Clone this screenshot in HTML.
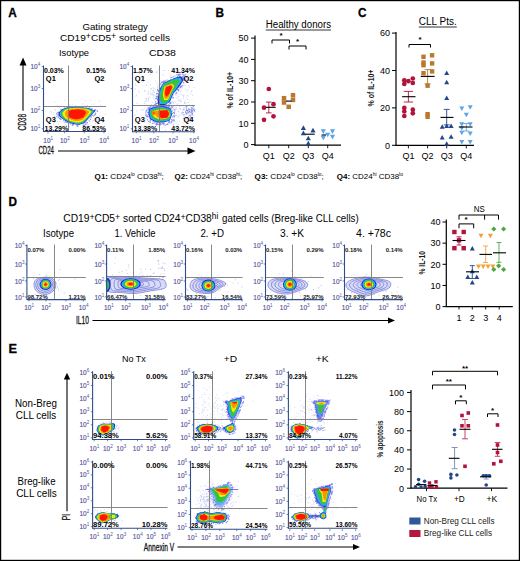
<!DOCTYPE html>
<html><head><meta charset="utf-8"><style>
html,body{margin:0;padding:0;background:#fff;width:520px;height:561px;overflow:hidden}
svg{display:block;font-family:"Liberation Sans",sans-serif}
</style></head><body>
<svg width="520" height="561" viewBox="0 0 520 561">
<defs><filter id="bl" x="-20%" y="-20%" width="140%" height="140%"><feGaussianBlur stdDeviation="0.55"/></filter></defs>
<rect width="520" height="561" fill="#fff"/>
<rect x="0.6" y="0.6" width="518.8" height="559.8" fill="none" stroke="#000" stroke-width="1.2"/>
<text x="8.20" y="16.50" font-size="12.3" fill="#000" font-weight="bold" textLength="8.50" lengthAdjust="spacingAndGlyphs" stroke="#000" stroke-width="0.3">A</text>
<text x="215.50" y="16.50" font-size="12.3" fill="#000" font-weight="bold" textLength="8.50" lengthAdjust="spacingAndGlyphs" stroke="#000" stroke-width="0.3">B</text>
<text x="358.00" y="16.50" font-size="12.3" fill="#000" font-weight="bold" textLength="8.50" lengthAdjust="spacingAndGlyphs" stroke="#000" stroke-width="0.3">C</text>
<text x="8.50" y="206.20" font-size="12.3" fill="#000" font-weight="bold" textLength="8.50" lengthAdjust="spacingAndGlyphs" stroke="#000" stroke-width="0.3">D</text>
<text x="8.50" y="352.60" font-size="12.3" fill="#000" font-weight="bold" textLength="8.50" lengthAdjust="spacingAndGlyphs" stroke="#000" stroke-width="0.3">E</text>
<text x="115.20" y="29.50" font-size="9.8" fill="#000" text-anchor="middle" textLength="65.50" lengthAdjust="spacingAndGlyphs">Gating strategy</text>
<text x="115" y="41.2" font-size="9.8" text-anchor="middle" textLength="110" lengthAdjust="spacingAndGlyphs">CD19<tspan font-size="8.6" dy="-2.6">+</tspan><tspan dy="2.6">CD5</tspan><tspan font-size="8.6" dy="-2.6">+</tspan><tspan dy="2.6"> sorted cells</tspan></text>
<text x="59.00" y="56.40" font-size="9.8" fill="#000" textLength="30.00" lengthAdjust="spacingAndGlyphs">Isotype</text>
<text x="149.00" y="56.40" font-size="9.8" fill="#000" textLength="27.00" lengthAdjust="spacingAndGlyphs">CD38</text>
<text x="34.10" y="69.00" font-size="7" fill="#55559a" stroke="#55559a" stroke-width="0.15" text-anchor="middle" textLength="7.2" lengthAdjust="spacingAndGlyphs">10</text><text x="37.80" y="66.00" font-size="4.6" fill="#55559a">4</text>
<text x="34.10" y="91.00" font-size="7" fill="#55559a" stroke="#55559a" stroke-width="0.15" text-anchor="middle" textLength="7.2" lengthAdjust="spacingAndGlyphs">10</text><text x="37.80" y="88.00" font-size="4.6" fill="#55559a">3</text>
<text x="34.10" y="113.00" font-size="7" fill="#55559a" stroke="#55559a" stroke-width="0.15" text-anchor="middle" textLength="7.2" lengthAdjust="spacingAndGlyphs">10</text><text x="37.80" y="110.00" font-size="4.6" fill="#55559a">2</text>
<text x="34.10" y="131.30" font-size="7" fill="#55559a" stroke="#55559a" stroke-width="0.15" text-anchor="middle" textLength="7.2" lengthAdjust="spacingAndGlyphs">10</text><text x="37.80" y="128.30" font-size="4.6" fill="#55559a">1</text>
<text x="46.90" y="142.70" font-size="7" fill="#55559a" stroke="#55559a" stroke-width="0.15" text-anchor="middle" textLength="7.2" lengthAdjust="spacingAndGlyphs">10</text><text x="50.60" y="139.70" font-size="4.6" fill="#55559a">1</text>
<text x="63.60" y="142.70" font-size="7" fill="#55559a" stroke="#55559a" stroke-width="0.15" text-anchor="middle" textLength="7.2" lengthAdjust="spacingAndGlyphs">10</text><text x="67.30" y="139.70" font-size="4.6" fill="#55559a">2</text>
<text x="83.20" y="142.70" font-size="7" fill="#55559a" stroke="#55559a" stroke-width="0.15" text-anchor="middle" textLength="7.2" lengthAdjust="spacingAndGlyphs">10</text><text x="86.90" y="139.70" font-size="4.6" fill="#55559a">3</text>
<text x="102.90" y="142.70" font-size="7" fill="#55559a" stroke="#55559a" stroke-width="0.15" text-anchor="middle" textLength="7.2" lengthAdjust="spacingAndGlyphs">10</text><text x="106.60" y="139.70" font-size="4.6" fill="#55559a">4</text>
<path d="M41.7 66.5H43.5M41.7 88.5H43.5M41.7 110.5H43.5M41.7 128.8H43.5M48.0 131.5V133.3M64.7 131.5V133.3M84.3 131.5V133.3M104.0 131.5V133.3" stroke="#2e4d8c" stroke-width="0.7" fill="none"/>
<path d="M73.9 119.1h.9v.9h-.9zM74.3 114.1h.9v.9h-.9zM65.8 114.7h.9v.9h-.9zM90.3 118.5h.9v.9h-.9zM89.4 117.5h.9v.9h-.9zM81.7 117.1h.9v.9h-.9zM57.0 121.1h.9v.9h-.9zM83.1 119.0h.9v.9h-.9zM56.7 105.5h.9v.9h-.9zM66.3 113.2h.9v.9h-.9zM80.7 115.7h.9v.9h-.9zM83.3 112.1h.9v.9h-.9zM80.7 118.4h.9v.9h-.9zM69.1 126.3h.9v.9h-.9zM83.7 123.2h.9v.9h-.9zM69.6 111.6h.9v.9h-.9zM72.9 115.4h.9v.9h-.9zM84.6 117.5h.9v.9h-.9zM71.6 110.3h.9v.9h-.9zM70.8 123.3h.9v.9h-.9zM67.3 117.5h.9v.9h-.9zM82.1 107.1h.9v.9h-.9zM77.6 123.8h.9v.9h-.9zM52.8 114.1h.9v.9h-.9zM75.7 111.1h.9v.9h-.9zM83.0 115.6h.9v.9h-.9zM59.4 121.0h.9v.9h-.9zM85.0 121.7h.9v.9h-.9zM94.3 118.2h.9v.9h-.9zM78.4 108.2h.9v.9h-.9zM84.4 112.3h.9v.9h-.9zM71.6 108.4h.9v.9h-.9zM65.4 112.8h.9v.9h-.9zM92.5 103.8h.9v.9h-.9zM59.5 117.4h.9v.9h-.9zM94.3 119.5h.9v.9h-.9zM54.2 100.9h.9v.9h-.9zM81.3 111.6h.9v.9h-.9zM63.6 121.9h.9v.9h-.9zM90.2 116.9h.9v.9h-.9zM79.9 118.6h.9v.9h-.9zM96.1 119.7h.9v.9h-.9zM83.2 119.3h.9v.9h-.9zM58.2 123.7h.9v.9h-.9zM88.5 119.2h.9v.9h-.9zM53.3 112.2h.9v.9h-.9zM87.1 105.1h.9v.9h-.9zM74.8 122.1h.9v.9h-.9zM61.3 125.7h.9v.9h-.9zM83.6 115.1h.9v.9h-.9zM80.9 119.9h.9v.9h-.9zM78.4 122.9h.9v.9h-.9zM69.1 113.5h.9v.9h-.9zM89.5 116.2h.9v.9h-.9zM66.4 121.7h.9v.9h-.9zM94.6 113.3h.9v.9h-.9zM60.4 115.2h.9v.9h-.9zM75.2 114.2h.9v.9h-.9zM93.9 109.8h.9v.9h-.9zM92.1 108.4h.9v.9h-.9zM67.6 119.8h.9v.9h-.9zM90.5 121.2h.9v.9h-.9zM81.1 116.9h.9v.9h-.9zM78.8 119.5h.9v.9h-.9zM74.9 117.7h.9v.9h-.9zM83.9 116.0h.9v.9h-.9zM86.2 119.4h.9v.9h-.9zM101.1 117.9h.9v.9h-.9zM71.9 113.8h.9v.9h-.9zM76.8 121.5h.9v.9h-.9zM73.0 118.3h.9v.9h-.9zM99.0 100.6h.9v.9h-.9zM63.5 117.5h.9v.9h-.9zM81.8 117.4h.9v.9h-.9zM71.8 119.9h.9v.9h-.9zM80.4 112.9h.9v.9h-.9zM70.3 115.4h.9v.9h-.9zM74.3 115.6h.9v.9h-.9zM89.1 109.0h.9v.9h-.9zM76.2 121.7h.9v.9h-.9zM87.3 124.9h.9v.9h-.9zM56.6 113.9h.9v.9h-.9zM72.9 119.7h.9v.9h-.9zM90.1 99.9h.9v.9h-.9zM90.1 107.3h.9v.9h-.9zM85.2 107.0h.9v.9h-.9zM79.1 123.2h.9v.9h-.9zM75.2 117.1h.9v.9h-.9zM86.6 116.8h.9v.9h-.9zM75.9 125.2h.9v.9h-.9zM89.6 114.2h.9v.9h-.9zM88.0 114.4h.9v.9h-.9zM78.6 120.2h.9v.9h-.9zM79.7 119.8h.9v.9h-.9zM58.7 106.9h.9v.9h-.9zM84.4 110.2h.9v.9h-.9zM64.7 107.2h.9v.9h-.9zM92.2 120.5h.9v.9h-.9zM94.7 110.4h.9v.9h-.9zM77.0 109.2h.9v.9h-.9zM86.2 125.5h.9v.9h-.9zM66.3 125.4h.9v.9h-.9zM88.9 114.9h.9v.9h-.9zM53.3 124.4h.9v.9h-.9zM75.8 112.4h.9v.9h-.9zM81.8 118.5h.9v.9h-.9zM95.0 109.9h.9v.9h-.9zM90.6 124.9h.9v.9h-.9zM94.4 114.9h.9v.9h-.9zM68.1 122.1h.9v.9h-.9zM78.4 116.7h.9v.9h-.9zM94.1 114.4h.9v.9h-.9zM49.4 113.7h.9v.9h-.9zM54.8 120.9h.9v.9h-.9zM80.8 112.3h.9v.9h-.9zM76.9 121.0h.9v.9h-.9zM77.9 124.0h.9v.9h-.9zM76.3 122.2h.9v.9h-.9zM94.9 125.7h.9v.9h-.9zM68.9 121.3h.9v.9h-.9zM54.5 109.5h.9v.9h-.9zM53.4 122.4h.9v.9h-.9zM62.2 115.9h.9v.9h-.9zM74.7 115.8h.9v.9h-.9zM69.9 117.4h.9v.9h-.9zM98.5 116.3h.9v.9h-.9zM83.4 122.0h.9v.9h-.9zM74.6 108.4h.9v.9h-.9zM70.3 122.4h.9v.9h-.9zM57.2 112.4h.9v.9h-.9zM89.1 120.8h.9v.9h-.9zM77.1 120.8h.9v.9h-.9zM79.0 108.9h.9v.9h-.9zM58.2 112.2h.9v.9h-.9zM88.1 112.6h.9v.9h-.9zM66.2 111.4h.9v.9h-.9zM58.6 115.3h.9v.9h-.9zM62.8 118.2h.9v.9h-.9zM48.7 118.0h.9v.9h-.9zM69.3 104.3h.9v.9h-.9zM85.7 114.3h.9v.9h-.9zM50.2 110.7h.9v.9h-.9zM80.5 113.2h.9v.9h-.9zM86.4 120.5h.9v.9h-.9zM85.0 118.0h.9v.9h-.9zM93.0 120.0h.9v.9h-.9zM82.4 103.5h.9v.9h-.9zM87.8 123.9h.9v.9h-.9zM73.4 113.2h.9v.9h-.9zM100.3 105.5h.9v.9h-.9zM65.9 120.1h.9v.9h-.9zM99.6 115.3h.9v.9h-.9zM83.7 121.4h.9v.9h-.9zM66.1 115.5h.9v.9h-.9zM80.5 121.0h.9v.9h-.9zM76.6 114.8h.9v.9h-.9zM64.8 113.8h.9v.9h-.9zM87.7 116.6h.9v.9h-.9zM66.8 111.0h.9v.9h-.9zM84.6 100.4h.9v.9h-.9zM84.5 118.9h.9v.9h-.9zM97.2 118.6h.9v.9h-.9zM76.2 119.1h.9v.9h-.9zM53.7 122.2h.9v.9h-.9zM80.9 111.8h.9v.9h-.9zM92.9 126.9h.9v.9h-.9zM60.2 112.0h.9v.9h-.9zM80.5 117.1h.9v.9h-.9zM72.2 110.2h.9v.9h-.9zM102.4 122.2h.9v.9h-.9zM62.7 107.9h.9v.9h-.9zM97.4 121.9h.9v.9h-.9zM98.9 120.9h.9v.9h-.9zM66.5 117.6h.9v.9h-.9zM51.1 111.5h.9v.9h-.9zM76.3 119.1h.9v.9h-.9zM68.3 115.3h.9v.9h-.9zM82.5 118.3h.9v.9h-.9zM84.7 117.3h.9v.9h-.9zM73.1 120.7h.9v.9h-.9zM77.6 111.0h.9v.9h-.9zM69.5 116.0h.9v.9h-.9zM75.7 116.9h.9v.9h-.9zM77.0 117.1h.9v.9h-.9zM75.4 108.4h.9v.9h-.9zM82.1 122.3h.9v.9h-.9zM82.2 114.9h.9v.9h-.9zM82.4 110.2h.9v.9h-.9zM54.2 116.4h.9v.9h-.9zM65.8 120.4h.9v.9h-.9zM64.0 100.2h.9v.9h-.9zM64.5 125.5h.9v.9h-.9zM72.4 107.8h.9v.9h-.9zM67.8 119.1h.9v.9h-.9zM83.0 117.1h.9v.9h-.9zM94.8 120.2h.9v.9h-.9zM76.7 119.6h.9v.9h-.9zM96.9 121.8h.9v.9h-.9zM89.3 109.5h.9v.9h-.9zM75.2 120.4h.9v.9h-.9zM73.4 122.4h.9v.9h-.9zM84.2 121.4h.9v.9h-.9zM91.9 114.7h.9v.9h-.9zM72.9 121.2h.9v.9h-.9zM88.8 116.0h.9v.9h-.9zM63.0 117.1h.9v.9h-.9zM81.3 122.8h.9v.9h-.9zM86.4 116.1h.9v.9h-.9zM87.2 119.2h.9v.9h-.9zM79.5 116.3h.9v.9h-.9zM74.1 120.1h.9v.9h-.9zM64.3 112.2h.9v.9h-.9zM77.1 107.2h.9v.9h-.9zM71.8 103.9h.9v.9h-.9zM68.8 119.4h.9v.9h-.9zM83.8 115.7h.9v.9h-.9zM74.2 107.5h.9v.9h-.9zM98.9 119.1h.9v.9h-.9zM90.1 110.7h.9v.9h-.9zM74.8 105.1h.9v.9h-.9zM86.4 121.6h.9v.9h-.9zM54.2 115.7h.9v.9h-.9zM84.6 105.4h.9v.9h-.9zM55.1 109.6h.9v.9h-.9zM69.4 107.6h.9v.9h-.9zM77.4 117.5h.9v.9h-.9zM84.6 120.2h.9v.9h-.9zM95.0 123.0h.9v.9h-.9zM61.3 113.0h.9v.9h-.9zM64.3 109.5h.9v.9h-.9zM76.0 116.0h.9v.9h-.9zM82.9 106.5h.9v.9h-.9zM62.1 115.9h.9v.9h-.9zM74.6 114.1h.9v.9h-.9zM76.2 111.4h.9v.9h-.9zM85.4 118.1h.9v.9h-.9zM75.9 112.0h.9v.9h-.9zM74.9 99.7h.9v.9h-.9zM65.2 116.2h.9v.9h-.9zM59.0 117.2h.9v.9h-.9zM78.8 107.7h.9v.9h-.9zM74.0 114.1h.9v.9h-.9zM82.5 119.7h.9v.9h-.9zM76.6 110.9h.9v.9h-.9zM75.3 115.6h.9v.9h-.9zM85.8 117.8h.9v.9h-.9zM68.3 107.9h.9v.9h-.9zM72.5 111.6h.9v.9h-.9zM63.7 115.3h.9v.9h-.9zM71.1 116.6h.9v.9h-.9zM83.3 113.5h.9v.9h-.9zM104.9 114.1h.9v.9h-.9zM90.2 116.7h.9v.9h-.9z" fill="#5a6fd6" opacity="0.35"/>
<path d="M90.5 116.3h1v1h-1zM76.5 106.2h1v1h-1zM56.2 115.9h1v1h-1zM69.4 123.2h1v1h-1zM91.3 108.2h1v1h-1zM67.6 106.7h1v1h-1zM82.6 124.7h1v1h-1zM86.3 106.7h1v1h-1zM68.1 106.7h1v1h-1zM97.1 111.1h1v1h-1zM64.2 107.6h1v1h-1zM58.7 111.5h1v1h-1zM72.5 125.0h1v1h-1zM96.9 110.9h1v1h-1zM60.7 108.9h1v1h-1zM93.2 115.6h1v1h-1zM69.0 106.1h1v1h-1zM84.1 124.9h1v1h-1zM65.4 121.5h1v1h-1zM58.6 113.9h1v1h-1zM95.2 112.5h1v1h-1zM96.6 110.0h1v1h-1zM58.2 115.5h1v1h-1zM71.7 124.8h1v1h-1zM95.1 109.5h1v1h-1zM88.9 107.3h1v1h-1zM64.4 121.4h1v1h-1zM66.5 107.0h1v1h-1zM67.2 107.4h1v1h-1zM57.8 111.8h1v1h-1zM61.1 109.6h1v1h-1zM95.1 113.4h1v1h-1zM92.5 115.0h1v1h-1zM67.0 121.9h1v1h-1zM56.6 112.5h1v1h-1zM63.0 120.2h1v1h-1zM73.1 124.1h1v1h-1zM83.0 124.6h1v1h-1zM59.8 118.6h1v1h-1zM64.4 108.3h1v1h-1zM76.4 106.8h1v1h-1zM95.0 113.8h1v1h-1zM91.3 108.1h1v1h-1zM77.5 106.5h1v1h-1zM82.8 107.4h1v1h-1zM86.9 121.9h1v1h-1zM77.6 106.8h1v1h-1zM86.8 122.6h1v1h-1zM76.7 125.6h1v1h-1zM94.5 109.1h1v1h-1zM90.3 108.7h1v1h-1zM77.2 124.8h1v1h-1zM84.6 124.3h1v1h-1zM56.2 113.1h1v1h-1zM60.1 119.0h1v1h-1zM57.9 116.7h1v1h-1zM65.6 107.9h1v1h-1zM85.3 123.3h1v1h-1zM96.6 110.2h1v1h-1zM85.4 123.5h1v1h-1zM58.9 118.0h1v1h-1zM60.6 110.0h1v1h-1zM57.4 114.3h1v1h-1zM56.3 115.9h1v1h-1zM60.7 118.9h1v1h-1zM85.4 122.1h1v1h-1zM72.0 124.1h1v1h-1zM85.6 123.2h1v1h-1zM62.6 108.9h1v1h-1zM60.6 110.0h1v1h-1zM72.4 106.4h1v1h-1zM94.2 114.6h1v1h-1zM88.6 120.3h1v1h-1zM76.7 126.0h1v1h-1zM57.7 117.0h1v1h-1zM60.3 117.6h1v1h-1zM90.9 116.5h1v1h-1zM71.0 106.9h1v1h-1zM56.7 114.4h1v1h-1zM65.5 121.1h1v1h-1zM90.1 118.9h1v1h-1zM60.4 108.7h1v1h-1zM65.9 121.8h1v1h-1zM84.2 124.3h1v1h-1zM76.8 106.9h1v1h-1zM70.3 123.6h1v1h-1zM77.4 126.0h1v1h-1zM58.2 111.9h1v1h-1zM88.1 107.8h1v1h-1zM83.0 125.1h1v1h-1z" fill="#2a3ad8" opacity="0.55"/>
<g filter="url(#bl)"><path d="M58.70 112.50C59.00 111.83 59.90 111.43 60.50 110.89C61.10 110.35 61.62 109.68 62.30 109.28C62.97 108.89 63.79 108.75 64.56 108.52C65.32 108.28 66.11 108.08 66.88 107.86C67.65 107.64 68.41 107.32 69.20 107.20C69.99 107.08 70.81 107.15 71.61 107.12C72.42 107.10 73.22 107.07 74.03 107.05C74.83 107.02 75.63 107.00 76.44 106.97C77.24 106.95 78.05 106.86 78.85 106.91C79.65 106.95 80.44 107.12 81.24 107.23C82.04 107.33 82.84 107.44 83.63 107.55C84.43 107.65 85.23 107.76 86.02 107.87C86.82 107.98 87.64 108.00 88.42 108.19C89.19 108.37 89.93 108.72 90.69 108.99C91.45 109.25 92.22 109.52 92.96 109.80C93.71 110.07 95.05 110.17 95.18 110.63C95.30 111.09 94.20 111.91 93.71 112.55C93.22 113.19 92.77 113.85 92.24 114.46C91.72 115.07 91.12 115.61 90.56 116.19C90.00 116.76 89.43 117.33 88.87 117.92C88.32 118.50 87.78 119.10 87.24 119.69C86.70 120.29 86.16 120.88 85.62 121.48C85.08 122.08 84.64 122.84 84.00 123.27C83.36 123.70 82.55 123.83 81.79 124.06C81.03 124.29 80.23 124.50 79.44 124.63C78.66 124.75 77.88 124.87 77.10 124.80C76.32 124.74 75.54 124.42 74.76 124.22C73.98 124.03 73.19 123.84 72.41 123.65C71.63 123.45 70.83 123.32 70.08 123.04C69.33 122.76 68.64 122.32 67.92 121.96C67.20 121.60 66.47 121.26 65.76 120.88C65.06 120.50 64.36 120.11 63.69 119.67C63.02 119.22 62.41 118.70 61.76 118.21C61.12 117.73 60.35 117.31 59.84 116.76C59.33 116.21 58.89 115.62 58.70 114.91C58.51 114.20 58.40 113.17 58.70 112.50Z" fill="#1f22d8"/><path d="M59.77 112.53C60.05 111.89 60.88 111.49 61.43 110.97C61.98 110.45 62.45 109.79 63.09 109.41C63.72 109.04 64.51 108.93 65.24 108.71C65.96 108.49 66.71 108.30 67.44 108.10C68.18 107.90 68.90 107.61 69.64 107.50C70.39 107.38 71.17 107.44 71.93 107.41C72.69 107.39 73.45 107.36 74.21 107.33C74.98 107.30 75.74 107.27 76.50 107.25C77.26 107.22 78.03 107.14 78.78 107.18C79.54 107.22 80.29 107.39 81.05 107.49C81.81 107.59 82.56 107.69 83.32 107.79C84.07 107.90 84.83 108.00 85.58 108.10C86.34 108.20 87.11 108.23 87.85 108.41C88.59 108.58 89.30 108.88 90.01 109.14C90.72 109.40 91.42 109.69 92.11 109.97C92.80 110.25 94.01 110.37 94.14 110.82C94.26 111.27 93.29 112.05 92.84 112.66C92.40 113.27 91.95 113.90 91.46 114.47C90.96 115.05 90.41 115.58 89.88 116.13C89.35 116.68 88.82 117.23 88.30 117.78C87.78 118.34 87.28 118.91 86.76 119.46C86.24 120.01 85.71 120.55 85.19 121.09C84.67 121.64 84.23 122.33 83.62 122.73C83.01 123.12 82.24 123.25 81.52 123.47C80.80 123.68 80.03 123.88 79.29 124.00C78.55 124.12 77.81 124.24 77.07 124.18C76.33 124.13 75.59 123.85 74.85 123.67C74.11 123.50 73.37 123.31 72.63 123.12C71.89 122.94 71.13 122.81 70.42 122.55C69.71 122.29 69.05 121.88 68.36 121.55C67.68 121.22 66.98 120.91 66.31 120.55C65.64 120.20 64.96 119.85 64.34 119.42C63.72 119.00 63.16 118.47 62.58 118.00C61.99 117.53 61.28 117.11 60.81 116.58C60.34 116.05 59.93 115.48 59.76 114.81C59.59 114.13 59.50 113.17 59.77 112.53Z" fill="#1fb7f0"/><path d="M61.06 112.56C61.32 111.96 62.05 111.56 62.55 111.07C63.05 110.57 63.45 109.93 64.04 109.57C64.62 109.22 65.37 109.14 66.05 108.94C66.73 108.75 67.43 108.58 68.11 108.40C68.80 108.21 69.48 107.96 70.18 107.85C70.87 107.74 71.60 107.79 72.31 107.76C73.02 107.73 73.73 107.70 74.44 107.67C75.15 107.64 75.86 107.60 76.57 107.58C77.28 107.55 78.00 107.47 78.70 107.51C79.41 107.55 80.12 107.70 80.82 107.80C81.53 107.90 82.23 107.99 82.94 108.09C83.64 108.19 84.35 108.28 85.05 108.38C85.76 108.48 86.48 108.51 87.17 108.67C87.86 108.83 88.54 109.08 89.19 109.33C89.84 109.58 90.46 109.88 91.08 110.17C91.70 110.46 92.77 110.62 92.89 111.06C93.01 111.49 92.19 112.21 91.80 112.79C91.40 113.36 90.97 113.95 90.52 114.49C90.06 115.04 89.55 115.53 89.07 116.06C88.58 116.58 88.10 117.10 87.62 117.62C87.14 118.14 86.67 118.68 86.18 119.18C85.69 119.68 85.17 120.15 84.67 120.63C84.17 121.11 83.74 121.73 83.16 122.08C82.58 122.43 81.86 122.56 81.19 122.75C80.51 122.95 79.80 123.14 79.11 123.25C78.42 123.36 77.73 123.48 77.04 123.44C76.34 123.40 75.65 123.17 74.96 123.01C74.27 122.86 73.58 122.67 72.89 122.50C72.20 122.32 71.49 122.20 70.82 121.96C70.16 121.72 69.54 121.36 68.90 121.06C68.25 120.76 67.60 120.47 66.97 120.15C66.34 119.83 65.69 119.53 65.12 119.13C64.55 118.73 64.07 118.21 63.55 117.75C63.03 117.29 62.40 116.88 61.98 116.37C61.56 115.86 61.18 115.32 61.03 114.68C60.88 114.05 60.81 113.16 61.06 112.56Z" fill="#37c23a"/><path d="M62.57 112.60C62.79 112.04 63.43 111.65 63.86 111.18C64.28 110.70 64.62 110.08 65.14 109.76C65.67 109.43 66.37 109.38 67.00 109.21C67.63 109.04 68.27 108.90 68.90 108.74C69.53 108.58 70.15 108.36 70.79 108.26C71.44 108.17 72.10 108.20 72.75 108.16C73.40 108.13 74.05 108.09 74.70 108.06C75.36 108.03 76.01 107.99 76.66 107.96C77.31 107.93 77.96 107.86 78.61 107.89C79.26 107.93 79.91 108.07 80.55 108.16C81.20 108.25 81.85 108.35 82.49 108.44C83.14 108.53 83.79 108.62 84.43 108.71C85.08 108.80 85.74 108.84 86.37 108.98C87.01 109.12 87.65 109.32 88.24 109.55C88.82 109.79 89.35 110.11 89.88 110.40C90.41 110.70 91.32 110.90 91.43 111.33C91.55 111.75 90.92 112.41 90.58 112.94C90.25 113.47 89.83 114.01 89.42 114.51C89.01 115.02 88.55 115.49 88.12 115.97C87.69 116.46 87.25 116.95 86.82 117.43C86.38 117.91 85.97 118.41 85.51 118.85C85.05 119.30 84.55 119.68 84.07 120.09C83.59 120.50 83.17 121.02 82.63 121.32C82.08 121.63 81.43 121.75 80.81 121.92C80.19 122.10 79.54 122.26 78.90 122.37C78.27 122.48 77.63 122.60 77.00 122.58C76.36 122.55 75.73 122.38 75.09 122.24C74.46 122.11 73.82 121.93 73.19 121.77C72.56 121.61 71.91 121.49 71.30 121.28C70.68 121.06 70.11 120.75 69.51 120.48C68.92 120.22 68.31 119.97 67.73 119.69C67.15 119.41 66.53 119.16 66.03 118.78C65.52 118.41 65.13 117.90 64.69 117.45C64.24 117.01 63.71 116.61 63.35 116.12C62.99 115.64 62.65 115.13 62.52 114.54C62.39 113.95 62.35 113.16 62.57 112.60Z" fill="#f2ef10"/><path d="M65.15 112.67C65.32 112.18 65.78 111.80 66.09 111.37C66.41 110.94 66.62 110.35 67.04 110.07C67.46 109.79 68.09 109.80 68.63 109.68C69.16 109.55 69.70 109.44 70.24 109.33C70.78 109.21 71.31 109.05 71.86 108.97C72.40 108.89 72.96 108.89 73.51 108.85C74.06 108.81 74.61 108.77 75.16 108.73C75.71 108.69 76.26 108.65 76.81 108.62C77.36 108.58 77.91 108.52 78.46 108.55C79.00 108.58 79.55 108.71 80.09 108.79C80.64 108.87 81.19 108.95 81.73 109.03C82.28 109.11 82.83 109.19 83.37 109.27C83.92 109.35 84.47 109.39 85.01 109.50C85.55 109.62 86.13 109.72 86.60 109.93C87.07 110.15 87.44 110.50 87.83 110.81C88.22 111.12 88.83 111.39 88.94 111.79C89.05 112.19 88.73 112.74 88.49 113.20C88.26 113.66 87.87 114.11 87.54 114.55C87.20 114.99 86.84 115.40 86.49 115.83C86.15 116.25 85.81 116.69 85.45 117.10C85.09 117.51 84.76 117.95 84.35 118.29C83.95 118.64 83.47 118.87 83.03 119.16C82.59 119.45 82.19 119.80 81.71 120.03C81.23 120.25 80.68 120.35 80.15 120.49C79.62 120.63 79.08 120.77 78.54 120.87C78.00 120.97 77.46 121.08 76.93 121.09C76.39 121.10 75.85 121.02 75.32 120.92C74.78 120.83 74.25 120.65 73.71 120.52C73.18 120.38 72.63 120.27 72.11 120.10C71.59 119.93 71.09 119.70 70.58 119.50C70.07 119.30 69.54 119.11 69.04 118.89C68.55 118.68 67.98 118.52 67.58 118.20C67.18 117.87 66.95 117.36 66.64 116.95C66.32 116.53 65.95 116.14 65.69 115.70C65.43 115.25 65.15 114.80 65.06 114.29C64.97 113.79 64.98 113.15 65.15 112.67Z" fill="#ff9200"/><path d="M68.37 112.75C68.48 112.35 68.72 111.99 68.89 111.61C69.06 111.23 69.11 110.69 69.41 110.47C69.70 110.24 70.24 110.33 70.66 110.26C71.08 110.19 71.50 110.13 71.92 110.06C72.34 109.99 72.76 109.92 73.18 109.86C73.61 109.80 74.03 109.77 74.45 109.72C74.88 109.67 75.30 109.62 75.72 109.58C76.14 109.53 76.57 109.47 76.99 109.44C77.41 109.40 77.84 109.35 78.26 109.37C78.68 109.40 79.10 109.50 79.52 109.57C79.94 109.64 80.36 109.70 80.78 109.77C81.20 109.83 81.63 109.90 82.05 109.96C82.47 110.03 82.89 110.09 83.31 110.16C83.73 110.24 84.23 110.22 84.56 110.41C84.88 110.60 85.05 110.98 85.26 111.31C85.47 111.64 85.71 112.00 85.82 112.37C85.92 112.74 85.99 113.16 85.88 113.53C85.78 113.90 85.42 114.24 85.18 114.60C84.95 114.95 84.70 115.30 84.46 115.65C84.22 116.00 84.00 116.37 83.74 116.69C83.48 117.02 83.25 117.38 82.91 117.59C82.58 117.81 82.13 117.86 81.74 118.00C81.35 118.13 80.97 118.29 80.57 118.40C80.16 118.52 79.75 118.61 79.33 118.71C78.92 118.81 78.50 118.90 78.09 118.99C77.67 119.08 77.26 119.19 76.84 119.24C76.43 119.28 76.01 119.32 75.60 119.27C75.18 119.22 74.77 119.06 74.36 118.95C73.95 118.85 73.53 118.75 73.12 118.63C72.71 118.52 72.31 118.39 71.90 118.27C71.50 118.14 71.08 118.03 70.68 117.90C70.29 117.76 69.80 117.73 69.53 117.46C69.26 117.20 69.22 116.70 69.07 116.31C68.92 115.93 68.76 115.55 68.62 115.17C68.48 114.78 68.28 114.38 68.24 113.98C68.20 113.58 68.27 113.14 68.37 112.75Z" fill="#ff1800"/></g>
<line x1="68.50" y1="65.50" x2="68.50" y2="131.50" stroke="#7a7a7a" stroke-width="0.9"/>
<line x1="43.50" y1="106.50" x2="106.00" y2="106.50" stroke="#7a7a7a" stroke-width="0.9"/>
<line x1="43.50" y1="65.50" x2="43.50" y2="132.00" stroke="#2e4d8c" stroke-width="1.1"/>
<line x1="43.50" y1="131.50" x2="106.00" y2="131.50" stroke="#2e4d8c" stroke-width="1.1"/>
<text x="44.00" y="72.60" font-size="7" fill="#000" font-weight="bold">0.03%</text>
<text x="106.00" y="72.60" font-size="7" fill="#000" text-anchor="end" font-weight="bold">0.15%</text>
<text x="45.80" y="81.40" font-size="7.5" fill="#000" font-weight="bold">Q1</text>
<text x="104.50" y="81.40" font-size="7.5" fill="#000" text-anchor="end" font-weight="bold">Q2</text>
<text x="45.80" y="121.80" font-size="7.5" fill="#000" font-weight="bold">Q3</text>
<text x="104.50" y="121.80" font-size="7.5" fill="#000" text-anchor="end" font-weight="bold">Q4</text>
<text x="44.50" y="130.60" font-size="7" fill="#000" font-weight="bold">13.29%</text>
<text x="106.00" y="130.60" font-size="7" fill="#000" text-anchor="end" font-weight="bold">86.53%</text>
<text x="123.10" y="69.00" font-size="7" fill="#55559a" stroke="#55559a" stroke-width="0.15" text-anchor="middle" textLength="7.2" lengthAdjust="spacingAndGlyphs">10</text><text x="126.80" y="66.00" font-size="4.6" fill="#55559a">4</text>
<text x="123.10" y="91.00" font-size="7" fill="#55559a" stroke="#55559a" stroke-width="0.15" text-anchor="middle" textLength="7.2" lengthAdjust="spacingAndGlyphs">10</text><text x="126.80" y="88.00" font-size="4.6" fill="#55559a">3</text>
<text x="123.10" y="113.00" font-size="7" fill="#55559a" stroke="#55559a" stroke-width="0.15" text-anchor="middle" textLength="7.2" lengthAdjust="spacingAndGlyphs">10</text><text x="126.80" y="110.00" font-size="4.6" fill="#55559a">2</text>
<text x="123.10" y="131.30" font-size="7" fill="#55559a" stroke="#55559a" stroke-width="0.15" text-anchor="middle" textLength="7.2" lengthAdjust="spacingAndGlyphs">10</text><text x="126.80" y="128.30" font-size="4.6" fill="#55559a">1</text>
<text x="135.20" y="142.70" font-size="7" fill="#55559a" stroke="#55559a" stroke-width="0.15" text-anchor="middle" textLength="7.2" lengthAdjust="spacingAndGlyphs">10</text><text x="138.90" y="139.70" font-size="4.6" fill="#55559a">1</text>
<text x="152.70" y="142.70" font-size="7" fill="#55559a" stroke="#55559a" stroke-width="0.15" text-anchor="middle" textLength="7.2" lengthAdjust="spacingAndGlyphs">10</text><text x="156.40" y="139.70" font-size="4.6" fill="#55559a">2</text>
<text x="171.90" y="142.70" font-size="7" fill="#55559a" stroke="#55559a" stroke-width="0.15" text-anchor="middle" textLength="7.2" lengthAdjust="spacingAndGlyphs">10</text><text x="175.60" y="139.70" font-size="4.6" fill="#55559a">3</text>
<text x="192.70" y="142.70" font-size="7" fill="#55559a" stroke="#55559a" stroke-width="0.15" text-anchor="middle" textLength="7.2" lengthAdjust="spacingAndGlyphs">10</text><text x="196.40" y="139.70" font-size="4.6" fill="#55559a">4</text>
<path d="M130.7 66.5H132.5M130.7 88.5H132.5M130.7 110.5H132.5M130.7 128.8H132.5M136.3 131.5V133.3M153.8 131.5V133.3M173.0 131.5V133.3M193.8 131.5V133.3" stroke="#2e4d8c" stroke-width="0.7" fill="none"/>
<path d="M184.5 107.0h.9v.9h-.9zM172.8 102.0h.9v.9h-.9zM172.7 80.5h.9v.9h-.9zM180.2 91.5h.9v.9h-.9zM180.8 101.4h.9v.9h-.9zM183.0 97.8h.9v.9h-.9zM158.7 103.9h.9v.9h-.9zM158.2 91.3h.9v.9h-.9zM166.6 102.3h.9v.9h-.9zM189.3 100.7h.9v.9h-.9zM192.5 117.0h.9v.9h-.9zM167.1 102.2h.9v.9h-.9zM162.7 88.3h.9v.9h-.9zM163.9 89.7h.9v.9h-.9zM191.2 108.6h.9v.9h-.9zM157.9 69.4h.9v.9h-.9zM164.1 93.3h.9v.9h-.9zM147.6 81.8h.9v.9h-.9zM164.5 97.6h.9v.9h-.9zM188.1 102.1h.9v.9h-.9zM167.7 94.1h.9v.9h-.9zM155.3 124.0h.9v.9h-.9zM181.0 127.5h.9v.9h-.9zM159.4 100.5h.9v.9h-.9zM150.9 115.5h.9v.9h-.9zM142.7 109.0h.9v.9h-.9zM182.5 122.6h.9v.9h-.9zM150.0 117.4h.9v.9h-.9zM153.6 87.9h.9v.9h-.9zM143.8 118.5h.9v.9h-.9zM191.4 90.5h.9v.9h-.9zM152.8 94.6h.9v.9h-.9zM156.3 71.3h.9v.9h-.9zM154.2 119.0h.9v.9h-.9zM153.9 91.8h.9v.9h-.9zM134.8 114.5h.9v.9h-.9zM147.6 117.0h.9v.9h-.9zM137.7 79.7h.9v.9h-.9zM169.6 87.8h.9v.9h-.9zM177.5 100.1h.9v.9h-.9zM146.2 110.0h.9v.9h-.9zM178.5 69.4h.9v.9h-.9zM194.2 108.0h.9v.9h-.9zM177.2 70.2h.9v.9h-.9zM153.5 94.4h.9v.9h-.9zM182.2 76.6h.9v.9h-.9zM150.9 67.5h.9v.9h-.9zM161.1 105.5h.9v.9h-.9zM138.0 90.5h.9v.9h-.9zM173.2 125.4h.9v.9h-.9zM175.6 95.1h.9v.9h-.9zM146.2 85.0h.9v.9h-.9zM154.4 102.4h.9v.9h-.9zM164.2 126.7h.9v.9h-.9zM169.6 82.9h.9v.9h-.9zM189.7 115.2h.9v.9h-.9zM166.6 88.5h.9v.9h-.9zM135.1 83.6h.9v.9h-.9zM179.6 87.2h.9v.9h-.9zM143.9 103.1h.9v.9h-.9zM168.9 109.7h.9v.9h-.9zM175.5 122.5h.9v.9h-.9zM151.6 115.7h.9v.9h-.9zM149.2 111.1h.9v.9h-.9zM167.9 103.9h.9v.9h-.9zM180.5 99.7h.9v.9h-.9zM182.8 114.0h.9v.9h-.9zM167.2 90.9h.9v.9h-.9zM152.9 91.6h.9v.9h-.9zM161.8 99.6h.9v.9h-.9zM177.3 86.2h.9v.9h-.9zM153.6 94.9h.9v.9h-.9zM168.1 83.4h.9v.9h-.9zM190.8 91.0h.9v.9h-.9zM164.9 104.4h.9v.9h-.9zM168.1 109.6h.9v.9h-.9zM169.5 102.6h.9v.9h-.9zM134.7 88.6h.9v.9h-.9zM169.9 96.9h.9v.9h-.9zM151.9 90.7h.9v.9h-.9zM164.1 120.6h.9v.9h-.9zM139.6 69.0h.9v.9h-.9zM157.3 86.0h.9v.9h-.9zM156.1 103.0h.9v.9h-.9zM165.8 104.4h.9v.9h-.9zM164.5 114.9h.9v.9h-.9zM193.4 80.1h.9v.9h-.9zM167.6 95.8h.9v.9h-.9zM170.7 75.5h.9v.9h-.9zM173.4 103.1h.9v.9h-.9zM159.0 87.9h.9v.9h-.9zM142.4 85.4h.9v.9h-.9zM176.2 108.7h.9v.9h-.9zM164.6 108.2h.9v.9h-.9zM155.3 101.1h.9v.9h-.9zM165.6 108.9h.9v.9h-.9zM163.9 97.7h.9v.9h-.9zM162.8 89.7h.9v.9h-.9zM187.4 75.1h.9v.9h-.9zM176.1 113.4h.9v.9h-.9zM177.3 81.2h.9v.9h-.9zM151.1 104.3h.9v.9h-.9zM173.1 83.7h.9v.9h-.9zM158.8 93.6h.9v.9h-.9zM166.0 105.4h.9v.9h-.9zM160.4 80.2h.9v.9h-.9zM184.9 125.5h.9v.9h-.9zM163.3 116.4h.9v.9h-.9zM172.1 110.6h.9v.9h-.9zM172.7 87.8h.9v.9h-.9zM174.2 116.2h.9v.9h-.9zM159.6 90.4h.9v.9h-.9zM152.0 101.9h.9v.9h-.9zM164.5 110.7h.9v.9h-.9zM175.8 107.6h.9v.9h-.9zM169.4 96.7h.9v.9h-.9zM163.0 86.8h.9v.9h-.9zM167.9 99.6h.9v.9h-.9zM170.1 86.3h.9v.9h-.9zM165.6 100.8h.9v.9h-.9zM174.7 83.0h.9v.9h-.9zM171.7 115.7h.9v.9h-.9zM174.6 94.1h.9v.9h-.9zM157.1 96.2h.9v.9h-.9zM176.7 124.8h.9v.9h-.9zM162.5 89.7h.9v.9h-.9zM171.0 103.3h.9v.9h-.9zM150.5 88.2h.9v.9h-.9zM163.4 110.7h.9v.9h-.9zM145.9 83.7h.9v.9h-.9zM173.0 80.4h.9v.9h-.9zM166.7 105.6h.9v.9h-.9zM163.2 83.7h.9v.9h-.9zM164.0 94.7h.9v.9h-.9zM170.4 86.6h.9v.9h-.9zM182.5 73.2h.9v.9h-.9zM162.2 100.1h.9v.9h-.9zM180.4 90.3h.9v.9h-.9zM173.7 90.9h.9v.9h-.9zM176.8 127.8h.9v.9h-.9zM158.6 107.1h.9v.9h-.9zM150.2 115.6h.9v.9h-.9zM184.4 100.6h.9v.9h-.9zM146.8 106.4h.9v.9h-.9zM183.4 117.4h.9v.9h-.9zM178.0 70.7h.9v.9h-.9zM154.1 122.8h.9v.9h-.9zM145.4 118.1h.9v.9h-.9zM182.9 94.7h.9v.9h-.9zM145.4 98.4h.9v.9h-.9zM161.8 99.2h.9v.9h-.9zM176.1 97.7h.9v.9h-.9zM168.1 106.8h.9v.9h-.9zM164.9 129.5h.9v.9h-.9zM172.1 101.4h.9v.9h-.9zM161.7 90.0h.9v.9h-.9zM186.5 102.4h.9v.9h-.9zM147.7 91.0h.9v.9h-.9zM162.8 92.9h.9v.9h-.9zM182.4 81.4h.9v.9h-.9zM172.9 102.3h.9v.9h-.9zM146.2 100.8h.9v.9h-.9zM163.5 108.0h.9v.9h-.9zM157.8 104.9h.9v.9h-.9zM138.4 82.7h.9v.9h-.9zM177.6 116.7h.9v.9h-.9zM164.8 90.4h.9v.9h-.9zM182.3 66.5h.9v.9h-.9zM152.2 110.8h.9v.9h-.9zM175.4 83.5h.9v.9h-.9zM134.8 123.2h.9v.9h-.9zM167.4 85.7h.9v.9h-.9zM165.9 114.4h.9v.9h-.9zM176.8 66.7h.9v.9h-.9zM177.3 71.5h.9v.9h-.9zM183.2 106.4h.9v.9h-.9zM165.1 116.8h.9v.9h-.9zM154.8 88.7h.9v.9h-.9zM159.1 98.8h.9v.9h-.9zM147.7 107.7h.9v.9h-.9zM173.7 101.1h.9v.9h-.9zM192.2 94.8h.9v.9h-.9zM185.9 91.3h.9v.9h-.9zM177.1 69.0h.9v.9h-.9zM168.2 97.2h.9v.9h-.9zM157.1 90.2h.9v.9h-.9zM159.4 88.5h.9v.9h-.9zM156.2 91.6h.9v.9h-.9zM148.1 97.8h.9v.9h-.9zM177.6 96.0h.9v.9h-.9zM157.1 121.7h.9v.9h-.9zM180.6 114.7h.9v.9h-.9zM183.5 94.8h.9v.9h-.9zM162.9 117.8h.9v.9h-.9zM156.1 98.1h.9v.9h-.9zM171.0 106.0h.9v.9h-.9zM160.6 115.7h.9v.9h-.9zM162.2 111.6h.9v.9h-.9zM182.1 110.5h.9v.9h-.9zM176.7 81.4h.9v.9h-.9zM144.0 90.1h.9v.9h-.9zM172.6 124.0h.9v.9h-.9zM145.4 104.9h.9v.9h-.9zM151.3 88.3h.9v.9h-.9zM160.6 111.1h.9v.9h-.9zM168.4 118.9h.9v.9h-.9zM149.2 114.2h.9v.9h-.9zM179.9 101.1h.9v.9h-.9zM172.6 91.0h.9v.9h-.9zM147.6 93.5h.9v.9h-.9zM157.2 126.4h.9v.9h-.9zM168.2 105.0h.9v.9h-.9zM176.9 87.5h.9v.9h-.9zM179.7 106.0h.9v.9h-.9zM140.7 109.6h.9v.9h-.9zM173.8 107.2h.9v.9h-.9zM190.4 93.4h.9v.9h-.9zM173.2 112.0h.9v.9h-.9zM150.6 119.2h.9v.9h-.9zM141.8 79.2h.9v.9h-.9zM173.4 82.6h.9v.9h-.9zM163.1 73.7h.9v.9h-.9zM166.1 81.9h.9v.9h-.9zM170.5 75.5h.9v.9h-.9zM172.2 95.7h.9v.9h-.9zM166.0 98.9h.9v.9h-.9zM167.1 78.9h.9v.9h-.9zM150.0 92.7h.9v.9h-.9zM171.8 68.2h.9v.9h-.9zM152.8 90.2h.9v.9h-.9zM148.1 105.2h.9v.9h-.9zM162.8 86.9h.9v.9h-.9zM149.2 112.9h.9v.9h-.9zM154.4 109.4h.9v.9h-.9zM172.2 69.7h.9v.9h-.9zM147.7 100.0h.9v.9h-.9zM170.5 112.5h.9v.9h-.9zM177.8 116.5h.9v.9h-.9zM159.0 96.6h.9v.9h-.9zM177.4 93.2h.9v.9h-.9zM181.9 74.6h.9v.9h-.9zM175.5 97.2h.9v.9h-.9zM133.5 115.7h.9v.9h-.9zM170.0 100.3h.9v.9h-.9zM147.8 92.6h.9v.9h-.9zM189.2 86.8h.9v.9h-.9zM145.8 97.9h.9v.9h-.9zM158.7 85.4h.9v.9h-.9zM151.5 116.8h.9v.9h-.9zM156.3 82.5h.9v.9h-.9zM177.6 109.0h.9v.9h-.9zM148.3 112.0h.9v.9h-.9zM135.6 85.2h.9v.9h-.9zM183.0 95.9h.9v.9h-.9zM144.2 108.2h.9v.9h-.9zM179.7 99.6h.9v.9h-.9zM136.1 94.5h.9v.9h-.9zM171.7 112.3h.9v.9h-.9zM157.3 99.4h.9v.9h-.9zM184.3 84.9h.9v.9h-.9zM177.8 89.2h.9v.9h-.9zM172.3 111.0h.9v.9h-.9zM146.1 98.6h.9v.9h-.9zM168.9 109.4h.9v.9h-.9zM150.1 84.1h.9v.9h-.9zM161.9 96.4h.9v.9h-.9zM141.1 114.9h.9v.9h-.9zM156.4 123.0h.9v.9h-.9zM178.6 100.3h.9v.9h-.9zM176.6 82.2h.9v.9h-.9zM159.8 90.8h.9v.9h-.9zM144.7 100.3h.9v.9h-.9zM162.7 123.0h.9v.9h-.9zM150.3 92.6h.9v.9h-.9zM171.8 106.5h.9v.9h-.9zM165.5 92.4h.9v.9h-.9zM172.9 105.8h.9v.9h-.9zM135.5 95.8h.9v.9h-.9zM143.0 81.1h.9v.9h-.9zM167.3 101.0h.9v.9h-.9zM166.8 86.0h.9v.9h-.9zM161.8 85.4h.9v.9h-.9zM171.1 111.0h.9v.9h-.9zM193.1 120.3h.9v.9h-.9zM152.1 92.7h.9v.9h-.9zM150.0 104.9h.9v.9h-.9zM144.3 108.2h.9v.9h-.9zM165.0 104.8h.9v.9h-.9zM193.5 86.8h.9v.9h-.9zM170.5 87.5h.9v.9h-.9zM165.7 115.9h.9v.9h-.9zM162.8 88.9h.9v.9h-.9zM153.1 130.4h.9v.9h-.9zM136.7 102.8h.9v.9h-.9zM165.4 109.9h.9v.9h-.9zM158.5 108.0h.9v.9h-.9zM178.0 97.6h.9v.9h-.9zM157.7 97.0h.9v.9h-.9zM149.6 96.7h.9v.9h-.9zM160.2 103.4h.9v.9h-.9zM186.4 120.9h.9v.9h-.9zM157.9 109.6h.9v.9h-.9zM169.7 112.2h.9v.9h-.9zM165.3 104.3h.9v.9h-.9zM157.5 87.4h.9v.9h-.9zM179.0 120.8h.9v.9h-.9zM175.6 107.0h.9v.9h-.9zM169.3 92.8h.9v.9h-.9zM136.5 110.6h.9v.9h-.9zM168.2 91.1h.9v.9h-.9zM149.6 120.4h.9v.9h-.9zM136.1 128.2h.9v.9h-.9zM153.5 99.7h.9v.9h-.9zM156.9 102.5h.9v.9h-.9zM161.6 88.0h.9v.9h-.9zM182.2 87.4h.9v.9h-.9zM156.9 108.9h.9v.9h-.9zM156.4 93.0h.9v.9h-.9zM170.7 94.1h.9v.9h-.9zM145.1 98.4h.9v.9h-.9zM161.5 127.3h.9v.9h-.9zM147.4 115.5h.9v.9h-.9zM152.4 94.3h.9v.9h-.9zM159.8 104.3h.9v.9h-.9zM178.8 128.0h.9v.9h-.9zM154.8 121.3h.9v.9h-.9zM180.9 113.0h.9v.9h-.9zM152.9 114.4h.9v.9h-.9zM163.3 105.7h.9v.9h-.9zM160.7 110.6h.9v.9h-.9zM182.8 118.1h.9v.9h-.9zM161.7 115.9h.9v.9h-.9zM188.2 85.0h.9v.9h-.9zM188.6 78.6h.9v.9h-.9zM173.7 109.5h.9v.9h-.9zM188.7 104.5h.9v.9h-.9zM157.3 87.3h.9v.9h-.9zM145.0 112.3h.9v.9h-.9zM161.2 88.5h.9v.9h-.9zM173.5 87.8h.9v.9h-.9zM158.0 92.7h.9v.9h-.9zM191.5 123.4h.9v.9h-.9zM162.5 74.9h.9v.9h-.9zM169.4 101.1h.9v.9h-.9zM170.6 109.0h.9v.9h-.9zM159.9 114.8h.9v.9h-.9zM178.4 103.4h.9v.9h-.9zM158.5 92.3h.9v.9h-.9zM176.1 82.4h.9v.9h-.9zM162.4 88.0h.9v.9h-.9zM142.7 109.7h.9v.9h-.9zM164.6 100.6h.9v.9h-.9zM179.0 76.1h.9v.9h-.9zM163.9 104.6h.9v.9h-.9zM178.3 82.6h.9v.9h-.9zM176.5 103.5h.9v.9h-.9zM186.7 118.2h.9v.9h-.9zM165.0 93.2h.9v.9h-.9zM159.5 85.0h.9v.9h-.9zM164.5 69.9h.9v.9h-.9zM163.6 106.8h.9v.9h-.9zM180.9 94.4h.9v.9h-.9zM187.2 89.6h.9v.9h-.9zM162.8 70.0h.9v.9h-.9zM152.8 87.3h.9v.9h-.9zM188.3 108.3h.9v.9h-.9zM147.7 108.3h.9v.9h-.9zM172.5 96.4h.9v.9h-.9zM165.4 95.2h.9v.9h-.9zM156.5 72.3h.9v.9h-.9zM163.6 120.1h.9v.9h-.9zM187.4 95.6h.9v.9h-.9zM153.3 96.7h.9v.9h-.9zM179.0 105.5h.9v.9h-.9zM155.9 105.7h.9v.9h-.9zM161.8 108.1h.9v.9h-.9zM158.6 77.0h.9v.9h-.9zM165.9 111.9h.9v.9h-.9zM147.7 98.3h.9v.9h-.9zM178.7 94.2h.9v.9h-.9zM177.9 116.0h.9v.9h-.9zM150.3 125.4h.9v.9h-.9zM139.2 91.9h.9v.9h-.9zM176.5 120.7h.9v.9h-.9zM150.5 89.7h.9v.9h-.9zM168.1 70.0h.9v.9h-.9zM174.9 108.7h.9v.9h-.9zM158.0 108.4h.9v.9h-.9zM177.1 104.8h.9v.9h-.9zM173.1 123.5h.9v.9h-.9zM157.6 102.5h.9v.9h-.9zM156.9 116.1h.9v.9h-.9zM158.7 107.4h.9v.9h-.9zM167.1 101.0h.9v.9h-.9zM191.6 98.7h.9v.9h-.9zM187.0 112.8h.9v.9h-.9zM185.4 97.4h.9v.9h-.9zM179.4 111.7h.9v.9h-.9zM155.5 104.2h.9v.9h-.9zM163.0 99.4h.9v.9h-.9zM185.1 88.9h.9v.9h-.9zM139.0 73.1h.9v.9h-.9zM158.0 90.0h.9v.9h-.9zM165.2 108.7h.9v.9h-.9zM192.2 104.8h.9v.9h-.9zM172.2 88.7h.9v.9h-.9zM174.0 121.0h.9v.9h-.9zM185.7 69.8h.9v.9h-.9zM178.7 124.4h.9v.9h-.9zM177.8 76.9h.9v.9h-.9zM160.3 109.1h.9v.9h-.9zM171.4 87.5h.9v.9h-.9zM151.3 114.9h.9v.9h-.9zM144.4 122.1h.9v.9h-.9zM165.3 104.6h.9v.9h-.9zM144.5 90.8h.9v.9h-.9zM175.6 77.3h.9v.9h-.9zM146.2 100.7h.9v.9h-.9zM172.4 111.3h.9v.9h-.9zM159.3 96.8h.9v.9h-.9zM161.4 91.2h.9v.9h-.9zM168.9 102.4h.9v.9h-.9zM155.3 103.9h.9v.9h-.9zM164.8 98.8h.9v.9h-.9zM182.0 73.5h.9v.9h-.9zM168.9 83.6h.9v.9h-.9zM160.1 123.0h.9v.9h-.9zM148.3 98.5h.9v.9h-.9zM155.9 114.6h.9v.9h-.9zM149.9 74.1h.9v.9h-.9zM172.9 94.6h.9v.9h-.9zM160.1 116.6h.9v.9h-.9zM151.4 94.3h.9v.9h-.9zM167.3 106.4h.9v.9h-.9zM157.1 115.9h.9v.9h-.9zM193.7 67.6h.9v.9h-.9zM186.6 94.7h.9v.9h-.9zM167.1 94.8h.9v.9h-.9zM155.2 80.4h.9v.9h-.9zM158.9 119.9h.9v.9h-.9zM182.5 94.6h.9v.9h-.9zM156.9 89.2h.9v.9h-.9zM146.6 127.7h.9v.9h-.9zM175.2 101.8h.9v.9h-.9zM157.5 84.3h.9v.9h-.9zM185.2 112.0h.9v.9h-.9zM150.4 115.2h.9v.9h-.9zM148.0 109.9h.9v.9h-.9zM150.2 93.6h.9v.9h-.9zM172.6 106.6h.9v.9h-.9zM180.5 87.1h.9v.9h-.9zM189.3 120.7h.9v.9h-.9zM164.8 107.1h.9v.9h-.9zM153.0 97.7h.9v.9h-.9zM144.7 101.4h.9v.9h-.9zM168.1 120.6h.9v.9h-.9z" fill="#5a6fd6" opacity="0.35"/>
<path d="M192.5 114.9h.9v.9h-.9zM186.3 109.9h.9v.9h-.9zM186.4 112.1h.9v.9h-.9zM178.7 114.7h.9v.9h-.9zM180.5 108.5h.9v.9h-.9zM188.1 108.5h.9v.9h-.9zM185.6 112.9h.9v.9h-.9zM194.2 109.4h.9v.9h-.9zM188.4 108.3h.9v.9h-.9zM188.3 109.3h.9v.9h-.9zM188.4 115.8h.9v.9h-.9zM189.0 115.1h.9v.9h-.9zM186.6 105.9h.9v.9h-.9zM193.3 106.5h.9v.9h-.9zM192.5 106.4h.9v.9h-.9zM192.1 118.2h.9v.9h-.9zM183.4 118.1h.9v.9h-.9zM184.0 102.5h.9v.9h-.9zM191.5 114.4h.9v.9h-.9zM187.0 98.9h.9v.9h-.9zM187.7 109.5h.9v.9h-.9zM186.2 109.6h.9v.9h-.9zM179.4 108.3h.9v.9h-.9zM186.3 107.6h.9v.9h-.9zM189.9 116.1h.9v.9h-.9zM191.5 105.4h.9v.9h-.9zM188.8 111.7h.9v.9h-.9zM190.5 116.8h.9v.9h-.9zM186.1 118.4h.9v.9h-.9zM186.0 112.9h.9v.9h-.9zM192.4 106.6h.9v.9h-.9zM184.6 102.6h.9v.9h-.9zM188.8 110.7h.9v.9h-.9zM186.4 113.4h.9v.9h-.9zM177.8 110.9h.9v.9h-.9zM188.4 109.7h.9v.9h-.9zM191.8 119.4h.9v.9h-.9zM185.9 106.5h.9v.9h-.9zM185.1 111.4h.9v.9h-.9zM190.8 106.9h.9v.9h-.9zM192.8 106.1h.9v.9h-.9zM192.0 113.1h.9v.9h-.9zM190.2 121.4h.9v.9h-.9zM186.7 110.2h.9v.9h-.9zM190.3 115.1h.9v.9h-.9zM181.6 112.3h.9v.9h-.9zM184.4 114.0h.9v.9h-.9zM187.5 111.9h.9v.9h-.9zM173.8 114.7h.9v.9h-.9zM190.7 111.8h.9v.9h-.9zM186.1 107.5h.9v.9h-.9zM187.1 116.8h.9v.9h-.9zM187.5 117.5h.9v.9h-.9z" fill="#5a6fd6" opacity="0.6"/>
<path d="M162.2 81.3h1v1h-1zM168.5 104.7h1v1h-1zM167.5 80.0h1v1h-1zM174.3 75.6h1v1h-1zM185.3 80.5h1v1h-1zM155.5 95.8h1v1h-1zM180.0 76.0h1v1h-1zM172.8 96.9h1v1h-1zM180.2 86.0h1v1h-1zM179.6 76.0h1v1h-1zM164.9 106.0h1v1h-1zM157.6 99.7h1v1h-1zM156.2 96.5h1v1h-1zM167.6 104.6h1v1h-1zM156.0 93.5h1v1h-1zM167.9 106.6h1v1h-1zM161.6 82.0h1v1h-1zM183.4 82.5h1v1h-1zM161.1 105.3h1v1h-1zM157.7 108.6h1v1h-1zM177.1 76.0h1v1h-1zM165.5 106.6h1v1h-1zM177.3 74.1h1v1h-1zM164.7 105.1h1v1h-1zM158.0 90.6h1v1h-1zM158.6 88.5h1v1h-1zM170.9 76.8h1v1h-1zM161.2 108.4h1v1h-1zM184.8 74.5h1v1h-1zM175.9 92.9h1v1h-1zM164.7 108.5h1v1h-1zM175.3 92.7h1v1h-1zM162.9 106.2h1v1h-1zM183.4 74.2h1v1h-1zM177.5 89.2h1v1h-1zM170.2 102.1h1v1h-1zM164.9 81.6h1v1h-1zM182.3 76.0h1v1h-1zM181.5 85.7h1v1h-1zM185.3 79.7h1v1h-1zM179.6 86.7h1v1h-1zM156.6 102.8h1v1h-1zM155.8 97.8h1v1h-1zM178.1 90.5h1v1h-1zM155.8 98.2h1v1h-1zM183.5 78.0h1v1h-1zM163.3 82.3h1v1h-1zM164.6 82.1h1v1h-1zM183.0 82.1h1v1h-1zM169.0 105.1h1v1h-1zM183.2 75.3h1v1h-1zM164.0 80.4h1v1h-1zM182.4 78.0h1v1h-1zM185.1 80.3h1v1h-1zM162.7 106.1h1v1h-1zM155.9 98.3h1v1h-1zM155.4 103.5h1v1h-1zM163.9 81.2h1v1h-1zM173.0 78.3h1v1h-1zM182.5 78.3h1v1h-1zM157.1 89.8h1v1h-1zM178.7 88.5h1v1h-1zM177.0 76.9h1v1h-1zM182.1 77.2h1v1h-1zM185.5 76.1h1v1h-1zM163.2 105.6h1v1h-1zM185.3 73.8h1v1h-1zM165.6 107.5h1v1h-1zM176.2 74.5h1v1h-1zM172.9 76.2h1v1h-1zM157.2 96.5h1v1h-1zM158.4 94.0h1v1h-1zM159.7 107.4h1v1h-1zM183.8 77.0h1v1h-1zM157.9 89.9h1v1h-1zM170.5 101.9h1v1h-1zM184.2 75.8h1v1h-1zM178.1 74.9h1v1h-1zM181.6 85.3h1v1h-1zM157.1 99.1h1v1h-1zM186.0 76.9h1v1h-1zM165.3 80.5h1v1h-1zM177.7 89.0h1v1h-1zM155.4 103.0h1v1h-1zM160.2 82.7h1v1h-1zM161.6 105.5h1v1h-1zM159.9 107.5h1v1h-1zM169.4 102.5h1v1h-1zM157.4 93.1h1v1h-1zM166.7 106.9h1v1h-1zM156.5 95.7h1v1h-1zM171.7 97.6h1v1h-1zM155.9 103.5h1v1h-1zM179.4 73.9h1v1h-1zM180.9 85.5h1v1h-1zM158.7 91.7h1v1h-1zM183.7 78.6h1v1h-1zM160.3 84.1h1v1h-1zM160.9 106.2h1v1h-1zM169.2 103.6h1v1h-1zM172.9 97.4h1v1h-1zM166.3 106.5h1v1h-1zM180.1 74.2h1v1h-1zM165.9 107.4h1v1h-1zM163.0 81.6h1v1h-1zM156.3 92.9h1v1h-1zM180.2 87.2h1v1h-1zM181.3 85.6h1v1h-1zM163.2 80.5h1v1h-1zM181.2 85.9h1v1h-1zM177.7 75.3h1v1h-1zM182.4 84.7h1v1h-1zM155.3 103.2h1v1h-1zM155.0 101.4h1v1h-1zM170.2 77.6h1v1h-1zM178.0 89.4h1v1h-1zM165.5 79.7h1v1h-1zM160.6 82.5h1v1h-1zM154.4 104.5h1v1h-1zM166.0 105.8h1v1h-1zM170.1 103.0h1v1h-1zM161.1 82.0h1v1h-1zM154.7 106.2h1v1h-1zM160.9 81.6h1v1h-1zM157.5 94.5h1v1h-1zM178.5 74.6h1v1h-1zM177.4 90.1h1v1h-1zM158.8 106.2h1v1h-1zM162.0 109.1h1v1h-1zM162.1 107.0h1v1h-1zM179.6 76.5h1v1h-1zM157.5 101.7h1v1h-1zM179.2 73.5h1v1h-1zM182.7 76.4h1v1h-1zM178.3 73.8h1v1h-1zM168.6 105.1h1v1h-1zM160.1 107.5h1v1h-1zM162.5 83.7h1v1h-1zM157.2 89.0h1v1h-1zM157.5 103.1h1v1h-1zM186.7 78.6h1v1h-1zM167.8 106.4h1v1h-1zM163.7 106.1h1v1h-1zM162.4 82.1h1v1h-1zM154.9 98.2h1v1h-1zM161.0 82.2h1v1h-1zM157.8 90.9h1v1h-1zM177.3 89.1h1v1h-1zM178.7 76.2h1v1h-1zM182.2 73.8h1v1h-1zM184.7 78.5h1v1h-1zM154.5 104.1h1v1h-1zM158.4 108.2h1v1h-1zM171.7 76.8h1v1h-1zM183.5 74.5h1v1h-1zM170.2 79.1h1v1h-1zM183.1 76.7h1v1h-1zM178.8 75.4h1v1h-1zM176.1 91.7h1v1h-1zM184.6 79.4h1v1h-1z" fill="#2a3ad8" opacity="0.55"/>
<path d="M162.9 123.5h1v1h-1zM160.7 123.7h1v1h-1zM160.1 124.6h1v1h-1zM170.6 107.9h1v1h-1zM145.5 111.5h1v1h-1zM149.8 121.2h1v1h-1zM149.1 108.7h1v1h-1zM149.4 106.5h1v1h-1zM152.1 107.2h1v1h-1zM157.5 122.4h1v1h-1zM174.4 109.3h1v1h-1zM174.0 112.3h1v1h-1zM171.1 120.7h1v1h-1zM148.4 108.8h1v1h-1zM169.6 122.7h1v1h-1zM147.1 119.3h1v1h-1zM145.1 113.7h1v1h-1zM157.5 124.0h1v1h-1zM172.7 108.5h1v1h-1zM148.8 108.3h1v1h-1zM147.2 116.0h1v1h-1zM174.0 115.8h1v1h-1zM159.7 104.0h1v1h-1zM156.3 124.0h1v1h-1zM168.6 121.3h1v1h-1zM166.6 124.1h1v1h-1zM171.1 122.2h1v1h-1zM145.3 115.0h1v1h-1zM173.6 115.5h1v1h-1zM147.7 116.0h1v1h-1zM152.0 105.6h1v1h-1zM149.1 107.7h1v1h-1zM162.9 105.9h1v1h-1zM163.9 122.7h1v1h-1zM149.7 108.4h1v1h-1zM168.7 121.1h1v1h-1zM167.0 123.9h1v1h-1zM146.6 116.5h1v1h-1zM168.8 105.9h1v1h-1zM147.0 111.8h1v1h-1zM164.0 105.8h1v1h-1zM153.5 104.4h1v1h-1zM147.0 119.5h1v1h-1zM147.5 112.0h1v1h-1zM146.4 109.7h1v1h-1zM168.6 106.5h1v1h-1zM170.6 107.2h1v1h-1zM150.2 119.8h1v1h-1zM148.6 108.8h1v1h-1zM159.5 123.9h1v1h-1zM167.5 106.4h1v1h-1zM148.1 120.9h1v1h-1zM171.3 110.4h1v1h-1zM163.6 122.7h1v1h-1zM174.3 110.5h1v1h-1zM171.1 121.0h1v1h-1zM156.5 106.0h1v1h-1zM151.9 122.9h1v1h-1zM172.3 119.6h1v1h-1zM152.4 123.1h1v1h-1zM170.8 106.4h1v1h-1zM170.9 121.6h1v1h-1zM172.0 106.6h1v1h-1zM173.9 119.4h1v1h-1zM169.0 122.1h1v1h-1zM152.5 105.7h1v1h-1zM172.5 113.6h1v1h-1zM172.7 119.2h1v1h-1zM154.5 122.1h1v1h-1zM162.6 105.9h1v1h-1zM145.9 116.1h1v1h-1zM158.1 105.6h1v1h-1zM166.8 123.3h1v1h-1zM169.4 107.5h1v1h-1zM173.0 115.3h1v1h-1zM168.3 122.0h1v1h-1zM156.0 123.2h1v1h-1zM160.4 122.7h1v1h-1zM160.6 123.4h1v1h-1zM159.3 105.6h1v1h-1zM163.5 122.8h1v1h-1zM153.3 121.4h1v1h-1zM174.0 113.0h1v1h-1zM164.6 124.8h1v1h-1zM149.8 108.2h1v1h-1zM147.5 107.7h1v1h-1zM158.4 124.2h1v1h-1zM159.9 123.6h1v1h-1zM166.5 124.1h1v1h-1zM149.5 121.9h1v1h-1zM162.6 103.8h1v1h-1zM171.1 119.1h1v1h-1zM173.3 112.1h1v1h-1zM167.6 123.7h1v1h-1zM171.2 120.4h1v1h-1zM155.4 123.6h1v1h-1zM150.5 106.1h1v1h-1zM172.6 120.6h1v1h-1zM145.7 110.5h1v1h-1zM156.1 122.6h1v1h-1zM173.6 117.2h1v1h-1zM156.1 123.0h1v1h-1zM149.4 108.5h1v1h-1zM146.6 109.2h1v1h-1zM161.9 123.2h1v1h-1zM168.0 121.8h1v1h-1zM156.8 105.6h1v1h-1zM171.8 119.6h1v1h-1zM163.3 124.3h1v1h-1zM148.3 107.1h1v1h-1zM165.6 124.2h1v1h-1zM156.0 124.4h1v1h-1zM150.4 106.8h1v1h-1zM146.7 114.9h1v1h-1zM165.9 104.3h1v1h-1zM172.1 116.4h1v1h-1zM173.1 115.5h1v1h-1zM149.2 107.3h1v1h-1zM157.5 124.0h1v1h-1zM172.8 120.4h1v1h-1zM169.2 121.0h1v1h-1zM149.7 121.8h1v1h-1zM173.6 119.7h1v1h-1zM149.4 119.7h1v1h-1zM162.6 122.8h1v1h-1zM168.9 105.8h1v1h-1zM153.4 106.0h1v1h-1zM171.8 113.0h1v1h-1zM147.9 114.1h1v1h-1zM156.3 123.1h1v1h-1zM157.2 123.7h1v1h-1zM159.5 106.1h1v1h-1zM168.0 106.7h1v1h-1zM165.9 104.8h1v1h-1zM175.4 115.1h1v1h-1zM167.7 106.4h1v1h-1zM152.5 120.9h1v1h-1zM145.9 113.7h1v1h-1zM155.5 123.4h1v1h-1zM150.6 106.5h1v1h-1z" fill="#2a3ad8" opacity="0.55"/>
<path d="M189.7 109.8h.9v.9h-.9zM190.6 113.7h.9v.9h-.9zM187.9 112.3h.9v.9h-.9zM192.6 109.8h.9v.9h-.9zM189.6 109.2h.9v.9h-.9zM191.1 110.1h.9v.9h-.9zM193.0 109.1h.9v.9h-.9zM186.1 108.7h.9v.9h-.9zM191.3 108.9h.9v.9h-.9zM190.8 107.4h.9v.9h-.9zM188.9 109.2h.9v.9h-.9zM182.7 112.1h.9v.9h-.9zM191.8 114.2h.9v.9h-.9zM185.6 110.2h.9v.9h-.9zM189.9 112.2h.9v.9h-.9zM185.0 111.5h.9v.9h-.9zM188.6 113.4h.9v.9h-.9zM183.4 109.6h.9v.9h-.9zM187.2 110.2h.9v.9h-.9zM191.5 109.4h.9v.9h-.9zM191.9 113.5h.9v.9h-.9zM192.4 110.5h.9v.9h-.9zM186.1 110.4h.9v.9h-.9zM191.3 111.3h.9v.9h-.9zM191.0 112.4h.9v.9h-.9zM185.9 108.7h.9v.9h-.9zM194.0 109.8h.9v.9h-.9zM183.5 115.6h.9v.9h-.9zM186.1 108.7h.9v.9h-.9zM192.4 108.2h.9v.9h-.9zM186.0 113.6h.9v.9h-.9zM186.1 117.3h.9v.9h-.9zM189.3 117.7h.9v.9h-.9zM189.5 111.1h.9v.9h-.9zM186.8 110.4h.9v.9h-.9zM187.2 110.9h.9v.9h-.9zM191.7 107.8h.9v.9h-.9zM185.8 105.8h.9v.9h-.9zM194.3 110.8h.9v.9h-.9zM189.0 110.9h.9v.9h-.9zM192.5 111.8h.9v.9h-.9zM192.0 110.6h.9v.9h-.9zM188.6 110.9h.9v.9h-.9zM182.5 113.7h.9v.9h-.9zM183.5 108.5h.9v.9h-.9zM191.3 111.1h.9v.9h-.9z" fill="#2a3ad8" opacity="0.6"/>
<g filter="url(#bl)"><path d="M181.30 76.60C181.86 76.84 182.14 77.76 182.53 78.34C182.92 78.92 183.65 79.50 183.64 80.09C183.63 80.67 182.85 81.27 182.45 81.86C182.06 82.45 181.66 83.04 181.26 83.63C180.87 84.22 180.47 84.81 180.07 85.40C179.67 85.99 179.30 86.59 178.87 87.16C178.44 87.73 177.96 88.25 177.51 88.80C177.05 89.35 176.60 89.90 176.15 90.45C175.69 90.99 175.24 91.54 174.78 92.09C174.33 92.64 173.80 93.14 173.42 93.73C173.04 94.32 172.79 95.00 172.50 95.64C172.21 96.29 171.95 96.95 171.67 97.60C171.39 98.26 171.11 98.91 170.83 99.57C170.56 100.22 170.40 100.98 170.00 101.53C169.60 102.08 168.99 102.46 168.43 102.87C167.87 103.29 167.24 103.67 166.63 104.02C166.02 104.38 165.45 104.84 164.78 105.00C164.12 105.16 163.36 105.00 162.65 105.00C161.94 105.00 161.23 105.00 160.52 105.00C159.81 105.00 158.80 105.32 158.38 105.00C157.97 104.68 158.11 103.74 158.02 103.06C157.92 102.38 157.89 101.64 157.82 100.94C157.75 100.23 157.58 99.51 157.62 98.81C157.66 98.11 157.88 97.42 158.03 96.73C158.18 96.03 158.35 95.34 158.51 94.65C158.67 93.96 158.83 93.26 158.99 92.57C159.15 91.88 159.31 91.18 159.47 90.49C159.63 89.80 159.70 89.07 159.95 88.41C160.20 87.76 160.63 87.17 160.98 86.55C161.33 85.94 161.66 85.28 162.07 84.72C162.48 84.16 162.89 83.60 163.44 83.18C163.98 82.77 164.71 82.55 165.34 82.23C165.98 81.91 166.62 81.59 167.25 81.27C167.89 80.96 168.52 80.62 169.16 80.32C169.80 80.02 170.46 79.74 171.11 79.47C171.77 79.19 172.43 78.93 173.09 78.66C173.75 78.40 174.41 78.11 175.07 77.86C175.73 77.61 176.38 77.32 177.07 77.15C177.76 76.99 178.48 76.97 179.18 76.88C179.89 76.78 180.74 76.36 181.30 76.60Z" fill="#1f22d8" opacity="0.95"/><path d="M179.98 77.79C180.51 78.01 180.98 78.72 181.28 79.21C181.58 79.70 181.89 80.22 181.79 80.74C181.69 81.26 181.06 81.80 180.69 82.34C180.32 82.87 179.95 83.40 179.58 83.94C179.22 84.47 178.85 85.00 178.48 85.54C178.11 86.07 177.75 86.61 177.37 87.13C177.00 87.66 176.61 88.18 176.24 88.70C175.86 89.23 175.48 89.75 175.10 90.27C174.72 90.80 174.34 91.32 173.97 91.84C173.59 92.37 173.17 92.86 172.83 93.41C172.49 93.96 172.22 94.55 171.94 95.13C171.65 95.71 171.39 96.30 171.12 96.89C170.85 97.48 170.58 98.07 170.31 98.66C170.05 99.25 169.84 99.89 169.51 100.43C169.17 100.96 168.73 101.40 168.30 101.85C167.88 102.31 167.48 102.82 166.96 103.16C166.44 103.50 165.81 103.73 165.19 103.88C164.58 104.03 163.90 104.03 163.27 104.06C162.64 104.08 162.00 104.14 161.41 104.04C160.83 103.94 160.14 103.82 159.74 103.45C159.34 103.08 159.19 102.38 159.04 101.80C158.89 101.21 158.86 100.56 158.83 99.93C158.79 99.29 158.78 98.64 158.83 98.00C158.89 97.36 159.05 96.73 159.17 96.09C159.29 95.45 159.42 94.82 159.55 94.18C159.67 93.55 159.79 92.91 159.93 92.28C160.06 91.65 160.22 91.02 160.38 90.39C160.53 89.76 160.63 89.11 160.84 88.50C161.04 87.89 161.34 87.32 161.60 86.73C161.86 86.15 162.03 85.48 162.40 84.98C162.77 84.48 163.29 84.10 163.81 83.75C164.34 83.39 164.96 83.14 165.53 82.83C166.10 82.53 166.67 82.22 167.24 81.92C167.81 81.61 168.38 81.29 168.96 81.00C169.54 80.72 170.12 80.44 170.72 80.19C171.31 79.95 171.94 79.76 172.54 79.54C173.15 79.32 173.76 79.10 174.37 78.89C174.98 78.68 175.59 78.45 176.21 78.29C176.84 78.13 177.49 78.01 178.12 77.93C178.75 77.84 179.46 77.58 179.98 77.79Z" fill="#1fb7f0"/><path d="M178.37 79.25C178.86 79.42 179.55 79.88 179.75 80.27C179.94 80.65 179.73 81.09 179.53 81.53C179.33 81.98 178.86 82.46 178.53 82.92C178.20 83.39 177.86 83.85 177.53 84.31C177.20 84.78 176.86 85.24 176.53 85.70C176.20 86.17 175.85 86.62 175.54 87.10C175.23 87.58 174.97 88.09 174.68 88.58C174.40 89.07 174.11 89.57 173.82 90.06C173.54 90.55 173.25 91.05 172.96 91.54C172.68 92.04 172.39 92.53 172.11 93.02C171.82 93.52 171.52 94.00 171.25 94.50C170.97 95.00 170.70 95.51 170.44 96.01C170.18 96.52 169.93 97.03 169.68 97.54C169.42 98.06 169.17 98.57 168.91 99.08C168.66 99.59 168.41 100.10 168.15 100.61C167.89 101.11 167.77 101.79 167.36 102.11C166.95 102.43 166.25 102.38 165.69 102.51C165.14 102.64 164.56 102.85 164.03 102.91C163.50 102.96 162.95 103.08 162.51 102.86C162.07 102.63 161.77 101.99 161.40 101.56C161.03 101.12 160.51 100.73 160.29 100.25C160.06 99.78 160.06 99.24 160.06 98.70C160.07 98.15 160.23 97.57 160.31 97.00C160.40 96.44 160.48 95.87 160.57 95.31C160.65 94.75 160.73 94.18 160.82 93.62C160.90 93.05 160.96 92.48 161.07 91.92C161.18 91.36 161.34 90.82 161.48 90.26C161.62 89.71 161.77 89.16 161.92 88.61C162.07 88.06 162.21 87.51 162.36 86.95C162.51 86.40 162.48 85.72 162.80 85.30C163.12 84.88 163.78 84.72 164.28 84.43C164.77 84.15 165.26 83.86 165.75 83.57C166.25 83.28 166.74 82.99 167.23 82.70C167.72 82.42 168.21 82.11 168.71 81.84C169.21 81.57 169.70 81.28 170.23 81.08C170.76 80.87 171.33 80.77 171.88 80.61C172.43 80.45 172.97 80.30 173.52 80.14C174.07 79.99 174.62 79.83 175.17 79.68C175.72 79.52 176.28 79.28 176.82 79.21C177.35 79.14 177.88 79.07 178.37 79.25Z" fill="#37c23a"/><path d="M172.70 84.13C172.97 84.35 173.22 84.67 173.48 84.94C173.74 85.21 174.17 85.45 174.26 85.75C174.34 86.05 174.11 86.39 173.98 86.72C173.85 87.05 173.65 87.39 173.48 87.72C173.31 88.06 173.14 88.39 172.97 88.73C172.80 89.06 172.63 89.39 172.46 89.73C172.29 90.06 172.12 90.40 171.95 90.73C171.78 91.07 171.61 91.40 171.44 91.74C171.27 92.07 171.09 92.40 170.93 92.74C170.77 93.08 170.64 93.43 170.50 93.78C170.35 94.12 170.21 94.47 170.06 94.82C169.92 95.16 169.78 95.51 169.63 95.85C169.49 96.20 169.35 96.55 169.20 96.89C169.06 97.24 168.92 97.59 168.77 97.93C168.63 98.28 168.51 98.66 168.34 98.97C168.18 99.29 168.05 99.66 167.77 99.83C167.49 99.99 167.03 99.92 166.66 99.97C166.28 100.01 165.91 100.06 165.54 100.11C165.17 100.15 164.70 100.33 164.42 100.25C164.14 100.16 164.00 99.90 163.87 99.61C163.74 99.32 163.73 98.88 163.66 98.51C163.59 98.14 163.52 97.77 163.45 97.40C163.38 97.03 163.31 96.67 163.24 96.30C163.17 95.93 163.10 95.56 163.03 95.19C162.96 94.82 162.82 94.45 162.82 94.09C162.82 93.72 162.95 93.35 163.03 92.99C163.10 92.62 163.19 92.26 163.27 91.89C163.35 91.52 163.44 91.16 163.52 90.79C163.60 90.43 163.68 90.06 163.76 89.69C163.85 89.33 163.93 88.96 164.01 88.60C164.09 88.23 164.17 87.86 164.25 87.50C164.34 87.13 164.28 86.65 164.50 86.40C164.72 86.15 165.20 86.13 165.55 86.00C165.90 85.87 166.25 85.73 166.60 85.60C166.95 85.46 167.30 85.33 167.65 85.20C168.00 85.06 168.35 84.93 168.70 84.80C169.06 84.66 169.41 84.53 169.76 84.39C170.11 84.26 170.46 84.13 170.81 83.99C171.16 83.86 171.54 83.57 171.86 83.59C172.17 83.61 172.43 83.90 172.70 84.13Z" fill="#f2ef10"/><path d="M171.93 84.73C172.15 84.89 172.31 85.22 172.51 85.46C172.70 85.71 172.99 85.94 173.09 86.20C173.18 86.46 173.14 86.74 173.09 87.02C173.03 87.30 172.89 87.58 172.77 87.87C172.64 88.15 172.49 88.43 172.35 88.72C172.21 89.00 172.07 89.28 171.94 89.57C171.80 89.85 171.66 90.13 171.52 90.42C171.38 90.70 171.25 90.98 171.11 91.27C170.97 91.55 170.82 91.83 170.69 92.11C170.56 92.40 170.44 92.69 170.32 92.98C170.19 93.27 170.07 93.56 169.95 93.85C169.82 94.14 169.70 94.43 169.57 94.72C169.45 95.01 169.34 95.31 169.20 95.59C169.06 95.87 168.89 96.13 168.74 96.39C168.58 96.66 168.44 96.95 168.27 97.20C168.10 97.45 167.95 97.73 167.72 97.90C167.49 98.07 167.16 98.10 166.88 98.21C166.60 98.31 166.31 98.44 166.03 98.51C165.76 98.59 165.43 98.73 165.22 98.64C165.01 98.55 164.89 98.25 164.77 98.00C164.65 97.74 164.60 97.39 164.51 97.09C164.43 96.79 164.34 96.49 164.26 96.19C164.17 95.89 164.06 95.59 164.00 95.29C163.94 94.98 163.93 94.67 163.90 94.36C163.87 94.05 163.81 93.74 163.82 93.43C163.83 93.12 163.92 92.81 163.97 92.50C164.02 92.19 164.08 91.88 164.14 91.57C164.20 91.26 164.25 90.95 164.31 90.64C164.37 90.33 164.42 90.02 164.48 89.71C164.54 89.40 164.61 89.10 164.68 88.79C164.76 88.49 164.85 88.19 164.94 87.88C165.02 87.58 165.03 87.21 165.19 86.97C165.35 86.74 165.62 86.59 165.89 86.45C166.15 86.31 166.48 86.23 166.77 86.12C167.07 86.00 167.36 85.89 167.66 85.78C167.95 85.67 168.25 85.56 168.54 85.45C168.84 85.34 169.13 85.23 169.43 85.11C169.72 85.00 170.02 84.89 170.31 84.78C170.61 84.67 170.93 84.46 171.20 84.45C171.47 84.44 171.71 84.56 171.93 84.73Z" fill="#ff9200"/><path d="M170.98 85.46C171.14 85.56 171.21 85.89 171.32 86.10C171.43 86.32 171.54 86.53 171.65 86.75C171.77 86.96 171.95 87.17 171.99 87.39C172.03 87.61 171.96 87.83 171.90 88.04C171.83 88.26 171.70 88.49 171.60 88.71C171.50 88.93 171.40 89.15 171.30 89.37C171.20 89.59 171.10 89.81 171.00 90.03C170.90 90.25 170.80 90.47 170.70 90.69C170.60 90.91 170.50 91.13 170.40 91.35C170.30 91.57 170.20 91.79 170.10 92.01C170.00 92.23 169.90 92.45 169.80 92.67C169.70 92.89 169.60 93.12 169.50 93.34C169.40 93.56 169.34 93.80 169.20 94.00C169.07 94.19 168.86 94.34 168.69 94.51C168.52 94.68 168.35 94.85 168.18 95.02C168.00 95.20 167.83 95.37 167.66 95.54C167.49 95.71 167.32 95.88 167.15 96.05C166.98 96.22 166.80 96.46 166.64 96.56C166.48 96.67 166.32 96.76 166.19 96.67C166.06 96.58 165.98 96.24 165.87 96.02C165.77 95.80 165.66 95.58 165.56 95.37C165.45 95.15 165.35 94.93 165.24 94.71C165.14 94.49 164.97 94.29 164.93 94.06C164.88 93.83 164.95 93.58 164.97 93.34C164.99 93.10 165.02 92.86 165.05 92.62C165.07 92.38 165.10 92.14 165.12 91.90C165.15 91.66 165.17 91.42 165.20 91.18C165.23 90.94 165.25 90.69 165.28 90.45C165.30 90.21 165.32 89.97 165.35 89.73C165.39 89.49 165.44 89.26 165.51 89.03C165.58 88.80 165.68 88.58 165.77 88.35C165.86 88.13 165.95 87.90 166.04 87.68C166.12 87.45 166.14 87.15 166.30 87.00C166.46 86.85 166.75 86.83 166.98 86.75C167.21 86.66 167.44 86.58 167.66 86.50C167.89 86.41 168.12 86.33 168.34 86.24C168.57 86.16 168.80 86.08 169.02 85.99C169.25 85.91 169.48 85.83 169.71 85.74C169.93 85.66 170.17 85.54 170.39 85.49C170.60 85.44 170.83 85.36 170.98 85.46Z" fill="#ff1800"/></g>
<g filter="url(#bl)"><path d="M148.90 109.00C149.19 108.62 149.94 108.59 150.45 108.38C150.97 108.18 151.49 107.97 152.01 107.77C152.53 107.56 153.04 107.33 153.56 107.15C154.09 106.97 154.61 106.77 155.15 106.67C155.69 106.57 156.26 106.58 156.82 106.54C157.37 106.50 157.93 106.46 158.48 106.42C159.04 106.38 159.60 106.34 160.15 106.30C160.71 106.25 161.27 106.17 161.82 106.17C162.37 106.17 162.92 106.20 163.46 106.30C164.00 106.40 164.53 106.61 165.06 106.77C165.60 106.93 166.13 107.09 166.67 107.25C167.20 107.40 167.74 107.56 168.27 107.72C168.81 107.88 169.42 107.97 169.88 108.20C170.33 108.42 170.77 108.67 171.01 109.09C171.25 109.52 171.22 110.19 171.33 110.74C171.43 111.28 171.53 111.83 171.64 112.38C171.74 112.93 171.93 113.48 171.95 114.02C171.97 114.56 171.91 115.09 171.78 115.62C171.64 116.14 171.36 116.65 171.16 117.17C170.95 117.69 170.75 118.21 170.54 118.73C170.34 119.24 170.26 119.90 169.93 120.28C169.59 120.66 169.03 120.79 168.53 120.99C168.03 121.20 167.47 121.32 166.93 121.49C166.40 121.65 165.87 121.83 165.34 121.99C164.80 122.14 164.27 122.33 163.73 122.40C163.18 122.47 162.61 122.40 162.05 122.40C161.50 122.40 160.94 122.40 160.38 122.40C159.82 122.40 159.27 122.40 158.71 122.40C158.15 122.40 157.57 122.50 157.04 122.40C156.50 122.30 156.00 121.99 155.49 121.77C154.97 121.56 154.46 121.35 153.94 121.13C153.43 120.92 152.91 120.71 152.40 120.49C151.88 120.28 151.29 120.14 150.85 119.85C150.42 119.57 150.05 119.23 149.79 118.78C149.53 118.34 149.48 117.71 149.32 117.18C149.16 116.64 149.01 116.11 148.85 115.57C148.69 115.04 148.44 114.51 148.38 113.97C148.32 113.43 148.42 112.87 148.48 112.32C148.53 111.77 148.62 111.21 148.69 110.66C148.76 110.11 148.61 109.38 148.90 109.00Z" fill="#1f22d8" opacity="0.95"/><path d="M149.94 109.54C150.21 109.19 150.89 109.17 151.37 108.99C151.85 108.81 152.33 108.62 152.81 108.44C153.29 108.26 153.76 108.05 154.24 107.89C154.73 107.73 155.21 107.56 155.71 107.47C156.21 107.38 156.73 107.39 157.24 107.35C157.75 107.31 158.26 107.27 158.78 107.23C159.29 107.19 159.80 107.15 160.31 107.11C160.82 107.07 161.33 106.99 161.84 106.99C162.35 106.98 162.86 106.98 163.35 107.06C163.85 107.14 164.34 107.34 164.84 107.47C165.33 107.61 165.83 107.74 166.32 107.88C166.81 108.01 167.31 108.15 167.80 108.29C168.30 108.42 168.84 108.51 169.28 108.69C169.73 108.87 170.23 109.00 170.47 109.37C170.72 109.73 170.66 110.37 170.75 110.88C170.84 111.38 170.94 111.89 171.03 112.39C171.12 112.89 171.27 113.40 171.31 113.90C171.34 114.40 171.34 114.90 171.23 115.38C171.12 115.86 170.84 116.33 170.64 116.80C170.45 117.27 170.25 117.75 170.05 118.22C169.85 118.69 169.76 119.28 169.46 119.64C169.16 120.00 168.71 120.19 168.27 120.38C167.82 120.57 167.28 120.64 166.78 120.77C166.29 120.89 165.79 121.03 165.30 121.15C164.80 121.27 164.31 121.42 163.80 121.50C163.30 121.57 162.79 121.57 162.28 121.59C161.76 121.61 161.25 121.59 160.74 121.59C160.23 121.59 159.71 121.59 159.20 121.59C158.69 121.59 158.16 121.65 157.66 121.59C157.16 121.53 156.67 121.41 156.19 121.25C155.72 121.08 155.26 120.82 154.80 120.60C154.34 120.39 153.87 120.17 153.41 119.95C152.95 119.73 152.44 119.56 152.02 119.30C151.60 119.04 151.18 118.78 150.90 118.41C150.61 118.03 150.49 117.52 150.32 117.04C150.16 116.57 150.03 116.06 149.89 115.57C149.74 115.08 149.52 114.59 149.45 114.09C149.39 113.60 149.45 113.09 149.49 112.58C149.54 112.08 149.64 111.57 149.71 111.06C149.79 110.55 149.66 109.89 149.94 109.54Z" fill="#1fb7f0"/><path d="M151.20 110.20C151.45 109.90 152.06 109.89 152.49 109.73C152.92 109.58 153.35 109.42 153.78 109.27C154.21 109.11 154.64 108.93 155.07 108.80C155.51 108.66 155.95 108.53 156.39 108.46C156.84 108.38 157.31 108.38 157.76 108.34C158.22 108.30 158.67 108.26 159.13 108.22C159.59 108.18 160.04 108.14 160.50 108.10C160.95 108.06 161.41 108.00 161.87 107.98C162.32 107.96 162.78 107.95 163.22 108.00C163.67 108.06 164.11 108.22 164.56 108.33C165.00 108.44 165.45 108.54 165.89 108.65C166.34 108.76 166.78 108.87 167.23 108.98C167.67 109.08 168.13 109.18 168.56 109.30C168.99 109.42 169.57 109.41 169.82 109.70C170.07 109.99 169.97 110.60 170.05 111.05C170.13 111.50 170.21 111.95 170.29 112.41C170.36 112.86 170.47 113.31 170.52 113.76C170.57 114.21 170.66 114.66 170.57 115.09C170.49 115.52 170.20 115.93 170.01 116.34C169.82 116.76 169.64 117.18 169.45 117.60C169.26 118.02 169.14 118.51 168.89 118.85C168.64 119.19 168.33 119.45 167.95 119.62C167.57 119.79 167.05 119.79 166.60 119.88C166.15 119.96 165.70 120.05 165.25 120.14C164.80 120.22 164.35 120.31 163.90 120.39C163.45 120.47 163.00 120.57 162.55 120.60C162.09 120.63 161.63 120.60 161.17 120.60C160.72 120.60 160.26 120.60 159.80 120.60C159.34 120.60 158.88 120.60 158.43 120.60C157.97 120.60 157.48 120.71 157.05 120.60C156.62 120.49 156.25 120.18 155.85 119.96C155.45 119.74 155.05 119.51 154.65 119.29C154.25 119.06 153.85 118.84 153.45 118.62C153.05 118.40 152.56 118.24 152.25 117.95C151.93 117.66 151.73 117.27 151.55 116.88C151.37 116.48 151.29 116.00 151.16 115.56C151.03 115.12 150.83 114.69 150.76 114.25C150.69 113.80 150.70 113.36 150.74 112.91C150.77 112.46 150.89 112.00 150.97 111.55C151.05 111.10 150.95 110.50 151.20 110.20Z" fill="#37c23a"/><path d="M153.00 111.30C153.22 111.06 153.72 111.07 154.07 110.95C154.43 110.83 154.79 110.72 155.15 110.60C155.50 110.48 155.86 110.36 156.22 110.25C156.58 110.13 156.93 110.00 157.29 109.90C157.65 109.79 158.01 109.65 158.38 109.60C158.74 109.55 159.13 109.60 159.50 109.60C159.88 109.60 160.26 109.60 160.63 109.60C161.01 109.60 161.39 109.60 161.76 109.60C162.14 109.60 162.52 109.60 162.89 109.60C163.27 109.60 163.65 109.60 164.02 109.60C164.40 109.60 164.79 109.54 165.15 109.62C165.51 109.69 165.84 109.91 166.19 110.05C166.54 110.20 166.89 110.34 167.23 110.48C167.58 110.63 167.95 110.76 168.28 110.92C168.61 111.07 169.04 111.16 169.22 111.43C169.40 111.70 169.31 112.17 169.36 112.55C169.41 112.92 169.45 113.29 169.50 113.67C169.55 114.04 169.60 114.41 169.65 114.79C169.69 115.16 169.90 115.60 169.79 115.91C169.68 116.22 169.28 116.42 169.00 116.66C168.73 116.91 168.42 117.14 168.13 117.38C167.84 117.62 167.55 117.86 167.26 118.10C166.97 118.34 166.72 118.68 166.39 118.82C166.07 118.97 165.67 118.94 165.30 118.99C164.92 119.03 164.55 119.05 164.17 119.08C163.80 119.11 163.42 119.15 163.05 119.18C162.67 119.21 162.30 119.24 161.92 119.28C161.55 119.31 161.17 119.34 160.79 119.37C160.42 119.40 160.03 119.50 159.67 119.47C159.31 119.44 158.96 119.31 158.61 119.18C158.26 119.06 157.93 118.87 157.59 118.71C157.24 118.55 156.90 118.39 156.56 118.24C156.22 118.08 155.88 117.92 155.54 117.76C155.19 117.61 154.81 117.50 154.51 117.29C154.21 117.08 153.98 116.81 153.76 116.52C153.54 116.22 153.38 115.87 153.19 115.54C153.00 115.22 152.72 114.91 152.62 114.57C152.51 114.23 152.52 113.87 152.54 113.51C152.57 113.15 152.69 112.77 152.77 112.41C152.85 112.04 152.78 111.54 153.00 111.30Z" fill="#f2ef10"/><path d="M155.61 111.43C155.73 111.18 155.94 111.01 156.20 110.88C156.46 110.75 156.83 110.74 157.14 110.66C157.46 110.59 157.77 110.52 158.09 110.45C158.40 110.37 158.72 110.30 159.03 110.23C159.35 110.16 159.66 110.08 159.98 110.04C160.30 110.01 160.63 110.03 160.95 110.02C161.28 110.01 161.60 110.00 161.93 109.99C162.25 109.98 162.58 109.98 162.90 109.97C163.23 109.96 163.55 109.95 163.88 109.94C164.20 109.93 164.52 109.92 164.85 109.92C165.17 109.91 165.51 109.87 165.82 109.90C166.14 109.94 166.46 110.00 166.74 110.13C167.02 110.26 167.23 110.50 167.48 110.68C167.72 110.87 167.98 111.04 168.21 111.24C168.45 111.43 168.74 111.58 168.89 111.83C169.04 112.09 169.05 112.45 169.13 112.76C169.21 113.07 169.33 113.38 169.36 113.69C169.39 114.01 169.32 114.32 169.29 114.63C169.27 114.95 169.34 115.29 169.23 115.57C169.12 115.85 168.85 116.07 168.65 116.31C168.45 116.55 168.23 116.79 168.03 117.03C167.82 117.27 167.63 117.53 167.40 117.75C167.18 117.96 166.96 118.21 166.69 118.33C166.41 118.45 166.05 118.42 165.73 118.46C165.41 118.49 165.08 118.51 164.76 118.54C164.43 118.57 164.11 118.60 163.79 118.63C163.46 118.66 163.14 118.69 162.82 118.72C162.49 118.74 162.17 118.77 161.84 118.80C161.52 118.83 161.19 118.90 160.87 118.89C160.56 118.88 160.24 118.85 159.94 118.77C159.64 118.68 159.36 118.56 159.09 118.40C158.82 118.25 158.58 118.03 158.33 117.85C158.08 117.66 157.82 117.48 157.57 117.29C157.32 117.11 157.04 116.95 156.81 116.74C156.59 116.52 156.39 116.27 156.20 116.01C156.02 115.75 155.85 115.47 155.71 115.18C155.58 114.89 155.46 114.59 155.40 114.29C155.34 113.98 155.34 113.67 155.36 113.35C155.37 113.04 155.44 112.71 155.48 112.39C155.53 112.07 155.49 111.68 155.61 111.43Z" fill="#ff9200"/><path d="M158.80 111.59C158.80 111.32 158.67 110.94 158.80 110.80C158.93 110.66 159.32 110.76 159.58 110.75C159.85 110.73 160.11 110.71 160.37 110.69C160.63 110.67 160.89 110.65 161.15 110.64C161.42 110.62 161.68 110.60 161.94 110.58C162.20 110.56 162.46 110.54 162.72 110.53C162.98 110.51 163.25 110.49 163.51 110.47C163.77 110.45 164.03 110.44 164.29 110.42C164.55 110.40 164.82 110.38 165.08 110.36C165.34 110.34 165.60 110.33 165.86 110.31C166.12 110.29 166.39 110.27 166.65 110.25C166.90 110.24 167.23 110.11 167.41 110.23C167.60 110.34 167.65 110.69 167.77 110.93C167.89 111.16 168.01 111.39 168.13 111.63C168.25 111.86 168.37 112.09 168.49 112.33C168.61 112.56 168.74 112.79 168.85 113.02C168.97 113.26 169.19 113.49 169.19 113.72C169.19 113.96 168.97 114.20 168.87 114.44C168.76 114.68 168.65 114.92 168.54 115.16C168.44 115.40 168.33 115.64 168.22 115.88C168.11 116.12 168.01 116.35 167.90 116.59C167.79 116.83 167.72 117.12 167.58 117.31C167.43 117.50 167.26 117.65 167.04 117.73C166.82 117.82 166.52 117.78 166.26 117.81C166.00 117.83 165.74 117.86 165.48 117.88C165.21 117.91 164.95 117.93 164.69 117.96C164.43 117.98 164.17 118.01 163.91 118.03C163.65 118.06 163.39 118.08 163.13 118.11C162.87 118.13 162.61 118.16 162.34 118.18C162.08 118.21 161.80 118.28 161.56 118.26C161.32 118.23 161.10 118.18 160.92 118.03C160.74 117.88 160.63 117.59 160.49 117.37C160.35 117.15 160.20 116.93 160.06 116.72C159.91 116.50 159.77 116.28 159.63 116.06C159.48 115.84 159.33 115.62 159.19 115.40C159.06 115.18 158.87 114.97 158.80 114.73C158.73 114.49 158.80 114.21 158.80 113.95C158.80 113.68 158.80 113.42 158.80 113.16C158.80 112.90 158.80 112.64 158.80 112.37C158.80 112.11 158.80 111.85 158.80 111.59Z" fill="#ff1800"/></g>
<g transform="translate(153.80 113.00) rotate(0)" filter="url(#bl)"><ellipse cx="0" cy="0" rx="2.20" ry="2.40" fill="#ff9200"/><ellipse cx="0" cy="0" rx="1.10" ry="1.20" fill="#ff5000"/></g>
<line x1="159.50" y1="65.50" x2="159.50" y2="131.80" stroke="#7a7a7a" stroke-width="0.9"/>
<line x1="132.50" y1="105.50" x2="195.00" y2="105.50" stroke="#7a7a7a" stroke-width="0.9"/>
<line x1="132.50" y1="65.50" x2="132.50" y2="132.30" stroke="#2e4d8c" stroke-width="1.1"/>
<line x1="132.50" y1="131.80" x2="195.00" y2="131.80" stroke="#2e4d8c" stroke-width="1.1"/>
<text x="133.00" y="72.60" font-size="7" fill="#000" font-weight="bold">1.57%</text>
<text x="195.00" y="72.60" font-size="7" fill="#000" text-anchor="end" font-weight="bold">41.34%</text>
<text x="134.80" y="81.40" font-size="7.5" fill="#000" font-weight="bold">Q1</text>
<text x="193.50" y="81.40" font-size="7.5" fill="#000" text-anchor="end" font-weight="bold">Q2</text>
<text x="134.80" y="121.80" font-size="7.5" fill="#000" font-weight="bold">Q3</text>
<text x="193.50" y="121.80" font-size="7.5" fill="#000" text-anchor="end" font-weight="bold">Q4</text>
<text x="133.50" y="130.60" font-size="7" fill="#000" font-weight="bold">13.38%</text>
<text x="195.00" y="130.60" font-size="7" fill="#000" text-anchor="end" font-weight="bold">43.72%</text>
<line x1="23.00" y1="64.00" x2="23.00" y2="110.80" stroke="#000" stroke-width="1.1"/>
<path d="M19.5 65.5 L23 57.5 L26.5 65.5 Z" fill="#000"/>
<text x="25.70" y="122.20" font-size="11" fill="#111" text-anchor="middle" textLength="16.60" lengthAdjust="spacingAndGlyphs" transform="rotate(-90 25.70 122.20)" stroke="#111" stroke-width="0.28">CD38</text>
<text x="38.40" y="153.80" font-size="11" fill="#111" textLength="15.50" lengthAdjust="spacingAndGlyphs" stroke="#111" stroke-width="0.28">CD24</text>
<line x1="58.00" y1="151.00" x2="190.00" y2="151.00" stroke="#000" stroke-width="1.1"/>
<path d="M187.5 147.5 L195.5 151 L187.5 154.5 Z" fill="#000"/>
<text x="94.6" y="178.6" font-size="7.9" textLength="69.2" lengthAdjust="spacingAndGlyphs"><tspan font-weight="bold">Q1:</tspan> CD24<tspan font-size="4.8" dy="-3">lo</tspan><tspan dy="3"> CD38</tspan><tspan font-size="4.8" dy="-3">hi</tspan><tspan dy="3">;</tspan></text>
<text x="174.6" y="178.6" font-size="7.9" textLength="67.7" lengthAdjust="spacingAndGlyphs"><tspan font-weight="bold">Q2:</tspan> CD24<tspan font-size="4.8" dy="-3">hi</tspan><tspan dy="3"> CD38</tspan><tspan font-size="4.8" dy="-3">hi</tspan><tspan dy="3">;</tspan></text>
<text x="254.6" y="178.6" font-size="7.9" textLength="69.2" lengthAdjust="spacingAndGlyphs"><tspan font-weight="bold">Q3:</tspan> CD24<tspan font-size="4.8" dy="-3">lo</tspan><tspan dy="3"> CD38</tspan><tspan font-size="4.8" dy="-3">lo</tspan><tspan dy="3">;</tspan></text>
<text x="336.8" y="178.6" font-size="7.9" textLength="66.1" lengthAdjust="spacingAndGlyphs"><tspan font-weight="bold">Q4:</tspan> CD24<tspan font-size="4.8" dy="-3">hi</tspan><tspan dy="3"> CD38</tspan><tspan font-size="4.8" dy="-3">lo</tspan><tspan dy="3"></tspan></text>
<text x="265.8" y="28.2" font-size="10" textLength="65.2" lengthAdjust="spacingAndGlyphs">Healthy donors</text>
<line x1="265.80" y1="30.00" x2="331.00" y2="30.00" stroke="#000" stroke-width="0.8"/>
<line x1="255.00" y1="35.50" x2="255.00" y2="145.50" stroke="#000" stroke-width="1.2"/>
<line x1="254.40" y1="145.20" x2="341.00" y2="145.20" stroke="#000" stroke-width="1.2"/>
<line x1="251.00" y1="144.60" x2="255.00" y2="144.60" stroke="#000" stroke-width="1"/>
<text x="248.60" y="147.90" font-size="9" fill="#000" text-anchor="end">0</text>
<line x1="251.00" y1="123.30" x2="255.00" y2="123.30" stroke="#000" stroke-width="1"/>
<text x="248.60" y="126.60" font-size="9" fill="#000" text-anchor="end">10</text>
<line x1="251.00" y1="102.00" x2="255.00" y2="102.00" stroke="#000" stroke-width="1"/>
<text x="248.60" y="105.30" font-size="9" fill="#000" text-anchor="end">20</text>
<line x1="251.00" y1="80.70" x2="255.00" y2="80.70" stroke="#000" stroke-width="1"/>
<text x="248.60" y="84.00" font-size="9" fill="#000" text-anchor="end">30</text>
<line x1="251.00" y1="59.40" x2="255.00" y2="59.40" stroke="#000" stroke-width="1"/>
<text x="248.60" y="62.70" font-size="9" fill="#000" text-anchor="end">40</text>
<line x1="251.00" y1="38.10" x2="255.00" y2="38.10" stroke="#000" stroke-width="1"/>
<text x="248.60" y="41.40" font-size="9" fill="#000" text-anchor="end">50</text>
<line x1="268.80" y1="145.00" x2="268.80" y2="148.20" stroke="#000" stroke-width="0.9"/>
<text x="268.80" y="159.20" font-size="9" fill="#000" text-anchor="middle">Q1</text>
<line x1="288.70" y1="145.00" x2="288.70" y2="148.20" stroke="#000" stroke-width="0.9"/>
<text x="288.70" y="159.20" font-size="9" fill="#000" text-anchor="middle">Q2</text>
<line x1="308.30" y1="145.00" x2="308.30" y2="148.20" stroke="#000" stroke-width="0.9"/>
<text x="308.30" y="159.20" font-size="9" fill="#000" text-anchor="middle">Q3</text>
<line x1="327.70" y1="145.00" x2="327.70" y2="148.20" stroke="#000" stroke-width="0.9"/>
<text x="327.70" y="159.20" font-size="9" fill="#000" text-anchor="middle">Q4</text>
<text x="233.20" y="90.20" font-size="9.4" fill="#1a1a1a" text-anchor="middle" font-weight="bold" textLength="36.60" lengthAdjust="spacingAndGlyphs" transform="rotate(-90 233.20 90.20)">% of IL-10+</text>
<path d="M272.00 43.50V40.00H289.50V43.50" fill="none" stroke="#000" stroke-width="1"/>
<text x="281.00" y="37.80" font-size="8" fill="#000" text-anchor="middle" font-weight="bold">*</text>
<path d="M289.00 49.50V46.00H306.00V49.50" fill="none" stroke="#000" stroke-width="1"/>
<text x="297.50" y="43.80" font-size="8" fill="#000" text-anchor="middle" font-weight="bold">*</text>
<line x1="268.80" y1="102.10" x2="268.80" y2="112.90" stroke="#b3133b" stroke-width="0.9"/>
<line x1="266.00" y1="102.10" x2="271.60" y2="102.10" stroke="#b3133b" stroke-width="0.9"/>
<line x1="266.00" y1="112.90" x2="271.60" y2="112.90" stroke="#b3133b" stroke-width="0.9"/>
<circle cx="268.80" cy="89.00" r="2.35" fill="#b3133b"/>
<circle cx="273.50" cy="104.20" r="2.35" fill="#b3133b"/>
<circle cx="264.00" cy="107.70" r="2.35" fill="#b3133b"/>
<circle cx="273.50" cy="116.30" r="2.35" fill="#b3133b"/>
<circle cx="264.00" cy="119.80" r="2.35" fill="#b3133b"/>
<line x1="266.00" y1="107.30" x2="275.60" y2="107.30" stroke="#000" stroke-width="1.1"/>
<rect x="281.75" y="95.95" width="4.5" height="4.5" fill="#b8782e"/>
<rect x="281.75" y="100.25" width="4.5" height="4.5" fill="#b8782e"/>
<rect x="290.75" y="92.95" width="4.5" height="4.5" fill="#b8782e"/>
<rect x="290.75" y="97.65" width="4.5" height="4.5" fill="#b8782e"/>
<rect x="286.45" y="104.55" width="4.5" height="4.5" fill="#b8782e"/>
<line x1="288.70" y1="99.00" x2="288.70" y2="103.00" stroke="#fff" stroke-width="0.6"/>
<line x1="286.70" y1="99.00" x2="290.70" y2="99.00" stroke="#fff" stroke-width="0.6"/>
<line x1="286.70" y1="103.00" x2="290.70" y2="103.00" stroke="#fff" stroke-width="0.6"/>
<line x1="286.00" y1="101.10" x2="291.50" y2="101.10" stroke="#000" stroke-width="1.1"/>
<path d="M300.80 129.94L303.40 125.26L306.00 129.94Z" fill="#22478a"/>
<path d="M300.80 135.14L303.40 130.46L306.00 135.14Z" fill="#22478a"/>
<path d="M310.40 132.54L313.00 127.86L315.60 132.54Z" fill="#22478a"/>
<path d="M305.70 140.34L308.30 135.66L310.90 140.34Z" fill="#22478a"/>
<path d="M305.70 145.44L308.30 140.76L310.90 145.44Z" fill="#22478a"/>
<line x1="305.00" y1="134.20" x2="314.70" y2="134.20" stroke="#000" stroke-width="1.1"/>
<path d="M320.70 129.26L323.30 133.94L325.90 129.26Z" fill="#5ba6e3"/>
<path d="M320.70 135.66L323.30 140.34L325.90 135.66Z" fill="#5ba6e3"/>
<path d="M329.90 129.26L332.50 133.94L335.10 129.26Z" fill="#5ba6e3"/>
<path d="M329.90 134.76L332.50 139.44L335.10 134.76Z" fill="#5ba6e3"/>
<path d="M325.10 132.66L327.70 137.34L330.30 132.66Z" fill="#5ba6e3"/>
<line x1="321.60" y1="135.00" x2="326.00" y2="135.00" stroke="#000" stroke-width="1.1"/>
<text x="418.8" y="25.3" font-size="10" textLength="38" lengthAdjust="spacingAndGlyphs">CLL Pts.</text>
<line x1="418.80" y1="27.00" x2="456.80" y2="27.00" stroke="#000" stroke-width="0.8"/>
<line x1="396.00" y1="32.00" x2="396.00" y2="145.80" stroke="#000" stroke-width="1.2"/>
<line x1="395.50" y1="145.40" x2="474.00" y2="145.40" stroke="#000" stroke-width="1.2"/>
<line x1="392.00" y1="145.30" x2="396.00" y2="145.30" stroke="#000" stroke-width="1"/>
<text x="390.00" y="148.60" font-size="9" fill="#000" text-anchor="end">0</text>
<line x1="392.00" y1="107.90" x2="396.00" y2="107.90" stroke="#000" stroke-width="1"/>
<text x="390.00" y="111.20" font-size="9" fill="#000" text-anchor="end">20</text>
<line x1="392.00" y1="70.50" x2="396.00" y2="70.50" stroke="#000" stroke-width="1"/>
<text x="390.00" y="73.80" font-size="9" fill="#000" text-anchor="end">40</text>
<line x1="392.00" y1="33.10" x2="396.00" y2="33.10" stroke="#000" stroke-width="1"/>
<text x="390.00" y="36.40" font-size="9" fill="#000" text-anchor="end">60</text>
<line x1="408.40" y1="145.40" x2="408.40" y2="148.40" stroke="#000" stroke-width="0.9"/>
<text x="408.40" y="159.20" font-size="9" fill="#000" text-anchor="middle">Q1</text>
<line x1="427.60" y1="145.40" x2="427.60" y2="148.40" stroke="#000" stroke-width="0.9"/>
<text x="427.60" y="159.20" font-size="9" fill="#000" text-anchor="middle">Q2</text>
<line x1="446.70" y1="145.40" x2="446.70" y2="148.40" stroke="#000" stroke-width="0.9"/>
<text x="446.70" y="159.20" font-size="9" fill="#000" text-anchor="middle">Q3</text>
<line x1="466.30" y1="145.40" x2="466.30" y2="148.40" stroke="#000" stroke-width="0.9"/>
<text x="466.30" y="159.20" font-size="9" fill="#000" text-anchor="middle">Q4</text>
<text x="373.60" y="88.00" font-size="9.4" fill="#1a1a1a" text-anchor="middle" font-weight="bold" textLength="36.80" lengthAdjust="spacingAndGlyphs" transform="rotate(-90 373.60 88.00)">% of IL-10+</text>
<path d="M409.00 47.50V44.50H430.50V47.50" fill="none" stroke="#000" stroke-width="1"/>
<text x="420.00" y="42.30" font-size="8" fill="#000" text-anchor="middle" font-weight="bold">*</text>
<line x1="408.40" y1="91.40" x2="408.40" y2="102.00" stroke="#b3133b" stroke-width="0.9"/>
<line x1="403.70" y1="91.40" x2="413.10" y2="91.40" stroke="#b3133b" stroke-width="0.9"/>
<line x1="403.70" y1="102.00" x2="413.10" y2="102.00" stroke="#b3133b" stroke-width="0.9"/>
<circle cx="404.30" cy="80.30" r="2.35" fill="#b3133b"/>
<circle cx="404.30" cy="83.90" r="2.35" fill="#b3133b"/>
<circle cx="408.40" cy="81.20" r="2.35" fill="#b3133b"/>
<circle cx="412.80" cy="78.50" r="2.35" fill="#b3133b"/>
<circle cx="412.80" cy="83.00" r="2.35" fill="#b3133b"/>
<circle cx="404.30" cy="107.90" r="2.35" fill="#b3133b"/>
<circle cx="404.30" cy="111.50" r="2.35" fill="#b3133b"/>
<circle cx="404.30" cy="116.00" r="2.35" fill="#b3133b"/>
<circle cx="412.80" cy="109.70" r="2.35" fill="#b3133b"/>
<circle cx="412.80" cy="113.30" r="2.35" fill="#b3133b"/>
<line x1="402.10" y1="96.70" x2="415.50" y2="96.70" stroke="#000" stroke-width="1.1"/>
<rect x="421.30" y="54.60" width="4.4" height="4.4" fill="#b8782e"/>
<rect x="429.90" y="53.10" width="4.4" height="4.4" fill="#b8782e"/>
<rect x="421.30" y="60.30" width="4.4" height="4.4" fill="#b8782e"/>
<rect x="421.30" y="63.00" width="4.4" height="4.4" fill="#b8782e"/>
<rect x="429.90" y="61.20" width="4.4" height="4.4" fill="#b8782e"/>
<rect x="421.30" y="71.00" width="4.4" height="4.4" fill="#b8782e"/>
<rect x="429.90" y="69.20" width="4.4" height="4.4" fill="#b8782e"/>
<rect x="425.40" y="83.50" width="4.4" height="4.4" fill="#b8782e"/>
<rect x="425.40" y="112.00" width="4.4" height="4.4" fill="#b8782e"/>
<rect x="425.40" y="114.60" width="4.4" height="4.4" fill="#b8782e"/>
<line x1="427.60" y1="69.60" x2="427.60" y2="83.90" stroke="#b8782e" stroke-width="0.9"/>
<line x1="424.60" y1="69.60" x2="430.60" y2="69.60" stroke="#b8782e" stroke-width="0.9"/>
<line x1="424.60" y1="83.90" x2="430.60" y2="83.90" stroke="#b8782e" stroke-width="0.9"/>
<line x1="420.80" y1="76.40" x2="434.60" y2="76.40" stroke="#000" stroke-width="1.1"/>
<path d="M444.20 75.05L446.70 70.55L449.20 75.05Z" fill="#22478a"/>
<path d="M444.20 84.35L446.70 79.85L449.20 84.35Z" fill="#22478a"/>
<path d="M444.20 100.05L446.70 95.55L449.20 100.05Z" fill="#22478a"/>
<path d="M439.70 128.85L442.20 124.35L444.70 128.85Z" fill="#22478a"/>
<path d="M444.20 128.05L446.70 123.55L449.20 128.05Z" fill="#22478a"/>
<path d="M448.60 128.05L451.10 123.55L453.60 128.05Z" fill="#22478a"/>
<path d="M439.70 139.55L442.20 135.05L444.70 139.55Z" fill="#22478a"/>
<path d="M448.60 138.75L451.10 134.25L453.60 138.75Z" fill="#22478a"/>
<path d="M444.20 145.85L446.70 141.35L449.20 145.85Z" fill="#22478a"/>
<line x1="446.70" y1="109.40" x2="446.70" y2="124.90" stroke="#22478a" stroke-width="0.9"/>
<line x1="443.70" y1="109.40" x2="449.70" y2="109.40" stroke="#22478a" stroke-width="0.9"/>
<line x1="443.70" y1="124.90" x2="449.70" y2="124.90" stroke="#22478a" stroke-width="0.9"/>
<line x1="440.50" y1="117.40" x2="453.50" y2="117.40" stroke="#000" stroke-width="1.1"/>
<path d="M459.30 106.55L461.80 111.05L464.30 106.55Z" fill="#5ba6e3"/>
<path d="M467.70 105.15L470.20 109.65L472.70 105.15Z" fill="#5ba6e3"/>
<path d="M463.80 112.85L466.30 117.35L468.80 112.85Z" fill="#5ba6e3"/>
<path d="M459.30 122.25L461.80 126.75L464.30 122.25Z" fill="#5ba6e3"/>
<path d="M467.70 122.25L470.20 126.75L472.70 122.25Z" fill="#5ba6e3"/>
<path d="M459.30 126.15L461.80 130.65L464.30 126.15Z" fill="#5ba6e3"/>
<path d="M467.70 131.55L470.20 136.05L472.70 131.55Z" fill="#5ba6e3"/>
<path d="M459.30 130.65L461.80 135.15L464.30 130.65Z" fill="#5ba6e3"/>
<path d="M459.30 140.05L461.80 144.55L464.30 140.05Z" fill="#5ba6e3"/>
<path d="M467.70 140.05L470.20 144.55L472.70 140.05Z" fill="#5ba6e3"/>
<line x1="466.30" y1="123.50" x2="466.30" y2="131.00" stroke="#5ba6e3" stroke-width="0.9"/>
<line x1="463.30" y1="123.50" x2="469.30" y2="123.50" stroke="#5ba6e3" stroke-width="0.9"/>
<line x1="463.30" y1="131.00" x2="469.30" y2="131.00" stroke="#5ba6e3" stroke-width="0.9"/>
<line x1="458.80" y1="127.00" x2="472.50" y2="127.00" stroke="#000" stroke-width="1.1"/>
<text x="63.3" y="222.2" font-size="10" textLength="155" lengthAdjust="spacingAndGlyphs">CD19<tspan font-size="8.6" dy="-2.6">+</tspan><tspan dy="2.6">CD5</tspan><tspan font-size="8.6" dy="-2.6">+</tspan><tspan dy="2.6"> sorted CD24</tspan><tspan font-size="8.6" dy="-2.6">+</tspan><tspan dy="2.6">CD38</tspan><tspan font-size="8.2" dy="-3.6">hi</tspan></text>
<text x="222.1" y="222.2" font-size="10" textLength="136.6" lengthAdjust="spacingAndGlyphs">gated cells (Breg-like CLL cells)</text>
<text x="58.50" y="236.70" font-size="10" fill="#000" text-anchor="middle" textLength="31.00" lengthAdjust="spacingAndGlyphs">Isotype</text>
<text x="18.30" y="248.00" font-size="7" fill="#55559a" stroke="#55559a" stroke-width="0.15" text-anchor="middle" textLength="7.2" lengthAdjust="spacingAndGlyphs">10</text><text x="22.00" y="245.00" font-size="4.6" fill="#55559a">4</text>
<text x="18.30" y="266.50" font-size="7" fill="#55559a" stroke="#55559a" stroke-width="0.15" text-anchor="middle" textLength="7.2" lengthAdjust="spacingAndGlyphs">10</text><text x="22.00" y="263.50" font-size="4.6" fill="#55559a">3</text>
<text x="18.30" y="283.50" font-size="7" fill="#55559a" stroke="#55559a" stroke-width="0.15" text-anchor="middle" textLength="7.2" lengthAdjust="spacingAndGlyphs">10</text><text x="22.00" y="280.50" font-size="4.6" fill="#55559a">2</text>
<text x="18.30" y="299.50" font-size="7" fill="#55559a" stroke="#55559a" stroke-width="0.15" text-anchor="middle" textLength="7.2" lengthAdjust="spacingAndGlyphs">10</text><text x="22.00" y="296.50" font-size="4.6" fill="#55559a">1</text>
<text x="27.80" y="310.00" font-size="7" fill="#55559a" stroke="#55559a" stroke-width="0.15" text-anchor="middle" textLength="7.2" lengthAdjust="spacingAndGlyphs">10</text><text x="31.50" y="307.00" font-size="4.6" fill="#55559a">1</text>
<text x="44.80" y="310.00" font-size="7" fill="#55559a" stroke="#55559a" stroke-width="0.15" text-anchor="middle" textLength="7.2" lengthAdjust="spacingAndGlyphs">10</text><text x="48.50" y="307.00" font-size="4.6" fill="#55559a">2</text>
<text x="64.80" y="310.00" font-size="7" fill="#55559a" stroke="#55559a" stroke-width="0.15" text-anchor="middle" textLength="7.2" lengthAdjust="spacingAndGlyphs">10</text><text x="68.50" y="307.00" font-size="4.6" fill="#55559a">3</text>
<text x="82.30" y="310.00" font-size="7" fill="#55559a" stroke="#55559a" stroke-width="0.15" text-anchor="middle" textLength="7.2" lengthAdjust="spacingAndGlyphs">10</text><text x="86.00" y="307.00" font-size="4.6" fill="#55559a">4</text>
<path d="M25.1 245.5H26.9M25.1 264.0H26.9M25.1 281.0H26.9M25.1 297.0H26.9M28.9 299.6V301.4M45.9 299.6V301.4M65.9 299.6V301.4M83.4 299.6V301.4" stroke="#2e4d8c" stroke-width="0.7" fill="none"/>
<text x="135.00" y="236.70" font-size="10" fill="#000" text-anchor="middle" textLength="41.00" lengthAdjust="spacingAndGlyphs">1. Vehicle</text>
<text x="98.00" y="248.00" font-size="7" fill="#55559a" stroke="#55559a" stroke-width="0.15" text-anchor="middle" textLength="7.2" lengthAdjust="spacingAndGlyphs">10</text><text x="101.70" y="245.00" font-size="4.6" fill="#55559a">4</text>
<text x="98.00" y="266.50" font-size="7" fill="#55559a" stroke="#55559a" stroke-width="0.15" text-anchor="middle" textLength="7.2" lengthAdjust="spacingAndGlyphs">10</text><text x="101.70" y="263.50" font-size="4.6" fill="#55559a">3</text>
<text x="98.00" y="283.50" font-size="7" fill="#55559a" stroke="#55559a" stroke-width="0.15" text-anchor="middle" textLength="7.2" lengthAdjust="spacingAndGlyphs">10</text><text x="101.70" y="280.50" font-size="4.6" fill="#55559a">2</text>
<text x="98.00" y="299.50" font-size="7" fill="#55559a" stroke="#55559a" stroke-width="0.15" text-anchor="middle" textLength="7.2" lengthAdjust="spacingAndGlyphs">10</text><text x="101.70" y="296.50" font-size="4.6" fill="#55559a">1</text>
<text x="107.50" y="310.00" font-size="7" fill="#55559a" stroke="#55559a" stroke-width="0.15" text-anchor="middle" textLength="7.2" lengthAdjust="spacingAndGlyphs">10</text><text x="111.20" y="307.00" font-size="4.6" fill="#55559a">1</text>
<text x="124.50" y="310.00" font-size="7" fill="#55559a" stroke="#55559a" stroke-width="0.15" text-anchor="middle" textLength="7.2" lengthAdjust="spacingAndGlyphs">10</text><text x="128.20" y="307.00" font-size="4.6" fill="#55559a">2</text>
<text x="144.50" y="310.00" font-size="7" fill="#55559a" stroke="#55559a" stroke-width="0.15" text-anchor="middle" textLength="7.2" lengthAdjust="spacingAndGlyphs">10</text><text x="148.20" y="307.00" font-size="4.6" fill="#55559a">3</text>
<text x="162.00" y="310.00" font-size="7" fill="#55559a" stroke="#55559a" stroke-width="0.15" text-anchor="middle" textLength="7.2" lengthAdjust="spacingAndGlyphs">10</text><text x="165.70" y="307.00" font-size="4.6" fill="#55559a">4</text>
<path d="M104.8 245.5H106.6M104.8 264.0H106.6M104.8 281.0H106.6M104.8 297.0H106.6M108.6 299.6V301.4M125.6 299.6V301.4M145.6 299.6V301.4M163.1 299.6V301.4" stroke="#2e4d8c" stroke-width="0.7" fill="none"/>
<text x="212.20" y="236.70" font-size="10" fill="#000" text-anchor="middle" textLength="23.50" lengthAdjust="spacingAndGlyphs">2. +D</text>
<text x="176.90" y="248.00" font-size="7" fill="#55559a" stroke="#55559a" stroke-width="0.15" text-anchor="middle" textLength="7.2" lengthAdjust="spacingAndGlyphs">10</text><text x="180.60" y="245.00" font-size="4.6" fill="#55559a">4</text>
<text x="176.90" y="266.50" font-size="7" fill="#55559a" stroke="#55559a" stroke-width="0.15" text-anchor="middle" textLength="7.2" lengthAdjust="spacingAndGlyphs">10</text><text x="180.60" y="263.50" font-size="4.6" fill="#55559a">3</text>
<text x="176.90" y="283.50" font-size="7" fill="#55559a" stroke="#55559a" stroke-width="0.15" text-anchor="middle" textLength="7.2" lengthAdjust="spacingAndGlyphs">10</text><text x="180.60" y="280.50" font-size="4.6" fill="#55559a">2</text>
<text x="176.90" y="299.50" font-size="7" fill="#55559a" stroke="#55559a" stroke-width="0.15" text-anchor="middle" textLength="7.2" lengthAdjust="spacingAndGlyphs">10</text><text x="180.60" y="296.50" font-size="4.6" fill="#55559a">1</text>
<text x="186.40" y="310.00" font-size="7" fill="#55559a" stroke="#55559a" stroke-width="0.15" text-anchor="middle" textLength="7.2" lengthAdjust="spacingAndGlyphs">10</text><text x="190.10" y="307.00" font-size="4.6" fill="#55559a">1</text>
<text x="203.40" y="310.00" font-size="7" fill="#55559a" stroke="#55559a" stroke-width="0.15" text-anchor="middle" textLength="7.2" lengthAdjust="spacingAndGlyphs">10</text><text x="207.10" y="307.00" font-size="4.6" fill="#55559a">2</text>
<text x="223.40" y="310.00" font-size="7" fill="#55559a" stroke="#55559a" stroke-width="0.15" text-anchor="middle" textLength="7.2" lengthAdjust="spacingAndGlyphs">10</text><text x="227.10" y="307.00" font-size="4.6" fill="#55559a">3</text>
<text x="240.90" y="310.00" font-size="7" fill="#55559a" stroke="#55559a" stroke-width="0.15" text-anchor="middle" textLength="7.2" lengthAdjust="spacingAndGlyphs">10</text><text x="244.60" y="307.00" font-size="4.6" fill="#55559a">4</text>
<path d="M183.7 245.5H185.5M183.7 264.0H185.5M183.7 281.0H185.5M183.7 297.0H185.5M187.5 299.6V301.4M204.5 299.6V301.4M224.5 299.6V301.4M242.0 299.6V301.4" stroke="#2e4d8c" stroke-width="0.7" fill="none"/>
<text x="292.00" y="236.70" font-size="10" fill="#000" text-anchor="middle" textLength="24.00" lengthAdjust="spacingAndGlyphs">3. +K</text>
<text x="256.90" y="248.00" font-size="7" fill="#55559a" stroke="#55559a" stroke-width="0.15" text-anchor="middle" textLength="7.2" lengthAdjust="spacingAndGlyphs">10</text><text x="260.60" y="245.00" font-size="4.6" fill="#55559a">4</text>
<text x="256.90" y="266.50" font-size="7" fill="#55559a" stroke="#55559a" stroke-width="0.15" text-anchor="middle" textLength="7.2" lengthAdjust="spacingAndGlyphs">10</text><text x="260.60" y="263.50" font-size="4.6" fill="#55559a">3</text>
<text x="256.90" y="283.50" font-size="7" fill="#55559a" stroke="#55559a" stroke-width="0.15" text-anchor="middle" textLength="7.2" lengthAdjust="spacingAndGlyphs">10</text><text x="260.60" y="280.50" font-size="4.6" fill="#55559a">2</text>
<text x="256.90" y="299.50" font-size="7" fill="#55559a" stroke="#55559a" stroke-width="0.15" text-anchor="middle" textLength="7.2" lengthAdjust="spacingAndGlyphs">10</text><text x="260.60" y="296.50" font-size="4.6" fill="#55559a">1</text>
<text x="266.40" y="310.00" font-size="7" fill="#55559a" stroke="#55559a" stroke-width="0.15" text-anchor="middle" textLength="7.2" lengthAdjust="spacingAndGlyphs">10</text><text x="270.10" y="307.00" font-size="4.6" fill="#55559a">1</text>
<text x="283.40" y="310.00" font-size="7" fill="#55559a" stroke="#55559a" stroke-width="0.15" text-anchor="middle" textLength="7.2" lengthAdjust="spacingAndGlyphs">10</text><text x="287.10" y="307.00" font-size="4.6" fill="#55559a">2</text>
<text x="303.40" y="310.00" font-size="7" fill="#55559a" stroke="#55559a" stroke-width="0.15" text-anchor="middle" textLength="7.2" lengthAdjust="spacingAndGlyphs">10</text><text x="307.10" y="307.00" font-size="4.6" fill="#55559a">3</text>
<text x="320.90" y="310.00" font-size="7" fill="#55559a" stroke="#55559a" stroke-width="0.15" text-anchor="middle" textLength="7.2" lengthAdjust="spacingAndGlyphs">10</text><text x="324.60" y="307.00" font-size="4.6" fill="#55559a">4</text>
<path d="M263.7 245.5H265.5M263.7 264.0H265.5M263.7 281.0H265.5M263.7 297.0H265.5M267.5 299.6V301.4M284.5 299.6V301.4M304.5 299.6V301.4M322.0 299.6V301.4" stroke="#2e4d8c" stroke-width="0.7" fill="none"/>
<text x="373.50" y="236.70" font-size="10" fill="#000" text-anchor="middle" textLength="35.00" lengthAdjust="spacingAndGlyphs">4. +78c</text>
<text x="335.90" y="248.00" font-size="7" fill="#55559a" stroke="#55559a" stroke-width="0.15" text-anchor="middle" textLength="7.2" lengthAdjust="spacingAndGlyphs">10</text><text x="339.60" y="245.00" font-size="4.6" fill="#55559a">4</text>
<text x="335.90" y="266.50" font-size="7" fill="#55559a" stroke="#55559a" stroke-width="0.15" text-anchor="middle" textLength="7.2" lengthAdjust="spacingAndGlyphs">10</text><text x="339.60" y="263.50" font-size="4.6" fill="#55559a">3</text>
<text x="335.90" y="283.50" font-size="7" fill="#55559a" stroke="#55559a" stroke-width="0.15" text-anchor="middle" textLength="7.2" lengthAdjust="spacingAndGlyphs">10</text><text x="339.60" y="280.50" font-size="4.6" fill="#55559a">2</text>
<text x="335.90" y="299.50" font-size="7" fill="#55559a" stroke="#55559a" stroke-width="0.15" text-anchor="middle" textLength="7.2" lengthAdjust="spacingAndGlyphs">10</text><text x="339.60" y="296.50" font-size="4.6" fill="#55559a">1</text>
<text x="345.40" y="310.00" font-size="7" fill="#55559a" stroke="#55559a" stroke-width="0.15" text-anchor="middle" textLength="7.2" lengthAdjust="spacingAndGlyphs">10</text><text x="349.10" y="307.00" font-size="4.6" fill="#55559a">1</text>
<text x="362.40" y="310.00" font-size="7" fill="#55559a" stroke="#55559a" stroke-width="0.15" text-anchor="middle" textLength="7.2" lengthAdjust="spacingAndGlyphs">10</text><text x="366.10" y="307.00" font-size="4.6" fill="#55559a">2</text>
<text x="382.40" y="310.00" font-size="7" fill="#55559a" stroke="#55559a" stroke-width="0.15" text-anchor="middle" textLength="7.2" lengthAdjust="spacingAndGlyphs">10</text><text x="386.10" y="307.00" font-size="4.6" fill="#55559a">3</text>
<text x="399.90" y="310.00" font-size="7" fill="#55559a" stroke="#55559a" stroke-width="0.15" text-anchor="middle" textLength="7.2" lengthAdjust="spacingAndGlyphs">10</text><text x="403.60" y="307.00" font-size="4.6" fill="#55559a">4</text>
<path d="M342.7 245.5H344.5M342.7 264.0H344.5M342.7 281.0H344.5M342.7 297.0H344.5M346.5 299.6V301.4M363.5 299.6V301.4M383.5 299.6V301.4M401.0 299.6V301.4" stroke="#2e4d8c" stroke-width="0.7" fill="none"/>
<path d="M34.00 284.00C34.17 282.42 34.67 280.58 36.00 279.50C37.33 278.42 39.67 277.83 42.00 277.50C44.33 277.17 47.83 276.92 50.00 277.50C52.17 278.08 54.08 279.42 55.00 281.00C55.92 282.58 56.00 285.17 55.50 287.00C55.00 288.83 53.58 290.75 52.00 292.00C50.42 293.25 48.17 294.33 46.00 294.50C43.83 294.67 40.83 293.92 39.00 293.00C37.17 292.08 35.83 290.50 35.00 289.00C34.17 287.50 33.83 285.58 34.00 284.00Z" fill="#bfc3f2" opacity="0.6"/>
<g fill="none" stroke="#3c46c4" stroke-width="0.6" opacity="0.85"><path d="M34.00 284.00C34.17 282.42 34.67 280.58 36.00 279.50C37.33 278.42 39.67 277.83 42.00 277.50C44.33 277.17 47.83 276.92 50.00 277.50C52.17 278.08 54.08 279.42 55.00 281.00C55.92 282.58 56.00 285.17 55.50 287.00C55.00 288.83 53.58 290.75 52.00 292.00C50.42 293.25 48.17 294.33 46.00 294.50C43.83 294.67 40.83 293.92 39.00 293.00C37.17 292.08 35.83 290.50 35.00 289.00C34.17 287.50 33.83 285.58 34.00 284.00Z"/><path d="M35.86 284.06C36.00 282.73 36.42 281.19 37.54 280.28C38.66 279.37 40.62 278.88 42.58 278.60C44.54 278.32 47.48 278.11 49.30 278.60C51.12 279.09 52.73 280.21 53.50 281.54C54.27 282.87 54.34 285.04 53.92 286.58C53.50 288.12 52.31 289.73 50.98 290.78C49.65 291.83 47.76 292.74 45.94 292.88C44.12 293.02 41.60 292.39 40.06 291.62C38.52 290.85 37.40 289.52 36.70 288.26C36.00 287.00 35.72 285.39 35.86 284.06Z"/><path d="M37.71 284.13C37.83 283.05 38.17 281.80 39.07 281.07C39.98 280.33 41.57 279.93 43.15 279.71C44.74 279.48 47.12 279.31 48.59 279.71C50.07 280.10 51.37 281.01 51.99 282.09C52.62 283.16 52.67 284.92 52.33 286.17C51.99 287.41 51.03 288.72 49.95 289.57C48.88 290.42 47.35 291.15 45.87 291.27C44.40 291.38 42.36 290.87 41.11 290.25C39.87 289.62 38.96 288.55 38.39 287.53C37.83 286.51 37.60 285.20 37.71 284.13Z"/><path d="M39.57 284.19C39.65 283.37 39.91 282.42 40.61 281.85C41.30 281.29 42.51 280.99 43.73 280.81C44.94 280.64 46.76 280.51 47.89 280.81C49.01 281.12 50.01 281.81 50.49 282.63C50.96 283.46 51.01 284.80 50.75 285.75C50.49 286.71 49.75 287.70 48.93 288.35C48.10 289.00 46.93 289.57 45.81 289.65C44.68 289.74 43.12 289.35 42.17 288.87C41.21 288.40 40.52 287.57 40.09 286.79C39.65 286.01 39.48 285.02 39.57 284.19Z"/></g>
<g transform="translate(45.60 284.40) rotate(0)" filter="url(#bl)"><ellipse cx="0" cy="0" rx="5.80" ry="5.60" fill="#1f22d8"/><ellipse cx="0" cy="0" rx="5.05" ry="4.87" fill="#1fb7f0"/><ellipse cx="0" cy="0" rx="4.18" ry="4.03" fill="#37c23a"/><ellipse cx="0" cy="0" rx="3.19" ry="3.08" fill="#f2ef10"/><ellipse cx="0" cy="0" rx="2.20" ry="2.13" fill="#ff9200"/><ellipse cx="0" cy="0" rx="1.28" ry="1.23" fill="#ff1800"/></g>
<path d="M54.3 294.2h.9v.9h-.9zM63.8 292.3h.9v.9h-.9zM45.0 296.3h.9v.9h-.9zM39.1 283.5h.9v.9h-.9zM56.0 282.7h.9v.9h-.9zM45.9 281.9h.9v.9h-.9zM59.3 269.2h.9v.9h-.9zM58.5 290.4h.9v.9h-.9zM46.3 287.4h.9v.9h-.9zM38.3 290.7h.9v.9h-.9zM74.5 278.5h.9v.9h-.9zM59.6 283.7h.9v.9h-.9zM44.0 281.1h.9v.9h-.9zM45.3 276.5h.9v.9h-.9zM34.8 294.0h.9v.9h-.9zM46.8 287.3h.9v.9h-.9zM49.8 286.9h.9v.9h-.9zM33.3 278.3h.9v.9h-.9zM52.7 290.0h.9v.9h-.9zM36.7 280.5h.9v.9h-.9zM37.4 287.9h.9v.9h-.9zM50.1 284.2h.9v.9h-.9zM41.2 286.1h.9v.9h-.9zM47.3 279.5h.9v.9h-.9zM50.0 280.0h.9v.9h-.9zM55.6 287.8h.9v.9h-.9zM40.8 287.5h.9v.9h-.9zM47.6 279.8h.9v.9h-.9zM38.8 274.0h.9v.9h-.9zM36.8 286.1h.9v.9h-.9zM57.9 280.2h.9v.9h-.9zM48.4 286.1h.9v.9h-.9zM54.0 286.7h.9v.9h-.9zM58.0 288.6h.9v.9h-.9zM40.1 286.4h.9v.9h-.9zM47.2 287.5h.9v.9h-.9zM44.3 289.0h.9v.9h-.9zM58.9 279.0h.9v.9h-.9zM42.1 285.6h.9v.9h-.9zM51.4 284.9h.9v.9h-.9zM54.5 276.9h.9v.9h-.9zM54.0 291.0h.9v.9h-.9zM57.0 286.6h.9v.9h-.9zM44.9 286.4h.9v.9h-.9zM46.3 274.5h.9v.9h-.9zM41.6 283.8h.9v.9h-.9zM42.4 278.4h.9v.9h-.9zM44.9 281.8h.9v.9h-.9zM47.6 283.7h.9v.9h-.9z" fill="#5a6fd6" opacity="0.5"/>
<path d="M140.1 288.9h.9v.9h-.9zM139.5 284.3h.9v.9h-.9zM115.0 257.4h.9v.9h-.9zM129.8 286.4h.9v.9h-.9zM130.9 276.0h.9v.9h-.9zM114.7 288.1h.9v.9h-.9zM127.5 283.0h.9v.9h-.9zM157.4 285.3h.9v.9h-.9zM154.2 286.5h.9v.9h-.9zM125.2 281.4h.9v.9h-.9zM126.8 272.8h.9v.9h-.9zM142.4 274.8h.9v.9h-.9zM127.2 281.7h.9v.9h-.9zM127.7 281.4h.9v.9h-.9zM126.1 269.6h.9v.9h-.9zM164.4 284.6h.9v.9h-.9zM139.8 277.3h.9v.9h-.9zM134.4 283.4h.9v.9h-.9zM112.0 274.6h.9v.9h-.9zM121.0 291.1h.9v.9h-.9zM118.0 290.4h.9v.9h-.9zM135.6 281.3h.9v.9h-.9zM161.3 288.0h.9v.9h-.9zM153.9 272.4h.9v.9h-.9zM157.4 294.4h.9v.9h-.9zM135.2 277.1h.9v.9h-.9zM117.4 289.1h.9v.9h-.9zM142.3 281.1h.9v.9h-.9zM114.8 294.0h.9v.9h-.9zM152.8 280.8h.9v.9h-.9zM163.6 273.4h.9v.9h-.9zM152.9 273.0h.9v.9h-.9zM162.4 278.8h.9v.9h-.9zM159.0 277.7h.9v.9h-.9zM144.2 290.1h.9v.9h-.9zM120.8 281.8h.9v.9h-.9zM121.9 287.8h.9v.9h-.9zM126.1 278.0h.9v.9h-.9zM133.4 290.3h.9v.9h-.9zM118.3 280.8h.9v.9h-.9zM131.1 276.6h.9v.9h-.9zM122.8 279.7h.9v.9h-.9zM140.5 268.6h.9v.9h-.9zM141.2 271.5h.9v.9h-.9zM119.6 280.5h.9v.9h-.9zM132.4 288.9h.9v.9h-.9zM128.5 266.7h.9v.9h-.9zM108.0 282.4h.9v.9h-.9zM141.6 289.5h.9v.9h-.9zM127.3 286.3h.9v.9h-.9zM117.8 291.4h.9v.9h-.9zM135.7 275.6h.9v.9h-.9zM140.2 294.9h.9v.9h-.9zM121.7 271.1h.9v.9h-.9zM118.7 271.8h.9v.9h-.9zM136.1 283.8h.9v.9h-.9zM134.0 282.6h.9v.9h-.9zM158.3 278.7h.9v.9h-.9zM114.5 262.7h.9v.9h-.9zM141.4 275.6h.9v.9h-.9zM132.5 284.3h.9v.9h-.9zM145.3 268.5h.9v.9h-.9zM119.8 281.6h.9v.9h-.9zM134.4 290.2h.9v.9h-.9zM128.0 264.5h.9v.9h-.9zM158.1 267.9h.9v.9h-.9zM119.5 284.1h.9v.9h-.9zM141.3 285.3h.9v.9h-.9zM129.1 298.7h.9v.9h-.9zM146.7 275.3h.9v.9h-.9zM159.6 267.5h.9v.9h-.9zM126.4 283.3h.9v.9h-.9zM139.5 273.3h.9v.9h-.9zM120.2 284.0h.9v.9h-.9zM125.6 277.5h.9v.9h-.9zM154.8 282.0h.9v.9h-.9zM135.0 281.8h.9v.9h-.9zM115.9 290.8h.9v.9h-.9zM123.5 291.5h.9v.9h-.9zM128.8 277.4h.9v.9h-.9zM163.7 282.5h.9v.9h-.9zM125.5 276.7h.9v.9h-.9zM147.9 296.0h.9v.9h-.9z" fill="#5a6fd6" opacity="0.45"/>
<path d="M164.5 262.9h.9v.9h-.9zM157.5 260.6h.9v.9h-.9zM161.5 268.0h.9v.9h-.9zM159.4 276.2h.9v.9h-.9zM158.2 260.3h.9v.9h-.9zM164.0 269.8h.9v.9h-.9zM160.4 273.7h.9v.9h-.9zM156.4 279.1h.9v.9h-.9zM162.5 281.7h.9v.9h-.9zM162.2 276.6h.9v.9h-.9zM161.2 267.6h.9v.9h-.9zM164.1 252.0h.9v.9h-.9zM161.2 279.7h.9v.9h-.9zM150.3 269.1h.9v.9h-.9zM162.8 277.1h.9v.9h-.9zM163.3 250.9h.9v.9h-.9zM158.2 263.6h.9v.9h-.9zM162.6 262.4h.9v.9h-.9zM161.6 279.3h.9v.9h-.9zM150.3 275.2h.9v.9h-.9zM162.1 266.5h.9v.9h-.9zM163.5 267.9h.9v.9h-.9z" fill="#5a6fd6" opacity="0.6"/>
<path d="M107.00 279.00C108.17 276.75 111.17 277.83 115.00 277.50C118.83 277.17 125.00 276.92 130.00 277.00C135.00 277.08 140.00 277.67 145.00 278.00C150.00 278.33 156.67 278.50 160.00 279.00C163.33 279.50 164.17 279.50 165.00 281.00C165.83 282.50 167.50 286.33 165.00 288.00C162.50 289.67 155.00 290.08 150.00 291.00C145.00 291.92 140.00 293.25 135.00 293.50C130.00 293.75 124.50 292.92 120.00 292.50C115.50 292.08 110.17 293.25 108.00 291.00C105.83 288.75 105.83 281.25 107.00 279.00Z" fill="#bfc3f2" opacity="0.6"/>
<g fill="none" stroke="#3c46c4" stroke-width="0.6" opacity="0.85"><path d="M107.00 279.00C108.17 276.75 111.17 277.83 115.00 277.50C118.83 277.17 125.00 276.92 130.00 277.00C135.00 277.08 140.00 277.67 145.00 278.00C150.00 278.33 156.67 278.50 160.00 279.00C163.33 279.50 164.17 279.50 165.00 281.00C165.83 282.50 167.50 286.33 165.00 288.00C162.50 289.67 155.00 290.08 150.00 291.00C145.00 291.92 140.00 293.25 135.00 293.50C130.00 293.75 124.50 292.92 120.00 292.50C115.50 292.08 110.17 293.25 108.00 291.00C105.83 288.75 105.83 281.25 107.00 279.00Z"/><path d="M110.78 279.80C111.76 277.91 114.28 278.82 117.50 278.54C120.72 278.26 125.90 278.05 130.10 278.12C134.30 278.19 138.50 278.68 142.70 278.96C146.90 279.24 152.50 279.38 155.30 279.80C158.10 280.22 158.80 280.22 159.50 281.48C160.20 282.74 161.60 285.96 159.50 287.36C157.40 288.76 151.10 289.11 146.90 289.88C142.70 290.65 138.50 291.77 134.30 291.98C130.10 292.19 125.48 291.49 121.70 291.14C117.92 290.79 113.44 291.77 111.62 289.88C109.80 287.99 109.80 281.69 110.78 279.80Z"/><path d="M114.55 280.60C115.35 279.07 117.39 279.81 119.99 279.58C122.60 279.35 126.79 279.18 130.19 279.24C133.59 279.30 136.99 279.69 140.39 279.92C143.79 280.15 148.33 280.26 150.59 280.60C152.86 280.94 153.43 280.94 153.99 281.96C154.56 282.98 155.69 285.59 153.99 286.72C152.29 287.85 147.19 288.14 143.79 288.76C140.39 289.38 136.99 290.29 133.59 290.46C130.19 290.63 126.45 290.06 123.39 289.78C120.33 289.50 116.71 290.29 115.23 288.76C113.76 287.23 113.76 282.13 114.55 280.60Z"/><path d="M118.33 281.40C118.93 280.23 120.49 280.79 122.49 280.62C124.48 280.45 127.69 280.32 130.29 280.36C132.89 280.40 135.49 280.71 138.09 280.88C140.69 281.05 144.15 281.14 145.89 281.40C147.62 281.66 148.05 281.66 148.49 282.44C148.92 283.22 149.79 285.21 148.49 286.08C147.19 286.95 143.29 287.16 140.69 287.64C138.09 288.12 135.49 288.81 132.89 288.94C130.29 289.07 127.43 288.64 125.09 288.42C122.75 288.20 119.97 288.81 118.85 287.64C117.72 286.47 117.72 282.57 118.33 281.40Z"/><path d="M122.10 282.20C122.52 281.39 123.60 281.78 124.98 281.66C126.36 281.54 128.58 281.45 130.38 281.48C132.18 281.51 133.98 281.72 135.78 281.84C137.58 281.96 139.98 282.02 141.18 282.20C142.38 282.38 142.68 282.38 142.98 282.92C143.28 283.46 143.88 284.84 142.98 285.44C142.08 286.04 139.38 286.19 137.58 286.52C135.78 286.85 133.98 287.33 132.18 287.42C130.38 287.51 128.40 287.21 126.78 287.06C125.16 286.91 123.24 287.33 122.46 286.52C121.68 285.71 121.68 283.01 122.10 282.20Z"/></g>
<g transform="translate(130.60 284.00) rotate(0)" filter="url(#bl)"><ellipse cx="0" cy="0" rx="10.30" ry="5.80" fill="#1f22d8"/><ellipse cx="0" cy="0" rx="8.96" ry="5.05" fill="#1fb7f0"/><ellipse cx="0" cy="0" rx="7.42" ry="4.18" fill="#37c23a"/><ellipse cx="0" cy="0" rx="5.67" ry="3.19" fill="#f2ef10"/><ellipse cx="0" cy="0" rx="3.91" ry="2.20" fill="#ff9200"/><ellipse cx="0" cy="0" rx="2.27" ry="1.28" fill="#ff1800"/></g>
<path d="M107 277.5 C110 278 111 283 110.5 286 C110 290 108.5 292 107 292 Z" fill="#2030e0"/>
<path d="M107 280 C109 281 109.4 284 109.2 286 C109 288 108 290 107 290 Z" fill="#37c23a"/>
<path d="M201.9 290.5h.9v.9h-.9zM200.4 284.7h.9v.9h-.9zM207.0 276.9h.9v.9h-.9zM220.5 284.5h.9v.9h-.9zM195.7 284.5h.9v.9h-.9zM192.7 295.0h.9v.9h-.9zM219.2 298.9h.9v.9h-.9zM204.1 289.9h.9v.9h-.9zM198.5 279.0h.9v.9h-.9zM210.8 287.9h.9v.9h-.9zM224.9 283.1h.9v.9h-.9zM227.4 291.7h.9v.9h-.9zM199.8 283.8h.9v.9h-.9zM199.2 296.9h.9v.9h-.9zM204.3 291.2h.9v.9h-.9zM224.8 283.2h.9v.9h-.9zM205.2 287.4h.9v.9h-.9zM201.2 276.2h.9v.9h-.9zM198.5 287.4h.9v.9h-.9zM214.7 297.3h.9v.9h-.9zM186.5 288.5h.9v.9h-.9zM195.9 293.1h.9v.9h-.9zM221.7 285.9h.9v.9h-.9zM232.6 282.4h.9v.9h-.9zM204.6 277.7h.9v.9h-.9zM202.9 285.8h.9v.9h-.9zM221.4 293.9h.9v.9h-.9zM208.3 279.9h.9v.9h-.9zM207.3 282.0h.9v.9h-.9zM205.5 282.2h.9v.9h-.9zM199.9 284.6h.9v.9h-.9zM204.9 283.8h.9v.9h-.9zM192.7 286.0h.9v.9h-.9zM220.0 289.5h.9v.9h-.9zM204.4 277.1h.9v.9h-.9zM193.9 276.8h.9v.9h-.9zM203.1 282.8h.9v.9h-.9zM187.3 289.7h.9v.9h-.9zM190.6 280.2h.9v.9h-.9zM202.0 290.8h.9v.9h-.9zM237.6 282.5h.9v.9h-.9zM208.2 282.3h.9v.9h-.9zM209.2 283.8h.9v.9h-.9zM210.5 279.5h.9v.9h-.9zM217.0 281.4h.9v.9h-.9zM220.0 277.5h.9v.9h-.9zM241.3 286.5h.9v.9h-.9zM187.5 289.9h.9v.9h-.9zM205.5 277.0h.9v.9h-.9zM218.1 281.4h.9v.9h-.9zM222.2 281.2h.9v.9h-.9zM224.5 286.0h.9v.9h-.9zM217.0 286.1h.9v.9h-.9zM206.9 282.5h.9v.9h-.9zM218.3 289.9h.9v.9h-.9zM235.4 277.1h.9v.9h-.9zM227.0 284.5h.9v.9h-.9zM215.2 279.5h.9v.9h-.9zM234.9 279.3h.9v.9h-.9zM210.9 280.0h.9v.9h-.9zM238.7 293.7h.9v.9h-.9zM193.8 281.9h.9v.9h-.9zM217.0 282.0h.9v.9h-.9zM207.1 277.6h.9v.9h-.9zM215.5 277.5h.9v.9h-.9zM207.5 296.3h.9v.9h-.9zM217.2 280.4h.9v.9h-.9z" fill="#5a6fd6" opacity="0.45"/>
<path d="M190.00 285.00C190.33 283.25 191.50 280.67 194.00 279.50C196.50 278.33 201.50 278.08 205.00 278.00C208.50 277.92 212.17 278.50 215.00 279.00C217.83 279.50 220.17 280.17 222.00 281.00C223.83 281.83 226.33 282.83 226.00 284.00C225.67 285.17 222.33 286.50 220.00 288.00C217.67 289.50 215.33 292.17 212.00 293.00C208.67 293.83 203.33 293.50 200.00 293.00C196.67 292.50 193.67 291.33 192.00 290.00C190.33 288.67 189.67 286.75 190.00 285.00Z" fill="#bfc3f2" opacity="0.6"/>
<g fill="none" stroke="#3c46c4" stroke-width="0.6" opacity="0.85"><path d="M190.00 285.00C190.33 283.25 191.50 280.67 194.00 279.50C196.50 278.33 201.50 278.08 205.00 278.00C208.50 277.92 212.17 278.50 215.00 279.00C217.83 279.50 220.17 280.17 222.00 281.00C223.83 281.83 226.33 282.83 226.00 284.00C225.67 285.17 222.33 286.50 220.00 288.00C217.67 289.50 215.33 292.17 212.00 293.00C208.67 293.83 203.33 293.50 200.00 293.00C196.67 292.50 193.67 291.33 192.00 290.00C190.33 288.67 189.67 286.75 190.00 285.00Z"/><path d="M192.94 285.10C193.22 283.63 194.20 281.46 196.30 280.48C198.40 279.50 202.60 279.29 205.54 279.22C208.48 279.15 211.56 279.64 213.94 280.06C216.32 280.48 218.28 281.04 219.82 281.74C221.36 282.44 223.46 283.28 223.18 284.26C222.90 285.24 220.10 286.36 218.14 287.62C216.18 288.88 214.22 291.12 211.42 291.82C208.62 292.52 204.14 292.24 201.34 291.82C198.54 291.40 196.02 290.42 194.62 289.30C193.22 288.18 192.66 286.57 192.94 285.10Z"/><path d="M195.89 285.19C196.11 284.00 196.91 282.25 198.61 281.45C200.31 280.66 203.71 280.49 206.09 280.43C208.47 280.38 210.96 280.77 212.89 281.11C214.81 281.45 216.40 281.91 217.65 282.47C218.89 283.04 220.59 283.72 220.37 284.51C220.14 285.31 217.87 286.21 216.29 287.23C214.70 288.25 213.11 290.07 210.85 290.63C208.58 291.20 204.95 290.97 202.69 290.63C200.42 290.29 198.38 289.50 197.25 288.59C196.11 287.69 195.66 286.38 195.89 285.19Z"/><path d="M198.83 285.29C199.01 284.38 199.61 283.03 200.91 282.43C202.21 281.82 204.81 281.69 206.63 281.65C208.45 281.60 210.36 281.91 211.83 282.17C213.31 282.43 214.52 282.77 215.47 283.21C216.43 283.64 217.73 284.16 217.55 284.77C217.38 285.37 215.65 286.07 214.43 286.85C213.22 287.63 212.01 289.01 210.27 289.45C208.54 289.88 205.77 289.71 204.03 289.45C202.30 289.19 200.74 288.58 199.87 287.89C199.01 287.19 198.66 286.20 198.83 285.29Z"/></g>
<g transform="translate(208.40 285.60) rotate(0)" filter="url(#bl)"><ellipse cx="0" cy="0" rx="7.00" ry="6.00" fill="#1f22d8"/><ellipse cx="0" cy="0" rx="6.09" ry="5.22" fill="#1fb7f0"/><ellipse cx="0" cy="0" rx="5.04" ry="4.32" fill="#37c23a"/><ellipse cx="0" cy="0" rx="3.85" ry="3.30" fill="#f2ef10"/><ellipse cx="0" cy="0" rx="2.66" ry="2.28" fill="#ff9200"/><ellipse cx="0" cy="0" rx="1.54" ry="1.32" fill="#ff1800"/></g>
<path d="M286.6 278.4h.9v.9h-.9zM293.8 289.8h.9v.9h-.9zM306.7 283.1h.9v.9h-.9zM273.2 284.5h.9v.9h-.9zM318.4 286.9h.9v.9h-.9zM291.0 270.7h.9v.9h-.9zM285.2 288.8h.9v.9h-.9zM277.1 294.3h.9v.9h-.9zM283.1 279.0h.9v.9h-.9zM282.9 284.4h.9v.9h-.9zM307.8 281.1h.9v.9h-.9zM300.2 295.6h.9v.9h-.9zM274.3 295.2h.9v.9h-.9zM302.7 288.1h.9v.9h-.9zM279.9 279.0h.9v.9h-.9zM277.0 291.4h.9v.9h-.9zM295.5 292.4h.9v.9h-.9zM320.6 285.1h.9v.9h-.9zM291.3 298.2h.9v.9h-.9zM271.5 281.9h.9v.9h-.9zM286.2 282.4h.9v.9h-.9zM294.3 279.3h.9v.9h-.9zM310.3 275.7h.9v.9h-.9zM279.2 273.4h.9v.9h-.9zM269.9 289.1h.9v.9h-.9zM301.9 283.7h.9v.9h-.9zM305.3 289.3h.9v.9h-.9zM282.9 284.8h.9v.9h-.9zM297.8 298.8h.9v.9h-.9zM285.1 287.6h.9v.9h-.9zM300.6 293.4h.9v.9h-.9zM298.7 292.4h.9v.9h-.9zM275.3 283.2h.9v.9h-.9zM293.4 286.9h.9v.9h-.9zM294.3 276.0h.9v.9h-.9zM281.1 283.8h.9v.9h-.9zM294.7 279.1h.9v.9h-.9zM290.3 280.0h.9v.9h-.9zM271.3 280.5h.9v.9h-.9zM279.3 290.8h.9v.9h-.9zM313.1 289.0h.9v.9h-.9zM288.7 281.2h.9v.9h-.9zM267.3 281.4h.9v.9h-.9zM316.6 292.9h.9v.9h-.9zM295.5 283.4h.9v.9h-.9zM292.1 287.9h.9v.9h-.9zM291.9 288.0h.9v.9h-.9zM279.9 285.4h.9v.9h-.9zM286.5 292.4h.9v.9h-.9zM272.5 293.9h.9v.9h-.9zM290.7 281.6h.9v.9h-.9zM292.3 285.9h.9v.9h-.9zM288.3 287.9h.9v.9h-.9zM282.9 273.5h.9v.9h-.9zM303.0 284.9h.9v.9h-.9zM318.2 287.7h.9v.9h-.9zM281.2 288.8h.9v.9h-.9zM274.8 284.4h.9v.9h-.9zM266.7 289.6h.9v.9h-.9zM300.8 278.0h.9v.9h-.9zM299.1 291.4h.9v.9h-.9zM304.7 280.5h.9v.9h-.9zM281.1 277.4h.9v.9h-.9zM271.7 287.2h.9v.9h-.9zM292.6 293.9h.9v.9h-.9z" fill="#5a6fd6" opacity="0.45"/>
<path d="M268.00 284.00C268.33 282.42 269.17 280.58 272.00 279.50C274.83 278.42 280.67 277.58 285.00 277.50C289.33 277.42 294.50 278.25 298.00 279.00C301.50 279.75 304.50 280.67 306.00 282.00C307.50 283.33 308.33 285.50 307.00 287.00C305.67 288.50 301.17 289.83 298.00 291.00C294.83 292.17 291.33 293.67 288.00 294.00C284.67 294.33 281.00 293.83 278.00 293.00C275.00 292.17 271.67 290.50 270.00 289.00C268.33 287.50 267.67 285.58 268.00 284.00Z" fill="#bfc3f2" opacity="0.6"/>
<g fill="none" stroke="#3c46c4" stroke-width="0.6" opacity="0.85"><path d="M268.00 284.00C268.33 282.42 269.17 280.58 272.00 279.50C274.83 278.42 280.67 277.58 285.00 277.50C289.33 277.42 294.50 278.25 298.00 279.00C301.50 279.75 304.50 280.67 306.00 282.00C307.50 283.33 308.33 285.50 307.00 287.00C305.67 288.50 301.17 289.83 298.00 291.00C294.83 292.17 291.33 293.67 288.00 294.00C284.67 294.33 281.00 293.83 278.00 293.00C275.00 292.17 271.67 290.50 270.00 289.00C268.33 287.50 267.67 285.58 268.00 284.00Z"/><path d="M271.50 284.06C271.78 282.73 272.48 281.19 274.86 280.28C277.24 279.37 282.14 278.67 285.78 278.60C289.42 278.53 293.76 279.23 296.70 279.86C299.64 280.49 302.16 281.26 303.42 282.38C304.68 283.50 305.38 285.32 304.26 286.58C303.14 287.84 299.36 288.96 296.70 289.94C294.04 290.92 291.10 292.18 288.30 292.46C285.50 292.74 282.42 292.32 279.90 291.62C277.38 290.92 274.58 289.52 273.18 288.26C271.78 287.00 271.22 285.39 271.50 284.06Z"/><path d="M275.01 284.13C275.23 283.05 275.80 281.80 277.73 281.07C279.65 280.33 283.62 279.76 286.57 279.71C289.51 279.65 293.03 280.22 295.41 280.73C297.79 281.24 299.83 281.86 300.85 282.77C301.87 283.67 302.43 285.15 301.53 286.17C300.62 287.19 297.56 288.09 295.41 288.89C293.25 289.68 290.87 290.70 288.61 290.93C286.34 291.15 283.85 290.81 281.81 290.25C279.77 289.68 277.50 288.55 276.37 287.53C275.23 286.51 274.78 285.20 275.01 284.13Z"/><path d="M278.51 284.19C278.69 283.37 279.12 282.42 280.59 281.85C282.07 281.29 285.10 280.86 287.35 280.81C289.61 280.77 292.29 281.20 294.11 281.59C295.93 281.98 297.49 282.46 298.27 283.15C299.05 283.85 299.49 284.97 298.79 285.75C298.10 286.53 295.76 287.23 294.11 287.83C292.47 288.44 290.65 289.22 288.91 289.39C287.18 289.57 285.27 289.31 283.71 288.87C282.15 288.44 280.42 287.57 279.55 286.79C278.69 286.01 278.34 285.02 278.51 284.19Z"/></g>
<g transform="translate(289.90 284.40) rotate(0)" filter="url(#bl)"><ellipse cx="0" cy="0" rx="6.90" ry="6.20" fill="#1f22d8"/><ellipse cx="0" cy="0" rx="6.00" ry="5.39" fill="#1fb7f0"/><ellipse cx="0" cy="0" rx="4.97" ry="4.46" fill="#37c23a"/><ellipse cx="0" cy="0" rx="3.80" ry="3.41" fill="#f2ef10"/><ellipse cx="0" cy="0" rx="2.62" ry="2.36" fill="#ff9200"/><ellipse cx="0" cy="0" rx="1.52" ry="1.36" fill="#ff1800"/></g>
<path d="M376.3 282.9h.9v.9h-.9zM349.6 295.6h.9v.9h-.9zM374.6 284.8h.9v.9h-.9zM356.2 277.9h.9v.9h-.9zM382.0 278.4h.9v.9h-.9zM381.2 289.3h.9v.9h-.9zM366.0 274.0h.9v.9h-.9zM378.5 294.6h.9v.9h-.9zM359.0 276.5h.9v.9h-.9zM389.1 286.0h.9v.9h-.9zM362.2 293.4h.9v.9h-.9zM367.7 288.1h.9v.9h-.9zM365.7 279.9h.9v.9h-.9zM375.5 279.2h.9v.9h-.9zM391.4 292.5h.9v.9h-.9zM397.4 286.8h.9v.9h-.9zM365.2 288.2h.9v.9h-.9zM357.1 290.1h.9v.9h-.9zM365.0 286.8h.9v.9h-.9zM358.6 284.2h.9v.9h-.9zM387.4 283.6h.9v.9h-.9zM361.4 287.0h.9v.9h-.9zM385.8 283.8h.9v.9h-.9zM353.6 274.5h.9v.9h-.9zM351.0 292.3h.9v.9h-.9zM370.6 288.3h.9v.9h-.9zM388.9 287.0h.9v.9h-.9zM379.6 281.6h.9v.9h-.9zM346.7 289.3h.9v.9h-.9zM370.5 289.0h.9v.9h-.9zM355.3 284.1h.9v.9h-.9zM373.5 294.0h.9v.9h-.9zM368.4 285.9h.9v.9h-.9zM365.1 293.8h.9v.9h-.9zM370.6 282.6h.9v.9h-.9zM378.8 283.5h.9v.9h-.9zM363.9 295.5h.9v.9h-.9zM387.4 285.8h.9v.9h-.9zM384.7 290.7h.9v.9h-.9zM381.1 285.4h.9v.9h-.9zM373.1 287.8h.9v.9h-.9zM380.9 287.5h.9v.9h-.9zM363.4 284.6h.9v.9h-.9zM379.2 278.4h.9v.9h-.9zM371.9 290.2h.9v.9h-.9zM374.6 283.2h.9v.9h-.9zM371.6 281.8h.9v.9h-.9zM387.4 282.6h.9v.9h-.9zM345.9 277.0h.9v.9h-.9zM376.7 286.5h.9v.9h-.9zM364.6 276.3h.9v.9h-.9zM369.7 279.4h.9v.9h-.9zM361.7 285.1h.9v.9h-.9zM360.0 287.2h.9v.9h-.9zM360.4 282.0h.9v.9h-.9zM368.4 294.9h.9v.9h-.9zM396.7 291.4h.9v.9h-.9zM360.5 285.1h.9v.9h-.9zM386.3 290.5h.9v.9h-.9zM346.5 284.7h.9v.9h-.9zM360.4 290.1h.9v.9h-.9zM382.0 281.5h.9v.9h-.9zM370.7 297.8h.9v.9h-.9zM363.8 281.9h.9v.9h-.9z" fill="#5a6fd6" opacity="0.45"/>
<path d="M346.00 284.00C346.67 282.42 348.83 280.67 352.00 279.50C355.17 278.33 360.33 277.08 365.00 277.00C369.67 276.92 375.83 278.17 380.00 279.00C384.17 279.83 388.50 280.50 390.00 282.00C391.50 283.50 391.00 286.33 389.00 288.00C387.00 289.67 381.83 290.67 378.00 292.00C374.17 293.33 369.67 295.83 366.00 296.00C362.33 296.17 359.00 294.17 356.00 293.00C353.00 291.83 349.67 290.50 348.00 289.00C346.33 287.50 345.33 285.58 346.00 284.00Z" fill="#bfc3f2" opacity="0.6"/>
<g fill="none" stroke="#3c46c4" stroke-width="0.6" opacity="0.85"><path d="M346.00 284.00C346.67 282.42 348.83 280.67 352.00 279.50C355.17 278.33 360.33 277.08 365.00 277.00C369.67 276.92 375.83 278.17 380.00 279.00C384.17 279.83 388.50 280.50 390.00 282.00C391.50 283.50 391.00 286.33 389.00 288.00C387.00 289.67 381.83 290.67 378.00 292.00C374.17 293.33 369.67 295.83 366.00 296.00C362.33 296.17 359.00 294.17 356.00 293.00C353.00 291.83 349.67 290.50 348.00 289.00C346.33 287.50 345.33 285.58 346.00 284.00Z"/><path d="M349.66 284.06C350.22 282.73 352.04 281.26 354.70 280.28C357.36 279.30 361.70 278.25 365.62 278.18C369.54 278.11 374.72 279.16 378.22 279.86C381.72 280.56 385.36 281.12 386.62 282.38C387.88 283.64 387.46 286.02 385.78 287.42C384.10 288.82 379.76 289.66 376.54 290.78C373.32 291.90 369.54 294.00 366.46 294.14C363.38 294.28 360.58 292.60 358.06 291.62C355.54 290.64 352.74 289.52 351.34 288.26C349.94 287.00 349.10 285.39 349.66 284.06Z"/><path d="M353.33 284.13C353.78 283.05 355.25 281.86 357.41 281.07C359.56 280.27 363.07 279.42 366.25 279.37C369.42 279.31 373.61 280.16 376.45 280.73C379.28 281.29 382.23 281.75 383.25 282.77C384.27 283.79 383.93 285.71 382.57 286.85C381.21 287.98 377.69 288.66 375.09 289.57C372.48 290.47 369.42 292.17 366.93 292.29C364.43 292.40 362.17 291.04 360.13 290.25C358.09 289.45 355.82 288.55 354.69 287.53C353.55 286.51 352.87 285.20 353.33 284.13Z"/><path d="M356.99 284.19C357.34 283.37 358.47 282.46 360.11 281.85C361.76 281.25 364.45 280.60 366.87 280.55C369.30 280.51 372.51 281.16 374.67 281.59C376.84 282.03 379.09 282.37 379.87 283.15C380.65 283.93 380.39 285.41 379.35 286.27C378.31 287.14 375.63 287.66 373.63 288.35C371.64 289.05 369.30 290.35 367.39 290.43C365.49 290.52 363.75 289.48 362.19 288.87C360.63 288.27 358.90 287.57 358.03 286.79C357.17 286.01 356.65 285.02 356.99 284.19Z"/><path d="M360.66 284.26C360.90 283.69 361.68 283.06 362.82 282.64C363.96 282.22 365.82 281.77 367.50 281.74C369.18 281.71 371.40 282.16 372.90 282.46C374.40 282.76 375.96 283.00 376.50 283.54C377.04 284.08 376.86 285.10 376.14 285.70C375.42 286.30 373.56 286.66 372.18 287.14C370.80 287.62 369.18 288.52 367.86 288.58C366.54 288.64 365.34 287.92 364.26 287.50C363.18 287.08 361.98 286.60 361.38 286.06C360.78 285.52 360.42 284.83 360.66 284.26Z"/></g>
<g transform="translate(368.90 284.40) rotate(0)" filter="url(#bl)"><ellipse cx="0" cy="0" rx="7.50" ry="5.80" fill="#1f22d8"/><ellipse cx="0" cy="0" rx="6.53" ry="5.05" fill="#1fb7f0"/><ellipse cx="0" cy="0" rx="5.40" ry="4.18" fill="#37c23a"/><ellipse cx="0" cy="0" rx="4.12" ry="3.19" fill="#f2ef10"/><ellipse cx="0" cy="0" rx="2.85" ry="2.20" fill="#ff9200"/><ellipse cx="0" cy="0" rx="1.65" ry="1.28" fill="#ff1800"/></g>
<line x1="54.50" y1="244.50" x2="54.50" y2="299.60" stroke="#7a7a7a" stroke-width="0.9"/>
<line x1="26.90" y1="277.50" x2="85.80" y2="277.50" stroke="#7a7a7a" stroke-width="0.9"/>
<line x1="26.90" y1="244.50" x2="26.90" y2="300.10" stroke="#2e4d8c" stroke-width="1.1"/>
<line x1="26.90" y1="299.60" x2="85.80" y2="299.60" stroke="#2e4d8c" stroke-width="1.1"/>
<text x="27.40" y="251.60" font-size="6.0" fill="#222" font-weight="bold">0.07%</text>
<text x="85.50" y="251.60" font-size="6.0" fill="#222" text-anchor="end" font-weight="bold">0.00%</text>
<text x="27.40" y="298.60" font-size="6.0" fill="#222" font-weight="bold">98.72%</text>
<text x="85.50" y="298.60" font-size="6.0" fill="#222" text-anchor="end" font-weight="bold">1.21%</text>
<line x1="133.50" y1="244.50" x2="133.50" y2="299.60" stroke="#7a7a7a" stroke-width="0.9"/>
<line x1="106.60" y1="276.50" x2="165.50" y2="276.50" stroke="#7a7a7a" stroke-width="0.9"/>
<line x1="106.60" y1="244.50" x2="106.60" y2="300.10" stroke="#2e4d8c" stroke-width="1.1"/>
<line x1="106.60" y1="299.60" x2="165.50" y2="299.60" stroke="#2e4d8c" stroke-width="1.1"/>
<text x="107.10" y="251.60" font-size="6.0" fill="#222" font-weight="bold">0.11%</text>
<text x="165.20" y="251.60" font-size="6.0" fill="#222" text-anchor="end" font-weight="bold">1.85%</text>
<text x="107.10" y="298.60" font-size="6.0" fill="#222" font-weight="bold">66.47%</text>
<text x="165.20" y="298.60" font-size="6.0" fill="#222" text-anchor="end" font-weight="bold">31.58%</text>
<line x1="211.50" y1="244.50" x2="211.50" y2="299.60" stroke="#7a7a7a" stroke-width="0.9"/>
<line x1="185.50" y1="277.50" x2="242.50" y2="277.50" stroke="#7a7a7a" stroke-width="0.9"/>
<line x1="185.50" y1="244.50" x2="185.50" y2="300.10" stroke="#2e4d8c" stroke-width="1.1"/>
<line x1="185.50" y1="299.60" x2="242.50" y2="299.60" stroke="#2e4d8c" stroke-width="1.1"/>
<text x="186.00" y="251.60" font-size="6.0" fill="#222" font-weight="bold">0.16%</text>
<text x="242.20" y="251.60" font-size="6.0" fill="#222" text-anchor="end" font-weight="bold">0.03%</text>
<text x="186.00" y="298.60" font-size="6.0" fill="#222" font-weight="bold">83.27%</text>
<text x="242.20" y="298.60" font-size="6.0" fill="#222" text-anchor="end" font-weight="bold">16.54%</text>
<line x1="292.50" y1="244.50" x2="292.50" y2="299.60" stroke="#7a7a7a" stroke-width="0.9"/>
<line x1="265.50" y1="277.50" x2="323.80" y2="277.50" stroke="#7a7a7a" stroke-width="0.9"/>
<line x1="265.50" y1="244.50" x2="265.50" y2="300.10" stroke="#2e4d8c" stroke-width="1.1"/>
<line x1="265.50" y1="299.60" x2="323.80" y2="299.60" stroke="#2e4d8c" stroke-width="1.1"/>
<text x="266.00" y="251.60" font-size="6.0" fill="#222" font-weight="bold">0.15%</text>
<text x="323.50" y="251.60" font-size="6.0" fill="#222" text-anchor="end" font-weight="bold">0.29%</text>
<text x="266.00" y="298.60" font-size="6.0" fill="#222" font-weight="bold">73.59%</text>
<text x="323.50" y="298.60" font-size="6.0" fill="#222" text-anchor="end" font-weight="bold">25.97%</text>
<line x1="371.50" y1="244.50" x2="371.50" y2="299.60" stroke="#7a7a7a" stroke-width="0.9"/>
<line x1="344.50" y1="277.50" x2="403.00" y2="277.50" stroke="#7a7a7a" stroke-width="0.9"/>
<line x1="344.50" y1="244.50" x2="344.50" y2="300.10" stroke="#2e4d8c" stroke-width="1.1"/>
<line x1="344.50" y1="299.60" x2="403.00" y2="299.60" stroke="#2e4d8c" stroke-width="1.1"/>
<text x="345.00" y="251.60" font-size="6.0" fill="#222" font-weight="bold">0.18%</text>
<text x="402.70" y="251.60" font-size="6.0" fill="#222" text-anchor="end" font-weight="bold">0.14%</text>
<text x="345.00" y="298.60" font-size="6.0" fill="#222" font-weight="bold">72.93%</text>
<text x="402.70" y="298.60" font-size="6.0" fill="#222" text-anchor="end" font-weight="bold">26.75%</text>
<text x="76.00" y="323.90" font-size="10.8" fill="#111" textLength="13.00" lengthAdjust="spacingAndGlyphs" stroke="#111" stroke-width="0.28">IL10</text>
<line x1="92.50" y1="320.50" x2="389.00" y2="320.50" stroke="#000" stroke-width="1.1"/>
<path d="M388 317.4 L395 320.5 L388 323.6 Z" fill="#000"/>
<line x1="446.30" y1="219.50" x2="446.30" y2="307.00" stroke="#000" stroke-width="1.2"/>
<line x1="445.70" y1="306.60" x2="512.80" y2="306.60" stroke="#000" stroke-width="1.2"/>
<line x1="442.50" y1="306.60" x2="446.30" y2="306.60" stroke="#000" stroke-width="1"/>
<text x="440.50" y="309.90" font-size="9" fill="#000" text-anchor="end">0</text>
<line x1="442.50" y1="285.45" x2="446.30" y2="285.45" stroke="#000" stroke-width="1"/>
<text x="440.50" y="288.75" font-size="9" fill="#000" text-anchor="end">10</text>
<line x1="442.50" y1="264.30" x2="446.30" y2="264.30" stroke="#000" stroke-width="1"/>
<text x="440.50" y="267.60" font-size="9" fill="#000" text-anchor="end">20</text>
<line x1="442.50" y1="243.15" x2="446.30" y2="243.15" stroke="#000" stroke-width="1"/>
<text x="440.50" y="246.45" font-size="9" fill="#000" text-anchor="end">30</text>
<line x1="442.50" y1="222.00" x2="446.30" y2="222.00" stroke="#000" stroke-width="1"/>
<text x="440.50" y="225.30" font-size="9" fill="#000" text-anchor="end">40</text>
<line x1="459.00" y1="306.60" x2="459.00" y2="309.50" stroke="#000" stroke-width="0.9"/>
<text x="459.00" y="321.30" font-size="9" fill="#000" text-anchor="middle">1</text>
<line x1="472.30" y1="306.60" x2="472.30" y2="309.50" stroke="#000" stroke-width="0.9"/>
<text x="472.30" y="321.30" font-size="9" fill="#000" text-anchor="middle">2</text>
<line x1="485.70" y1="306.60" x2="485.70" y2="309.50" stroke="#000" stroke-width="0.9"/>
<text x="485.70" y="321.30" font-size="9" fill="#000" text-anchor="middle">3</text>
<line x1="499.20" y1="306.60" x2="499.20" y2="309.50" stroke="#000" stroke-width="0.9"/>
<text x="499.20" y="321.30" font-size="9" fill="#000" text-anchor="middle">4</text>
<text x="424.60" y="262.80" font-size="9.4" fill="#1a1a1a" text-anchor="middle" font-weight="bold" textLength="23.60" lengthAdjust="spacingAndGlyphs" transform="rotate(-90 424.60 262.80)">% IL-10</text>
<path d="M459 219.7V215H498.5V219.7M484.6 215V219.7" fill="none" stroke="#000" stroke-width="1"/>
<text x="479.20" y="212.40" font-size="8.5" fill="#000" text-anchor="middle" textLength="11.00" lengthAdjust="spacingAndGlyphs">NS</text>
<path d="M459.00 228.30V223.90H473.70V228.30" fill="none" stroke="#000" stroke-width="1"/>
<text x="466.00" y="221.80" font-size="8" fill="#000" text-anchor="middle" font-weight="bold">*</text>
<line x1="459.00" y1="236.80" x2="459.00" y2="245.00" stroke="#b3133b" stroke-width="0.9"/>
<line x1="456.50" y1="236.80" x2="461.50" y2="236.80" stroke="#b3133b" stroke-width="0.9"/>
<line x1="456.50" y1="245.00" x2="461.50" y2="245.00" stroke="#b3133b" stroke-width="0.9"/>
<rect x="452.20" y="229.80" width="4.4" height="4.4" fill="#b3133b"/>
<rect x="461.50" y="229.80" width="4.4" height="4.4" fill="#b3133b"/>
<rect x="452.20" y="246.00" width="4.4" height="4.4" fill="#b3133b"/>
<rect x="461.50" y="246.00" width="4.4" height="4.4" fill="#b3133b"/>
<rect x="456.80" y="238.10" width="4.4" height="4.4" fill="#b3133b"/>
<line x1="452.50" y1="240.50" x2="465.50" y2="240.50" stroke="#000" stroke-width="1.1"/>
<line x1="472.30" y1="265.60" x2="472.30" y2="278.50" stroke="#22478a" stroke-width="0.9"/>
<line x1="469.80" y1="265.60" x2="474.80" y2="265.60" stroke="#22478a" stroke-width="0.9"/>
<line x1="469.80" y1="278.50" x2="474.80" y2="278.50" stroke="#22478a" stroke-width="0.9"/>
<path d="M469.80 250.45L472.30 245.95L474.80 250.45Z" fill="#22478a"/>
<path d="M465.30 279.05L467.80 274.55L470.30 279.05Z" fill="#22478a"/>
<path d="M474.30 279.05L476.80 274.55L479.30 279.05Z" fill="#22478a"/>
<path d="M469.80 284.55L472.30 280.05L474.80 284.55Z" fill="#22478a"/>
<path d="M469.80 273.25L472.30 268.75L474.80 273.25Z" fill="#22478a"/>
<line x1="466.00" y1="271.80" x2="479.00" y2="271.80" stroke="#000" stroke-width="1.1"/>
<line x1="485.70" y1="246.00" x2="485.70" y2="262.50" stroke="#f0a13a" stroke-width="0.9"/>
<line x1="483.20" y1="246.00" x2="488.20" y2="246.00" stroke="#f0a13a" stroke-width="0.9"/>
<line x1="483.20" y1="262.50" x2="488.20" y2="262.50" stroke="#f0a13a" stroke-width="0.9"/>
<path d="M478.50 233.75L481.00 238.25L483.50 233.75Z" fill="#f0a13a"/>
<path d="M487.90 233.75L490.40 238.25L492.90 233.75Z" fill="#f0a13a"/>
<path d="M476.00 264.45L478.50 268.95L481.00 264.45Z" fill="#f0a13a"/>
<path d="M480.70 264.45L483.20 268.95L485.70 264.45Z" fill="#f0a13a"/>
<path d="M485.50 264.45L488.00 268.95L490.50 264.45Z" fill="#f0a13a"/>
<path d="M490.30 264.45L492.80 268.95L495.30 264.45Z" fill="#f0a13a"/>
<line x1="479.50" y1="254.40" x2="492.00" y2="254.40" stroke="#000" stroke-width="1.1"/>
<line x1="499.00" y1="242.50" x2="499.00" y2="262.30" stroke="#4ca843" stroke-width="0.9"/>
<line x1="496.50" y1="242.50" x2="501.50" y2="242.50" stroke="#4ca843" stroke-width="0.9"/>
<line x1="496.50" y1="262.30" x2="501.50" y2="262.30" stroke="#4ca843" stroke-width="0.9"/>
<path d="M493.80 226.40L496.40 229.00L493.80 231.60L491.20 229.00Z" fill="#4ca843"/>
<path d="M503.60 226.40L506.20 229.00L503.60 231.60L501.00 229.00Z" fill="#4ca843"/>
<path d="M498.70 263.20L501.30 265.80L498.70 268.40L496.10 265.80Z" fill="#4ca843"/>
<path d="M493.80 266.90L496.40 269.50L493.80 272.10L491.20 269.50Z" fill="#4ca843"/>
<path d="M503.60 266.90L506.20 269.50L503.60 272.10L501.00 269.50Z" fill="#4ca843"/>
<line x1="493.00" y1="252.80" x2="506.00" y2="252.80" stroke="#000" stroke-width="1.1"/>
<text x="122.00" y="362.00" font-size="9.9" fill="#000" textLength="23.80" lengthAdjust="spacingAndGlyphs">No Tx</text>
<text x="223.80" y="362.00" font-size="9.9" fill="#000" textLength="13.30" lengthAdjust="spacingAndGlyphs">+D</text>
<text x="315.80" y="362.00" font-size="9.9" fill="#000" textLength="13.00" lengthAdjust="spacingAndGlyphs">+K</text>
<text x="36.00" y="406.80" font-size="10.6" fill="#000" text-anchor="middle" textLength="42.00" lengthAdjust="spacingAndGlyphs">Non-Breg</text>
<text x="36.00" y="418.90" font-size="10.6" fill="#000" text-anchor="middle" textLength="40.50" lengthAdjust="spacingAndGlyphs">CLL cells</text>
<text x="36.50" y="484.90" font-size="10.6" fill="#000" text-anchor="middle" textLength="38.00" lengthAdjust="spacingAndGlyphs">Breg-like</text>
<text x="36.50" y="496.70" font-size="10.6" fill="#000" text-anchor="middle" textLength="40.70" lengthAdjust="spacingAndGlyphs">CLL cells</text>
<line x1="67.00" y1="378.00" x2="67.00" y2="511.30" stroke="#000" stroke-width="1.1"/>
<path d="M63.8 379.5 L67 372.8 L70.2 379.5 Z" fill="#000"/>
<text x="70.30" y="517.00" font-size="10.5" fill="#111" text-anchor="middle" textLength="6.50" lengthAdjust="spacingAndGlyphs" transform="rotate(-90 70.30 517.00)" stroke="#111" stroke-width="0.28">PI</text>
<text x="143.80" y="550.60" font-size="10.8" fill="#111" textLength="30.50" lengthAdjust="spacingAndGlyphs" stroke="#111" stroke-width="0.28">Annexin V</text>
<line x1="177.50" y1="547.00" x2="354.00" y2="547.00" stroke="#000" stroke-width="1.1"/>
<path d="M353 543.9 L360 547 L353 550.1 Z" fill="#000"/>
<text x="83.00" y="374.95" font-size="7" fill="#55559a" stroke="#55559a" stroke-width="0.15" text-anchor="middle" textLength="7.2" lengthAdjust="spacingAndGlyphs">10</text><text x="86.70" y="371.95" font-size="4.6" fill="#55559a">6</text>
<text x="83.00" y="388.04" font-size="7" fill="#55559a" stroke="#55559a" stroke-width="0.15" text-anchor="middle" textLength="7.2" lengthAdjust="spacingAndGlyphs">10</text><text x="86.70" y="385.04" font-size="4.6" fill="#55559a">5</text>
<text x="83.00" y="401.13" font-size="7" fill="#55559a" stroke="#55559a" stroke-width="0.15" text-anchor="middle" textLength="7.2" lengthAdjust="spacingAndGlyphs">10</text><text x="86.70" y="398.13" font-size="4.6" fill="#55559a">4</text>
<text x="83.00" y="414.22" font-size="7" fill="#55559a" stroke="#55559a" stroke-width="0.15" text-anchor="middle" textLength="7.2" lengthAdjust="spacingAndGlyphs">10</text><text x="86.70" y="411.22" font-size="4.6" fill="#55559a">3</text>
<text x="83.00" y="427.31" font-size="7" fill="#55559a" stroke="#55559a" stroke-width="0.15" text-anchor="middle" textLength="7.2" lengthAdjust="spacingAndGlyphs">10</text><text x="86.70" y="424.31" font-size="4.6" fill="#55559a">2</text>
<text x="83.00" y="440.40" font-size="7" fill="#55559a" stroke="#55559a" stroke-width="0.15" text-anchor="middle" textLength="7.2" lengthAdjust="spacingAndGlyphs">10</text><text x="86.70" y="437.40" font-size="4.6" fill="#55559a">1</text>
<text x="93.00" y="450.50" font-size="7" fill="#55559a" stroke="#55559a" stroke-width="0.15" text-anchor="middle" textLength="7.2" lengthAdjust="spacingAndGlyphs">10</text><text x="96.70" y="447.50" font-size="4.6" fill="#55559a">1</text>
<text x="106.48" y="450.50" font-size="7" fill="#55559a" stroke="#55559a" stroke-width="0.15" text-anchor="middle" textLength="7.2" lengthAdjust="spacingAndGlyphs">10</text><text x="110.18" y="447.50" font-size="4.6" fill="#55559a">2</text>
<text x="119.96" y="450.50" font-size="7" fill="#55559a" stroke="#55559a" stroke-width="0.15" text-anchor="middle" textLength="7.2" lengthAdjust="spacingAndGlyphs">10</text><text x="123.66" y="447.50" font-size="4.6" fill="#55559a">3</text>
<text x="136.44" y="450.50" font-size="7" fill="#55559a" stroke="#55559a" stroke-width="0.15" text-anchor="middle" textLength="7.2" lengthAdjust="spacingAndGlyphs">10</text><text x="140.14" y="447.50" font-size="4.6" fill="#55559a">4</text>
<text x="149.92" y="450.50" font-size="7" fill="#55559a" stroke="#55559a" stroke-width="0.15" text-anchor="middle" textLength="7.2" lengthAdjust="spacingAndGlyphs">10</text><text x="153.62" y="447.50" font-size="4.6" fill="#55559a">5</text>
<text x="164.40" y="450.50" font-size="7" fill="#55559a" stroke="#55559a" stroke-width="0.15" text-anchor="middle" textLength="7.2" lengthAdjust="spacingAndGlyphs">10</text><text x="168.10" y="447.50" font-size="4.6" fill="#55559a">6</text>
<path d="M90.8 372.4H92.6M90.8 385.5H92.6M90.8 398.6H92.6M90.8 411.7H92.6M90.8 424.8H92.6M90.8 437.9H92.6M94.1 439.5V441.3M107.6 439.5V441.3M121.1 439.5V441.3M137.5 439.5V441.3M151.0 439.5V441.3M165.5 439.5V441.3" stroke="#2e4d8c" stroke-width="0.7" fill="none"/>
<text x="184.10" y="374.95" font-size="7" fill="#55559a" stroke="#55559a" stroke-width="0.15" text-anchor="middle" textLength="7.2" lengthAdjust="spacingAndGlyphs">10</text><text x="187.80" y="371.95" font-size="4.6" fill="#55559a">6</text>
<text x="184.10" y="388.04" font-size="7" fill="#55559a" stroke="#55559a" stroke-width="0.15" text-anchor="middle" textLength="7.2" lengthAdjust="spacingAndGlyphs">10</text><text x="187.80" y="385.04" font-size="4.6" fill="#55559a">5</text>
<text x="184.10" y="401.13" font-size="7" fill="#55559a" stroke="#55559a" stroke-width="0.15" text-anchor="middle" textLength="7.2" lengthAdjust="spacingAndGlyphs">10</text><text x="187.80" y="398.13" font-size="4.6" fill="#55559a">4</text>
<text x="184.10" y="414.22" font-size="7" fill="#55559a" stroke="#55559a" stroke-width="0.15" text-anchor="middle" textLength="7.2" lengthAdjust="spacingAndGlyphs">10</text><text x="187.80" y="411.22" font-size="4.6" fill="#55559a">3</text>
<text x="184.10" y="427.31" font-size="7" fill="#55559a" stroke="#55559a" stroke-width="0.15" text-anchor="middle" textLength="7.2" lengthAdjust="spacingAndGlyphs">10</text><text x="187.80" y="424.31" font-size="4.6" fill="#55559a">2</text>
<text x="184.10" y="440.40" font-size="7" fill="#55559a" stroke="#55559a" stroke-width="0.15" text-anchor="middle" textLength="7.2" lengthAdjust="spacingAndGlyphs">10</text><text x="187.80" y="437.40" font-size="4.6" fill="#55559a">1</text>
<text x="194.08" y="450.50" font-size="7" fill="#55559a" stroke="#55559a" stroke-width="0.15" text-anchor="middle" textLength="7.2" lengthAdjust="spacingAndGlyphs">10</text><text x="197.78" y="447.50" font-size="4.6" fill="#55559a">1</text>
<text x="207.36" y="450.50" font-size="7" fill="#55559a" stroke="#55559a" stroke-width="0.15" text-anchor="middle" textLength="7.2" lengthAdjust="spacingAndGlyphs">10</text><text x="211.06" y="447.50" font-size="4.6" fill="#55559a">2</text>
<text x="220.64" y="450.50" font-size="7" fill="#55559a" stroke="#55559a" stroke-width="0.15" text-anchor="middle" textLength="7.2" lengthAdjust="spacingAndGlyphs">10</text><text x="224.34" y="447.50" font-size="4.6" fill="#55559a">3</text>
<text x="236.88" y="450.50" font-size="7" fill="#55559a" stroke="#55559a" stroke-width="0.15" text-anchor="middle" textLength="7.2" lengthAdjust="spacingAndGlyphs">10</text><text x="240.58" y="447.50" font-size="4.6" fill="#55559a">4</text>
<text x="250.16" y="450.50" font-size="7" fill="#55559a" stroke="#55559a" stroke-width="0.15" text-anchor="middle" textLength="7.2" lengthAdjust="spacingAndGlyphs">10</text><text x="253.86" y="447.50" font-size="4.6" fill="#55559a">5</text>
<text x="264.43" y="450.50" font-size="7" fill="#55559a" stroke="#55559a" stroke-width="0.15" text-anchor="middle" textLength="7.2" lengthAdjust="spacingAndGlyphs">10</text><text x="268.13" y="447.50" font-size="4.6" fill="#55559a">6</text>
<path d="M191.9 372.4H193.7M191.9 385.5H193.7M191.9 398.6H193.7M191.9 411.7H193.7M191.9 424.8H193.7M191.9 437.9H193.7M195.2 439.5V441.3M208.5 439.5V441.3M221.7 439.5V441.3M238.0 439.5V441.3M251.3 439.5V441.3M265.5 439.5V441.3" stroke="#2e4d8c" stroke-width="0.7" fill="none"/>
<text x="278.80" y="374.95" font-size="7" fill="#55559a" stroke="#55559a" stroke-width="0.15" text-anchor="middle" textLength="7.2" lengthAdjust="spacingAndGlyphs">10</text><text x="282.50" y="371.95" font-size="4.6" fill="#55559a">6</text>
<text x="278.80" y="388.04" font-size="7" fill="#55559a" stroke="#55559a" stroke-width="0.15" text-anchor="middle" textLength="7.2" lengthAdjust="spacingAndGlyphs">10</text><text x="282.50" y="385.04" font-size="4.6" fill="#55559a">5</text>
<text x="278.80" y="401.13" font-size="7" fill="#55559a" stroke="#55559a" stroke-width="0.15" text-anchor="middle" textLength="7.2" lengthAdjust="spacingAndGlyphs">10</text><text x="282.50" y="398.13" font-size="4.6" fill="#55559a">4</text>
<text x="278.80" y="414.22" font-size="7" fill="#55559a" stroke="#55559a" stroke-width="0.15" text-anchor="middle" textLength="7.2" lengthAdjust="spacingAndGlyphs">10</text><text x="282.50" y="411.22" font-size="4.6" fill="#55559a">3</text>
<text x="278.80" y="427.31" font-size="7" fill="#55559a" stroke="#55559a" stroke-width="0.15" text-anchor="middle" textLength="7.2" lengthAdjust="spacingAndGlyphs">10</text><text x="282.50" y="424.31" font-size="4.6" fill="#55559a">2</text>
<text x="278.80" y="440.40" font-size="7" fill="#55559a" stroke="#55559a" stroke-width="0.15" text-anchor="middle" textLength="7.2" lengthAdjust="spacingAndGlyphs">10</text><text x="282.50" y="437.40" font-size="4.6" fill="#55559a">1</text>
<text x="288.68" y="450.50" font-size="7" fill="#55559a" stroke="#55559a" stroke-width="0.15" text-anchor="middle" textLength="7.2" lengthAdjust="spacingAndGlyphs">10</text><text x="292.38" y="447.50" font-size="4.6" fill="#55559a">1</text>
<text x="301.12" y="450.50" font-size="7" fill="#55559a" stroke="#55559a" stroke-width="0.15" text-anchor="middle" textLength="7.2" lengthAdjust="spacingAndGlyphs">10</text><text x="304.82" y="447.50" font-size="4.6" fill="#55559a">2</text>
<text x="313.56" y="450.50" font-size="7" fill="#55559a" stroke="#55559a" stroke-width="0.15" text-anchor="middle" textLength="7.2" lengthAdjust="spacingAndGlyphs">10</text><text x="317.26" y="447.50" font-size="4.6" fill="#55559a">3</text>
<text x="328.76" y="450.50" font-size="7" fill="#55559a" stroke="#55559a" stroke-width="0.15" text-anchor="middle" textLength="7.2" lengthAdjust="spacingAndGlyphs">10</text><text x="332.46" y="447.50" font-size="4.6" fill="#55559a">4</text>
<text x="341.20" y="450.50" font-size="7" fill="#55559a" stroke="#55559a" stroke-width="0.15" text-anchor="middle" textLength="7.2" lengthAdjust="spacingAndGlyphs">10</text><text x="344.90" y="447.50" font-size="4.6" fill="#55559a">5</text>
<text x="354.56" y="450.50" font-size="7" fill="#55559a" stroke="#55559a" stroke-width="0.15" text-anchor="middle" textLength="7.2" lengthAdjust="spacingAndGlyphs">10</text><text x="358.26" y="447.50" font-size="4.6" fill="#55559a">6</text>
<path d="M286.6 372.4H288.4M286.6 385.5H288.4M286.6 398.6H288.4M286.6 411.7H288.4M286.6 424.8H288.4M286.6 437.9H288.4M289.8 439.5V441.3M302.2 439.5V441.3M314.7 439.5V441.3M329.9 439.5V441.3M342.3 439.5V441.3M355.7 439.5V441.3" stroke="#2e4d8c" stroke-width="0.7" fill="none"/>
<text x="83.00" y="464.50" font-size="7" fill="#55559a" stroke="#55559a" stroke-width="0.15" text-anchor="middle" textLength="7.2" lengthAdjust="spacingAndGlyphs">10</text><text x="86.70" y="461.50" font-size="4.6" fill="#55559a">6</text>
<text x="83.00" y="477.42" font-size="7" fill="#55559a" stroke="#55559a" stroke-width="0.15" text-anchor="middle" textLength="7.2" lengthAdjust="spacingAndGlyphs">10</text><text x="86.70" y="474.42" font-size="4.6" fill="#55559a">5</text>
<text x="83.00" y="490.34" font-size="7" fill="#55559a" stroke="#55559a" stroke-width="0.15" text-anchor="middle" textLength="7.2" lengthAdjust="spacingAndGlyphs">10</text><text x="86.70" y="487.34" font-size="4.6" fill="#55559a">4</text>
<text x="83.00" y="503.26" font-size="7" fill="#55559a" stroke="#55559a" stroke-width="0.15" text-anchor="middle" textLength="7.2" lengthAdjust="spacingAndGlyphs">10</text><text x="86.70" y="500.26" font-size="4.6" fill="#55559a">3</text>
<text x="83.00" y="516.18" font-size="7" fill="#55559a" stroke="#55559a" stroke-width="0.15" text-anchor="middle" textLength="7.2" lengthAdjust="spacingAndGlyphs">10</text><text x="86.70" y="513.18" font-size="4.6" fill="#55559a">2</text>
<text x="83.00" y="529.10" font-size="7" fill="#55559a" stroke="#55559a" stroke-width="0.15" text-anchor="middle" textLength="7.2" lengthAdjust="spacingAndGlyphs">10</text><text x="86.70" y="526.10" font-size="4.6" fill="#55559a">1</text>
<text x="93.00" y="539.20" font-size="7" fill="#55559a" stroke="#55559a" stroke-width="0.15" text-anchor="middle" textLength="7.2" lengthAdjust="spacingAndGlyphs">10</text><text x="96.70" y="536.20" font-size="4.6" fill="#55559a">1</text>
<text x="106.48" y="539.20" font-size="7" fill="#55559a" stroke="#55559a" stroke-width="0.15" text-anchor="middle" textLength="7.2" lengthAdjust="spacingAndGlyphs">10</text><text x="110.18" y="536.20" font-size="4.6" fill="#55559a">2</text>
<text x="119.96" y="539.20" font-size="7" fill="#55559a" stroke="#55559a" stroke-width="0.15" text-anchor="middle" textLength="7.2" lengthAdjust="spacingAndGlyphs">10</text><text x="123.66" y="536.20" font-size="4.6" fill="#55559a">3</text>
<text x="136.44" y="539.20" font-size="7" fill="#55559a" stroke="#55559a" stroke-width="0.15" text-anchor="middle" textLength="7.2" lengthAdjust="spacingAndGlyphs">10</text><text x="140.14" y="536.20" font-size="4.6" fill="#55559a">4</text>
<text x="149.92" y="539.20" font-size="7" fill="#55559a" stroke="#55559a" stroke-width="0.15" text-anchor="middle" textLength="7.2" lengthAdjust="spacingAndGlyphs">10</text><text x="153.62" y="536.20" font-size="4.6" fill="#55559a">5</text>
<text x="164.40" y="539.20" font-size="7" fill="#55559a" stroke="#55559a" stroke-width="0.15" text-anchor="middle" textLength="7.2" lengthAdjust="spacingAndGlyphs">10</text><text x="168.10" y="536.20" font-size="4.6" fill="#55559a">6</text>
<path d="M90.8 462.0H92.6M90.8 474.9H92.6M90.8 487.8H92.6M90.8 500.8H92.6M90.8 513.7H92.6M90.8 526.6H92.6M94.1 528.2V530.0M107.6 528.2V530.0M121.1 528.2V530.0M137.5 528.2V530.0M151.0 528.2V530.0M165.5 528.2V530.0" stroke="#2e4d8c" stroke-width="0.7" fill="none"/>
<text x="180.90" y="464.50" font-size="7" fill="#55559a" stroke="#55559a" stroke-width="0.15" text-anchor="middle" textLength="7.2" lengthAdjust="spacingAndGlyphs">10</text><text x="184.60" y="461.50" font-size="4.6" fill="#55559a">6</text>
<text x="180.90" y="477.62" font-size="7" fill="#55559a" stroke="#55559a" stroke-width="0.15" text-anchor="middle" textLength="7.2" lengthAdjust="spacingAndGlyphs">10</text><text x="184.60" y="474.62" font-size="4.6" fill="#55559a">5</text>
<text x="180.90" y="490.74" font-size="7" fill="#55559a" stroke="#55559a" stroke-width="0.15" text-anchor="middle" textLength="7.2" lengthAdjust="spacingAndGlyphs">10</text><text x="184.60" y="487.74" font-size="4.6" fill="#55559a">4</text>
<text x="180.90" y="503.86" font-size="7" fill="#55559a" stroke="#55559a" stroke-width="0.15" text-anchor="middle" textLength="7.2" lengthAdjust="spacingAndGlyphs">10</text><text x="184.60" y="500.86" font-size="4.6" fill="#55559a">3</text>
<text x="180.90" y="516.98" font-size="7" fill="#55559a" stroke="#55559a" stroke-width="0.15" text-anchor="middle" textLength="7.2" lengthAdjust="spacingAndGlyphs">10</text><text x="184.60" y="513.98" font-size="4.6" fill="#55559a">2</text>
<text x="180.90" y="530.10" font-size="7" fill="#55559a" stroke="#55559a" stroke-width="0.15" text-anchor="middle" textLength="7.2" lengthAdjust="spacingAndGlyphs">10</text><text x="184.60" y="527.10" font-size="4.6" fill="#55559a">1</text>
<text x="190.94" y="540.20" font-size="7" fill="#55559a" stroke="#55559a" stroke-width="0.15" text-anchor="middle" textLength="7.2" lengthAdjust="spacingAndGlyphs">10</text><text x="194.64" y="537.20" font-size="4.6" fill="#55559a">1</text>
<text x="204.80" y="540.20" font-size="7" fill="#55559a" stroke="#55559a" stroke-width="0.15" text-anchor="middle" textLength="7.2" lengthAdjust="spacingAndGlyphs">10</text><text x="208.50" y="537.20" font-size="4.6" fill="#55559a">2</text>
<text x="218.66" y="540.20" font-size="7" fill="#55559a" stroke="#55559a" stroke-width="0.15" text-anchor="middle" textLength="7.2" lengthAdjust="spacingAndGlyphs">10</text><text x="222.36" y="537.20" font-size="4.6" fill="#55559a">3</text>
<text x="235.60" y="540.20" font-size="7" fill="#55559a" stroke="#55559a" stroke-width="0.15" text-anchor="middle" textLength="7.2" lengthAdjust="spacingAndGlyphs">10</text><text x="239.30" y="537.20" font-size="4.6" fill="#55559a">4</text>
<text x="249.46" y="540.20" font-size="7" fill="#55559a" stroke="#55559a" stroke-width="0.15" text-anchor="middle" textLength="7.2" lengthAdjust="spacingAndGlyphs">10</text><text x="253.16" y="537.20" font-size="4.6" fill="#55559a">5</text>
<text x="264.35" y="540.20" font-size="7" fill="#55559a" stroke="#55559a" stroke-width="0.15" text-anchor="middle" textLength="7.2" lengthAdjust="spacingAndGlyphs">10</text><text x="268.05" y="537.20" font-size="4.6" fill="#55559a">6</text>
<path d="M188.7 462.0H190.5M188.7 475.1H190.5M188.7 488.2H190.5M188.7 501.4H190.5M188.7 514.5H190.5M188.7 527.6H190.5M192.0 529.2V531.0M205.9 529.2V531.0M219.8 529.2V531.0M236.7 529.2V531.0M250.6 529.2V531.0M265.4 529.2V531.0" stroke="#2e4d8c" stroke-width="0.7" fill="none"/>
<text x="278.80" y="464.50" font-size="7" fill="#55559a" stroke="#55559a" stroke-width="0.15" text-anchor="middle" textLength="7.2" lengthAdjust="spacingAndGlyphs">10</text><text x="282.50" y="461.50" font-size="4.6" fill="#55559a">6</text>
<text x="278.80" y="477.62" font-size="7" fill="#55559a" stroke="#55559a" stroke-width="0.15" text-anchor="middle" textLength="7.2" lengthAdjust="spacingAndGlyphs">10</text><text x="282.50" y="474.62" font-size="4.6" fill="#55559a">5</text>
<text x="278.80" y="490.74" font-size="7" fill="#55559a" stroke="#55559a" stroke-width="0.15" text-anchor="middle" textLength="7.2" lengthAdjust="spacingAndGlyphs">10</text><text x="282.50" y="487.74" font-size="4.6" fill="#55559a">4</text>
<text x="278.80" y="503.86" font-size="7" fill="#55559a" stroke="#55559a" stroke-width="0.15" text-anchor="middle" textLength="7.2" lengthAdjust="spacingAndGlyphs">10</text><text x="282.50" y="500.86" font-size="4.6" fill="#55559a">3</text>
<text x="278.80" y="516.98" font-size="7" fill="#55559a" stroke="#55559a" stroke-width="0.15" text-anchor="middle" textLength="7.2" lengthAdjust="spacingAndGlyphs">10</text><text x="282.50" y="513.98" font-size="4.6" fill="#55559a">2</text>
<text x="278.80" y="530.10" font-size="7" fill="#55559a" stroke="#55559a" stroke-width="0.15" text-anchor="middle" textLength="7.2" lengthAdjust="spacingAndGlyphs">10</text><text x="282.50" y="527.10" font-size="4.6" fill="#55559a">1</text>
<text x="288.68" y="540.20" font-size="7" fill="#55559a" stroke="#55559a" stroke-width="0.15" text-anchor="middle" textLength="7.2" lengthAdjust="spacingAndGlyphs">10</text><text x="292.38" y="537.20" font-size="4.6" fill="#55559a">1</text>
<text x="301.12" y="540.20" font-size="7" fill="#55559a" stroke="#55559a" stroke-width="0.15" text-anchor="middle" textLength="7.2" lengthAdjust="spacingAndGlyphs">10</text><text x="304.82" y="537.20" font-size="4.6" fill="#55559a">2</text>
<text x="313.56" y="540.20" font-size="7" fill="#55559a" stroke="#55559a" stroke-width="0.15" text-anchor="middle" textLength="7.2" lengthAdjust="spacingAndGlyphs">10</text><text x="317.26" y="537.20" font-size="4.6" fill="#55559a">3</text>
<text x="328.76" y="540.20" font-size="7" fill="#55559a" stroke="#55559a" stroke-width="0.15" text-anchor="middle" textLength="7.2" lengthAdjust="spacingAndGlyphs">10</text><text x="332.46" y="537.20" font-size="4.6" fill="#55559a">4</text>
<text x="341.20" y="540.20" font-size="7" fill="#55559a" stroke="#55559a" stroke-width="0.15" text-anchor="middle" textLength="7.2" lengthAdjust="spacingAndGlyphs">10</text><text x="344.90" y="537.20" font-size="4.6" fill="#55559a">5</text>
<text x="354.56" y="540.20" font-size="7" fill="#55559a" stroke="#55559a" stroke-width="0.15" text-anchor="middle" textLength="7.2" lengthAdjust="spacingAndGlyphs">10</text><text x="358.26" y="537.20" font-size="4.6" fill="#55559a">6</text>
<path d="M286.6 462.0H288.4M286.6 475.1H288.4M286.6 488.2H288.4M286.6 501.4H288.4M286.6 514.5H288.4M286.6 527.6H288.4M289.8 529.2V531.0M302.2 529.2V531.0M314.7 529.2V531.0M329.9 529.2V531.0M342.3 529.2V531.0M355.7 529.2V531.0" stroke="#2e4d8c" stroke-width="0.7" fill="none"/>
<path d="M114.7 427.9h.9v.9h-.9zM108.8 423.2h.9v.9h-.9zM116.5 431.8h.9v.9h-.9zM108.1 430.8h.9v.9h-.9zM103.1 426.2h.9v.9h-.9zM96.8 429.5h.9v.9h-.9zM113.3 431.3h.9v.9h-.9zM111.4 430.8h.9v.9h-.9zM100.6 423.1h.9v.9h-.9zM109.8 428.7h.9v.9h-.9zM111.8 427.0h.9v.9h-.9zM100.8 429.8h.9v.9h-.9zM102.7 421.8h.9v.9h-.9zM102.4 424.7h.9v.9h-.9zM99.5 426.0h.9v.9h-.9zM111.6 437.0h.9v.9h-.9zM116.1 426.5h.9v.9h-.9zM112.7 427.8h.9v.9h-.9zM108.4 425.5h.9v.9h-.9zM105.6 421.7h.9v.9h-.9zM116.5 425.1h.9v.9h-.9zM109.4 425.8h.9v.9h-.9zM107.6 423.6h.9v.9h-.9zM103.8 431.5h.9v.9h-.9zM109.5 420.7h.9v.9h-.9zM111.0 423.1h.9v.9h-.9zM107.7 430.0h.9v.9h-.9zM102.2 426.9h.9v.9h-.9zM104.6 429.6h.9v.9h-.9zM111.4 433.3h.9v.9h-.9zM107.9 435.7h.9v.9h-.9zM100.4 434.8h.9v.9h-.9zM104.5 431.0h.9v.9h-.9zM105.3 428.4h.9v.9h-.9zM100.6 429.5h.9v.9h-.9zM117.9 428.6h.9v.9h-.9zM105.9 428.1h.9v.9h-.9zM110.2 427.3h.9v.9h-.9zM106.0 428.9h.9v.9h-.9zM113.7 431.7h.9v.9h-.9zM99.8 425.7h.9v.9h-.9zM106.1 431.3h.9v.9h-.9zM111.7 427.3h.9v.9h-.9zM118.5 427.4h.9v.9h-.9zM114.3 433.5h.9v.9h-.9zM115.4 428.8h.9v.9h-.9zM109.4 422.3h.9v.9h-.9zM95.5 425.7h.9v.9h-.9zM110.2 432.1h.9v.9h-.9zM105.4 432.0h.9v.9h-.9z" fill="#5a6fd6" opacity="0.5"/>
<g filter="url(#bl)"><path d="M96.50 430.00C96.46 429.58 96.79 429.12 96.94 428.68C97.09 428.24 97.23 427.80 97.38 427.35C97.53 426.91 97.59 426.39 97.82 426.03C98.05 425.67 98.40 425.42 98.77 425.19C99.15 424.96 99.64 424.85 100.07 424.67C100.50 424.50 100.93 424.33 101.36 424.15C101.79 423.98 102.21 423.73 102.66 423.64C103.10 423.54 103.56 423.57 104.02 423.59C104.48 423.60 104.95 423.66 105.41 423.70C105.87 423.74 106.34 423.78 106.80 423.82C107.26 423.86 107.73 423.93 108.19 423.93C108.65 423.94 109.11 423.93 109.56 423.86C110.02 423.79 110.47 423.63 110.92 423.52C111.37 423.41 111.83 423.21 112.27 423.18C112.71 423.15 113.13 423.19 113.54 423.35C113.94 423.50 114.43 423.81 114.70 424.11C114.98 424.42 115.14 424.77 115.18 425.17C115.22 425.58 115.02 426.09 114.94 426.54C114.86 427.00 114.81 427.48 114.69 427.92C114.58 428.35 114.52 428.83 114.25 429.16C113.99 429.50 113.48 429.68 113.09 429.94C112.71 430.19 112.32 430.45 111.93 430.71C111.55 430.97 111.16 431.23 110.77 431.48C110.39 431.74 110.00 431.99 109.60 432.23C109.20 432.48 108.80 432.70 108.40 432.94C107.99 433.17 107.59 433.40 107.19 433.64C106.79 433.87 106.39 434.11 105.99 434.34C105.59 434.57 105.19 434.87 104.78 435.04C104.37 435.22 103.96 435.39 103.52 435.40C103.08 435.42 102.61 435.22 102.15 435.13C101.70 435.04 101.24 434.95 100.79 434.86C100.33 434.77 99.80 434.78 99.42 434.58C99.04 434.38 98.79 434.01 98.53 433.66C98.27 433.30 98.08 432.84 97.85 432.44C97.63 432.03 97.40 431.62 97.18 431.22C96.95 430.81 96.54 430.42 96.50 430.00Z" fill="#1f22d8"/><path d="M97.21 429.92C97.18 429.53 97.47 429.11 97.60 428.70C97.73 428.30 97.86 427.89 97.99 427.48C98.12 427.08 98.18 426.60 98.38 426.26C98.59 425.92 98.89 425.68 99.21 425.46C99.54 425.23 99.95 425.09 100.34 424.93C100.73 424.76 101.14 424.62 101.53 424.47C101.93 424.32 102.32 424.10 102.73 424.01C103.14 423.92 103.56 423.95 103.98 423.95C104.41 423.95 104.84 424.01 105.26 424.04C105.69 424.06 106.11 424.09 106.54 424.12C106.96 424.15 107.39 424.20 107.81 424.21C108.24 424.21 108.66 424.19 109.08 424.14C109.49 424.09 109.90 423.98 110.31 423.89C110.72 423.81 111.14 423.66 111.54 423.65C111.94 423.64 112.33 423.69 112.70 423.84C113.07 423.99 113.51 424.27 113.77 424.54C114.03 424.82 114.20 425.13 114.24 425.50C114.28 425.87 114.09 426.34 114.01 426.76C113.93 427.18 113.88 427.62 113.78 428.03C113.67 428.43 113.62 428.86 113.38 429.18C113.14 429.49 112.70 429.67 112.36 429.92C112.02 430.17 111.68 430.42 111.34 430.67C111.00 430.92 110.67 431.17 110.32 431.41C109.97 431.65 109.60 431.87 109.23 432.09C108.87 432.31 108.49 432.51 108.12 432.72C107.75 432.93 107.38 433.14 107.00 433.35C106.63 433.57 106.26 433.78 105.89 433.99C105.52 434.20 105.16 434.46 104.78 434.62C104.40 434.78 104.02 434.95 103.61 434.96C103.21 434.97 102.79 434.79 102.37 434.70C101.96 434.60 101.55 434.50 101.14 434.41C100.72 434.31 100.24 434.31 99.90 434.11C99.55 433.92 99.32 433.59 99.07 433.26C98.83 432.93 98.64 432.52 98.43 432.16C98.21 431.79 97.99 431.42 97.79 431.05C97.58 430.68 97.24 430.31 97.21 429.92Z" fill="#1fb7f0"/><path d="M97.92 429.84C97.90 429.48 98.15 429.10 98.26 428.73C98.38 428.35 98.49 427.98 98.60 427.61C98.72 427.24 98.77 426.81 98.95 426.49C99.12 426.18 99.38 425.94 99.65 425.72C99.93 425.50 100.27 425.34 100.61 425.18C100.95 425.03 101.34 424.92 101.70 424.78C102.07 424.65 102.43 424.46 102.80 424.38C103.17 424.30 103.56 424.32 103.95 424.32C104.33 424.31 104.72 424.35 105.11 424.37C105.50 424.39 105.89 424.41 106.28 424.42C106.66 424.44 107.05 424.48 107.44 424.48C107.83 424.48 108.21 424.45 108.59 424.42C108.97 424.38 109.33 424.32 109.70 424.27C110.07 424.22 110.45 424.11 110.81 424.12C111.17 424.13 111.52 424.19 111.86 424.33C112.20 424.47 112.60 424.72 112.84 424.97C113.08 425.22 113.27 425.50 113.31 425.84C113.35 426.17 113.16 426.60 113.09 426.98C113.01 427.37 112.96 427.77 112.86 428.13C112.77 428.50 112.71 428.89 112.50 429.19C112.30 429.49 111.92 429.67 111.62 429.91C111.33 430.15 111.03 430.38 110.74 430.62C110.45 430.86 110.17 431.12 109.86 431.34C109.55 431.56 109.20 431.75 108.86 431.94C108.53 432.14 108.18 432.32 107.84 432.51C107.50 432.69 107.16 432.88 106.82 433.07C106.48 433.26 106.14 433.45 105.79 433.63C105.45 433.82 105.12 434.05 104.77 434.20C104.42 434.34 104.07 434.51 103.71 434.52C103.34 434.53 102.96 434.36 102.59 434.26C102.22 434.17 101.85 434.06 101.48 433.95C101.11 433.85 100.69 433.83 100.38 433.64C100.06 433.46 99.84 433.16 99.61 432.86C99.38 432.57 99.21 432.20 99.00 431.87C98.80 431.54 98.57 431.22 98.39 430.88C98.21 430.54 97.94 430.20 97.92 429.84Z" fill="#37c23a"/><path d="M98.79 429.75C98.77 429.43 98.97 429.09 99.07 428.76C99.16 428.43 99.25 428.09 99.35 427.76C99.44 427.43 99.49 427.06 99.63 426.77C99.77 426.49 99.97 426.26 100.19 426.04C100.41 425.83 100.65 425.64 100.94 425.50C101.22 425.35 101.59 425.27 101.91 425.16C102.24 425.05 102.56 424.90 102.89 424.83C103.22 424.77 103.56 424.77 103.90 424.76C104.24 424.75 104.59 424.77 104.93 424.78C105.27 424.78 105.61 424.79 105.96 424.79C106.30 424.80 106.64 424.82 106.98 424.81C107.32 424.81 107.67 424.77 108.00 424.76C108.33 424.74 108.64 424.73 108.96 424.72C109.28 424.71 109.61 424.65 109.93 424.69C110.24 424.72 110.55 424.79 110.84 424.93C111.14 425.06 111.49 425.28 111.71 425.50C111.93 425.72 112.13 425.95 112.17 426.24C112.21 426.53 112.03 426.91 111.96 427.25C111.89 427.59 111.84 427.94 111.75 428.26C111.67 428.59 111.61 428.94 111.44 429.21C111.27 429.48 110.96 429.66 110.73 429.89C110.49 430.12 110.25 430.34 110.02 430.57C109.78 430.80 109.57 431.05 109.30 431.25C109.04 431.45 108.72 431.60 108.42 431.77C108.12 431.93 107.81 432.09 107.50 432.25C107.20 432.41 106.89 432.57 106.59 432.73C106.29 432.89 105.98 433.05 105.68 433.21C105.37 433.37 105.07 433.56 104.76 433.68C104.46 433.81 104.14 433.97 103.82 433.98C103.50 433.99 103.17 433.83 102.85 433.74C102.53 433.64 102.22 433.52 101.91 433.40C101.59 433.29 101.23 433.24 100.96 433.07C100.68 432.90 100.48 432.64 100.27 432.38C100.06 432.12 99.89 431.81 99.70 431.53C99.51 431.25 99.28 430.98 99.13 430.68C98.98 430.38 98.80 430.07 98.79 429.75Z" fill="#f2ef10"/><path d="M99.95 429.62C99.96 429.35 100.09 429.07 100.15 428.80C100.22 428.52 100.28 428.25 100.35 427.97C100.42 427.70 100.46 427.40 100.55 427.15C100.64 426.90 100.77 426.69 100.91 426.48C101.05 426.28 101.17 426.05 101.38 425.92C101.60 425.78 101.92 425.76 102.19 425.68C102.46 425.60 102.73 425.50 103.01 425.44C103.28 425.39 103.56 425.38 103.84 425.36C104.12 425.34 104.40 425.34 104.68 425.33C104.96 425.31 105.25 425.30 105.53 425.29C105.81 425.28 106.09 425.27 106.37 425.26C106.65 425.25 106.93 425.20 107.20 425.22C107.46 425.23 107.71 425.30 107.96 425.34C108.22 425.38 108.48 425.39 108.73 425.45C108.98 425.52 109.23 425.61 109.47 425.74C109.71 425.86 109.98 426.03 110.18 426.21C110.37 426.38 110.59 426.55 110.63 426.79C110.67 427.02 110.50 427.34 110.44 427.61C110.38 427.89 110.32 428.17 110.25 428.44C110.18 428.71 110.12 428.99 110.00 429.23C109.88 429.47 109.68 429.65 109.52 429.86C109.36 430.08 109.20 430.29 109.04 430.50C108.87 430.71 108.76 430.96 108.55 431.14C108.35 431.31 108.06 431.40 107.81 431.53C107.56 431.65 107.30 431.77 107.05 431.89C106.79 432.02 106.54 432.14 106.28 432.26C106.03 432.38 105.77 432.50 105.52 432.62C105.26 432.75 105.01 432.89 104.76 432.99C104.50 433.09 104.23 433.24 103.97 433.25C103.72 433.25 103.46 433.12 103.21 433.02C102.96 432.93 102.72 432.78 102.48 432.66C102.23 432.54 101.96 432.46 101.74 432.30C101.52 432.15 101.34 431.94 101.16 431.73C100.98 431.53 100.82 431.29 100.65 431.07C100.47 430.85 100.25 430.64 100.13 430.40C100.02 430.16 99.95 429.89 99.95 429.62Z" fill="#ff9200"/><path d="M101.07 429.50C101.09 429.28 101.15 429.06 101.19 428.84C101.23 428.61 101.27 428.39 101.31 428.17C101.35 427.95 101.38 427.72 101.43 427.51C101.48 427.30 101.54 427.10 101.60 426.90C101.66 426.70 101.66 426.44 101.81 426.32C101.95 426.20 102.24 426.22 102.46 426.17C102.68 426.13 102.90 426.07 103.12 426.03C103.34 425.99 103.56 425.96 103.78 425.93C104.00 425.90 104.23 425.88 104.45 425.85C104.67 425.82 104.89 425.80 105.11 425.77C105.34 425.74 105.56 425.71 105.78 425.69C106.00 425.67 106.22 425.62 106.43 425.66C106.63 425.69 106.81 425.83 107.01 425.92C107.20 426.01 107.39 426.09 107.58 426.19C107.78 426.29 107.97 426.39 108.15 426.51C108.34 426.62 108.55 426.75 108.71 426.88C108.88 427.02 109.11 427.13 109.16 427.31C109.20 427.49 109.04 427.74 108.99 427.96C108.93 428.18 108.87 428.39 108.81 428.61C108.75 428.83 108.70 429.04 108.62 429.25C108.55 429.45 108.45 429.64 108.36 429.84C108.27 430.04 108.19 430.23 108.10 430.43C108.01 430.63 107.98 430.88 107.83 431.02C107.69 431.17 107.44 431.21 107.23 431.30C107.03 431.39 106.82 431.47 106.61 431.56C106.40 431.64 106.20 431.73 105.99 431.81C105.78 431.90 105.58 431.98 105.37 432.07C105.16 432.16 104.95 432.25 104.75 432.33C104.54 432.41 104.32 432.55 104.12 432.55C103.92 432.55 103.74 432.44 103.55 432.34C103.37 432.24 103.20 432.08 103.02 431.95C102.85 431.82 102.66 431.70 102.49 431.56C102.32 431.42 102.17 431.26 102.01 431.11C101.85 430.95 101.70 430.79 101.55 430.62C101.39 430.46 101.17 430.33 101.09 430.14C101.01 429.95 101.05 429.71 101.07 429.50Z" fill="#ff1800"/></g>
<path d="M220.8 423.2h.9v.9h-.9zM195.3 403.1h.9v.9h-.9zM202.8 401.2h.9v.9h-.9zM233.4 402.2h.9v.9h-.9zM204.3 406.7h.9v.9h-.9zM224.4 406.2h.9v.9h-.9zM222.7 414.9h.9v.9h-.9zM206.5 389.9h.9v.9h-.9zM203.2 399.5h.9v.9h-.9zM233.2 404.0h.9v.9h-.9zM201.4 413.4h.9v.9h-.9zM214.6 402.1h.9v.9h-.9zM226.9 418.0h.9v.9h-.9zM217.3 403.7h.9v.9h-.9zM203.7 392.6h.9v.9h-.9zM218.5 413.5h.9v.9h-.9zM203.2 410.4h.9v.9h-.9zM252.5 400.5h.9v.9h-.9zM209.0 405.9h.9v.9h-.9zM221.3 409.0h.9v.9h-.9zM225.7 414.5h.9v.9h-.9zM227.7 411.2h.9v.9h-.9zM217.0 398.3h.9v.9h-.9zM214.8 417.7h.9v.9h-.9zM202.0 410.5h.9v.9h-.9zM205.3 401.5h.9v.9h-.9zM206.7 421.0h.9v.9h-.9zM222.1 409.9h.9v.9h-.9zM213.0 411.2h.9v.9h-.9zM217.4 411.7h.9v.9h-.9zM203.9 387.8h.9v.9h-.9zM222.3 399.8h.9v.9h-.9zM212.3 409.3h.9v.9h-.9zM207.0 414.7h.9v.9h-.9zM210.8 407.7h.9v.9h-.9zM202.8 407.7h.9v.9h-.9zM201.8 410.5h.9v.9h-.9zM229.6 418.7h.9v.9h-.9zM219.0 398.4h.9v.9h-.9zM226.1 418.1h.9v.9h-.9zM238.3 390.8h.9v.9h-.9zM214.2 407.2h.9v.9h-.9zM226.8 400.8h.9v.9h-.9zM209.5 430.0h.9v.9h-.9zM225.7 393.0h.9v.9h-.9zM214.2 421.8h.9v.9h-.9zM206.7 415.2h.9v.9h-.9zM215.2 397.6h.9v.9h-.9zM206.6 419.8h.9v.9h-.9zM228.0 404.9h.9v.9h-.9zM227.3 404.0h.9v.9h-.9zM216.9 409.9h.9v.9h-.9zM199.3 412.8h.9v.9h-.9zM209.4 386.6h.9v.9h-.9zM204.2 402.8h.9v.9h-.9zM204.1 401.7h.9v.9h-.9zM205.9 389.1h.9v.9h-.9zM224.5 410.7h.9v.9h-.9zM217.0 407.8h.9v.9h-.9zM214.8 407.8h.9v.9h-.9zM201.1 397.0h.9v.9h-.9zM214.9 418.8h.9v.9h-.9zM216.8 423.9h.9v.9h-.9zM197.9 407.8h.9v.9h-.9zM206.7 420.6h.9v.9h-.9zM234.0 405.6h.9v.9h-.9zM222.6 408.0h.9v.9h-.9zM202.2 409.1h.9v.9h-.9zM201.7 423.4h.9v.9h-.9zM221.0 420.3h.9v.9h-.9zM218.2 389.2h.9v.9h-.9zM223.5 410.8h.9v.9h-.9zM225.9 424.7h.9v.9h-.9zM201.9 416.8h.9v.9h-.9zM217.9 408.6h.9v.9h-.9zM210.7 414.6h.9v.9h-.9zM220.8 415.7h.9v.9h-.9zM209.2 398.7h.9v.9h-.9zM229.6 421.2h.9v.9h-.9zM207.3 409.8h.9v.9h-.9zM223.5 394.9h.9v.9h-.9zM219.9 430.9h.9v.9h-.9zM217.2 404.0h.9v.9h-.9zM238.1 410.1h.9v.9h-.9zM216.5 406.4h.9v.9h-.9zM216.1 394.6h.9v.9h-.9zM198.9 397.3h.9v.9h-.9zM224.6 409.2h.9v.9h-.9zM227.6 392.5h.9v.9h-.9zM206.9 422.6h.9v.9h-.9zM204.7 394.0h.9v.9h-.9zM205.2 407.1h.9v.9h-.9zM213.8 421.3h.9v.9h-.9zM229.7 423.4h.9v.9h-.9zM220.9 405.7h.9v.9h-.9zM208.2 397.3h.9v.9h-.9zM229.0 420.8h.9v.9h-.9zM215.1 402.3h.9v.9h-.9zM222.0 414.2h.9v.9h-.9zM215.8 400.0h.9v.9h-.9zM216.8 405.1h.9v.9h-.9zM222.7 415.2h.9v.9h-.9zM219.2 406.3h.9v.9h-.9zM232.0 416.7h.9v.9h-.9zM229.0 417.3h.9v.9h-.9zM221.8 413.4h.9v.9h-.9zM201.4 394.3h.9v.9h-.9zM203.0 415.3h.9v.9h-.9zM224.7 411.6h.9v.9h-.9zM215.1 425.8h.9v.9h-.9zM209.3 394.6h.9v.9h-.9zM195.8 407.2h.9v.9h-.9zM222.3 416.4h.9v.9h-.9zM211.4 417.1h.9v.9h-.9zM213.4 403.8h.9v.9h-.9zM209.5 416.5h.9v.9h-.9zM225.2 400.3h.9v.9h-.9zM202.4 411.1h.9v.9h-.9zM239.0 399.9h.9v.9h-.9zM199.2 413.6h.9v.9h-.9zM220.0 404.7h.9v.9h-.9zM213.7 414.2h.9v.9h-.9zM221.1 418.0h.9v.9h-.9zM227.7 409.4h.9v.9h-.9zM197.0 421.6h.9v.9h-.9zM223.1 404.5h.9v.9h-.9zM226.2 419.0h.9v.9h-.9zM212.4 389.6h.9v.9h-.9zM208.5 403.5h.9v.9h-.9zM204.2 409.3h.9v.9h-.9zM201.3 413.4h.9v.9h-.9zM236.2 399.7h.9v.9h-.9zM226.2 405.4h.9v.9h-.9zM220.4 408.9h.9v.9h-.9zM229.1 403.9h.9v.9h-.9zM222.6 403.3h.9v.9h-.9zM216.7 409.9h.9v.9h-.9zM226.8 396.4h.9v.9h-.9zM198.1 422.0h.9v.9h-.9zM218.5 424.6h.9v.9h-.9zM201.9 411.8h.9v.9h-.9zM221.1 425.2h.9v.9h-.9zM213.4 406.1h.9v.9h-.9zM222.4 409.1h.9v.9h-.9zM205.2 416.6h.9v.9h-.9zM230.0 405.7h.9v.9h-.9zM210.2 413.2h.9v.9h-.9zM227.2 414.6h.9v.9h-.9zM202.7 405.1h.9v.9h-.9zM226.3 409.0h.9v.9h-.9zM206.6 417.5h.9v.9h-.9zM227.4 428.8h.9v.9h-.9zM201.4 403.9h.9v.9h-.9z" fill="#5a6fd6" opacity="0.25"/>
<path d="M232.4 421.5h1v1h-1zM237.0 413.6h1v1h-1zM231.0 419.9h1v1h-1zM240.1 407.1h1v1h-1zM227.9 414.0h1v1h-1zM241.4 395.5h1v1h-1zM227.4 416.2h1v1h-1zM238.3 410.5h1v1h-1zM242.7 402.5h1v1h-1zM229.8 400.1h1v1h-1zM232.0 419.3h1v1h-1zM241.8 402.2h1v1h-1zM226.8 401.5h1v1h-1zM230.2 419.8h1v1h-1zM239.6 410.1h1v1h-1zM235.8 397.4h1v1h-1zM227.1 411.8h1v1h-1zM231.9 421.6h1v1h-1zM227.0 414.2h1v1h-1zM239.7 397.3h1v1h-1zM236.1 418.3h1v1h-1zM225.7 400.7h1v1h-1zM231.4 420.9h1v1h-1zM234.5 420.5h1v1h-1zM235.6 397.4h1v1h-1zM243.1 397.5h1v1h-1zM243.0 397.0h1v1h-1zM237.8 414.6h1v1h-1zM235.5 417.0h1v1h-1zM242.3 402.1h1v1h-1zM235.2 398.3h1v1h-1zM231.7 420.6h1v1h-1zM226.1 408.7h1v1h-1zM235.0 419.1h1v1h-1zM226.6 404.1h1v1h-1zM243.5 397.9h1v1h-1zM236.6 416.0h1v1h-1zM235.0 398.2h1v1h-1zM243.4 397.2h1v1h-1zM227.9 416.6h1v1h-1zM232.7 398.7h1v1h-1zM235.9 397.4h1v1h-1zM226.9 414.4h1v1h-1zM230.0 420.6h1v1h-1zM235.7 397.7h1v1h-1zM228.8 416.1h1v1h-1zM226.3 401.9h1v1h-1zM232.2 419.6h1v1h-1zM226.5 400.0h1v1h-1zM225.8 400.5h1v1h-1zM231.9 419.9h1v1h-1zM224.5 401.8h1v1h-1zM236.7 397.8h1v1h-1zM241.6 402.8h1v1h-1zM230.4 399.8h1v1h-1zM232.2 420.2h1v1h-1zM226.7 401.3h1v1h-1zM226.1 411.2h1v1h-1zM229.2 418.0h1v1h-1zM237.5 397.7h1v1h-1zM231.6 399.0h1v1h-1zM231.5 398.2h1v1h-1zM239.8 397.1h1v1h-1zM230.0 420.3h1v1h-1zM239.0 409.4h1v1h-1zM239.5 410.4h1v1h-1zM225.5 401.7h1v1h-1zM234.3 397.5h1v1h-1zM241.5 404.4h1v1h-1zM228.8 418.9h1v1h-1zM243.2 395.8h1v1h-1zM240.0 409.2h1v1h-1zM242.5 396.1h1v1h-1zM223.3 401.2h1v1h-1zM226.3 409.1h1v1h-1zM230.7 418.8h1v1h-1zM234.1 421.0h1v1h-1zM240.3 396.8h1v1h-1zM243.1 400.8h1v1h-1zM233.3 399.5h1v1h-1zM243.6 397.7h1v1h-1zM230.1 419.6h1v1h-1zM235.4 417.3h1v1h-1zM242.6 397.5h1v1h-1zM234.2 420.9h1v1h-1zM242.8 401.9h1v1h-1zM228.4 417.2h1v1h-1zM242.8 401.7h1v1h-1zM228.0 414.1h1v1h-1zM236.7 397.3h1v1h-1zM242.3 396.7h1v1h-1zM238.3 413.0h1v1h-1zM240.7 405.9h1v1h-1zM234.7 417.9h1v1h-1zM235.1 398.7h1v1h-1zM226.9 406.0h1v1h-1zM228.4 416.8h1v1h-1zM238.8 411.1h1v1h-1zM237.6 397.6h1v1h-1zM226.5 405.7h1v1h-1zM232.5 419.8h1v1h-1zM225.7 411.4h1v1h-1zM227.0 407.4h1v1h-1zM234.5 419.2h1v1h-1zM236.2 414.9h1v1h-1zM238.6 412.0h1v1h-1zM240.9 406.0h1v1h-1zM228.6 416.0h1v1h-1zM229.8 418.8h1v1h-1zM243.2 396.9h1v1h-1zM232.1 398.2h1v1h-1zM229.5 417.9h1v1h-1zM238.5 410.4h1v1h-1zM238.3 411.6h1v1h-1zM227.4 414.5h1v1h-1zM233.1 419.6h1v1h-1zM227.7 412.7h1v1h-1zM241.7 398.0h1v1h-1zM225.5 403.4h1v1h-1zM226.7 404.2h1v1h-1zM231.0 420.3h1v1h-1zM224.9 400.7h1v1h-1zM239.1 409.4h1v1h-1zM238.0 412.2h1v1h-1zM227.9 416.1h1v1h-1zM227.7 414.1h1v1h-1zM237.8 414.5h1v1h-1zM226.7 406.9h1v1h-1zM227.4 404.8h1v1h-1zM243.5 397.9h1v1h-1z" fill="#2a3ad8" opacity="0.55"/>
<g filter="url(#bl)"><path d="M225.20 402.40C225.26 402.13 226.17 402.05 226.66 401.87C227.14 401.69 227.63 401.51 228.11 401.34C228.60 401.16 229.08 400.98 229.57 400.81C230.05 400.63 230.54 400.44 231.02 400.27C231.51 400.10 232.01 399.95 232.50 399.79C232.99 399.64 233.49 399.49 233.98 399.34C234.47 399.19 234.97 399.04 235.46 398.88C235.96 398.73 236.45 398.58 236.94 398.43C237.44 398.28 237.93 398.12 238.43 397.98C238.92 397.83 239.44 397.67 239.92 397.56C240.40 397.45 241.04 397.11 241.32 397.32C241.60 397.54 241.50 398.34 241.58 398.85C241.67 399.36 241.86 399.88 241.84 400.38C241.83 400.88 241.63 401.36 241.48 401.85C241.33 402.34 241.13 402.82 240.95 403.31C240.77 403.79 240.59 404.28 240.42 404.76C240.24 405.25 240.07 405.73 239.89 406.22C239.70 406.70 239.52 407.18 239.32 407.66C239.13 408.14 238.92 408.61 238.72 409.09C238.52 409.57 238.32 410.04 238.12 410.52C237.92 411.00 237.72 411.47 237.52 411.95C237.32 412.43 237.13 412.91 236.92 413.38C236.71 413.85 236.49 414.32 236.26 414.78C236.03 415.24 235.80 415.70 235.57 416.17C235.34 416.63 235.15 417.15 234.87 417.55C234.60 417.96 234.33 418.37 233.92 418.60C233.51 418.83 232.86 418.92 232.40 418.91C231.94 418.91 231.50 418.85 231.14 418.58C230.78 418.32 230.55 417.74 230.25 417.31C229.95 416.89 229.64 416.48 229.36 416.04C229.08 415.61 228.79 415.19 228.58 414.72C228.38 414.25 228.28 413.73 228.12 413.24C227.97 412.75 227.82 412.25 227.66 411.76C227.51 411.26 227.31 410.77 227.20 410.28C227.10 409.78 227.00 409.29 227.05 408.80C227.10 408.30 227.35 407.81 227.50 407.31C227.65 406.82 227.96 406.28 227.94 405.83C227.92 405.37 227.67 404.98 227.39 404.59C227.12 404.20 226.66 403.86 226.30 403.50C225.93 403.13 225.14 402.67 225.20 402.40Z" fill="#1f22d8" opacity="0.8"/><path d="M226.86 402.75C226.86 402.44 227.24 402.16 227.58 401.97C227.91 401.78 228.43 401.73 228.86 401.61C229.29 401.49 229.72 401.37 230.15 401.26C230.58 401.14 231.01 401.01 231.44 400.90C231.87 400.78 232.31 400.67 232.74 400.57C233.17 400.46 233.61 400.36 234.04 400.25C234.48 400.14 234.91 400.04 235.34 399.93C235.78 399.83 236.21 399.72 236.65 399.62C237.08 399.51 237.52 399.40 237.95 399.30C238.39 399.20 238.88 399.04 239.26 399.01C239.64 398.97 240.07 398.85 240.25 399.08C240.43 399.32 240.31 399.97 240.34 400.41C240.37 400.86 240.46 401.30 240.43 401.74C240.40 402.18 240.28 402.61 240.18 403.04C240.07 403.47 239.94 403.90 239.80 404.32C239.66 404.75 239.49 405.16 239.33 405.58C239.17 406.00 239.02 406.42 238.86 406.84C238.70 407.26 238.54 407.68 238.37 408.10C238.21 408.51 238.03 408.93 237.87 409.34C237.70 409.76 237.53 410.17 237.36 410.59C237.19 411.00 237.02 411.42 236.85 411.83C236.68 412.25 236.53 412.67 236.34 413.08C236.16 413.48 235.94 413.88 235.74 414.28C235.54 414.67 235.32 415.07 235.11 415.47C234.90 415.86 234.72 416.29 234.49 416.66C234.25 417.02 234.04 417.47 233.72 417.66C233.39 417.84 232.91 417.82 232.53 417.76C232.15 417.70 231.77 417.53 231.44 417.29C231.12 417.04 230.82 416.65 230.58 416.28C230.34 415.92 230.18 415.50 230.00 415.10C229.82 414.70 229.63 414.31 229.48 413.89C229.34 413.47 229.25 413.02 229.14 412.59C229.02 412.16 228.91 411.72 228.80 411.29C228.68 410.86 228.54 410.43 228.45 409.99C228.37 409.56 228.28 409.13 228.28 408.69C228.28 408.26 228.39 407.83 228.44 407.39C228.50 406.96 228.64 406.50 228.61 406.09C228.57 405.68 228.40 405.30 228.22 404.93C228.05 404.55 227.77 404.20 227.54 403.84C227.31 403.48 226.85 403.06 226.86 402.75Z" fill="#1fb7f0"/><path d="M228.88 403.18C228.82 402.82 228.55 402.30 228.70 402.10C228.85 401.90 229.42 402.00 229.78 401.95C230.14 401.90 230.51 401.85 230.87 401.81C231.23 401.76 231.59 401.71 231.95 401.66C232.31 401.61 232.67 401.56 233.03 401.51C233.40 401.46 233.76 401.41 234.12 401.36C234.48 401.31 234.84 401.27 235.20 401.22C235.56 401.17 235.92 401.12 236.28 401.07C236.65 401.02 237.01 400.97 237.37 400.92C237.73 400.87 238.19 400.72 238.45 400.77C238.71 400.83 238.88 400.98 238.94 401.24C239.00 401.50 238.86 401.96 238.82 402.32C238.78 402.69 238.74 403.05 238.71 403.41C238.67 403.77 238.64 404.14 238.59 404.50C238.54 404.86 238.49 405.22 238.40 405.57C238.30 405.92 238.13 406.25 238.00 406.59C237.87 406.93 237.74 407.27 237.61 407.61C237.48 407.95 237.34 408.29 237.21 408.63C237.08 408.97 236.95 409.31 236.82 409.65C236.69 409.99 236.56 410.33 236.42 410.67C236.29 411.01 236.16 411.35 236.03 411.69C235.90 412.03 235.79 412.38 235.64 412.71C235.48 413.04 235.28 413.34 235.10 413.66C234.93 413.98 234.74 414.29 234.56 414.61C234.38 414.93 234.20 415.24 234.01 415.56C233.83 415.87 233.69 416.37 233.47 416.51C233.25 416.64 232.97 416.49 232.69 416.35C232.42 416.22 232.10 415.92 231.81 415.70C231.53 415.48 231.16 415.31 230.99 415.02C230.81 414.73 230.85 414.30 230.78 413.95C230.72 413.59 230.65 413.23 230.58 412.87C230.51 412.51 230.45 412.15 230.38 411.80C230.31 411.44 230.25 411.08 230.18 410.72C230.11 410.36 230.04 410.01 229.98 409.65C229.91 409.29 229.84 408.93 229.78 408.57C229.72 408.21 229.66 407.85 229.60 407.49C229.54 407.13 229.48 406.77 229.42 406.41C229.36 406.05 229.30 405.70 229.24 405.34C229.18 404.98 229.12 404.62 229.06 404.26C229.00 403.90 228.94 403.54 228.88 403.18Z" fill="#37c23a"/><path d="M230.50 403.18C230.47 402.92 230.29 402.55 230.40 402.40C230.51 402.25 230.92 402.34 231.19 402.31C231.45 402.28 231.71 402.25 231.97 402.23C232.24 402.20 232.50 402.17 232.76 402.14C233.02 402.11 233.28 402.08 233.55 402.05C233.81 402.02 234.07 401.99 234.33 401.96C234.60 401.93 234.86 401.90 235.12 401.88C235.38 401.85 235.65 401.82 235.91 401.79C236.17 401.76 236.43 401.73 236.69 401.70C236.96 401.67 237.22 401.64 237.48 401.61C237.74 401.58 238.13 401.46 238.27 401.53C238.41 401.60 238.36 401.82 238.33 402.03C238.30 402.24 238.17 402.54 238.09 402.79C238.01 403.04 237.93 403.29 237.86 403.54C237.78 403.79 237.70 404.05 237.62 404.30C237.54 404.55 237.47 404.80 237.38 405.05C237.29 405.30 237.19 405.54 237.09 405.79C236.98 406.03 236.87 406.27 236.76 406.51C236.66 406.75 236.55 406.99 236.44 407.23C236.34 407.48 236.23 407.72 236.12 407.96C236.02 408.20 235.91 408.44 235.80 408.68C235.70 408.92 235.59 409.16 235.48 409.41C235.38 409.65 235.29 409.90 235.16 410.13C235.04 410.36 234.90 410.58 234.75 410.79C234.59 411.00 234.40 411.19 234.23 411.39C234.05 411.59 233.88 411.79 233.71 411.99C233.53 412.19 233.34 412.53 233.19 412.58C233.04 412.64 232.92 412.50 232.80 412.34C232.68 412.17 232.59 411.85 232.49 411.61C232.39 411.37 232.28 411.12 232.18 410.88C232.07 410.64 231.97 410.40 231.87 410.15C231.76 409.91 231.63 409.67 231.55 409.43C231.47 409.18 231.44 408.91 231.39 408.65C231.34 408.40 231.30 408.13 231.25 407.87C231.21 407.61 231.16 407.35 231.12 407.09C231.07 406.83 231.03 406.57 230.98 406.31C230.94 406.05 230.89 405.79 230.85 405.53C230.80 405.27 230.75 405.02 230.71 404.75C230.67 404.49 230.64 404.23 230.60 403.97C230.57 403.71 230.54 403.45 230.50 403.18Z" fill="#f2ef10"/><path d="M231.52 402.78C231.55 402.63 231.50 402.42 231.61 402.33C231.72 402.25 231.99 402.29 232.18 402.27C232.37 402.25 232.56 402.23 232.76 402.21C232.95 402.19 233.14 402.17 233.33 402.15C233.52 402.13 233.71 402.11 233.91 402.08C234.10 402.06 234.29 402.04 234.48 402.02C234.67 402.00 234.86 401.98 235.06 401.96C235.25 401.94 235.44 401.92 235.63 401.90C235.82 401.88 236.01 401.86 236.21 401.84C236.40 401.82 236.59 401.80 236.78 401.78C236.97 401.76 237.23 401.68 237.36 401.71C237.48 401.75 237.51 401.85 237.53 401.98C237.56 402.10 237.52 402.29 237.50 402.46C237.49 402.63 237.46 402.82 237.44 403.00C237.42 403.18 237.40 403.36 237.38 403.54C237.36 403.72 237.36 403.91 237.32 404.08C237.27 404.25 237.19 404.40 237.10 404.56C237.01 404.71 236.89 404.85 236.78 404.99C236.68 405.14 236.57 405.28 236.47 405.43C236.37 405.57 236.26 405.72 236.16 405.86C236.05 406.01 235.95 406.15 235.84 406.30C235.74 406.45 235.63 406.59 235.53 406.74C235.42 406.88 235.33 407.03 235.21 407.17C235.10 407.31 234.98 407.45 234.85 407.57C234.72 407.70 234.56 407.82 234.42 407.94C234.28 408.06 234.14 408.19 234.00 408.29C233.86 408.40 233.71 408.55 233.59 408.56C233.46 408.57 233.35 408.47 233.25 408.36C233.14 408.25 233.05 408.05 232.95 407.90C232.85 407.75 232.74 407.59 232.64 407.44C232.54 407.28 232.44 407.13 232.34 406.97C232.24 406.82 232.13 406.67 232.04 406.51C231.96 406.35 231.89 406.19 231.82 406.03C231.75 405.86 231.69 405.70 231.62 405.54C231.55 405.37 231.49 405.21 231.42 405.04C231.35 404.88 231.24 404.71 231.21 404.55C231.19 404.40 231.26 404.26 231.28 404.11C231.30 403.96 231.32 403.82 231.35 403.67C231.38 403.52 231.41 403.37 231.43 403.22C231.46 403.07 231.49 402.93 231.52 402.78Z" fill="#ff9200"/><path d="M232.76 402.28C232.87 402.27 232.98 402.26 233.08 402.25C233.19 402.24 233.29 402.23 233.40 402.22C233.50 402.21 233.61 402.20 233.71 402.19C233.82 402.18 233.92 402.17 234.03 402.16C234.13 402.15 234.24 402.14 234.35 402.13C234.45 402.12 234.56 402.11 234.66 402.10C234.77 402.09 234.87 402.08 234.98 402.07C235.08 402.06 235.19 402.05 235.29 402.04C235.40 402.03 235.50 402.01 235.61 402.00C235.72 401.99 235.82 401.98 235.93 401.97C236.03 401.96 236.14 401.95 236.24 401.94C236.35 401.93 236.47 401.90 236.56 401.91C236.65 401.93 236.72 401.98 236.78 402.05C236.85 402.12 236.89 402.24 236.94 402.33C236.99 402.43 237.04 402.52 237.09 402.61C237.14 402.71 237.24 402.82 237.24 402.89C237.24 402.96 237.19 403.01 237.11 403.05C237.04 403.09 236.91 403.11 236.81 403.14C236.71 403.16 236.60 403.19 236.50 403.22C236.40 403.25 236.30 403.28 236.19 403.30C236.09 403.33 235.99 403.36 235.89 403.39C235.79 403.42 235.68 403.45 235.58 403.47C235.48 403.50 235.38 403.53 235.28 403.56C235.17 403.59 235.07 403.61 234.97 403.64C234.87 403.67 234.77 403.70 234.66 403.73C234.56 403.75 234.46 403.79 234.36 403.78C234.26 403.77 234.17 403.69 234.07 403.64C233.98 403.60 233.88 403.55 233.79 403.50C233.69 403.46 233.60 403.41 233.50 403.37C233.41 403.32 233.31 403.27 233.22 403.23C233.12 403.18 233.03 403.14 232.93 403.09C232.83 403.04 232.74 403.00 232.64 402.95C232.55 402.91 232.45 402.86 232.36 402.81C232.26 402.77 232.17 402.72 232.07 402.68C231.98 402.63 231.88 402.58 231.79 402.54C231.69 402.49 231.49 402.43 231.50 402.40C231.51 402.37 231.71 402.38 231.82 402.37C231.92 402.36 232.03 402.35 232.13 402.34C232.24 402.33 232.34 402.32 232.45 402.31C232.55 402.30 232.66 402.29 232.76 402.28Z" fill="#ff1800"/></g>
<path d="M231.8 418 L233 418 L233 423.5 L231.8 423.5 Z" fill="#1fb7f0" opacity="0.7"/>
<path d="M199.8 432.7h1v1h-1zM196.2 428.0h1v1h-1zM214.9 431.7h1v1h-1zM215.2 424.4h1v1h-1zM201.1 424.8h1v1h-1zM207.4 423.5h1v1h-1zM209.4 433.5h1v1h-1zM201.2 434.2h1v1h-1zM210.3 433.5h1v1h-1zM198.6 425.9h1v1h-1zM210.4 424.1h1v1h-1zM217.4 425.7h1v1h-1zM196.3 427.7h1v1h-1zM219.9 427.3h1v1h-1zM196.8 430.0h1v1h-1zM216.2 431.4h1v1h-1zM197.5 432.6h1v1h-1zM197.4 425.6h1v1h-1zM197.7 430.4h1v1h-1zM210.7 433.4h1v1h-1zM201.2 433.5h1v1h-1zM197.2 432.6h1v1h-1zM217.9 429.8h1v1h-1zM197.3 425.7h1v1h-1zM211.5 423.9h1v1h-1zM197.1 426.0h1v1h-1zM203.7 434.7h1v1h-1zM209.2 433.4h1v1h-1zM196.1 430.7h1v1h-1zM209.7 424.2h1v1h-1zM209.4 434.2h1v1h-1zM208.9 434.2h1v1h-1zM219.0 428.9h1v1h-1zM195.2 428.5h1v1h-1zM218.1 429.6h1v1h-1zM196.6 428.6h1v1h-1zM195.9 429.8h1v1h-1zM206.5 423.5h1v1h-1zM208.6 434.4h1v1h-1zM207.2 423.9h1v1h-1zM218.1 429.0h1v1h-1zM211.6 423.8h1v1h-1zM202.3 424.0h1v1h-1zM212.6 424.5h1v1h-1zM198.4 433.4h1v1h-1zM214.2 433.2h1v1h-1zM203.8 423.9h1v1h-1zM217.4 431.3h1v1h-1zM203.7 423.8h1v1h-1zM207.5 434.6h1v1h-1zM201.5 434.3h1v1h-1zM211.5 423.8h1v1h-1zM211.0 423.7h1v1h-1zM198.4 432.2h1v1h-1zM195.9 426.9h1v1h-1zM206.4 434.7h1v1h-1zM198.1 426.1h1v1h-1zM199.3 424.6h1v1h-1zM218.7 426.6h1v1h-1zM205.6 424.0h1v1h-1z" fill="#2a3ad8" opacity="0.55"/>
<path d="M222.1 429.0h.9v.9h-.9zM221.6 429.4h.9v.9h-.9zM219.8 427.3h.9v.9h-.9zM222.5 427.9h.9v.9h-.9zM221.0 429.5h.9v.9h-.9zM223.3 430.3h.9v.9h-.9zM219.3 428.0h.9v.9h-.9zM222.4 426.4h.9v.9h-.9zM217.9 429.4h.9v.9h-.9zM219.5 427.2h.9v.9h-.9zM223.0 429.3h.9v.9h-.9zM223.3 428.0h.9v.9h-.9zM220.3 428.0h.9v.9h-.9zM221.8 425.5h.9v.9h-.9zM219.3 429.5h.9v.9h-.9zM219.1 428.4h.9v.9h-.9zM221.3 429.3h.9v.9h-.9zM219.9 426.8h.9v.9h-.9zM227.2 427.5h.9v.9h-.9zM225.2 425.9h.9v.9h-.9zM221.3 428.2h.9v.9h-.9zM225.7 431.5h.9v.9h-.9zM223.4 427.0h.9v.9h-.9zM219.0 427.4h.9v.9h-.9zM219.8 428.9h.9v.9h-.9zM219.1 428.1h.9v.9h-.9zM224.6 430.6h.9v.9h-.9zM216.4 427.1h.9v.9h-.9zM220.1 430.4h.9v.9h-.9zM220.2 431.3h.9v.9h-.9z" fill="#5a6fd6" opacity="0.5"/>
<g filter="url(#bl)"><path d="M196.50 428.20C196.55 427.88 197.14 427.63 197.46 427.35C197.78 427.07 198.10 426.79 198.42 426.50C198.74 426.22 199.04 425.89 199.38 425.66C199.72 425.42 200.09 425.22 200.48 425.09C200.87 424.95 201.32 424.93 201.74 424.85C202.16 424.77 202.58 424.69 203.00 424.61C203.41 424.53 203.83 424.45 204.25 424.37C204.67 424.29 205.09 424.20 205.51 424.13C205.93 424.05 206.35 423.92 206.77 423.91C207.19 423.90 207.62 424.02 208.04 424.08C208.46 424.13 208.89 424.19 209.31 424.25C209.73 424.30 210.16 424.36 210.58 424.41C211.00 424.47 211.43 424.53 211.85 424.58C212.27 424.64 212.71 424.65 213.12 424.75C213.53 424.85 213.91 425.03 214.30 425.20C214.69 425.37 215.07 425.58 215.45 425.77C215.83 425.97 216.21 426.16 216.59 426.35C216.98 426.54 217.44 426.69 217.74 426.92C218.04 427.15 218.33 427.38 218.37 427.71C218.41 428.05 218.14 428.55 217.98 428.93C217.81 429.31 217.67 429.70 217.38 429.99C217.10 430.27 216.65 430.42 216.28 430.64C215.91 430.85 215.54 431.07 215.17 431.29C214.81 431.50 214.44 431.72 214.07 431.94C213.70 432.15 213.35 432.42 212.97 432.58C212.58 432.75 212.17 432.85 211.76 432.94C211.34 433.04 210.91 433.09 210.49 433.16C210.07 433.23 209.65 433.30 209.23 433.38C208.81 433.45 208.39 433.52 207.97 433.59C207.55 433.66 207.13 433.74 206.71 433.81C206.28 433.88 205.86 434.01 205.44 434.02C205.03 434.03 204.61 433.95 204.20 433.87C203.79 433.78 203.38 433.63 202.97 433.52C202.56 433.40 202.15 433.28 201.74 433.16C201.33 433.04 200.92 432.92 200.51 432.81C200.10 432.69 199.61 432.67 199.28 432.45C198.95 432.23 198.76 431.81 198.52 431.47C198.28 431.12 198.07 430.74 197.85 430.38C197.62 430.02 197.40 429.65 197.17 429.29C196.95 428.93 196.45 428.52 196.50 428.20Z" fill="#1f22d8" opacity="0.9"/></g>
<g filter="url(#bl)"><path d="M196.50 428.20C196.55 427.84 197.21 427.57 197.57 427.26C197.92 426.94 198.28 426.63 198.63 426.32C198.99 426.00 199.30 425.60 199.70 425.37C200.10 425.15 200.58 425.09 201.04 424.98C201.49 424.87 201.97 424.80 202.44 424.72C202.90 424.63 203.37 424.54 203.83 424.45C204.30 424.36 204.77 424.27 205.23 424.18C205.70 424.09 206.16 423.93 206.63 423.91C207.10 423.90 207.57 424.02 208.04 424.08C208.51 424.14 208.98 424.20 209.45 424.26C209.92 424.33 210.39 424.39 210.86 424.45C211.33 424.51 211.81 424.57 212.27 424.64C212.74 424.71 213.22 424.74 213.67 424.88C214.11 425.03 214.52 425.31 214.94 425.52C215.36 425.73 215.79 425.94 216.21 426.16C216.64 426.37 217.12 426.56 217.49 426.79C217.85 427.03 218.33 427.22 218.41 427.58C218.49 427.93 218.17 428.52 217.98 428.93C217.79 429.34 217.58 429.75 217.26 430.06C216.94 430.37 216.44 430.54 216.03 430.78C215.62 431.02 215.22 431.26 214.81 431.50C214.40 431.74 213.99 432.00 213.58 432.22C213.16 432.45 212.76 432.70 212.32 432.85C211.87 432.99 211.38 433.01 210.91 433.09C210.45 433.17 209.98 433.25 209.51 433.33C209.04 433.41 208.58 433.49 208.11 433.57C207.64 433.65 207.17 433.73 206.71 433.81C206.24 433.89 205.77 434.05 205.30 434.05C204.84 434.05 204.38 433.90 203.93 433.79C203.47 433.68 203.02 433.53 202.56 433.40C202.10 433.27 201.65 433.13 201.19 433.00C200.74 432.87 200.23 432.80 199.82 432.61C199.42 432.41 199.05 432.16 198.75 431.83C198.44 431.50 198.25 431.02 198.00 430.62C197.75 430.22 197.50 429.81 197.25 429.41C197.00 429.01 196.45 428.56 196.50 428.20Z" fill="#1f22d8"/><path d="M197.14 428.30C197.20 427.96 197.78 427.69 198.10 427.38C198.41 427.07 198.72 426.75 199.05 426.45C199.38 426.16 199.70 425.81 200.08 425.61C200.46 425.40 200.91 425.34 201.34 425.23C201.77 425.12 202.22 425.05 202.66 424.96C203.10 424.87 203.54 424.78 203.98 424.70C204.41 424.61 204.85 424.52 205.29 424.43C205.73 424.34 206.17 424.18 206.61 424.16C207.05 424.14 207.49 424.25 207.94 424.31C208.38 424.36 208.83 424.43 209.27 424.49C209.71 424.55 210.16 424.61 210.60 424.67C211.04 424.73 211.49 424.78 211.93 424.85C212.37 424.92 212.83 424.95 213.25 425.08C213.67 425.22 214.06 425.45 214.46 425.65C214.86 425.85 215.24 426.06 215.62 426.28C216.00 426.49 216.43 426.70 216.76 426.94C217.09 427.18 217.51 427.38 217.60 427.72C217.68 428.07 217.43 428.61 217.26 429.00C217.10 429.39 216.91 429.77 216.61 430.06C216.31 430.35 215.84 430.52 215.45 430.75C215.07 430.98 214.68 431.21 214.30 431.44C213.92 431.67 213.54 431.91 213.15 432.13C212.76 432.34 212.38 432.59 211.96 432.73C211.55 432.87 211.09 432.91 210.65 432.99C210.21 433.07 209.77 433.13 209.33 433.20C208.88 433.27 208.44 433.34 208.00 433.40C207.56 433.47 207.12 433.54 206.67 433.61C206.23 433.68 205.79 433.82 205.35 433.82C204.91 433.82 204.48 433.69 204.04 433.60C203.61 433.50 203.18 433.37 202.75 433.26C202.32 433.14 201.89 433.03 201.46 432.89C201.04 432.76 200.58 432.67 200.20 432.47C199.83 432.27 199.48 432.03 199.20 431.71C198.91 431.40 198.71 430.96 198.47 430.59C198.23 430.21 197.97 429.84 197.75 429.46C197.53 429.08 197.08 428.65 197.14 428.30Z" fill="#1fb7f0"/><path d="M197.97 428.43C198.03 428.10 198.50 427.83 198.77 427.53C199.04 427.23 199.28 426.90 199.58 426.63C199.88 426.36 200.21 426.08 200.57 425.90C200.93 425.72 201.34 425.65 201.74 425.55C202.13 425.45 202.54 425.37 202.95 425.28C203.35 425.19 203.75 425.10 204.16 425.01C204.56 424.92 204.97 424.84 205.37 424.75C205.77 424.66 206.17 424.50 206.58 424.48C206.99 424.45 207.40 424.55 207.80 424.60C208.21 424.65 208.62 424.72 209.03 424.77C209.44 424.83 209.85 424.89 210.26 424.95C210.67 425.01 211.08 425.06 211.49 425.12C211.90 425.19 212.32 425.22 212.71 425.34C213.10 425.45 213.49 425.63 213.84 425.82C214.20 426.00 214.53 426.22 214.86 426.44C215.19 426.66 215.54 426.88 215.82 427.13C216.10 427.37 216.46 427.59 216.55 427.92C216.63 428.24 216.47 428.74 216.34 429.10C216.21 429.45 216.04 429.79 215.77 430.06C215.50 430.33 215.06 430.49 214.71 430.71C214.36 430.92 214.00 431.14 213.65 431.35C213.30 431.57 212.95 431.79 212.59 432.00C212.23 432.20 211.88 432.43 211.51 432.58C211.13 432.72 210.72 432.79 210.32 432.87C209.91 432.94 209.50 432.98 209.09 433.03C208.68 433.09 208.27 433.14 207.86 433.19C207.45 433.25 207.04 433.30 206.63 433.36C206.22 433.41 205.81 433.52 205.41 433.52C205.00 433.52 204.60 433.42 204.20 433.35C203.79 433.27 203.39 433.18 202.99 433.08C202.60 432.98 202.20 432.89 201.81 432.75C201.43 432.62 201.03 432.49 200.69 432.29C200.35 432.09 200.04 431.85 199.77 431.56C199.50 431.27 199.30 430.88 199.07 430.54C198.84 430.20 198.58 429.87 198.39 429.52C198.21 429.17 197.90 428.76 197.97 428.43Z" fill="#37c23a"/><path d="M198.79 428.56C198.86 428.25 199.23 427.98 199.45 427.69C199.67 427.39 199.85 427.06 200.12 426.81C200.38 426.56 200.72 426.36 201.06 426.20C201.39 426.05 201.77 425.97 202.13 425.87C202.49 425.77 202.87 425.69 203.24 425.60C203.60 425.51 203.97 425.42 204.34 425.33C204.71 425.24 205.08 425.15 205.45 425.06C205.81 424.97 206.18 424.82 206.55 424.79C206.92 424.77 207.30 424.85 207.67 424.89C208.05 424.94 208.42 425.00 208.80 425.06C209.17 425.12 209.55 425.17 209.93 425.23C210.30 425.28 210.68 425.33 211.05 425.40C211.43 425.46 211.81 425.49 212.17 425.59C212.53 425.69 212.91 425.82 213.23 425.98C213.55 426.15 213.83 426.37 214.10 426.60C214.38 426.82 214.65 427.06 214.89 427.32C215.12 427.57 215.41 427.80 215.50 428.11C215.59 428.42 215.52 428.86 215.42 429.19C215.33 429.51 215.18 429.82 214.93 430.06C214.69 430.31 214.29 430.47 213.97 430.67C213.64 430.87 213.32 431.07 213.00 431.27C212.68 431.47 212.36 431.68 212.03 431.87C211.71 432.06 211.39 432.28 211.05 432.43C210.71 432.57 210.35 432.67 209.98 432.74C209.61 432.82 209.23 432.82 208.85 432.86C208.47 432.90 208.10 432.94 207.72 432.98C207.35 433.02 206.97 433.06 206.59 433.10C206.22 433.14 205.84 433.23 205.46 433.22C205.09 433.22 204.72 433.15 204.35 433.10C203.98 433.04 203.60 432.98 203.24 432.90C202.87 432.82 202.50 432.75 202.16 432.61C201.82 432.48 201.48 432.31 201.18 432.11C200.88 431.91 200.60 431.68 200.35 431.41C200.10 431.14 199.89 430.80 199.68 430.50C199.46 430.19 199.18 429.90 199.03 429.58C198.89 429.26 198.72 428.88 198.79 428.56Z" fill="#f2ef10"/><path d="M199.80 428.73C199.87 428.43 200.12 428.16 200.28 427.88C200.45 427.59 200.54 427.24 200.77 427.02C201.00 426.81 201.35 426.69 201.65 426.57C201.96 426.44 202.29 426.36 202.61 426.26C202.93 426.17 203.26 426.08 203.59 425.99C203.91 425.90 204.24 425.81 204.56 425.72C204.89 425.63 205.21 425.54 205.54 425.45C205.86 425.36 206.19 425.22 206.52 425.18C206.84 425.15 207.18 425.21 207.51 425.25C207.84 425.29 208.18 425.36 208.51 425.41C208.85 425.46 209.18 425.52 209.51 425.57C209.85 425.62 210.18 425.67 210.52 425.73C210.85 425.78 211.19 425.83 211.51 425.90C211.84 425.98 212.20 426.04 212.48 426.19C212.75 426.34 212.96 426.56 213.18 426.79C213.39 427.01 213.57 427.29 213.74 427.55C213.92 427.80 214.12 428.05 214.21 428.34C214.31 428.64 214.35 429.01 214.30 429.30C214.25 429.59 214.12 429.85 213.91 430.07C213.70 430.29 213.34 430.43 213.06 430.62C212.77 430.80 212.49 430.98 212.20 431.17C211.92 431.35 211.64 431.54 211.35 431.72C211.07 431.90 210.79 432.09 210.49 432.24C210.19 432.39 209.89 432.52 209.57 432.59C209.25 432.66 208.90 432.64 208.56 432.66C208.22 432.68 207.89 432.70 207.55 432.73C207.22 432.75 206.88 432.77 206.54 432.79C206.21 432.82 205.87 432.86 205.53 432.86C205.20 432.86 204.87 432.82 204.53 432.79C204.20 432.76 203.86 432.74 203.53 432.68C203.21 432.62 202.88 432.57 202.59 432.44C202.30 432.31 202.04 432.09 201.78 431.89C201.52 431.69 201.28 431.47 201.05 431.23C200.82 430.99 200.62 430.71 200.41 430.44C200.21 430.18 199.92 429.94 199.82 429.65C199.72 429.36 199.72 429.02 199.80 428.73Z" fill="#ff9200"/><path d="M201.08 428.93C201.17 428.66 201.25 428.39 201.34 428.11C201.43 427.84 201.42 427.48 201.60 427.30C201.78 427.12 202.14 427.12 202.41 427.03C202.68 426.94 202.95 426.85 203.22 426.76C203.49 426.67 203.76 426.58 204.04 426.49C204.31 426.40 204.58 426.31 204.85 426.22C205.12 426.13 205.39 426.04 205.66 425.95C205.93 425.86 206.20 425.72 206.47 425.68C206.74 425.64 207.02 425.68 207.30 425.71C207.58 425.74 207.87 425.81 208.15 425.86C208.43 425.90 208.71 425.95 208.99 426.00C209.27 426.05 209.55 426.10 209.83 426.15C210.11 426.20 210.39 426.25 210.67 426.30C210.96 426.35 211.30 426.33 211.52 426.45C211.74 426.57 211.87 426.80 211.99 427.03C212.12 427.27 212.19 427.57 212.29 427.84C212.38 428.11 212.48 428.37 212.58 428.64C212.68 428.91 212.87 429.21 212.87 429.45C212.88 429.68 212.77 429.89 212.60 430.07C212.44 430.26 212.13 430.39 211.90 430.55C211.66 430.71 211.43 430.88 211.19 431.04C210.96 431.20 210.72 431.36 210.49 431.52C210.25 431.68 210.02 431.86 209.78 432.00C209.54 432.15 209.31 432.33 209.05 432.40C208.78 432.47 208.48 432.40 208.19 432.40C207.91 432.40 207.62 432.40 207.34 432.40C207.05 432.40 206.77 432.40 206.48 432.40C206.19 432.40 205.91 432.40 205.62 432.40C205.34 432.40 205.05 432.40 204.77 432.40C204.48 432.40 204.19 432.43 203.91 432.40C203.64 432.37 203.36 432.36 203.13 432.23C202.90 432.09 202.74 431.81 202.54 431.61C202.34 431.40 202.14 431.20 201.95 430.99C201.75 430.79 201.54 430.58 201.35 430.37C201.16 430.17 200.86 429.99 200.82 429.74C200.77 429.50 200.99 429.20 201.08 428.93Z" fill="#ff1800"/></g>
<path d="M223.2 428.0h1v1h-1zM226.3 431.9h1v1h-1zM223.6 427.8h1v1h-1zM235.0 426.7h1v1h-1zM234.2 429.1h1v1h-1zM226.9 425.4h1v1h-1zM235.3 428.0h1v1h-1zM233.9 422.3h1v1h-1zM223.1 429.1h1v1h-1zM225.1 430.7h1v1h-1zM224.5 430.5h1v1h-1zM235.2 425.5h1v1h-1zM234.4 432.2h1v1h-1zM226.7 432.2h1v1h-1zM222.3 427.7h1v1h-1zM229.7 433.8h1v1h-1zM231.6 423.2h1v1h-1zM231.6 433.5h1v1h-1zM223.4 428.6h1v1h-1zM224.6 431.3h1v1h-1zM233.9 424.2h1v1h-1zM234.5 427.4h1v1h-1zM223.6 428.4h1v1h-1zM231.0 422.9h1v1h-1zM234.6 429.5h1v1h-1zM222.9 427.1h1v1h-1zM223.3 427.8h1v1h-1zM228.9 434.0h1v1h-1zM233.7 424.0h1v1h-1zM233.5 422.9h1v1h-1zM232.4 422.7h1v1h-1zM234.2 431.1h1v1h-1zM230.8 423.2h1v1h-1zM234.6 429.7h1v1h-1zM234.3 425.6h1v1h-1zM231.9 432.7h1v1h-1zM228.5 433.2h1v1h-1zM235.3 429.0h1v1h-1zM229.1 424.5h1v1h-1zM233.1 432.8h1v1h-1z" fill="#2a3ad8" opacity="0.55"/>
<g filter="url(#bl)"><path d="M223.60 427.70C223.67 427.43 224.26 427.31 224.59 427.11C224.92 426.92 225.25 426.72 225.58 426.52C225.91 426.33 226.24 426.13 226.57 425.93C226.90 425.74 227.22 425.52 227.56 425.35C227.90 425.17 228.25 425.02 228.60 424.87C228.95 424.72 229.31 424.58 229.67 424.43C230.02 424.29 230.38 424.14 230.73 423.99C231.09 423.85 231.44 423.70 231.79 423.56C232.15 423.41 232.59 423.03 232.86 423.12C233.13 423.21 233.22 423.76 233.39 424.09C233.57 424.42 233.74 424.78 233.91 425.12C234.08 425.46 234.33 425.79 234.42 426.15C234.52 426.50 234.50 426.88 234.48 427.25C234.46 427.62 234.36 428.01 234.30 428.39C234.24 428.76 234.18 429.14 234.12 429.52C234.06 429.90 234.03 430.31 233.93 430.66C233.84 431.01 233.77 431.38 233.52 431.61C233.27 431.84 232.81 431.89 232.45 432.03C232.09 432.17 231.74 432.32 231.38 432.46C231.02 432.60 230.66 432.78 230.31 432.88C229.96 432.98 229.60 433.13 229.26 433.06C228.92 432.99 228.60 432.66 228.27 432.47C227.94 432.27 227.61 432.08 227.28 431.88C226.95 431.68 226.62 431.49 226.29 431.29C225.96 431.09 225.56 430.97 225.30 430.70C225.04 430.44 224.92 430.04 224.73 429.70C224.55 429.37 224.36 429.04 224.17 428.70C223.98 428.37 223.53 427.97 223.60 427.70Z" fill="#1f22d8"/><path d="M224.58 427.80C224.64 427.56 225.12 427.43 225.39 427.24C225.66 427.05 225.92 426.85 226.20 426.68C226.49 426.50 226.79 426.35 227.09 426.19C227.38 426.02 227.67 425.84 227.97 425.69C228.27 425.54 228.58 425.42 228.90 425.29C229.21 425.16 229.52 425.04 229.84 424.92C230.15 424.80 230.47 424.67 230.78 424.55C231.10 424.42 231.41 424.30 231.72 424.17C232.04 424.05 232.43 423.73 232.67 423.80C232.91 423.88 233.00 424.33 233.15 424.62C233.31 424.91 233.45 425.23 233.59 425.54C233.74 425.84 233.95 426.13 234.03 426.45C234.12 426.76 234.11 427.09 234.11 427.42C234.10 427.75 234.03 428.08 233.99 428.42C233.95 428.75 233.93 429.09 233.87 429.42C233.82 429.74 233.75 430.08 233.65 430.37C233.54 430.66 233.46 430.98 233.23 431.17C233.01 431.37 232.61 431.43 232.29 431.56C231.98 431.68 231.67 431.81 231.35 431.94C231.04 432.06 230.72 432.22 230.41 432.32C230.10 432.41 229.79 432.56 229.49 432.50C229.19 432.45 228.91 432.16 228.62 431.99C228.33 431.81 228.04 431.64 227.75 431.47C227.46 431.29 227.17 431.12 226.88 430.95C226.59 430.77 226.24 430.65 226.01 430.43C225.77 430.20 225.64 429.86 225.47 429.58C225.30 429.29 225.16 428.99 225.01 428.70C224.86 428.40 224.51 428.05 224.58 427.80Z" fill="#1fb7f0"/><path d="M225.55 427.91C225.61 427.69 225.98 427.55 226.19 427.37C226.40 427.19 226.59 426.99 226.83 426.83C227.06 426.68 227.34 426.57 227.60 426.44C227.86 426.31 228.12 426.16 228.38 426.04C228.64 425.92 228.92 425.82 229.19 425.71C229.46 425.61 229.74 425.51 230.01 425.41C230.29 425.30 230.56 425.20 230.83 425.10C231.11 425.00 231.38 424.90 231.65 424.79C231.93 424.69 232.27 424.43 232.48 424.49C232.68 424.55 232.78 424.91 232.91 425.15C233.04 425.40 233.15 425.69 233.28 425.95C233.40 426.22 233.57 426.48 233.64 426.75C233.72 427.02 233.73 427.30 233.73 427.59C233.74 427.87 233.70 428.16 233.68 428.45C233.66 428.73 233.68 429.04 233.63 429.31C233.57 429.58 233.47 429.84 233.36 430.08C233.24 430.32 233.15 430.57 232.94 430.74C232.74 430.90 232.40 430.96 232.14 431.08C231.87 431.19 231.60 431.30 231.33 431.42C231.06 431.53 230.78 431.67 230.52 431.76C230.25 431.85 229.98 431.99 229.72 431.95C229.46 431.91 229.22 431.65 228.97 431.50C228.72 431.35 228.46 431.20 228.21 431.05C227.96 430.90 227.71 430.75 227.46 430.60C227.21 430.45 226.92 430.34 226.71 430.15C226.50 429.96 226.35 429.69 226.21 429.45C226.06 429.21 225.96 428.95 225.85 428.69C225.74 428.43 225.50 428.13 225.55 427.91Z" fill="#37c23a"/><path d="M226.63 428.02C226.68 427.82 226.92 427.68 227.07 427.51C227.22 427.34 227.33 427.14 227.51 427.00C227.70 426.87 227.95 426.81 228.17 426.71C228.39 426.62 228.61 426.51 228.83 426.42C229.06 426.33 229.29 426.26 229.51 426.18C229.74 426.10 229.97 426.02 230.20 425.94C230.43 425.87 230.66 425.79 230.89 425.71C231.12 425.63 231.35 425.55 231.58 425.48C231.81 425.40 232.09 425.20 232.26 425.24C232.44 425.29 232.53 425.55 232.64 425.74C232.75 425.93 232.83 426.19 232.93 426.41C233.02 426.63 233.15 426.85 233.21 427.08C233.28 427.30 233.30 427.54 233.32 427.77C233.34 428.01 233.33 428.25 233.34 428.48C233.35 428.72 233.41 428.98 233.36 429.19C233.31 429.40 233.16 429.58 233.04 429.76C232.92 429.94 232.81 430.13 232.63 430.26C232.45 430.39 232.18 430.45 231.96 430.55C231.74 430.65 231.52 430.75 231.30 430.85C231.07 430.95 230.85 431.06 230.63 431.14C230.41 431.23 230.19 431.37 229.97 431.34C229.76 431.32 229.56 431.10 229.35 430.97C229.14 430.85 228.93 430.72 228.73 430.60C228.52 430.47 228.31 430.35 228.10 430.22C227.89 430.09 227.66 430.00 227.48 429.84C227.30 429.69 227.13 429.50 227.02 429.31C226.90 429.12 226.84 428.90 226.78 428.68C226.71 428.47 226.58 428.21 226.63 428.02Z" fill="#f2ef10"/><path d="M228.24 428.19C228.28 428.03 228.34 427.88 228.39 427.72C228.44 427.57 228.44 427.36 228.54 427.26C228.65 427.16 228.87 427.17 229.03 427.13C229.19 427.09 229.35 427.04 229.51 427.00C229.67 426.95 229.84 426.91 230.00 426.87C230.16 426.83 230.32 426.79 230.49 426.75C230.65 426.71 230.81 426.67 230.97 426.62C231.14 426.58 231.30 426.54 231.46 426.50C231.62 426.46 231.82 426.36 231.95 426.38C232.08 426.40 232.17 426.50 232.24 426.62C232.32 426.74 232.35 426.94 232.40 427.10C232.46 427.25 232.51 427.41 232.56 427.57C232.61 427.73 232.66 427.89 232.70 428.05C232.75 428.21 232.79 428.37 232.83 428.53C232.87 428.69 233.00 428.89 232.96 429.02C232.91 429.14 232.70 429.20 232.57 429.28C232.43 429.37 232.29 429.46 232.15 429.54C232.00 429.62 231.85 429.69 231.70 429.76C231.55 429.84 231.40 429.92 231.25 429.99C231.10 430.07 230.95 430.14 230.80 430.22C230.65 430.29 230.50 430.44 230.35 430.43C230.21 430.43 230.07 430.27 229.92 430.18C229.78 430.09 229.64 430.00 229.49 429.91C229.35 429.83 229.21 429.74 229.07 429.65C228.92 429.56 228.78 429.48 228.64 429.39C228.50 429.29 228.31 429.22 228.23 429.10C228.15 428.98 228.16 428.83 228.17 428.67C228.17 428.52 228.20 428.35 228.24 428.19Z" fill="#ff9200"/></g>
<path d="M304.8 432.8h.9v.9h-.9zM296.9 419.1h.9v.9h-.9zM320.3 408.6h.9v.9h-.9zM303.6 408.1h.9v.9h-.9zM315.4 412.2h.9v.9h-.9zM323.6 422.3h.9v.9h-.9zM306.1 434.6h.9v.9h-.9zM302.6 406.7h.9v.9h-.9zM303.4 404.4h.9v.9h-.9zM301.3 411.4h.9v.9h-.9zM316.5 398.3h.9v.9h-.9zM289.9 405.3h.9v.9h-.9zM302.6 416.0h.9v.9h-.9zM297.0 425.2h.9v.9h-.9zM300.0 410.1h.9v.9h-.9zM306.8 422.2h.9v.9h-.9zM309.6 412.2h.9v.9h-.9zM299.9 413.5h.9v.9h-.9zM310.8 409.0h.9v.9h-.9zM305.9 396.0h.9v.9h-.9zM300.0 422.3h.9v.9h-.9zM322.6 411.4h.9v.9h-.9zM304.2 434.4h.9v.9h-.9zM301.4 420.8h.9v.9h-.9zM299.0 424.0h.9v.9h-.9zM319.6 402.7h.9v.9h-.9zM321.1 436.9h.9v.9h-.9zM303.6 401.5h.9v.9h-.9zM309.4 408.5h.9v.9h-.9zM309.0 398.7h.9v.9h-.9zM318.6 415.9h.9v.9h-.9zM304.1 424.2h.9v.9h-.9zM295.4 418.0h.9v.9h-.9zM290.5 409.2h.9v.9h-.9zM313.5 407.3h.9v.9h-.9zM304.8 417.7h.9v.9h-.9zM323.8 423.4h.9v.9h-.9zM311.4 409.7h.9v.9h-.9zM289.4 427.0h.9v.9h-.9zM327.8 393.2h.9v.9h-.9zM316.2 411.6h.9v.9h-.9zM314.3 414.8h.9v.9h-.9zM303.9 412.0h.9v.9h-.9zM305.7 422.2h.9v.9h-.9zM303.1 407.3h.9v.9h-.9zM313.7 417.6h.9v.9h-.9zM311.2 414.5h.9v.9h-.9zM323.2 421.7h.9v.9h-.9zM308.6 410.2h.9v.9h-.9zM313.8 395.7h.9v.9h-.9zM300.1 405.8h.9v.9h-.9zM308.1 408.6h.9v.9h-.9zM334.6 418.5h.9v.9h-.9zM310.8 431.7h.9v.9h-.9zM306.1 409.2h.9v.9h-.9zM320.3 419.3h.9v.9h-.9zM316.8 422.6h.9v.9h-.9zM301.9 406.2h.9v.9h-.9zM297.8 412.9h.9v.9h-.9zM317.7 402.8h.9v.9h-.9zM299.9 400.3h.9v.9h-.9zM329.2 419.0h.9v.9h-.9zM308.6 401.4h.9v.9h-.9zM294.2 406.4h.9v.9h-.9zM306.5 400.9h.9v.9h-.9zM303.5 422.7h.9v.9h-.9zM306.3 412.9h.9v.9h-.9zM304.4 405.9h.9v.9h-.9zM290.1 411.4h.9v.9h-.9zM294.3 407.2h.9v.9h-.9zM316.6 404.6h.9v.9h-.9zM309.9 398.7h.9v.9h-.9zM312.8 416.8h.9v.9h-.9zM301.6 419.8h.9v.9h-.9zM296.0 412.4h.9v.9h-.9zM325.5 411.8h.9v.9h-.9zM293.2 422.1h.9v.9h-.9zM312.3 409.6h.9v.9h-.9zM309.5 404.5h.9v.9h-.9zM319.4 424.8h.9v.9h-.9zM296.4 416.2h.9v.9h-.9zM327.0 399.6h.9v.9h-.9zM306.8 406.4h.9v.9h-.9zM305.0 412.8h.9v.9h-.9zM309.3 419.8h.9v.9h-.9zM312.0 421.2h.9v.9h-.9zM317.8 421.6h.9v.9h-.9zM298.3 415.6h.9v.9h-.9zM301.8 404.6h.9v.9h-.9zM328.7 414.6h.9v.9h-.9zM306.6 393.5h.9v.9h-.9zM303.4 418.8h.9v.9h-.9zM303.8 407.2h.9v.9h-.9zM323.1 409.3h.9v.9h-.9zM302.3 411.1h.9v.9h-.9zM303.4 421.2h.9v.9h-.9zM312.7 411.4h.9v.9h-.9zM302.0 410.0h.9v.9h-.9zM325.6 409.3h.9v.9h-.9zM313.6 398.2h.9v.9h-.9zM309.8 418.0h.9v.9h-.9zM320.7 414.8h.9v.9h-.9zM312.8 414.8h.9v.9h-.9z" fill="#5a6fd6" opacity="0.25"/>
<path d="M311.4 401.2h1v1h-1zM324.4 410.7h1v1h-1zM314.3 399.9h1v1h-1zM319.9 399.7h1v1h-1zM314.8 406.2h1v1h-1zM318.3 419.6h1v1h-1zM323.2 416.5h1v1h-1zM314.2 401.0h1v1h-1zM320.8 400.7h1v1h-1zM327.1 400.7h1v1h-1zM314.7 408.7h1v1h-1zM320.6 399.6h1v1h-1zM318.3 401.1h1v1h-1zM314.0 400.7h1v1h-1zM324.7 399.4h1v1h-1zM327.3 401.1h1v1h-1zM322.3 418.5h1v1h-1zM326.9 399.7h1v1h-1zM312.9 400.7h1v1h-1zM315.2 412.0h1v1h-1zM318.6 399.2h1v1h-1zM317.1 418.6h1v1h-1zM327.3 399.9h1v1h-1zM326.0 400.1h1v1h-1zM324.6 412.3h1v1h-1zM325.0 409.9h1v1h-1zM314.5 404.8h1v1h-1zM316.6 414.5h1v1h-1zM328.7 400.1h1v1h-1zM314.8 400.8h1v1h-1zM316.2 415.5h1v1h-1zM318.1 418.9h1v1h-1zM320.6 399.0h1v1h-1zM327.5 400.5h1v1h-1zM318.4 399.6h1v1h-1zM315.7 412.1h1v1h-1zM323.8 413.5h1v1h-1zM316.2 412.4h1v1h-1zM325.1 400.5h1v1h-1zM322.4 399.5h1v1h-1zM316.8 417.8h1v1h-1zM316.5 415.8h1v1h-1zM317.4 417.1h1v1h-1zM323.4 414.6h1v1h-1zM317.0 417.0h1v1h-1zM317.8 419.8h1v1h-1zM328.3 400.4h1v1h-1zM327.9 403.1h1v1h-1zM322.9 418.2h1v1h-1zM318.4 418.6h1v1h-1zM317.7 399.7h1v1h-1zM321.0 420.0h1v1h-1zM322.0 399.2h1v1h-1zM321.5 418.2h1v1h-1zM315.7 411.2h1v1h-1zM328.5 402.9h1v1h-1zM318.4 400.2h1v1h-1zM318.2 418.4h1v1h-1zM317.3 417.3h1v1h-1zM316.0 412.4h1v1h-1zM325.7 408.1h1v1h-1zM319.3 421.0h1v1h-1zM322.0 400.1h1v1h-1zM327.2 406.4h1v1h-1zM315.4 410.7h1v1h-1zM313.2 403.0h1v1h-1zM319.4 399.2h1v1h-1zM327.3 406.5h1v1h-1zM325.0 410.2h1v1h-1zM327.6 402.4h1v1h-1zM326.8 407.8h1v1h-1zM315.7 400.0h1v1h-1zM327.7 400.7h1v1h-1zM323.8 415.9h1v1h-1zM323.1 399.5h1v1h-1zM314.3 401.1h1v1h-1zM322.2 419.0h1v1h-1zM323.7 414.0h1v1h-1zM322.5 418.0h1v1h-1zM315.9 410.2h1v1h-1zM320.2 420.8h1v1h-1zM324.4 412.2h1v1h-1zM324.9 411.6h1v1h-1zM318.0 418.1h1v1h-1zM322.2 400.8h1v1h-1zM327.8 400.0h1v1h-1zM323.9 400.9h1v1h-1zM328.4 401.4h1v1h-1zM315.2 406.7h1v1h-1zM327.4 400.2h1v1h-1zM319.2 400.1h1v1h-1zM316.6 400.7h1v1h-1zM324.9 410.7h1v1h-1zM321.4 399.9h1v1h-1zM328.1 403.0h1v1h-1zM329.6 399.5h1v1h-1zM316.6 416.5h1v1h-1zM324.0 412.0h1v1h-1zM325.9 408.6h1v1h-1zM327.7 404.0h1v1h-1zM323.6 400.9h1v1h-1zM326.7 401.2h1v1h-1zM328.5 403.4h1v1h-1zM326.1 408.3h1v1h-1zM315.1 408.9h1v1h-1zM324.8 410.7h1v1h-1zM327.3 400.5h1v1h-1zM327.9 401.1h1v1h-1zM327.4 406.3h1v1h-1zM316.7 415.0h1v1h-1zM321.4 420.2h1v1h-1zM316.8 415.0h1v1h-1zM318.5 400.4h1v1h-1zM319.0 399.6h1v1h-1zM319.3 419.4h1v1h-1zM322.5 400.8h1v1h-1zM329.2 401.4h1v1h-1zM314.8 405.5h1v1h-1zM327.8 401.3h1v1h-1zM319.1 419.6h1v1h-1zM325.4 410.1h1v1h-1zM326.2 409.0h1v1h-1zM318.5 418.8h1v1h-1zM315.6 411.3h1v1h-1zM325.1 411.2h1v1h-1zM319.0 399.6h1v1h-1zM327.7 400.0h1v1h-1zM316.2 401.3h1v1h-1zM323.0 399.2h1v1h-1zM323.9 415.2h1v1h-1zM315.1 409.2h1v1h-1zM321.7 400.8h1v1h-1zM324.2 411.6h1v1h-1zM323.1 418.2h1v1h-1zM328.2 402.6h1v1h-1zM324.7 411.6h1v1h-1zM318.2 400.4h1v1h-1zM320.9 419.8h1v1h-1zM326.1 408.7h1v1h-1zM319.0 419.3h1v1h-1z" fill="#2a3ad8" opacity="0.55"/>
<path d="M318.0 415.2h.9v.9h-.9zM321.5 409.5h.9v.9h-.9zM314.8 408.2h.9v.9h-.9zM316.9 416.1h.9v.9h-.9zM314.0 414.5h.9v.9h-.9zM314.5 407.2h.9v.9h-.9zM314.8 406.6h.9v.9h-.9zM317.7 411.8h.9v.9h-.9zM317.3 413.4h.9v.9h-.9zM324.1 410.8h.9v.9h-.9zM315.6 409.1h.9v.9h-.9zM318.7 408.2h.9v.9h-.9zM322.4 415.6h.9v.9h-.9zM324.9 412.6h.9v.9h-.9zM311.2 409.3h.9v.9h-.9zM320.9 406.0h.9v.9h-.9zM317.2 414.4h.9v.9h-.9zM319.4 404.5h.9v.9h-.9zM317.3 394.9h.9v.9h-.9zM319.0 404.0h.9v.9h-.9zM318.8 404.2h.9v.9h-.9zM316.3 407.5h.9v.9h-.9zM327.1 404.2h.9v.9h-.9zM315.5 407.3h.9v.9h-.9zM322.1 413.9h.9v.9h-.9zM321.0 408.4h.9v.9h-.9zM319.4 406.2h.9v.9h-.9zM318.4 406.0h.9v.9h-.9zM314.7 405.1h.9v.9h-.9zM324.6 411.9h.9v.9h-.9zM316.8 409.4h.9v.9h-.9zM317.7 416.0h.9v.9h-.9zM318.9 406.9h.9v.9h-.9zM321.0 411.5h.9v.9h-.9zM317.0 406.2h.9v.9h-.9zM319.4 402.0h.9v.9h-.9zM316.3 414.9h.9v.9h-.9zM321.5 415.4h.9v.9h-.9zM317.7 407.1h.9v.9h-.9zM318.2 407.6h.9v.9h-.9zM322.7 408.9h.9v.9h-.9zM322.9 406.5h.9v.9h-.9zM320.1 417.9h.9v.9h-.9zM316.8 406.8h.9v.9h-.9zM317.2 402.1h.9v.9h-.9zM318.1 406.8h.9v.9h-.9zM325.4 407.6h.9v.9h-.9zM312.7 414.6h.9v.9h-.9zM321.8 409.8h.9v.9h-.9zM319.8 413.5h.9v.9h-.9zM317.3 410.2h.9v.9h-.9zM319.4 418.1h.9v.9h-.9zM323.1 410.8h.9v.9h-.9zM315.0 414.3h.9v.9h-.9zM318.8 415.7h.9v.9h-.9zM319.1 410.9h.9v.9h-.9zM320.9 406.4h.9v.9h-.9zM317.0 421.2h.9v.9h-.9zM316.4 414.5h.9v.9h-.9zM321.0 414.0h.9v.9h-.9z" fill="#5a6fd6" opacity="0.5"/>
<path d="M312.50 402.20C313.33 401.48 317.55 401.05 320.10 400.90C322.65 400.75 326.67 400.58 327.80 401.30C328.93 402.02 327.47 403.72 326.90 405.20C326.33 406.68 325.10 408.37 324.40 410.20C323.70 412.03 323.42 414.65 322.70 416.20C321.98 417.75 320.95 419.37 320.10 419.50C319.25 419.63 318.30 418.55 317.60 417.00C316.90 415.45 316.32 412.17 315.90 410.20C315.48 408.23 315.67 406.53 315.10 405.20C314.53 403.87 311.67 402.92 312.50 402.20Z" fill="#1f22d8" opacity="0.55" filter="url(#bl)"/>
<path d="M316.50 402.20C317.87 401.63 323.95 401.03 325.20 401.80C326.45 402.57 324.62 404.93 324.00 406.80C323.38 408.67 322.20 411.55 321.50 413.00C320.80 414.45 320.38 415.75 319.80 415.50C319.22 415.25 318.47 413.22 318.00 411.50C317.53 409.78 317.25 406.75 317.00 405.20C316.75 403.65 315.13 402.77 316.50 402.20Z" fill="#1fb7f0" opacity="0.75" filter="url(#bl)"/>
<path d="M318.50 403.50C319.20 401.95 322.95 402.10 323.50 403.50C324.05 404.90 322.50 410.35 321.80 411.90C321.10 413.45 319.85 414.20 319.30 412.80C318.75 411.40 317.80 405.05 318.50 403.50Z" fill="#37c23a" opacity="1" filter="url(#bl)"/>
<path d="M316.80 402.60C318.07 402.25 323.93 401.92 325.20 402.20C326.47 402.48 325.67 403.95 324.40 404.30C323.13 404.65 318.87 404.58 317.60 404.30C316.33 404.02 315.53 402.95 316.80 402.60Z" fill="#f2ef10" opacity="1" filter="url(#bl)"/>
<path d="M319.30 403.00C319.93 402.82 322.87 402.65 323.50 402.80C324.13 402.95 323.73 403.72 323.10 403.90C322.47 404.08 320.33 404.05 319.70 403.90C319.07 403.75 318.67 403.18 319.30 403.00Z" fill="#ff9200" opacity="1" filter="url(#bl)"/>
<path d="M295.7 423.8h1v1h-1zM293.2 433.7h1v1h-1zM294.6 436.1h1v1h-1zM293.4 434.4h1v1h-1zM294.0 435.5h1v1h-1zM294.3 435.9h1v1h-1zM299.3 423.3h1v1h-1zM303.1 435.7h1v1h-1zM291.3 425.4h1v1h-1zM295.0 423.7h1v1h-1zM297.1 438.0h1v1h-1zM292.9 432.7h1v1h-1zM296.9 437.3h1v1h-1zM296.5 437.7h1v1h-1zM299.2 423.0h1v1h-1zM290.6 430.7h1v1h-1zM305.6 431.8h1v1h-1zM295.4 436.7h1v1h-1zM290.0 429.3h1v1h-1zM311.1 428.3h1v1h-1zM297.1 423.6h1v1h-1zM307.1 424.9h1v1h-1zM295.6 423.5h1v1h-1zM291.2 429.7h1v1h-1zM296.7 437.6h1v1h-1zM291.4 431.2h1v1h-1zM306.8 430.9h1v1h-1zM290.9 430.7h1v1h-1zM304.8 432.9h1v1h-1zM307.8 430.3h1v1h-1zM290.5 426.3h1v1h-1zM293.6 433.3h1v1h-1zM304.7 424.4h1v1h-1zM294.6 436.1h1v1h-1zM307.5 430.6h1v1h-1zM291.2 431.1h1v1h-1zM312.8 427.3h1v1h-1zM294.4 434.6h1v1h-1zM311.1 428.4h1v1h-1zM290.7 429.2h1v1h-1zM298.6 437.9h1v1h-1zM290.4 428.0h1v1h-1zM313.8 427.5h1v1h-1zM311.5 426.0h1v1h-1zM304.6 433.8h1v1h-1zM292.7 433.2h1v1h-1zM305.2 424.4h1v1h-1zM302.7 435.3h1v1h-1zM307.1 425.1h1v1h-1zM292.5 432.2h1v1h-1z" fill="#2a3ad8" opacity="0.55"/>
<path d="M317.8 429.0h.9v.9h-.9zM322.7 427.8h.9v.9h-.9zM317.5 426.7h.9v.9h-.9zM311.5 427.3h.9v.9h-.9zM321.1 428.8h.9v.9h-.9zM318.9 429.9h.9v.9h-.9zM311.8 430.0h.9v.9h-.9zM318.3 429.2h.9v.9h-.9zM322.9 427.3h.9v.9h-.9zM314.9 428.8h.9v.9h-.9zM317.8 427.6h.9v.9h-.9zM317.6 427.5h.9v.9h-.9zM318.5 427.9h.9v.9h-.9zM324.0 427.1h.9v.9h-.9zM320.0 428.4h.9v.9h-.9zM323.6 427.2h.9v.9h-.9zM316.4 430.4h.9v.9h-.9zM315.7 427.9h.9v.9h-.9zM316.6 427.2h.9v.9h-.9zM322.3 430.1h.9v.9h-.9zM317.5 427.4h.9v.9h-.9zM313.2 429.1h.9v.9h-.9zM316.1 429.0h.9v.9h-.9zM309.5 427.8h.9v.9h-.9zM320.2 428.8h.9v.9h-.9zM307.9 428.7h.9v.9h-.9zM318.5 428.3h.9v.9h-.9zM316.8 427.8h.9v.9h-.9zM318.5 428.9h.9v.9h-.9zM306.9 428.3h.9v.9h-.9zM321.3 428.1h.9v.9h-.9zM322.3 427.2h.9v.9h-.9zM324.7 429.5h.9v.9h-.9zM316.6 431.6h.9v.9h-.9zM323.1 430.2h.9v.9h-.9zM313.8 428.2h.9v.9h-.9zM319.7 429.6h.9v.9h-.9zM318.3 426.8h.9v.9h-.9zM322.3 428.1h.9v.9h-.9zM319.5 427.9h.9v.9h-.9zM317.6 426.7h.9v.9h-.9zM320.3 427.6h.9v.9h-.9zM311.8 428.8h.9v.9h-.9zM317.9 429.5h.9v.9h-.9zM320.9 426.9h.9v.9h-.9zM317.4 428.3h.9v.9h-.9zM318.3 427.1h.9v.9h-.9zM318.3 429.5h.9v.9h-.9zM322.4 430.0h.9v.9h-.9zM320.7 425.3h.9v.9h-.9z" fill="#5a6fd6" opacity="0.6"/>
<g filter="url(#bl)"><path d="M291.40 427.10C291.58 426.66 292.14 426.36 292.50 426.00C292.87 425.63 293.18 425.15 293.61 424.89C294.03 424.64 294.54 424.56 295.03 424.45C295.53 424.34 296.06 424.31 296.58 424.24C297.10 424.17 297.61 424.10 298.13 424.03C298.64 423.96 299.16 423.82 299.67 423.82C300.19 423.82 300.70 423.95 301.21 424.02C301.73 424.10 302.24 424.18 302.76 424.26C303.27 424.34 303.79 424.40 304.30 424.51C304.80 424.61 305.30 424.75 305.80 424.90C306.30 425.05 306.79 425.23 307.28 425.39C307.77 425.56 308.27 425.72 308.76 425.89C309.25 426.05 309.75 426.21 310.24 426.39C310.73 426.57 311.21 426.76 311.69 426.95C312.18 427.13 313.07 427.34 313.15 427.50C313.23 427.67 312.57 427.81 312.16 427.96C311.74 428.10 311.15 428.24 310.66 428.38C310.16 428.53 309.62 428.60 309.16 428.83C308.71 429.06 308.34 429.46 307.92 429.78C307.51 430.09 307.09 430.39 306.69 430.72C306.28 431.05 305.88 431.37 305.52 431.75C305.16 432.12 304.87 432.55 304.54 432.96C304.21 433.36 303.88 433.77 303.56 434.17C303.23 434.58 302.94 435.02 302.57 435.38C302.21 435.75 301.78 436.04 301.37 436.36C300.96 436.68 300.53 437.01 300.11 437.28C299.69 437.56 299.27 438.03 298.86 437.99C298.44 437.94 298.04 437.34 297.63 437.02C297.22 436.70 296.81 436.38 296.40 436.06C295.99 435.74 295.56 435.45 295.18 435.10C294.80 434.74 294.47 434.35 294.13 433.95C293.79 433.56 293.48 433.14 293.16 432.73C292.84 432.32 292.49 431.92 292.19 431.50C291.90 431.09 291.53 430.69 291.40 430.22C291.27 429.75 291.40 429.18 291.40 428.66C291.40 428.14 291.22 427.54 291.40 427.10Z" fill="#1f22d8"/><path d="M291.82 427.20C291.98 426.78 292.44 426.48 292.78 426.13C293.12 425.78 293.44 425.36 293.84 425.12C294.25 424.88 294.73 424.80 295.19 424.69C295.66 424.59 296.16 424.55 296.65 424.47C297.13 424.40 297.62 424.33 298.10 424.25C298.59 424.18 299.07 424.04 299.55 424.03C300.04 424.03 300.52 424.14 301.01 424.21C301.49 424.28 301.98 424.36 302.46 424.44C302.95 424.52 303.44 424.57 303.92 424.67C304.40 424.77 304.87 424.90 305.34 425.04C305.81 425.18 306.28 425.34 306.74 425.49C307.20 425.65 307.66 425.81 308.12 425.98C308.58 426.14 309.03 426.32 309.48 426.50C309.92 426.69 310.37 426.88 310.81 427.08C311.26 427.27 312.08 427.47 312.15 427.65C312.22 427.82 311.62 427.97 311.24 428.13C310.86 428.29 310.33 428.44 309.87 428.59C309.42 428.75 308.93 428.84 308.51 429.07C308.09 429.30 307.75 429.68 307.37 429.99C306.99 430.30 306.60 430.59 306.23 430.91C305.86 431.23 305.49 431.55 305.15 431.90C304.81 432.25 304.52 432.64 304.20 433.02C303.89 433.39 303.57 433.76 303.25 434.13C302.93 434.50 302.65 434.90 302.30 435.24C301.94 435.58 301.53 435.85 301.14 436.14C300.75 436.43 300.35 436.74 299.95 436.97C299.56 437.20 299.16 437.58 298.77 437.52C298.38 437.47 298.00 436.92 297.61 436.62C297.22 436.31 296.84 436.01 296.45 435.71C296.06 435.40 295.65 435.13 295.29 434.80C294.93 434.47 294.61 434.10 294.30 433.72C293.99 433.35 293.72 432.94 293.44 432.55C293.15 432.15 292.83 431.77 292.57 431.37C292.31 430.97 291.98 430.59 291.85 430.14C291.73 429.69 291.84 429.16 291.84 428.67C291.83 428.18 291.67 427.62 291.82 427.20Z" fill="#1fb7f0"/><path d="M292.32 427.31C292.44 426.91 292.80 426.60 293.10 426.28C293.40 425.96 293.74 425.61 294.12 425.39C294.50 425.17 294.94 425.09 295.38 424.98C295.81 424.88 296.28 424.83 296.73 424.75C297.17 424.67 297.62 424.59 298.07 424.52C298.52 424.44 298.97 424.30 299.42 424.29C299.87 424.27 300.32 424.37 300.77 424.43C301.22 424.49 301.67 424.58 302.12 424.65C302.57 424.72 303.03 424.78 303.47 424.87C303.92 424.96 304.36 425.08 304.80 425.20C305.24 425.33 305.68 425.46 306.11 425.61C306.54 425.75 306.96 425.91 307.37 426.08C307.79 426.25 308.19 426.44 308.59 426.63C308.99 426.82 309.39 427.03 309.79 427.22C310.19 427.42 310.92 427.63 310.99 427.82C311.05 428.00 310.52 428.16 310.18 428.33C309.84 428.51 309.36 428.67 308.96 428.84C308.55 429.01 308.12 429.12 307.74 429.36C307.37 429.59 307.06 429.95 306.72 430.24C306.38 430.54 306.03 430.83 305.69 431.13C305.36 431.44 305.03 431.75 304.72 432.08C304.41 432.40 304.12 432.75 303.81 433.08C303.51 433.41 303.20 433.74 302.89 434.08C302.58 434.41 302.30 434.77 301.97 435.07C301.63 435.37 301.25 435.63 300.88 435.89C300.51 436.14 300.13 436.41 299.77 436.60C299.40 436.78 299.03 437.06 298.67 436.98C298.30 436.91 297.95 436.42 297.59 436.14C297.23 435.86 296.87 435.58 296.51 435.29C296.15 435.01 295.76 434.76 295.43 434.45C295.09 434.14 294.78 433.81 294.51 433.46C294.23 433.10 294.01 432.71 293.76 432.34C293.51 431.96 293.23 431.60 293.01 431.22C292.78 430.83 292.49 430.47 292.38 430.05C292.28 429.63 292.36 429.14 292.35 428.68C292.34 428.23 292.19 427.71 292.32 427.31Z" fill="#37c23a"/><path d="M292.88 427.45C292.97 427.07 293.21 426.75 293.47 426.46C293.73 426.17 294.08 425.89 294.43 425.70C294.79 425.50 295.19 425.42 295.59 425.31C295.99 425.21 296.41 425.15 296.81 425.07C297.22 424.98 297.63 424.90 298.04 424.82C298.45 424.74 298.85 424.60 299.26 424.57C299.67 424.55 300.08 424.63 300.49 424.68C300.90 424.74 301.32 424.82 301.73 424.89C302.14 424.96 302.56 425.01 302.97 425.09C303.38 425.18 303.78 425.28 304.19 425.39C304.59 425.50 305.00 425.60 305.39 425.74C305.78 425.88 306.16 426.03 306.52 426.20C306.88 426.37 307.22 426.58 307.57 426.78C307.92 426.98 308.27 427.19 308.61 427.39C308.96 427.60 309.60 427.81 309.66 428.01C309.71 428.20 309.25 428.38 308.96 428.57C308.67 428.75 308.26 428.93 307.91 429.12C307.56 429.30 307.19 429.44 306.87 429.68C306.55 429.92 306.27 430.25 305.98 430.53C305.68 430.82 305.37 431.09 305.08 431.38C304.79 431.68 304.52 431.99 304.23 432.28C303.94 432.58 303.65 432.87 303.36 433.16C303.07 433.45 302.77 433.73 302.48 434.02C302.19 434.30 301.91 434.61 301.60 434.88C301.28 435.14 300.92 435.38 300.58 435.60C300.24 435.81 299.89 436.04 299.55 436.17C299.21 436.30 298.88 436.46 298.55 436.37C298.22 436.27 297.89 435.85 297.56 435.59C297.23 435.34 296.90 435.08 296.57 434.82C296.24 434.57 295.88 434.33 295.58 434.05C295.27 433.77 294.98 433.48 294.74 433.15C294.49 432.82 294.33 432.45 294.12 432.09C293.92 431.74 293.69 431.40 293.51 431.04C293.32 430.68 293.09 430.34 292.99 429.95C292.90 429.56 292.95 429.11 292.94 428.70C292.92 428.28 292.79 427.82 292.88 427.45Z" fill="#f2ef10"/><path d="M293.73 427.64C293.76 427.31 293.82 426.97 294.02 426.72C294.22 426.48 294.59 426.31 294.91 426.15C295.22 426.00 295.57 425.91 295.91 425.81C296.25 425.70 296.60 425.63 296.95 425.54C297.29 425.45 297.64 425.36 297.99 425.27C298.33 425.18 298.68 425.04 299.03 425.00C299.38 424.97 299.73 425.02 300.08 425.06C300.43 425.10 300.79 425.18 301.15 425.25C301.50 425.31 301.86 425.36 302.21 425.43C302.56 425.50 302.91 425.58 303.26 425.67C303.61 425.75 303.98 425.82 304.31 425.94C304.64 426.06 304.95 426.20 305.24 426.38C305.53 426.56 305.78 426.79 306.05 427.00C306.32 427.22 306.59 427.43 306.86 427.65C307.12 427.86 307.61 428.08 307.66 428.29C307.71 428.50 307.35 428.71 307.13 428.92C306.91 429.13 306.61 429.33 306.34 429.54C306.08 429.75 305.81 429.93 305.56 430.17C305.31 430.40 305.10 430.70 304.86 430.96C304.63 431.23 304.39 431.49 304.16 431.76C303.94 432.03 303.74 432.33 303.49 432.59C303.25 432.84 302.96 433.05 302.69 433.27C302.42 433.49 302.14 433.71 301.86 433.93C301.59 434.15 301.33 434.38 301.04 434.59C300.75 434.79 300.44 435.01 300.14 435.16C299.84 435.32 299.53 435.49 299.23 435.54C298.94 435.58 298.66 435.57 298.37 435.44C298.09 435.31 297.80 435.00 297.52 434.78C297.23 434.56 296.95 434.34 296.66 434.12C296.38 433.90 296.07 433.69 295.81 433.45C295.55 433.22 295.27 432.98 295.08 432.69C294.89 432.40 294.81 432.05 294.67 431.73C294.53 431.41 294.38 431.09 294.26 430.77C294.13 430.45 293.97 430.13 293.90 429.79C293.83 429.45 293.84 429.08 293.81 428.72C293.79 428.36 293.70 427.98 293.73 427.64Z" fill="#ff9200"/><path d="M294.93 427.92C294.89 427.65 294.69 427.29 294.80 427.10C294.91 426.91 295.32 426.90 295.58 426.80C295.84 426.70 296.10 426.61 296.36 426.51C296.62 426.41 296.88 426.31 297.14 426.21C297.40 426.11 297.66 426.01 297.92 425.91C298.18 425.81 298.43 425.67 298.70 425.62C298.96 425.56 299.23 425.57 299.50 425.59C299.77 425.62 300.04 425.70 300.32 425.75C300.59 425.80 300.86 425.85 301.14 425.91C301.41 425.96 301.68 426.01 301.96 426.06C302.23 426.11 302.53 426.12 302.77 426.22C303.02 426.31 303.24 426.45 303.42 426.63C303.61 426.81 303.74 427.09 303.89 427.32C304.05 427.55 304.21 427.78 304.36 428.01C304.52 428.24 304.80 428.46 304.83 428.70C304.86 428.93 304.66 429.18 304.54 429.41C304.42 429.65 304.26 429.90 304.12 430.14C303.98 430.38 303.84 430.62 303.70 430.86C303.56 431.10 303.43 431.34 303.29 431.58C303.15 431.82 303.01 432.06 302.87 432.30C302.73 432.54 302.64 432.83 302.45 433.02C302.26 433.21 301.98 433.30 301.74 433.43C301.50 433.56 301.24 433.68 300.99 433.80C300.74 433.93 300.50 434.05 300.25 434.18C300.00 434.30 299.75 434.47 299.50 434.55C299.26 434.63 299.01 434.70 298.78 434.63C298.55 434.56 298.34 434.30 298.12 434.13C297.90 433.96 297.68 433.79 297.46 433.62C297.24 433.45 297.02 433.28 296.80 433.12C296.58 432.95 296.34 432.79 296.13 432.61C295.93 432.43 295.69 432.27 295.58 432.04C295.46 431.81 295.49 431.49 295.45 431.22C295.40 430.94 295.36 430.67 295.32 430.39C295.27 430.12 295.23 429.85 295.19 429.57C295.14 429.30 295.10 429.02 295.06 428.75C295.02 428.47 294.97 428.20 294.93 427.92Z" fill="#ff1800"/></g>
<path d="M104.8 514.9h.9v.9h-.9zM114.3 517.0h.9v.9h-.9zM109.9 519.0h.9v.9h-.9zM105.3 522.5h.9v.9h-.9zM121.7 520.3h.9v.9h-.9zM102.5 518.0h.9v.9h-.9zM114.9 519.9h.9v.9h-.9zM101.5 520.8h.9v.9h-.9zM112.8 519.4h.9v.9h-.9zM103.6 516.9h.9v.9h-.9zM103.4 515.9h.9v.9h-.9zM104.7 515.8h.9v.9h-.9zM107.7 517.4h.9v.9h-.9zM102.1 516.5h.9v.9h-.9zM106.3 519.0h.9v.9h-.9zM110.5 515.6h.9v.9h-.9zM100.4 510.6h.9v.9h-.9zM97.0 518.7h.9v.9h-.9zM99.6 523.4h.9v.9h-.9zM105.7 515.5h.9v.9h-.9zM105.7 514.9h.9v.9h-.9zM101.9 517.3h.9v.9h-.9zM95.4 517.6h.9v.9h-.9zM106.3 513.5h.9v.9h-.9zM115.2 518.5h.9v.9h-.9zM115.7 514.4h.9v.9h-.9zM97.0 512.4h.9v.9h-.9zM94.4 509.6h.9v.9h-.9zM119.6 515.2h.9v.9h-.9zM108.6 514.9h.9v.9h-.9zM105.8 523.3h.9v.9h-.9zM108.1 513.5h.9v.9h-.9zM112.6 522.2h.9v.9h-.9zM114.2 520.0h.9v.9h-.9zM105.7 521.0h.9v.9h-.9zM100.6 512.3h.9v.9h-.9zM104.9 516.0h.9v.9h-.9zM116.8 513.1h.9v.9h-.9zM116.2 514.0h.9v.9h-.9zM96.9 510.3h.9v.9h-.9zM106.7 511.3h.9v.9h-.9zM108.7 517.2h.9v.9h-.9zM103.8 509.4h.9v.9h-.9zM102.8 518.8h.9v.9h-.9zM107.1 514.9h.9v.9h-.9zM108.6 519.6h.9v.9h-.9z" fill="#5a6fd6" opacity="0.45"/>
<g filter="url(#bl)"><path d="M95.10 516.40C95.20 515.95 95.78 515.61 96.11 515.22C96.45 514.82 96.74 514.35 97.13 514.03C97.52 513.72 97.98 513.51 98.44 513.32C98.91 513.12 99.44 513.02 99.94 512.87C100.43 512.72 100.93 512.54 101.43 512.42C101.93 512.31 102.43 512.17 102.93 512.17C103.44 512.17 103.96 512.34 104.47 512.42C104.98 512.51 105.50 512.59 106.01 512.67C106.52 512.76 107.03 512.87 107.55 512.93C108.06 512.98 108.58 512.99 109.10 513.00C109.62 513.01 110.14 513.00 110.66 513.00C111.17 513.00 111.70 512.95 112.21 513.00C112.73 513.05 113.23 513.21 113.74 513.31C114.24 513.42 114.75 513.53 115.26 513.65C115.77 513.76 116.31 513.81 116.78 513.98C117.25 514.14 117.72 514.31 118.06 514.64C118.41 514.98 118.82 515.58 118.85 515.98C118.89 516.39 118.57 516.74 118.28 517.09C117.98 517.44 117.51 517.83 117.08 518.09C116.65 518.36 116.18 518.54 115.69 518.69C115.21 518.85 114.68 518.91 114.17 519.02C113.66 519.13 113.15 519.23 112.65 519.34C112.14 519.45 111.61 519.52 111.12 519.67C110.63 519.82 110.16 520.03 109.70 520.25C109.23 520.47 108.79 520.75 108.34 521.01C107.88 521.26 107.44 521.54 106.98 521.77C106.51 522.00 106.04 522.21 105.56 522.39C105.07 522.57 104.56 522.68 104.06 522.83C103.57 522.98 103.05 523.23 102.57 523.27C102.09 523.31 101.62 523.25 101.18 523.07C100.73 522.89 100.33 522.48 99.90 522.18C99.47 521.88 99.03 521.61 98.62 521.29C98.21 520.97 97.84 520.62 97.46 520.26C97.08 519.90 96.68 519.55 96.36 519.16C96.04 518.77 95.74 518.36 95.53 517.90C95.32 517.44 95.00 516.85 95.10 516.40Z" fill="#1f22d8"/><path d="M95.69 516.52C95.77 516.10 96.28 515.78 96.58 515.41C96.88 515.03 97.13 514.59 97.47 514.29C97.81 513.98 98.21 513.77 98.63 513.58C99.05 513.39 99.55 513.30 100.02 513.16C100.48 513.02 100.94 512.85 101.40 512.74C101.87 512.63 102.33 512.50 102.80 512.49C103.27 512.49 103.75 512.62 104.22 512.69C104.70 512.75 105.18 512.82 105.65 512.89C106.13 512.95 106.60 513.03 107.08 513.08C107.55 513.13 108.03 513.15 108.51 513.17C109.00 513.18 109.48 513.18 109.96 513.19C110.44 513.20 110.93 513.16 111.40 513.21C111.88 513.27 112.35 513.41 112.82 513.51C113.29 513.61 113.77 513.72 114.23 513.83C114.70 513.94 115.19 514.01 115.61 514.18C116.03 514.35 116.45 514.52 116.77 514.84C117.08 515.16 117.46 515.71 117.49 516.09C117.53 516.47 117.26 516.80 117.00 517.13C116.73 517.46 116.30 517.82 115.90 518.08C115.51 518.33 115.08 518.51 114.63 518.67C114.19 518.82 113.71 518.90 113.25 519.02C112.79 519.13 112.33 519.25 111.86 519.36C111.40 519.48 110.93 519.56 110.48 519.71C110.03 519.86 109.60 520.06 109.17 520.27C108.74 520.48 108.32 520.73 107.89 520.96C107.47 521.18 107.05 521.43 106.62 521.64C106.19 521.85 105.75 522.04 105.30 522.20C104.85 522.36 104.37 522.48 103.91 522.60C103.45 522.73 102.97 522.95 102.53 522.97C102.08 523.00 101.65 522.93 101.24 522.75C100.83 522.58 100.45 522.20 100.05 521.92C99.66 521.65 99.24 521.39 98.86 521.10C98.48 520.80 98.12 520.48 97.78 520.14C97.44 519.81 97.08 519.48 96.80 519.10C96.51 518.73 96.25 518.35 96.06 517.92C95.88 517.49 95.60 516.94 95.69 516.52Z" fill="#1fb7f0"/><path d="M96.37 516.67C96.45 516.28 96.87 515.97 97.12 515.62C97.37 515.28 97.59 514.87 97.87 514.58C98.16 514.29 98.48 514.07 98.85 513.88C99.22 513.70 99.69 513.63 100.11 513.50C100.53 513.37 100.95 513.22 101.37 513.11C101.79 513.01 102.22 512.89 102.64 512.87C103.07 512.85 103.51 512.96 103.94 513.00C104.37 513.05 104.80 513.09 105.23 513.13C105.66 513.18 106.09 513.23 106.53 513.26C106.96 513.30 107.40 513.33 107.84 513.36C108.27 513.38 108.71 513.39 109.15 513.41C109.58 513.43 110.03 513.40 110.46 513.46C110.89 513.52 111.32 513.65 111.75 513.74C112.17 513.84 112.61 513.93 113.03 514.04C113.45 514.15 113.87 514.25 114.24 514.42C114.61 514.59 114.98 514.77 115.25 515.07C115.53 515.37 115.86 515.86 115.91 516.21C115.95 516.56 115.73 516.87 115.50 517.18C115.27 517.49 114.87 517.82 114.52 518.06C114.17 518.30 113.79 518.48 113.40 518.64C113.01 518.80 112.58 518.89 112.17 519.01C111.77 519.14 111.36 519.26 110.95 519.39C110.54 519.52 110.13 519.62 109.73 519.77C109.33 519.92 108.94 520.11 108.55 520.30C108.16 520.49 107.77 520.70 107.38 520.89C106.99 521.09 106.61 521.31 106.21 521.49C105.81 521.67 105.41 521.84 105.00 521.98C104.58 522.12 104.15 522.23 103.73 522.34C103.31 522.45 102.88 522.62 102.48 522.63C102.07 522.63 101.69 522.55 101.31 522.38C100.94 522.21 100.59 521.88 100.23 521.62C99.87 521.37 99.49 521.14 99.15 520.87C98.80 520.60 98.46 520.31 98.15 520.01C97.85 519.70 97.55 519.39 97.31 519.04C97.06 518.70 96.85 518.34 96.69 517.94C96.54 517.55 96.30 517.05 96.37 516.67Z" fill="#37c23a"/><path d="M97.16 516.83C97.21 516.48 97.55 516.19 97.75 515.88C97.94 515.56 98.11 515.19 98.33 514.92C98.56 514.65 98.78 514.41 99.10 514.23C99.41 514.06 99.84 514.00 100.22 513.88C100.59 513.77 100.96 513.63 101.34 513.54C101.71 513.44 102.09 513.33 102.46 513.30C102.84 513.27 103.23 513.34 103.61 513.36C103.99 513.38 104.37 513.40 104.76 513.41C105.14 513.43 105.52 513.44 105.90 513.47C106.29 513.50 106.67 513.55 107.06 513.58C107.44 513.61 107.83 513.63 108.22 513.66C108.61 513.69 109.00 513.69 109.38 513.74C109.76 513.80 110.14 513.92 110.52 514.01C110.90 514.10 111.30 514.17 111.66 514.28C112.02 514.40 112.36 514.52 112.68 514.69C112.99 514.87 113.29 515.05 113.52 515.33C113.76 515.60 114.05 516.03 114.09 516.35C114.14 516.67 113.99 516.95 113.79 517.24C113.60 517.52 113.25 517.81 112.95 518.04C112.65 518.26 112.32 518.44 111.98 518.60C111.65 518.77 111.29 518.88 110.95 519.01C110.60 519.15 110.25 519.28 109.91 519.42C109.56 519.56 109.21 519.68 108.87 519.83C108.52 519.98 108.19 520.16 107.85 520.33C107.50 520.50 107.14 520.66 106.79 520.82C106.44 520.99 106.10 521.17 105.74 521.32C105.38 521.47 105.02 521.61 104.65 521.73C104.28 521.85 103.89 521.96 103.52 522.04C103.15 522.12 102.77 522.24 102.42 522.23C102.06 522.21 101.72 522.11 101.39 521.95C101.06 521.80 100.75 521.51 100.43 521.28C100.11 521.06 99.78 520.85 99.47 520.61C99.16 520.37 98.84 520.13 98.58 519.85C98.31 519.58 98.08 519.28 97.89 518.97C97.69 518.66 97.53 518.33 97.41 517.97C97.28 517.61 97.10 517.18 97.16 516.83Z" fill="#f2ef10"/><path d="M98.33 517.08C98.37 516.78 98.56 516.53 98.68 516.25C98.79 515.98 98.89 515.67 99.02 515.43C99.16 515.18 99.25 514.92 99.47 514.76C99.70 514.60 100.08 514.56 100.38 514.47C100.68 514.37 100.98 514.26 101.28 514.17C101.59 514.09 101.89 513.99 102.20 513.95C102.50 513.90 102.81 513.91 103.12 513.89C103.43 513.87 103.73 513.86 104.04 513.84C104.35 513.82 104.65 513.77 104.96 513.78C105.27 513.79 105.58 513.87 105.89 513.91C106.20 513.95 106.52 513.99 106.83 514.04C107.14 514.08 107.45 514.11 107.76 514.17C108.07 514.23 108.37 514.32 108.68 514.40C108.99 514.48 109.33 514.53 109.60 514.65C109.88 514.76 110.11 514.92 110.33 515.10C110.55 515.28 110.76 515.47 110.93 515.72C111.10 515.96 111.32 516.30 111.37 516.56C111.42 516.83 111.36 517.08 111.23 517.32C111.10 517.56 110.81 517.80 110.58 518.00C110.35 518.21 110.11 518.38 109.87 518.55C109.62 518.72 109.36 518.86 109.10 519.01C108.85 519.16 108.59 519.31 108.34 519.46C108.08 519.62 107.83 519.77 107.58 519.92C107.32 520.07 107.07 520.24 106.79 520.38C106.51 520.51 106.20 520.60 105.91 520.72C105.62 520.83 105.33 520.95 105.03 521.06C104.74 521.16 104.44 521.27 104.14 521.35C103.83 521.44 103.51 521.54 103.21 521.59C102.91 521.63 102.61 521.68 102.33 521.63C102.05 521.59 101.78 521.46 101.51 521.32C101.25 521.17 100.99 520.95 100.73 520.77C100.47 520.58 100.21 520.41 99.96 520.22C99.70 520.03 99.42 519.84 99.22 519.62C99.02 519.39 98.88 519.13 98.76 518.86C98.64 518.59 98.55 518.31 98.48 518.01C98.41 517.71 98.30 517.37 98.33 517.08Z" fill="#ff9200"/><path d="M100.00 517.43C100.00 517.21 100.00 517.00 100.00 516.78C100.00 516.57 100.00 516.36 100.00 516.14C100.00 515.93 99.90 515.64 100.00 515.50C100.10 515.36 100.40 515.36 100.61 515.29C100.81 515.22 101.01 515.15 101.21 515.07C101.41 515.00 101.61 514.93 101.82 514.86C102.02 514.79 102.22 514.72 102.42 514.65C102.62 514.58 102.83 514.51 103.03 514.44C103.23 514.37 103.43 514.23 103.63 514.22C103.84 514.21 104.04 514.32 104.24 514.38C104.45 514.43 104.65 514.51 104.85 514.57C105.06 514.64 105.26 514.70 105.46 514.77C105.67 514.84 105.87 514.90 106.08 514.97C106.28 515.03 106.53 515.04 106.69 515.16C106.84 515.28 106.91 515.50 107.01 515.68C107.10 515.86 107.17 516.07 107.26 516.27C107.34 516.47 107.45 516.67 107.51 516.86C107.57 517.05 107.65 517.25 107.61 517.43C107.56 517.62 107.36 517.78 107.23 517.96C107.11 518.13 106.99 518.31 106.86 518.48C106.74 518.65 106.61 518.83 106.49 519.00C106.37 519.18 106.24 519.35 106.12 519.53C106.00 519.70 105.89 519.90 105.75 520.05C105.61 520.20 105.47 520.36 105.29 520.44C105.11 520.53 104.87 520.53 104.66 520.57C104.45 520.61 104.24 520.65 104.03 520.69C103.82 520.74 103.61 520.78 103.40 520.82C103.19 520.86 102.97 520.95 102.77 520.95C102.57 520.94 102.39 520.88 102.21 520.79C102.02 520.70 101.86 520.54 101.68 520.41C101.51 520.29 101.34 520.16 101.16 520.04C100.99 519.91 100.82 519.79 100.64 519.66C100.47 519.54 100.23 519.45 100.12 519.29C100.02 519.13 100.02 518.91 100.00 518.71C99.98 518.51 100.00 518.28 100.00 518.07C100.00 517.85 100.00 517.64 100.00 517.43Z" fill="#ff1800"/></g>
<g transform="translate(112.90 516.40) rotate(0)" filter="url(#bl)"><ellipse cx="0" cy="0" rx="4.00" ry="2.60" fill="#37c23a"/><ellipse cx="0" cy="0" rx="2.48" ry="1.61" fill="#f2ef10"/><ellipse cx="0" cy="0" rx="1.40" ry="0.91" fill="#e8f000"/></g>
<path d="M216.8 493.7h.9v.9h-.9zM224.1 494.4h.9v.9h-.9zM220.3 505.8h.9v.9h-.9zM228.8 510.1h.9v.9h-.9zM226.2 500.1h.9v.9h-.9zM215.2 500.4h.9v.9h-.9zM221.8 519.7h.9v.9h-.9zM222.9 493.3h.9v.9h-.9zM230.7 488.1h.9v.9h-.9zM226.1 490.2h.9v.9h-.9zM207.2 495.6h.9v.9h-.9zM214.4 489.7h.9v.9h-.9zM222.6 498.3h.9v.9h-.9zM229.1 492.0h.9v.9h-.9zM200.7 503.8h.9v.9h-.9zM215.0 505.8h.9v.9h-.9zM195.9 490.4h.9v.9h-.9zM217.8 512.6h.9v.9h-.9zM205.9 485.9h.9v.9h-.9zM212.9 508.8h.9v.9h-.9zM231.3 489.6h.9v.9h-.9zM211.5 486.3h.9v.9h-.9zM209.4 492.4h.9v.9h-.9zM220.9 506.9h.9v.9h-.9zM238.5 496.6h.9v.9h-.9zM224.4 500.6h.9v.9h-.9zM218.1 512.4h.9v.9h-.9zM223.4 509.9h.9v.9h-.9zM219.7 505.0h.9v.9h-.9zM221.6 498.4h.9v.9h-.9zM210.7 496.2h.9v.9h-.9zM217.1 496.4h.9v.9h-.9zM213.9 494.2h.9v.9h-.9zM224.8 497.3h.9v.9h-.9zM215.9 497.5h.9v.9h-.9zM228.8 495.3h.9v.9h-.9zM229.7 493.1h.9v.9h-.9zM230.8 503.3h.9v.9h-.9zM212.6 502.2h.9v.9h-.9zM227.3 492.4h.9v.9h-.9zM215.0 501.2h.9v.9h-.9zM215.1 497.0h.9v.9h-.9zM217.2 501.2h.9v.9h-.9zM224.0 509.3h.9v.9h-.9zM214.1 519.4h.9v.9h-.9zM214.1 511.3h.9v.9h-.9zM215.9 489.0h.9v.9h-.9zM213.1 496.6h.9v.9h-.9zM226.7 485.1h.9v.9h-.9zM211.3 498.1h.9v.9h-.9zM222.9 501.8h.9v.9h-.9zM224.7 497.9h.9v.9h-.9zM214.9 507.4h.9v.9h-.9zM232.5 501.7h.9v.9h-.9zM218.4 493.1h.9v.9h-.9zM236.0 501.8h.9v.9h-.9zM222.6 487.9h.9v.9h-.9zM222.5 515.9h.9v.9h-.9zM215.6 497.6h.9v.9h-.9zM230.8 497.7h.9v.9h-.9zM224.6 512.5h.9v.9h-.9zM206.5 493.3h.9v.9h-.9zM223.1 499.8h.9v.9h-.9zM217.4 497.9h.9v.9h-.9zM218.2 501.5h.9v.9h-.9zM212.7 497.1h.9v.9h-.9zM219.1 491.5h.9v.9h-.9zM221.0 483.8h.9v.9h-.9zM222.8 498.2h.9v.9h-.9zM206.5 508.4h.9v.9h-.9zM206.5 513.3h.9v.9h-.9zM210.5 507.4h.9v.9h-.9zM216.5 510.2h.9v.9h-.9zM215.0 506.2h.9v.9h-.9zM214.2 486.0h.9v.9h-.9zM220.5 502.3h.9v.9h-.9zM220.6 510.6h.9v.9h-.9zM210.4 489.1h.9v.9h-.9zM219.3 494.2h.9v.9h-.9zM216.1 499.0h.9v.9h-.9zM209.7 506.6h.9v.9h-.9zM216.0 511.4h.9v.9h-.9zM219.3 506.4h.9v.9h-.9zM214.4 494.5h.9v.9h-.9zM212.3 492.9h.9v.9h-.9zM221.1 500.0h.9v.9h-.9zM207.4 488.4h.9v.9h-.9zM209.3 486.4h.9v.9h-.9zM209.1 488.5h.9v.9h-.9zM223.4 491.0h.9v.9h-.9zM211.8 498.2h.9v.9h-.9zM217.3 502.0h.9v.9h-.9zM223.9 503.5h.9v.9h-.9zM214.0 507.7h.9v.9h-.9zM220.4 494.1h.9v.9h-.9zM230.4 490.8h.9v.9h-.9zM221.3 507.7h.9v.9h-.9zM218.1 501.4h.9v.9h-.9zM218.1 503.6h.9v.9h-.9zM219.0 499.1h.9v.9h-.9zM223.3 485.9h.9v.9h-.9zM219.3 496.9h.9v.9h-.9zM234.6 501.0h.9v.9h-.9zM211.2 503.6h.9v.9h-.9zM213.6 490.8h.9v.9h-.9zM214.5 502.5h.9v.9h-.9zM227.7 506.3h.9v.9h-.9zM219.1 497.9h.9v.9h-.9zM218.8 507.4h.9v.9h-.9zM215.9 507.1h.9v.9h-.9zM210.0 498.9h.9v.9h-.9zM223.9 503.9h.9v.9h-.9zM218.8 495.5h.9v.9h-.9zM201.0 496.0h.9v.9h-.9zM209.5 496.2h.9v.9h-.9zM231.1 493.7h.9v.9h-.9zM224.6 498.9h.9v.9h-.9zM207.2 499.8h.9v.9h-.9zM223.7 490.8h.9v.9h-.9zM206.7 496.4h.9v.9h-.9zM223.5 494.9h.9v.9h-.9zM220.8 502.2h.9v.9h-.9zM217.2 502.1h.9v.9h-.9zM228.3 497.7h.9v.9h-.9zM219.9 491.6h.9v.9h-.9zM210.6 498.3h.9v.9h-.9zM224.3 494.4h.9v.9h-.9zM204.7 505.4h.9v.9h-.9zM238.1 481.2h.9v.9h-.9zM207.6 499.9h.9v.9h-.9zM221.4 492.5h.9v.9h-.9zM220.0 506.6h.9v.9h-.9zM214.6 504.1h.9v.9h-.9zM218.2 492.6h.9v.9h-.9zM211.6 494.8h.9v.9h-.9zM228.8 507.0h.9v.9h-.9zM219.2 488.2h.9v.9h-.9zM212.7 496.2h.9v.9h-.9zM200.0 498.9h.9v.9h-.9zM219.6 489.9h.9v.9h-.9zM213.3 495.9h.9v.9h-.9zM233.4 503.6h.9v.9h-.9zM223.8 499.6h.9v.9h-.9zM205.7 505.4h.9v.9h-.9zM211.1 485.7h.9v.9h-.9zM223.5 496.6h.9v.9h-.9zM217.0 502.6h.9v.9h-.9zM215.0 501.9h.9v.9h-.9zM228.4 496.8h.9v.9h-.9zM213.9 499.1h.9v.9h-.9zM222.7 496.2h.9v.9h-.9zM217.8 494.3h.9v.9h-.9zM216.4 502.8h.9v.9h-.9zM209.8 497.8h.9v.9h-.9zM204.2 494.2h.9v.9h-.9zM217.7 502.7h.9v.9h-.9zM207.9 498.3h.9v.9h-.9zM208.8 501.2h.9v.9h-.9zM219.3 502.1h.9v.9h-.9zM215.2 489.2h.9v.9h-.9zM212.1 489.8h.9v.9h-.9zM211.1 498.6h.9v.9h-.9zM226.5 494.6h.9v.9h-.9zM210.2 500.4h.9v.9h-.9zM198.9 512.8h.9v.9h-.9zM203.5 506.0h.9v.9h-.9zM225.6 505.7h.9v.9h-.9zM216.1 504.1h.9v.9h-.9zM214.0 505.6h.9v.9h-.9zM211.3 493.4h.9v.9h-.9zM220.4 495.9h.9v.9h-.9zM222.9 493.1h.9v.9h-.9zM219.4 492.2h.9v.9h-.9zM216.1 513.8h.9v.9h-.9zM207.6 490.5h.9v.9h-.9zM203.0 497.4h.9v.9h-.9zM231.2 495.9h.9v.9h-.9zM225.2 497.7h.9v.9h-.9zM211.5 512.9h.9v.9h-.9zM226.5 486.3h.9v.9h-.9zM208.5 501.9h.9v.9h-.9zM222.7 497.5h.9v.9h-.9zM219.8 502.7h.9v.9h-.9zM214.0 505.9h.9v.9h-.9zM209.6 504.2h.9v.9h-.9zM225.0 500.4h.9v.9h-.9zM214.0 498.9h.9v.9h-.9zM197.6 500.8h.9v.9h-.9zM204.6 485.1h.9v.9h-.9zM223.7 492.7h.9v.9h-.9zM220.1 499.3h.9v.9h-.9zM201.6 492.8h.9v.9h-.9zM214.7 502.2h.9v.9h-.9zM217.6 490.3h.9v.9h-.9zM212.4 499.7h.9v.9h-.9zM205.9 496.0h.9v.9h-.9zM212.2 484.4h.9v.9h-.9zM232.1 505.1h.9v.9h-.9zM213.0 505.5h.9v.9h-.9zM207.9 509.6h.9v.9h-.9zM213.8 500.0h.9v.9h-.9zM212.0 499.6h.9v.9h-.9zM219.9 499.2h.9v.9h-.9zM209.8 504.2h.9v.9h-.9zM221.9 499.0h.9v.9h-.9zM226.2 493.9h.9v.9h-.9zM228.2 497.9h.9v.9h-.9zM230.2 496.0h.9v.9h-.9zM214.8 500.5h.9v.9h-.9zM226.6 508.9h.9v.9h-.9zM213.0 494.0h.9v.9h-.9zM223.7 507.6h.9v.9h-.9zM223.2 496.7h.9v.9h-.9zM228.1 498.8h.9v.9h-.9zM218.5 503.3h.9v.9h-.9zM212.1 483.4h.9v.9h-.9zM218.9 503.9h.9v.9h-.9zM220.8 502.7h.9v.9h-.9zM218.4 506.2h.9v.9h-.9zM218.0 509.3h.9v.9h-.9zM217.5 504.5h.9v.9h-.9zM212.2 501.1h.9v.9h-.9zM220.7 500.0h.9v.9h-.9zM230.5 499.3h.9v.9h-.9zM226.8 501.4h.9v.9h-.9zM226.5 492.8h.9v.9h-.9zM213.8 505.7h.9v.9h-.9zM209.9 501.7h.9v.9h-.9zM222.0 500.4h.9v.9h-.9zM220.8 502.7h.9v.9h-.9zM215.0 501.8h.9v.9h-.9zM212.5 495.9h.9v.9h-.9zM203.2 498.3h.9v.9h-.9zM202.2 499.2h.9v.9h-.9zM218.8 491.5h.9v.9h-.9zM217.6 501.0h.9v.9h-.9zM214.0 492.7h.9v.9h-.9zM216.0 501.8h.9v.9h-.9zM225.1 512.4h.9v.9h-.9zM199.8 501.4h.9v.9h-.9zM220.8 494.6h.9v.9h-.9zM219.8 513.4h.9v.9h-.9zM218.0 508.4h.9v.9h-.9zM226.3 496.0h.9v.9h-.9zM196.9 507.0h.9v.9h-.9zM230.4 486.9h.9v.9h-.9zM215.3 494.2h.9v.9h-.9zM218.8 499.4h.9v.9h-.9zM227.0 494.9h.9v.9h-.9zM233.8 487.2h.9v.9h-.9zM218.9 517.5h.9v.9h-.9zM216.2 503.3h.9v.9h-.9zM212.9 521.8h.9v.9h-.9zM224.8 496.6h.9v.9h-.9zM200.3 500.5h.9v.9h-.9zM223.4 484.9h.9v.9h-.9zM212.8 502.9h.9v.9h-.9zM196.1 497.7h.9v.9h-.9zM203.2 489.7h.9v.9h-.9zM220.6 506.9h.9v.9h-.9zM227.2 494.5h.9v.9h-.9zM221.4 486.8h.9v.9h-.9zM204.1 502.8h.9v.9h-.9zM213.5 492.0h.9v.9h-.9zM200.7 497.4h.9v.9h-.9zM236.5 485.1h.9v.9h-.9zM207.9 506.8h.9v.9h-.9zM200.3 494.7h.9v.9h-.9zM217.6 506.8h.9v.9h-.9zM216.4 511.6h.9v.9h-.9zM216.7 498.2h.9v.9h-.9zM220.9 501.4h.9v.9h-.9zM203.9 492.4h.9v.9h-.9zM215.0 501.4h.9v.9h-.9zM206.3 494.1h.9v.9h-.9zM210.5 501.4h.9v.9h-.9zM213.3 503.2h.9v.9h-.9zM220.4 492.7h.9v.9h-.9zM214.4 490.4h.9v.9h-.9zM217.9 504.6h.9v.9h-.9zM208.4 486.7h.9v.9h-.9zM221.5 497.0h.9v.9h-.9zM216.8 502.2h.9v.9h-.9zM220.3 505.4h.9v.9h-.9zM213.0 483.7h.9v.9h-.9zM212.8 496.9h.9v.9h-.9zM213.4 501.7h.9v.9h-.9zM214.8 508.0h.9v.9h-.9zM211.5 499.0h.9v.9h-.9zM213.9 513.7h.9v.9h-.9zM208.7 492.1h.9v.9h-.9zM213.7 504.3h.9v.9h-.9zM217.1 497.8h.9v.9h-.9zM204.2 484.6h.9v.9h-.9zM215.1 497.3h.9v.9h-.9zM232.4 501.6h.9v.9h-.9zM220.7 505.7h.9v.9h-.9zM209.2 490.5h.9v.9h-.9zM213.8 509.3h.9v.9h-.9zM225.7 494.9h.9v.9h-.9zM206.1 505.5h.9v.9h-.9zM226.6 491.4h.9v.9h-.9zM231.1 493.6h.9v.9h-.9zM223.6 497.6h.9v.9h-.9zM214.1 494.8h.9v.9h-.9zM223.1 503.3h.9v.9h-.9zM224.1 497.0h.9v.9h-.9zM209.6 513.9h.9v.9h-.9zM232.1 497.7h.9v.9h-.9zM206.9 509.4h.9v.9h-.9zM218.2 499.4h.9v.9h-.9zM224.5 501.4h.9v.9h-.9zM218.0 512.8h.9v.9h-.9zM200.4 503.5h.9v.9h-.9zM208.3 499.5h.9v.9h-.9zM215.5 500.8h.9v.9h-.9zM195.8 503.8h.9v.9h-.9zM237.5 496.1h.9v.9h-.9zM224.9 503.4h.9v.9h-.9zM219.6 495.5h.9v.9h-.9zM222.6 500.9h.9v.9h-.9zM229.8 504.8h.9v.9h-.9zM210.7 478.7h.9v.9h-.9zM230.3 502.4h.9v.9h-.9zM218.5 494.8h.9v.9h-.9zM239.1 508.3h.9v.9h-.9zM217.9 496.4h.9v.9h-.9zM222.1 508.5h.9v.9h-.9zM221.6 505.6h.9v.9h-.9zM219.3 501.5h.9v.9h-.9zM205.8 499.9h.9v.9h-.9zM217.5 498.5h.9v.9h-.9zM214.9 501.1h.9v.9h-.9zM211.9 497.6h.9v.9h-.9zM205.4 515.1h.9v.9h-.9zM209.1 490.6h.9v.9h-.9zM212.2 496.1h.9v.9h-.9zM207.5 482.0h.9v.9h-.9zM231.6 506.1h.9v.9h-.9zM213.6 502.9h.9v.9h-.9zM207.1 487.7h.9v.9h-.9zM220.0 503.0h.9v.9h-.9zM210.9 499.0h.9v.9h-.9zM226.4 500.2h.9v.9h-.9zM218.6 503.0h.9v.9h-.9zM198.5 490.0h.9v.9h-.9zM205.7 500.7h.9v.9h-.9zM211.4 485.8h.9v.9h-.9zM224.9 497.7h.9v.9h-.9zM225.8 513.0h.9v.9h-.9zM202.3 490.1h.9v.9h-.9zM226.6 508.8h.9v.9h-.9zM220.5 501.5h.9v.9h-.9zM223.2 503.6h.9v.9h-.9zM205.6 504.2h.9v.9h-.9zM225.8 496.2h.9v.9h-.9zM208.8 495.6h.9v.9h-.9zM211.8 502.7h.9v.9h-.9zM223.9 499.2h.9v.9h-.9zM214.3 486.6h.9v.9h-.9zM213.2 492.1h.9v.9h-.9zM212.1 501.4h.9v.9h-.9zM218.5 523.4h.9v.9h-.9zM209.2 495.3h.9v.9h-.9zM206.8 497.2h.9v.9h-.9zM214.4 506.0h.9v.9h-.9zM199.6 505.3h.9v.9h-.9zM222.7 495.3h.9v.9h-.9zM210.9 500.4h.9v.9h-.9zM221.7 497.9h.9v.9h-.9zM215.6 499.1h.9v.9h-.9zM207.3 500.9h.9v.9h-.9zM222.1 499.4h.9v.9h-.9zM206.8 499.0h.9v.9h-.9zM216.0 501.2h.9v.9h-.9zM213.3 504.8h.9v.9h-.9zM226.7 504.7h.9v.9h-.9zM219.1 507.5h.9v.9h-.9zM216.6 497.9h.9v.9h-.9z" fill="#5a6fd6" opacity="0.3"/>
<path d="M200.3 500.1h.9v.9h-.9zM210.8 494.3h.9v.9h-.9zM209.1 492.5h.9v.9h-.9zM207.2 510.9h.9v.9h-.9zM206.2 493.1h.9v.9h-.9zM207.1 499.1h.9v.9h-.9zM209.1 496.9h.9v.9h-.9zM199.1 497.2h.9v.9h-.9zM208.3 506.1h.9v.9h-.9zM207.1 500.2h.9v.9h-.9zM208.7 498.8h.9v.9h-.9zM204.2 501.3h.9v.9h-.9zM210.3 497.0h.9v.9h-.9zM208.0 496.2h.9v.9h-.9zM203.1 501.0h.9v.9h-.9zM200.7 495.0h.9v.9h-.9zM201.3 496.5h.9v.9h-.9zM202.4 513.8h.9v.9h-.9zM208.4 500.4h.9v.9h-.9zM200.7 486.0h.9v.9h-.9zM207.7 496.3h.9v.9h-.9zM210.1 497.7h.9v.9h-.9zM200.8 496.3h.9v.9h-.9zM199.9 491.7h.9v.9h-.9zM208.8 496.9h.9v.9h-.9zM208.7 496.7h.9v.9h-.9zM205.1 496.8h.9v.9h-.9zM203.8 496.1h.9v.9h-.9zM211.9 499.7h.9v.9h-.9zM198.2 510.0h.9v.9h-.9zM211.0 506.6h.9v.9h-.9zM205.6 499.1h.9v.9h-.9zM204.1 500.7h.9v.9h-.9zM207.8 500.0h.9v.9h-.9zM202.7 494.3h.9v.9h-.9zM212.6 509.9h.9v.9h-.9zM201.0 496.3h.9v.9h-.9zM205.8 503.5h.9v.9h-.9zM205.5 501.4h.9v.9h-.9zM207.4 506.7h.9v.9h-.9zM200.8 506.4h.9v.9h-.9zM207.7 503.2h.9v.9h-.9zM200.0 498.7h.9v.9h-.9zM204.9 503.8h.9v.9h-.9zM208.7 504.0h.9v.9h-.9zM200.8 507.4h.9v.9h-.9zM206.2 505.5h.9v.9h-.9zM205.9 495.9h.9v.9h-.9zM216.4 503.9h.9v.9h-.9zM209.0 497.3h.9v.9h-.9zM205.1 506.5h.9v.9h-.9zM207.7 510.2h.9v.9h-.9zM210.7 493.7h.9v.9h-.9zM199.8 506.8h.9v.9h-.9zM208.3 498.5h.9v.9h-.9zM204.8 496.8h.9v.9h-.9zM213.1 499.1h.9v.9h-.9zM200.5 505.3h.9v.9h-.9zM205.6 502.1h.9v.9h-.9zM204.4 499.8h.9v.9h-.9zM198.5 503.1h.9v.9h-.9zM203.2 497.8h.9v.9h-.9zM207.2 507.5h.9v.9h-.9zM197.4 499.2h.9v.9h-.9zM208.1 505.9h.9v.9h-.9zM202.3 501.9h.9v.9h-.9zM207.5 505.4h.9v.9h-.9zM203.5 499.0h.9v.9h-.9zM203.9 506.6h.9v.9h-.9zM210.3 497.5h.9v.9h-.9zM205.4 501.3h.9v.9h-.9zM202.3 499.4h.9v.9h-.9zM209.4 504.5h.9v.9h-.9zM203.2 496.3h.9v.9h-.9zM205.5 491.6h.9v.9h-.9zM207.2 500.7h.9v.9h-.9zM200.6 498.7h.9v.9h-.9zM203.3 498.5h.9v.9h-.9zM202.4 507.9h.9v.9h-.9zM202.1 504.4h.9v.9h-.9z" fill="#5a6fd6" opacity="0.3"/>
<path d="M205.5 489 L238.2 489 L238.2 489.9 L205.5 489.9 Z" fill="#1f22d8" opacity="0.6"/>
<path d="M212.3 498.7h1v1h-1zM213.3 501.0h1v1h-1zM232.0 486.5h1v1h-1zM211.2 495.8h1v1h-1zM208.4 488.9h1v1h-1zM224.0 484.4h1v1h-1zM231.9 488.4h1v1h-1zM209.1 490.3h1v1h-1zM214.9 504.1h1v1h-1zM212.2 487.6h1v1h-1zM225.6 503.5h1v1h-1zM209.3 487.9h1v1h-1zM221.3 507.8h1v1h-1zM215.9 486.7h1v1h-1zM220.9 509.4h1v1h-1zM215.1 504.0h1v1h-1zM213.2 486.9h1v1h-1zM214.7 504.5h1v1h-1zM232.2 491.8h1v1h-1zM227.3 482.6h1v1h-1zM209.5 491.2h1v1h-1zM226.6 501.9h1v1h-1zM218.0 508.4h1v1h-1zM221.7 509.6h1v1h-1zM229.4 481.9h1v1h-1zM218.5 508.0h1v1h-1zM230.6 484.3h1v1h-1zM221.1 509.5h1v1h-1zM226.6 502.9h1v1h-1zM231.2 484.4h1v1h-1zM213.2 501.9h1v1h-1zM226.9 482.7h1v1h-1zM228.9 499.0h1v1h-1zM217.5 485.8h1v1h-1zM217.8 485.9h1v1h-1zM210.6 487.9h1v1h-1zM219.6 485.6h1v1h-1zM223.0 484.2h1v1h-1zM228.0 481.8h1v1h-1zM230.4 484.1h1v1h-1zM221.2 508.2h1v1h-1zM213.8 500.1h1v1h-1zM225.5 484.4h1v1h-1zM208.1 490.9h1v1h-1zM222.8 509.1h1v1h-1zM230.5 494.5h1v1h-1zM232.0 491.5h1v1h-1zM228.5 499.9h1v1h-1zM224.6 483.9h1v1h-1zM224.0 506.0h1v1h-1zM231.7 487.5h1v1h-1zM214.2 505.1h1v1h-1zM230.2 485.1h1v1h-1zM212.2 487.6h1v1h-1zM223.1 484.3h1v1h-1zM213.0 497.3h1v1h-1zM215.5 508.0h1v1h-1zM228.0 499.8h1v1h-1zM210.6 492.8h1v1h-1zM226.2 502.0h1v1h-1zM232.4 486.9h1v1h-1zM209.8 487.5h1v1h-1zM214.3 503.7h1v1h-1zM227.4 482.9h1v1h-1zM229.3 496.8h1v1h-1zM231.6 494.1h1v1h-1zM215.0 504.1h1v1h-1zM229.3 482.3h1v1h-1zM230.2 495.4h1v1h-1zM220.1 485.2h1v1h-1zM216.3 506.8h1v1h-1zM231.0 487.1h1v1h-1zM212.7 487.1h1v1h-1zM231.5 489.4h1v1h-1zM230.4 495.3h1v1h-1zM231.6 491.3h1v1h-1zM227.4 501.3h1v1h-1zM231.8 489.6h1v1h-1zM229.0 497.5h1v1h-1zM222.3 508.0h1v1h-1zM222.5 485.1h1v1h-1zM212.9 499.4h1v1h-1zM209.7 494.0h1v1h-1zM221.7 508.3h1v1h-1zM212.9 486.7h1v1h-1zM210.0 493.6h1v1h-1zM219.3 485.4h1v1h-1zM231.3 485.2h1v1h-1zM231.7 488.8h1v1h-1zM214.4 505.2h1v1h-1z" fill="#2a3ad8" opacity="0.55"/>
<g filter="url(#bl)"><path d="M208.40 489.00C208.55 488.65 209.65 488.69 210.27 488.53C210.89 488.38 211.52 488.22 212.14 488.07C212.77 487.91 213.39 487.76 214.01 487.60C214.64 487.45 215.26 487.29 215.88 487.14C216.51 486.98 217.13 486.83 217.75 486.67C218.38 486.52 219.00 486.36 219.63 486.21C220.25 486.05 220.87 485.90 221.50 485.74C222.12 485.59 222.74 485.43 223.37 485.28C223.99 485.12 224.68 485.08 225.24 484.81C225.80 484.55 226.25 484.09 226.73 483.67C227.20 483.26 227.70 482.44 228.09 482.31C228.48 482.18 228.78 482.51 229.07 482.91C229.36 483.31 229.58 484.09 229.83 484.68C230.08 485.27 230.33 485.87 230.59 486.46C230.84 487.05 231.19 487.62 231.34 488.23C231.49 488.84 231.47 489.49 231.50 490.13C231.53 490.76 231.63 491.44 231.50 492.05C231.37 492.66 231.02 493.21 230.74 493.78C230.45 494.35 230.12 494.91 229.81 495.47C229.49 496.03 229.18 496.60 228.87 497.16C228.56 497.72 228.25 498.29 227.94 498.85C227.63 499.41 227.33 499.98 227.01 500.54C226.70 501.10 226.38 501.65 226.05 502.21C225.73 502.77 225.41 503.32 225.08 503.88C224.76 504.43 224.44 504.99 224.11 505.54C223.79 506.10 223.57 506.86 223.14 507.21C222.72 507.55 222.15 507.60 221.57 507.62C220.99 507.64 220.30 507.43 219.66 507.33C219.03 507.24 218.36 507.18 217.76 507.05C217.15 506.92 216.41 506.95 216.03 506.56C215.65 506.17 215.66 505.33 215.47 504.71C215.28 504.10 215.10 503.48 214.91 502.87C214.73 502.25 214.54 501.64 214.35 501.02C214.17 500.41 213.98 499.79 213.80 499.18C213.61 498.56 213.49 497.92 213.24 497.33C212.99 496.74 212.62 496.21 212.30 495.65C211.98 495.10 211.65 494.55 211.32 493.99C211.00 493.44 210.67 492.88 210.35 492.33C210.02 491.77 209.70 491.22 209.37 490.66C209.05 490.11 208.25 489.35 208.40 489.00Z" fill="#1f22d8" opacity="0.3"/><path d="M209.71 489.13C209.83 488.83 210.80 488.87 211.34 488.74C211.89 488.60 212.43 488.47 212.98 488.34C213.52 488.21 214.07 488.07 214.61 487.94C215.16 487.81 215.70 487.68 216.25 487.54C216.79 487.41 217.34 487.28 217.88 487.15C218.43 487.01 218.97 486.88 219.52 486.75C220.06 486.62 220.61 486.48 221.15 486.35C221.70 486.22 222.24 486.09 222.79 485.95C223.33 485.82 223.91 485.75 224.42 485.56C224.93 485.36 225.38 485.06 225.85 484.79C226.31 484.51 226.81 483.95 227.20 483.90C227.60 483.84 227.92 484.11 228.23 484.44C228.53 484.78 228.76 485.42 229.03 485.91C229.30 486.40 229.56 486.88 229.83 487.37C230.10 487.86 230.44 488.33 230.63 488.83C230.83 489.33 230.99 489.85 231.01 490.37C231.02 490.90 230.87 491.46 230.70 491.97C230.53 492.49 230.23 492.97 229.97 493.47C229.71 493.96 229.42 494.45 229.15 494.94C228.88 495.43 228.61 495.92 228.33 496.41C228.06 496.90 227.80 497.40 227.51 497.88C227.23 498.36 226.93 498.83 226.62 499.29C226.31 499.75 225.97 500.20 225.65 500.65C225.33 501.10 225.00 501.55 224.68 502.01C224.35 502.46 224.03 502.91 223.70 503.36C223.38 503.82 223.13 504.43 222.73 504.72C222.33 505.01 221.82 505.05 221.30 505.09C220.78 505.12 220.19 504.98 219.63 504.93C219.07 504.88 218.48 504.87 217.96 504.78C217.43 504.68 216.80 504.72 216.48 504.38C216.15 504.05 216.16 503.31 216.00 502.77C215.84 502.23 215.68 501.69 215.52 501.16C215.36 500.62 215.20 500.08 215.05 499.54C214.89 499.00 214.73 498.46 214.57 497.93C214.41 497.39 214.29 496.84 214.06 496.33C213.84 495.82 213.49 495.36 213.20 494.88C212.92 494.40 212.62 493.93 212.33 493.45C212.04 492.97 211.75 492.49 211.45 492.01C211.16 491.53 210.87 491.05 210.58 490.57C210.29 490.09 209.58 489.44 209.71 489.13Z" fill="#1fb7f0" opacity="0.6"/><path d="M211.30 489.30C211.40 489.05 212.20 489.09 212.65 488.99C213.10 488.88 213.55 488.78 213.99 488.67C214.44 488.57 214.89 488.46 215.34 488.36C215.79 488.25 216.24 488.15 216.69 488.04C217.14 487.94 217.59 487.83 218.04 487.73C218.49 487.62 218.94 487.52 219.38 487.41C219.83 487.31 220.28 487.20 220.73 487.10C221.18 486.99 221.63 486.89 222.08 486.78C222.53 486.68 222.98 486.57 223.43 486.47C223.88 486.36 224.32 486.26 224.77 486.15C225.22 486.05 225.72 485.81 226.12 485.84C226.52 485.86 226.87 486.06 227.19 486.32C227.51 486.58 227.76 487.04 228.05 487.40C228.34 487.77 228.62 488.13 228.91 488.49C229.19 488.85 229.52 489.21 229.77 489.57C230.02 489.94 230.41 490.29 230.40 490.68C230.39 491.06 229.95 491.48 229.72 491.88C229.49 492.28 229.26 492.68 229.04 493.08C228.81 493.48 228.58 493.89 228.35 494.29C228.12 494.69 227.90 495.09 227.67 495.49C227.44 495.89 227.24 496.31 226.99 496.69C226.73 497.07 226.44 497.42 226.13 497.77C225.83 498.11 225.48 498.42 225.15 498.75C224.83 499.07 224.50 499.40 224.18 499.72C223.85 500.05 223.52 500.38 223.20 500.70C222.87 501.03 222.59 501.46 222.22 501.68C221.85 501.90 221.41 501.95 220.97 502.00C220.53 502.05 220.05 502.00 219.58 502.00C219.12 502.00 218.63 502.05 218.20 502.00C217.77 501.95 217.28 501.99 217.02 501.73C216.76 501.46 216.77 500.84 216.65 500.40C216.52 499.95 216.39 499.51 216.27 499.07C216.14 498.62 216.02 498.18 215.89 497.73C215.76 497.29 215.65 496.84 215.51 496.40C215.38 495.96 215.27 495.51 215.07 495.10C214.87 494.69 214.57 494.33 214.32 493.94C214.07 493.55 213.81 493.17 213.56 492.78C213.31 492.39 213.06 492.01 212.81 491.62C212.56 491.23 212.31 490.85 212.05 490.46C211.80 490.07 211.20 489.55 211.30 489.30Z" fill="#37c23a"/><path d="M214.25 489.18C214.60 489.15 214.94 489.11 215.29 489.07C215.64 489.03 215.99 488.99 216.34 488.95C216.69 488.92 217.04 488.88 217.39 488.84C217.73 488.80 218.08 488.76 218.43 488.72C218.78 488.68 219.13 488.65 219.48 488.61C219.83 488.57 220.18 488.53 220.52 488.49C220.87 488.45 221.22 488.41 221.57 488.38C221.92 488.34 222.27 488.30 222.62 488.26C222.97 488.22 223.31 488.18 223.66 488.15C224.01 488.11 224.36 488.07 224.71 488.03C225.06 487.99 225.41 487.95 225.76 487.91C226.10 487.88 226.45 487.84 226.80 487.80C227.15 487.76 227.54 487.67 227.85 487.68C228.16 487.70 228.49 487.68 228.67 487.89C228.85 488.09 228.85 488.57 228.93 488.91C229.02 489.25 229.11 489.59 229.20 489.93C229.28 490.27 229.45 490.63 229.46 490.95C229.47 491.26 229.42 491.57 229.26 491.84C229.10 492.11 228.76 492.34 228.52 492.58C228.27 492.83 228.02 493.08 227.77 493.33C227.52 493.58 227.28 493.82 227.03 494.07C226.78 494.32 226.53 494.57 226.28 494.82C226.03 495.07 225.79 495.31 225.54 495.56C225.29 495.81 225.09 496.15 224.79 496.30C224.50 496.46 224.10 496.43 223.76 496.50C223.41 496.56 223.07 496.62 222.72 496.69C222.38 496.75 222.03 496.82 221.69 496.88C221.34 496.95 220.96 497.08 220.65 497.08C220.35 497.07 220.05 497.04 219.85 496.84C219.65 496.64 219.58 496.19 219.45 495.87C219.31 495.55 219.18 495.22 219.04 494.90C218.91 494.57 218.77 494.25 218.64 493.93C218.50 493.60 218.40 493.25 218.23 492.96C218.06 492.66 217.87 492.38 217.62 492.16C217.37 491.93 217.03 491.77 216.74 491.58C216.44 491.39 216.15 491.20 215.85 491.01C215.56 490.82 215.26 490.63 214.97 490.44C214.67 490.25 214.38 490.06 214.08 489.87C213.79 489.68 213.17 489.41 213.20 489.30C213.23 489.19 213.90 489.22 214.25 489.18Z" fill="#f2ef10"/><path d="M214.97 489.28C215.28 489.25 215.60 489.22 215.91 489.19C216.23 489.16 216.54 489.13 216.86 489.10C217.17 489.07 217.49 489.04 217.80 489.01C218.12 488.98 218.43 488.95 218.75 488.92C219.06 488.89 219.38 488.87 219.70 488.84C220.01 488.81 220.33 488.78 220.64 488.75C220.96 488.72 221.27 488.69 221.59 488.66C221.90 488.63 222.22 488.60 222.53 488.57C222.85 488.54 223.16 488.51 223.48 488.48C223.79 488.45 224.11 488.42 224.42 488.39C224.74 488.37 225.06 488.34 225.37 488.31C225.69 488.28 226.00 488.25 226.32 488.22C226.63 488.19 226.97 488.13 227.26 488.13C227.56 488.13 227.87 488.09 228.09 488.22C228.30 488.35 228.39 488.67 228.54 488.93C228.68 489.18 228.82 489.47 228.94 489.75C229.06 490.02 229.26 490.31 229.25 490.58C229.24 490.84 229.06 491.10 228.90 491.35C228.73 491.59 228.46 491.81 228.24 492.04C228.02 492.27 227.81 492.50 227.59 492.73C227.37 492.96 227.15 493.19 226.94 493.41C226.72 493.64 226.50 493.87 226.28 494.10C226.06 494.33 225.86 494.63 225.63 494.79C225.40 494.96 225.16 495.05 224.88 495.09C224.60 495.14 224.27 495.07 223.97 495.06C223.66 495.06 223.36 495.05 223.05 495.04C222.75 495.03 222.44 495.02 222.14 495.01C221.83 495.00 221.51 495.02 221.22 494.98C220.94 494.93 220.66 494.87 220.43 494.72C220.21 494.56 220.05 494.27 219.86 494.05C219.67 493.83 219.48 493.61 219.29 493.39C219.10 493.16 218.91 492.94 218.72 492.72C218.53 492.50 218.36 492.26 218.15 492.05C217.95 491.85 217.72 491.65 217.47 491.48C217.22 491.31 216.92 491.19 216.64 491.04C216.36 490.89 216.08 490.74 215.80 490.59C215.53 490.45 215.25 490.30 214.97 490.15C214.69 490.00 214.29 489.83 214.14 489.70C213.98 489.57 213.88 489.44 214.02 489.37C214.16 489.29 214.65 489.31 214.97 489.28Z" fill="#ff9200"/><path d="M215.85 489.39C216.12 489.37 216.39 489.35 216.67 489.34C216.94 489.32 217.22 489.30 217.49 489.28C217.77 489.26 218.04 489.24 218.32 489.23C218.59 489.21 218.86 489.19 219.14 489.17C219.41 489.15 219.69 489.13 219.96 489.12C220.24 489.10 220.51 489.08 220.78 489.06C221.06 489.04 221.33 489.02 221.61 489.01C221.88 488.99 222.16 488.97 222.43 488.95C222.71 488.93 222.98 488.91 223.25 488.90C223.53 488.88 223.80 488.86 224.08 488.84C224.35 488.82 224.63 488.80 224.90 488.79C225.17 488.77 225.45 488.75 225.72 488.73C226.00 488.71 226.27 488.70 226.55 488.68C226.82 488.66 227.12 488.58 227.37 488.62C227.62 488.67 227.84 488.80 228.05 488.95C228.26 489.10 228.48 489.34 228.63 489.53C228.79 489.73 229.02 489.92 228.99 490.12C228.96 490.33 228.63 490.54 228.45 490.75C228.27 490.95 228.09 491.16 227.91 491.37C227.73 491.57 227.55 491.78 227.37 491.99C227.19 492.20 227.00 492.40 226.82 492.61C226.64 492.82 226.46 493.03 226.28 493.23C226.10 493.44 225.96 493.79 225.74 493.85C225.52 493.92 225.24 493.71 224.99 493.62C224.74 493.53 224.48 493.42 224.22 493.32C223.97 493.22 223.71 493.11 223.45 493.01C223.20 492.91 222.94 492.81 222.69 492.71C222.43 492.61 222.18 492.51 221.92 492.41C221.66 492.31 221.41 492.21 221.15 492.12C220.89 492.02 220.63 491.92 220.38 491.83C220.12 491.73 219.86 491.63 219.60 491.54C219.35 491.44 219.09 491.34 218.83 491.24C218.57 491.15 218.32 491.05 218.06 490.95C217.80 490.86 217.55 490.76 217.29 490.66C217.03 490.57 216.77 490.47 216.52 490.37C216.26 490.28 216.00 490.18 215.74 490.08C215.49 489.98 215.23 489.89 214.97 489.79C214.71 489.69 214.19 489.56 214.20 489.50C214.21 489.44 214.75 489.46 215.02 489.45C215.30 489.43 215.57 489.41 215.85 489.39Z" fill="#ff1800"/></g>
<path d="M210.5 512.9h1v1h-1zM227.6 518.4h1v1h-1zM203.0 523.6h1v1h-1zM219.5 523.0h1v1h-1zM204.4 511.4h1v1h-1zM195.5 520.4h1v1h-1zM196.5 521.8h1v1h-1zM228.2 515.2h1v1h-1zM196.7 512.9h1v1h-1zM196.0 521.6h1v1h-1zM219.3 512.0h1v1h-1zM196.3 520.7h1v1h-1zM198.1 522.2h1v1h-1zM197.2 521.7h1v1h-1zM227.6 514.0h1v1h-1zM226.7 521.0h1v1h-1zM227.9 517.0h1v1h-1zM227.9 517.4h1v1h-1zM196.5 514.7h1v1h-1zM218.4 523.3h1v1h-1zM219.9 522.6h1v1h-1zM213.0 522.8h1v1h-1zM196.8 514.4h1v1h-1zM226.0 522.3h1v1h-1zM199.8 512.1h1v1h-1zM196.6 513.8h1v1h-1zM227.5 515.2h1v1h-1zM202.0 511.7h1v1h-1zM196.8 512.9h1v1h-1zM228.8 516.0h1v1h-1zM228.4 518.9h1v1h-1zM215.4 523.4h1v1h-1zM195.3 517.6h1v1h-1zM196.9 513.6h1v1h-1zM196.2 521.1h1v1h-1zM227.5 515.0h1v1h-1zM225.7 522.0h1v1h-1zM204.0 511.3h1v1h-1zM211.5 522.3h1v1h-1zM195.6 518.1h1v1h-1zM197.1 522.0h1v1h-1zM204.4 523.7h1v1h-1zM196.6 514.1h1v1h-1zM210.6 522.4h1v1h-1zM222.2 522.9h1v1h-1zM227.3 520.7h1v1h-1zM197.5 512.9h1v1h-1zM226.8 515.5h1v1h-1zM218.7 522.8h1v1h-1zM199.4 522.3h1v1h-1zM205.3 523.3h1v1h-1zM196.9 515.0h1v1h-1zM200.9 522.9h1v1h-1zM209.6 512.7h1v1h-1zM214.8 512.5h1v1h-1zM216.9 523.2h1v1h-1zM216.6 511.9h1v1h-1zM198.5 522.2h1v1h-1zM196.7 522.5h1v1h-1zM228.2 518.1h1v1h-1z" fill="#2a3ad8" opacity="0.55"/>
<g filter="url(#bl)"><path d="M195.50 517.40C195.55 516.78 196.27 516.22 196.65 515.63C197.04 515.04 197.36 514.35 197.81 513.86C198.26 513.36 198.74 512.92 199.34 512.66C199.94 512.40 200.73 512.42 201.42 512.30C202.12 512.18 202.81 512.05 203.51 511.94C204.20 511.83 204.90 511.57 205.59 511.63C206.27 511.69 206.92 512.07 207.59 512.30C208.26 512.52 208.92 512.84 209.60 512.97C210.28 513.09 210.97 513.06 211.66 513.02C212.35 512.99 213.06 512.84 213.76 512.75C214.46 512.66 215.16 512.57 215.85 512.48C216.55 512.39 217.25 512.21 217.95 512.21C218.65 512.20 219.35 512.38 220.05 512.47C220.75 512.55 221.44 512.65 222.14 512.74C222.84 512.83 223.60 512.84 224.24 513.01C224.88 513.18 225.53 513.33 225.96 513.78C226.40 514.23 226.58 515.07 226.84 515.71C227.09 516.35 227.54 517.00 227.47 517.63C227.40 518.25 226.78 518.85 226.43 519.47C226.09 520.08 225.85 520.86 225.39 521.31C224.93 521.75 224.32 521.97 223.69 522.15C223.06 522.33 222.29 522.30 221.59 522.38C220.89 522.46 220.19 522.54 219.49 522.62C218.79 522.70 218.09 522.82 217.39 522.86C216.69 522.89 215.99 522.92 215.29 522.86C214.60 522.79 213.91 522.61 213.21 522.48C212.52 522.36 211.82 522.21 211.13 522.11C210.44 522.01 209.74 521.83 209.06 521.90C208.38 521.98 207.72 522.32 207.04 522.53C206.37 522.74 205.70 523.01 205.02 523.16C204.35 523.31 203.68 523.48 203.00 523.42C202.33 523.37 201.65 523.02 200.97 522.83C200.30 522.63 199.57 522.49 198.95 522.23C198.33 521.96 197.68 521.73 197.25 521.25C196.82 520.77 196.67 519.97 196.37 519.32C196.08 518.68 195.45 518.02 195.50 517.40Z" fill="#1f22d8"/><path d="M196.31 517.33C196.37 516.75 197.07 516.25 197.46 515.70C197.84 515.16 198.16 514.52 198.61 514.08C199.05 513.64 199.55 513.29 200.14 513.07C200.72 512.85 201.45 512.86 202.11 512.75C202.76 512.64 203.42 512.51 204.07 512.43C204.73 512.35 205.39 512.19 206.03 512.27C206.67 512.35 207.29 512.68 207.93 512.89C208.56 513.10 209.18 513.41 209.82 513.51C210.47 513.61 211.12 513.55 211.78 513.51C212.43 513.47 213.10 513.35 213.76 513.26C214.42 513.18 215.08 513.09 215.74 513.01C216.40 512.93 217.06 512.77 217.72 512.76C218.37 512.75 219.03 512.87 219.69 512.95C220.35 513.03 221.01 513.13 221.67 513.21C222.33 513.30 223.03 513.34 223.65 513.48C224.27 513.62 224.96 513.67 225.38 514.07C225.81 514.47 225.99 515.28 226.21 515.89C226.43 516.49 226.81 517.10 226.72 517.68C226.63 518.26 226.03 518.82 225.68 519.38C225.34 519.94 225.10 520.68 224.64 521.06C224.17 521.45 223.53 521.54 222.91 521.68C222.29 521.82 221.59 521.82 220.93 521.90C220.27 521.97 219.61 522.04 218.95 522.12C218.29 522.19 217.62 522.32 216.96 522.34C216.30 522.36 215.65 522.33 214.99 522.26C214.33 522.19 213.68 522.04 213.02 521.92C212.37 521.81 211.71 521.67 211.06 521.59C210.40 521.50 209.75 521.34 209.10 521.41C208.46 521.47 207.83 521.79 207.19 521.98C206.55 522.17 205.91 522.39 205.28 522.54C204.64 522.69 204.00 522.90 203.36 522.88C202.72 522.85 202.09 522.58 201.45 522.41C200.81 522.24 200.14 522.07 199.54 521.84C198.94 521.60 198.27 521.45 197.86 521.00C197.45 520.56 197.34 519.78 197.08 519.17C196.82 518.55 196.24 517.91 196.31 517.33Z" fill="#1fb7f0"/><path d="M197.11 517.26C197.19 516.72 197.87 516.27 198.26 515.78C198.64 515.29 198.96 514.68 199.40 514.30C199.85 513.92 200.37 513.67 200.94 513.48C201.50 513.30 202.17 513.29 202.79 513.20C203.41 513.10 204.03 512.96 204.64 512.91C205.26 512.86 205.87 512.82 206.48 512.92C207.08 513.01 207.67 513.29 208.26 513.48C208.86 513.67 209.44 513.97 210.05 514.05C210.66 514.14 211.28 514.05 211.89 514.00C212.51 513.95 213.14 513.85 213.76 513.77C214.38 513.70 215.00 513.62 215.62 513.54C216.24 513.47 216.86 513.33 217.48 513.31C218.10 513.29 218.72 513.37 219.34 513.43C219.96 513.50 220.58 513.60 221.20 513.69C221.82 513.78 222.45 513.84 223.06 513.95C223.66 514.06 224.38 514.01 224.80 514.36C225.22 514.71 225.39 515.50 225.58 516.06C225.78 516.62 226.08 517.19 225.97 517.73C225.86 518.27 225.28 518.78 224.94 519.29C224.59 519.81 224.35 520.50 223.88 520.82C223.41 521.14 222.74 521.11 222.13 521.20C221.53 521.30 220.89 521.34 220.27 521.41C219.65 521.48 219.03 521.55 218.41 521.62C217.78 521.69 217.16 521.81 216.54 521.82C215.92 521.83 215.30 521.74 214.69 521.67C214.07 521.59 213.45 521.47 212.83 521.37C212.22 521.27 211.60 521.14 210.98 521.07C210.37 520.99 209.75 520.85 209.14 520.91C208.53 520.97 207.94 521.25 207.33 521.42C206.73 521.59 206.13 521.78 205.53 521.93C204.93 522.08 204.32 522.32 203.72 522.33C203.12 522.34 202.52 522.14 201.92 521.99C201.33 521.85 200.71 521.65 200.13 521.44C199.55 521.24 198.85 521.16 198.46 520.76C198.07 520.35 198.01 519.59 197.79 519.01C197.56 518.43 197.03 517.80 197.11 517.26Z" fill="#37c23a"/></g>
<g filter="url(#bl)"><path d="M198.50 517.30C198.58 516.90 199.19 516.61 199.54 516.26C199.89 515.91 200.20 515.51 200.58 515.22C200.95 514.93 201.34 514.67 201.79 514.53C202.23 514.38 202.76 514.40 203.25 514.34C203.73 514.28 204.22 514.21 204.71 514.16C205.19 514.11 205.68 514.00 206.16 514.04C206.64 514.09 207.11 514.30 207.58 514.42C208.06 514.55 208.53 514.67 209.00 514.80C209.48 514.93 209.95 515.14 210.43 515.18C210.91 515.22 211.40 515.10 211.89 515.05C212.37 515.00 212.86 514.95 213.35 514.90C213.84 514.84 214.32 514.79 214.81 514.74C215.30 514.69 215.79 514.64 216.27 514.58C216.76 514.53 217.25 514.43 217.74 514.43C218.22 514.43 218.71 514.52 219.19 514.58C219.67 514.65 220.16 514.73 220.64 514.81C221.13 514.89 221.61 514.96 222.10 515.04C222.58 515.11 223.18 515.03 223.55 515.26C223.92 515.49 224.15 516.00 224.32 516.40C224.49 516.80 224.68 517.28 224.57 517.68C224.46 518.09 223.96 518.44 223.65 518.83C223.34 519.21 223.12 519.75 222.72 519.97C222.33 520.19 221.76 520.08 221.27 520.13C220.79 520.18 220.30 520.22 219.81 520.26C219.32 520.30 218.83 520.35 218.34 520.39C217.86 520.43 217.37 520.50 216.88 520.52C216.39 520.54 215.90 520.56 215.42 520.53C214.93 520.50 214.44 520.41 213.96 520.35C213.47 520.29 212.98 520.23 212.50 520.17C212.01 520.11 211.52 520.05 211.04 519.99C210.55 519.93 210.06 519.79 209.58 519.81C209.10 519.83 208.62 520.01 208.14 520.12C207.67 520.22 207.19 520.34 206.71 520.45C206.23 520.56 205.76 520.67 205.28 520.78C204.80 520.90 204.32 521.10 203.85 521.12C203.37 521.13 202.91 520.99 202.44 520.87C201.97 520.76 201.50 520.58 201.03 520.44C200.56 520.30 199.95 520.30 199.62 520.01C199.30 519.71 199.24 519.11 199.05 518.66C198.87 518.21 198.42 517.70 198.50 517.30Z" fill="#f2ef10"/><path d="M199.60 517.57C199.63 517.15 199.80 516.70 200.07 516.39C200.34 516.09 200.82 515.92 201.21 515.73C201.61 515.53 202.01 515.35 202.44 515.22C202.86 515.09 203.33 515.00 203.77 514.94C204.21 514.88 204.65 514.82 205.08 514.86C205.51 514.89 205.93 515.02 206.35 515.15C206.77 515.29 207.17 515.56 207.60 515.67C208.03 515.79 208.49 515.80 208.93 515.85C209.38 515.90 209.83 515.96 210.28 515.96C210.73 515.96 211.18 515.89 211.64 515.85C212.09 515.81 212.55 515.76 213.00 515.72C213.45 515.68 213.91 515.63 214.36 515.59C214.81 515.55 215.27 515.50 215.72 515.47C216.18 515.43 216.63 515.38 217.09 515.38C217.54 515.37 217.99 515.41 218.45 515.43C218.90 515.45 219.35 515.48 219.81 515.51C220.26 515.54 220.71 515.56 221.17 515.59C221.62 515.62 222.15 515.51 222.53 515.67C222.90 515.84 223.17 516.24 223.41 516.57C223.65 516.90 224.01 517.30 223.96 517.67C223.91 518.03 223.41 518.40 223.12 518.75C222.84 519.10 222.62 519.59 222.25 519.76C221.88 519.94 221.35 519.80 220.89 519.82C220.44 519.83 219.98 519.84 219.53 519.85C219.07 519.87 218.62 519.88 218.16 519.89C217.71 519.91 217.25 519.93 216.80 519.93C216.34 519.94 215.89 519.93 215.43 519.91C214.98 519.90 214.53 519.85 214.07 519.81C213.62 519.78 213.16 519.75 212.71 519.71C212.26 519.68 211.80 519.65 211.35 519.62C210.89 519.58 210.44 519.51 209.98 519.52C209.53 519.52 209.08 519.59 208.63 519.63C208.18 519.68 207.73 519.70 207.28 519.77C206.84 519.84 206.39 519.96 205.95 520.06C205.51 520.16 205.07 520.32 204.62 520.39C204.18 520.46 203.74 520.47 203.31 520.46C202.87 520.46 202.43 520.46 202.00 520.36C201.58 520.25 201.11 520.07 200.75 519.82C200.40 519.57 200.07 519.24 199.88 518.87C199.69 518.49 199.57 517.98 199.60 517.57Z" fill="#ff9200"/></g>
<g filter="url(#bl)"><path d="M199.30 515.20C199.47 514.97 199.99 515.02 200.34 514.93C200.69 514.83 201.03 514.74 201.38 514.65C201.73 514.56 202.08 514.47 202.42 514.38C202.77 514.28 203.12 514.19 203.46 514.10C203.81 514.01 204.18 513.78 204.50 513.83C204.82 513.87 205.10 514.18 205.39 514.38C205.68 514.58 205.97 514.80 206.25 515.02C206.54 515.23 206.83 515.44 207.12 515.65C207.41 515.87 207.87 516.01 207.99 516.29C208.11 516.57 207.90 517.00 207.85 517.35C207.80 517.71 207.75 518.06 207.70 518.42C207.65 518.77 207.70 519.22 207.55 519.48C207.39 519.74 207.07 519.86 206.77 519.98C206.46 520.11 206.07 520.16 205.72 520.24C205.37 520.33 205.03 520.42 204.68 520.51C204.33 520.59 203.98 520.69 203.63 520.77C203.29 520.84 202.93 521.01 202.60 520.94C202.28 520.87 202.00 520.55 201.70 520.35C201.40 520.16 201.10 519.96 200.80 519.77C200.50 519.57 200.14 519.41 199.89 519.18C199.64 518.96 199.40 518.73 199.30 518.43C199.20 518.12 199.30 517.71 199.30 517.35C199.30 516.99 199.30 516.64 199.30 516.28C199.30 515.92 199.13 515.43 199.30 515.20Z" fill="#ff9200"/><path d="M199.78 515.52C199.93 515.32 200.39 515.35 200.70 515.26C201.00 515.18 201.31 515.09 201.62 515.00C201.92 514.92 202.23 514.83 202.54 514.75C202.84 514.66 203.15 514.57 203.45 514.49C203.76 514.40 204.09 514.20 204.37 514.23C204.66 514.27 204.90 514.53 205.16 514.70C205.42 514.87 205.67 515.07 205.93 515.26C206.19 515.45 206.45 515.64 206.70 515.82C206.96 516.01 207.36 516.14 207.47 516.39C207.59 516.63 207.43 517.00 207.39 517.31C207.35 517.62 207.30 517.94 207.25 518.25C207.21 518.57 207.24 518.95 207.11 519.20C206.99 519.44 206.75 519.58 206.49 519.70C206.23 519.82 205.87 519.85 205.56 519.93C205.25 520.00 204.95 520.08 204.64 520.16C204.33 520.23 204.02 520.32 203.71 520.38C203.40 520.45 203.08 520.61 202.79 520.56C202.51 520.50 202.26 520.23 201.99 520.06C201.72 519.88 201.46 519.71 201.19 519.53C200.93 519.36 200.63 519.20 200.40 519.01C200.16 518.81 199.89 518.64 199.78 518.38C199.68 518.12 199.78 517.75 199.78 517.43C199.78 517.11 199.78 516.79 199.78 516.47C199.78 516.16 199.63 515.72 199.78 515.52Z" fill="#ff1800"/><path d="M200.50 516.00C200.62 515.83 200.99 515.85 201.24 515.77C201.48 515.69 201.73 515.61 201.97 515.54C202.22 515.46 202.46 515.38 202.71 515.30C202.95 515.23 203.20 515.15 203.44 515.07C203.69 514.99 203.95 514.82 204.18 514.84C204.41 514.86 204.61 515.04 204.82 515.18C205.03 515.31 205.24 515.48 205.45 515.63C205.66 515.78 205.87 515.93 206.07 516.08C206.28 516.23 206.60 516.33 206.70 516.53C206.80 516.72 206.72 516.99 206.70 517.24C206.68 517.49 206.62 517.75 206.58 518.00C206.55 518.26 206.55 518.55 206.47 518.77C206.38 518.98 206.27 519.16 206.08 519.28C205.89 519.39 205.58 519.39 205.33 519.45C205.08 519.51 204.83 519.57 204.58 519.63C204.33 519.69 204.08 519.75 203.82 519.81C203.57 519.86 203.31 520.02 203.07 519.98C202.84 519.95 202.64 519.74 202.43 519.61C202.21 519.47 202.00 519.32 201.79 519.18C201.57 519.03 201.36 518.89 201.15 518.74C200.94 518.60 200.62 518.51 200.51 518.31C200.40 518.11 200.50 517.80 200.50 517.54C200.50 517.29 200.50 517.03 200.50 516.77C200.50 516.51 200.38 516.17 200.50 516.00Z" fill="#ff1800"/></g>
<g filter="url(#bl)"><path d="M213.50 516.20C213.69 515.94 214.31 516.01 214.71 515.91C215.12 515.81 215.52 515.72 215.93 515.62C216.33 515.53 216.74 515.43 217.14 515.33C217.55 515.24 217.95 515.14 218.35 515.04C218.76 514.95 219.16 514.85 219.57 514.76C219.97 514.66 220.38 514.55 220.78 514.47C221.18 514.38 221.61 514.17 221.98 514.26C222.34 514.35 222.65 514.75 222.98 515.00C223.31 515.25 223.65 515.50 223.98 515.75C224.31 515.99 224.78 516.20 224.98 516.49C225.18 516.78 225.22 517.13 225.19 517.50C225.17 517.86 224.96 518.31 224.83 518.69C224.70 519.08 224.69 519.60 224.41 519.81C224.13 520.01 223.58 519.88 223.17 519.92C222.75 519.96 222.34 520.00 221.93 520.04C221.51 520.08 221.10 520.11 220.68 520.15C220.27 520.19 219.86 520.23 219.44 520.27C219.03 520.31 218.60 520.42 218.20 520.38C217.80 520.34 217.41 520.17 217.02 520.04C216.62 519.91 216.23 519.76 215.84 519.62C215.45 519.47 215.05 519.34 214.67 519.19C214.30 519.04 213.78 518.98 213.60 518.69C213.41 518.40 213.56 517.86 213.55 517.45C213.53 517.03 213.31 516.46 213.50 516.20Z" fill="#ff9200"/><path d="M214.30 516.36C214.49 516.14 215.02 516.19 215.38 516.11C215.74 516.03 216.10 515.94 216.46 515.86C216.82 515.78 217.18 515.69 217.54 515.61C217.90 515.53 218.26 515.45 218.62 515.36C218.98 515.28 219.34 515.20 219.70 515.11C220.06 515.03 220.42 514.93 220.78 514.86C221.13 514.80 221.51 514.63 221.84 514.71C222.16 514.79 222.43 515.15 222.73 515.37C223.03 515.59 223.32 515.80 223.62 516.02C223.92 516.24 224.35 516.42 224.51 516.68C224.68 516.94 224.66 517.26 224.62 517.59C224.58 517.92 224.42 518.32 224.28 518.64C224.14 518.96 224.06 519.34 223.79 519.50C223.53 519.66 223.06 519.57 222.69 519.60C222.32 519.64 221.95 519.67 221.58 519.71C221.22 519.74 220.85 519.77 220.48 519.81C220.11 519.84 219.75 519.88 219.38 519.91C219.01 519.95 218.63 520.04 218.28 520.01C217.92 519.99 217.57 519.86 217.22 519.75C216.87 519.64 216.53 519.49 216.18 519.36C215.84 519.23 215.48 519.11 215.15 518.97C214.81 518.83 214.32 518.79 214.17 518.54C214.01 518.29 214.21 517.82 214.23 517.45C214.25 517.09 214.11 516.58 214.30 516.36Z" fill="#ff1800"/><path d="M215.50 516.60C215.69 516.42 216.09 516.47 216.38 516.41C216.67 516.35 216.96 516.28 217.26 516.22C217.55 516.16 217.84 516.09 218.14 516.03C218.43 515.97 218.72 515.90 219.01 515.84C219.31 515.78 219.60 515.71 219.89 515.65C220.18 515.58 220.48 515.50 220.77 515.46C221.06 515.41 221.36 515.31 221.62 515.39C221.89 515.47 222.11 515.74 222.35 515.91C222.60 516.09 222.84 516.26 223.08 516.44C223.33 516.61 223.70 516.75 223.81 516.96C223.93 517.18 223.83 517.46 223.77 517.73C223.71 517.99 223.61 518.35 223.46 518.57C223.31 518.79 223.11 518.95 222.86 519.04C222.61 519.13 222.27 519.10 221.97 519.13C221.67 519.15 221.37 519.18 221.07 519.21C220.77 519.24 220.48 519.27 220.18 519.29C219.88 519.32 219.58 519.35 219.28 519.38C218.98 519.41 218.68 519.47 218.39 519.46C218.10 519.45 217.81 519.39 217.53 519.31C217.24 519.23 216.97 519.09 216.69 518.98C216.41 518.87 216.14 518.75 215.86 518.64C215.58 518.53 215.13 518.51 215.02 518.31C214.92 518.11 215.17 517.75 215.25 517.46C215.33 517.18 215.31 516.78 215.50 516.60Z" fill="#ff1800"/></g>
<path d="M315.1 501.1h.9v.9h-.9zM324.4 505.4h.9v.9h-.9zM294.3 494.4h.9v.9h-.9zM317.8 501.5h.9v.9h-.9zM322.6 504.8h.9v.9h-.9zM331.6 493.9h.9v.9h-.9zM328.2 503.3h.9v.9h-.9zM317.3 505.8h.9v.9h-.9zM310.4 506.1h.9v.9h-.9zM311.8 506.1h.9v.9h-.9zM305.8 510.0h.9v.9h-.9zM297.6 494.4h.9v.9h-.9zM313.5 502.1h.9v.9h-.9zM305.4 496.6h.9v.9h-.9zM316.8 508.9h.9v.9h-.9zM328.0 496.0h.9v.9h-.9zM313.3 497.4h.9v.9h-.9zM297.6 496.2h.9v.9h-.9zM326.3 488.6h.9v.9h-.9zM345.0 508.3h.9v.9h-.9zM332.8 501.6h.9v.9h-.9zM331.2 495.1h.9v.9h-.9zM327.8 506.5h.9v.9h-.9zM322.5 506.4h.9v.9h-.9zM320.4 505.5h.9v.9h-.9zM327.0 503.6h.9v.9h-.9zM320.9 503.7h.9v.9h-.9zM315.6 492.6h.9v.9h-.9zM294.7 491.4h.9v.9h-.9zM300.7 487.4h.9v.9h-.9zM321.5 497.2h.9v.9h-.9zM327.8 526.6h.9v.9h-.9zM322.4 496.1h.9v.9h-.9zM318.2 498.3h.9v.9h-.9zM317.1 517.8h.9v.9h-.9zM331.3 510.9h.9v.9h-.9zM317.2 515.2h.9v.9h-.9zM323.0 507.6h.9v.9h-.9zM301.4 494.8h.9v.9h-.9zM315.9 498.2h.9v.9h-.9zM308.4 483.0h.9v.9h-.9zM306.0 499.1h.9v.9h-.9zM317.4 490.9h.9v.9h-.9zM312.6 515.5h.9v.9h-.9zM315.8 483.3h.9v.9h-.9zM312.1 500.1h.9v.9h-.9zM327.8 501.7h.9v.9h-.9zM328.9 502.9h.9v.9h-.9zM326.7 511.6h.9v.9h-.9zM330.7 501.7h.9v.9h-.9zM300.9 501.7h.9v.9h-.9zM319.2 494.0h.9v.9h-.9zM323.0 498.7h.9v.9h-.9zM322.7 501.7h.9v.9h-.9zM304.0 509.0h.9v.9h-.9zM335.8 507.9h.9v.9h-.9zM317.2 485.3h.9v.9h-.9zM317.6 499.8h.9v.9h-.9zM305.6 483.7h.9v.9h-.9zM318.9 508.3h.9v.9h-.9zM321.8 519.5h.9v.9h-.9zM293.6 503.0h.9v.9h-.9zM313.8 512.2h.9v.9h-.9zM313.8 491.8h.9v.9h-.9zM313.5 503.8h.9v.9h-.9zM306.2 493.3h.9v.9h-.9zM317.0 507.5h.9v.9h-.9zM311.6 504.2h.9v.9h-.9zM308.7 497.1h.9v.9h-.9zM316.2 508.3h.9v.9h-.9zM331.2 499.0h.9v.9h-.9zM319.0 516.9h.9v.9h-.9zM323.1 497.0h.9v.9h-.9zM318.5 487.9h.9v.9h-.9zM291.5 493.5h.9v.9h-.9zM306.4 488.6h.9v.9h-.9zM325.2 496.2h.9v.9h-.9zM315.1 500.7h.9v.9h-.9zM311.9 490.0h.9v.9h-.9zM335.0 483.1h.9v.9h-.9zM313.8 506.0h.9v.9h-.9zM312.0 499.2h.9v.9h-.9zM317.5 502.1h.9v.9h-.9zM310.5 509.3h.9v.9h-.9zM319.6 512.9h.9v.9h-.9zM315.1 483.0h.9v.9h-.9zM296.3 495.7h.9v.9h-.9zM319.1 486.1h.9v.9h-.9zM308.1 510.7h.9v.9h-.9zM317.8 494.0h.9v.9h-.9zM313.0 501.0h.9v.9h-.9zM309.6 497.4h.9v.9h-.9zM307.3 502.0h.9v.9h-.9zM331.2 512.5h.9v.9h-.9zM300.8 519.9h.9v.9h-.9zM312.9 488.1h.9v.9h-.9zM298.2 501.3h.9v.9h-.9zM316.7 494.6h.9v.9h-.9zM305.6 498.2h.9v.9h-.9zM317.0 505.8h.9v.9h-.9zM320.2 479.7h.9v.9h-.9zM307.8 502.3h.9v.9h-.9zM318.2 506.9h.9v.9h-.9zM298.2 513.5h.9v.9h-.9zM301.4 498.3h.9v.9h-.9zM309.2 496.0h.9v.9h-.9zM305.9 507.0h.9v.9h-.9zM322.6 503.1h.9v.9h-.9zM300.5 494.7h.9v.9h-.9zM313.6 503.5h.9v.9h-.9zM308.2 497.8h.9v.9h-.9zM342.3 500.6h.9v.9h-.9zM311.0 479.0h.9v.9h-.9zM306.1 514.0h.9v.9h-.9zM323.2 489.8h.9v.9h-.9zM322.6 501.5h.9v.9h-.9zM305.7 506.9h.9v.9h-.9zM307.7 497.5h.9v.9h-.9zM314.4 501.9h.9v.9h-.9zM309.5 502.6h.9v.9h-.9zM314.2 501.7h.9v.9h-.9zM318.3 494.6h.9v.9h-.9zM299.6 499.4h.9v.9h-.9zM327.4 502.9h.9v.9h-.9zM316.6 493.7h.9v.9h-.9zM302.0 489.4h.9v.9h-.9zM304.4 496.9h.9v.9h-.9zM297.7 499.0h.9v.9h-.9z" fill="#5a6fd6" opacity="0.25"/>
<path d="M320.6 486.6h1v1h-1zM329.0 484.4h1v1h-1zM315.4 500.8h1v1h-1zM316.2 487.7h1v1h-1zM320.5 486.3h1v1h-1zM318.7 503.8h1v1h-1zM331.4 484.2h1v1h-1zM314.5 495.3h1v1h-1zM330.4 493.5h1v1h-1zM314.0 488.0h1v1h-1zM327.6 505.5h1v1h-1zM313.4 492.6h1v1h-1zM331.7 492.2h1v1h-1zM332.3 487.6h1v1h-1zM313.1 493.0h1v1h-1zM330.8 492.5h1v1h-1zM328.3 500.9h1v1h-1zM318.4 504.3h1v1h-1zM330.0 497.1h1v1h-1zM331.8 491.4h1v1h-1zM317.4 488.0h1v1h-1zM321.5 507.4h1v1h-1zM326.6 506.9h1v1h-1zM316.6 488.2h1v1h-1zM331.7 492.4h1v1h-1zM316.3 503.1h1v1h-1zM331.4 486.5h1v1h-1zM331.7 492.8h1v1h-1zM319.1 505.2h1v1h-1zM326.3 485.1h1v1h-1zM331.0 484.2h1v1h-1zM328.3 502.6h1v1h-1zM320.2 505.2h1v1h-1zM330.9 493.9h1v1h-1zM322.1 506.9h1v1h-1zM319.9 505.1h1v1h-1zM318.3 486.9h1v1h-1zM331.0 483.2h1v1h-1zM322.8 485.6h1v1h-1zM329.5 498.3h1v1h-1zM325.8 508.3h1v1h-1zM324.8 485.3h1v1h-1zM316.1 501.2h1v1h-1zM324.9 486.0h1v1h-1zM331.2 483.7h1v1h-1zM327.5 506.3h1v1h-1zM315.5 499.8h1v1h-1zM323.7 486.7h1v1h-1zM331.1 491.4h1v1h-1zM325.0 485.5h1v1h-1zM330.3 484.0h1v1h-1zM316.2 500.0h1v1h-1zM319.2 487.1h1v1h-1zM319.7 487.5h1v1h-1zM315.5 497.9h1v1h-1zM331.8 491.6h1v1h-1zM321.2 486.1h1v1h-1zM327.4 503.4h1v1h-1zM328.8 498.6h1v1h-1zM328.4 500.9h1v1h-1zM329.8 497.3h1v1h-1zM331.6 483.0h1v1h-1zM318.1 488.3h1v1h-1zM321.5 507.1h1v1h-1zM322.3 486.1h1v1h-1zM329.0 500.1h1v1h-1zM313.6 492.2h1v1h-1zM318.6 505.4h1v1h-1zM314.1 494.0h1v1h-1zM320.6 507.1h1v1h-1zM314.1 497.1h1v1h-1zM327.6 485.5h1v1h-1zM327.4 504.2h1v1h-1zM331.3 493.1h1v1h-1zM314.1 487.9h1v1h-1zM318.3 504.6h1v1h-1zM323.3 508.9h1v1h-1zM331.5 486.7h1v1h-1zM320.2 506.7h1v1h-1zM326.7 485.6h1v1h-1zM331.4 490.8h1v1h-1zM328.4 500.1h1v1h-1zM317.2 502.6h1v1h-1zM314.4 488.2h1v1h-1zM327.7 506.6h1v1h-1zM322.3 486.1h1v1h-1zM327.0 505.5h1v1h-1zM315.5 488.3h1v1h-1zM326.5 485.5h1v1h-1zM313.9 492.5h1v1h-1zM331.1 492.9h1v1h-1zM329.1 484.2h1v1h-1zM332.1 490.7h1v1h-1zM328.3 501.7h1v1h-1zM317.4 487.8h1v1h-1zM327.5 506.7h1v1h-1zM315.4 499.3h1v1h-1zM319.0 487.2h1v1h-1zM327.1 485.6h1v1h-1zM318.7 504.9h1v1h-1zM320.3 486.4h1v1h-1zM314.6 495.1h1v1h-1zM316.3 502.0h1v1h-1zM315.9 488.7h1v1h-1zM312.1 491.0h1v1h-1zM331.9 484.0h1v1h-1zM329.5 497.2h1v1h-1zM328.2 504.5h1v1h-1zM319.5 505.0h1v1h-1zM313.9 488.3h1v1h-1zM316.4 488.0h1v1h-1zM315.3 501.0h1v1h-1zM331.7 486.0h1v1h-1zM328.4 500.9h1v1h-1zM331.9 487.1h1v1h-1zM321.3 506.1h1v1h-1zM314.9 497.7h1v1h-1zM322.2 508.0h1v1h-1zM331.4 488.3h1v1h-1zM321.6 487.1h1v1h-1zM325.4 486.1h1v1h-1zM330.0 495.7h1v1h-1zM327.0 506.9h1v1h-1zM322.5 508.8h1v1h-1zM321.7 507.6h1v1h-1zM315.9 500.8h1v1h-1zM331.6 492.1h1v1h-1zM328.4 503.4h1v1h-1zM318.2 487.4h1v1h-1zM326.4 508.0h1v1h-1zM314.9 499.8h1v1h-1zM326.0 508.9h1v1h-1zM330.0 497.3h1v1h-1zM328.4 499.4h1v1h-1zM331.3 487.8h1v1h-1zM328.7 501.8h1v1h-1zM312.0 490.6h1v1h-1zM317.4 488.0h1v1h-1zM330.1 497.2h1v1h-1zM327.4 507.4h1v1h-1z" fill="#2a3ad8" opacity="0.55"/>
<path d="M311.6 516.8h.9v.9h-.9zM310.3 513.4h.9v.9h-.9zM309.1 515.6h.9v.9h-.9zM316.4 516.7h.9v.9h-.9zM309.1 516.5h.9v.9h-.9zM309.8 517.3h.9v.9h-.9zM315.4 515.2h.9v.9h-.9zM312.4 515.9h.9v.9h-.9zM312.0 517.4h.9v.9h-.9zM315.1 515.3h.9v.9h-.9zM315.6 514.3h.9v.9h-.9zM314.6 515.6h.9v.9h-.9zM312.1 515.9h.9v.9h-.9zM314.8 514.2h.9v.9h-.9zM315.3 519.6h.9v.9h-.9zM316.8 515.3h.9v.9h-.9zM315.3 518.0h.9v.9h-.9zM310.3 518.0h.9v.9h-.9zM312.8 518.3h.9v.9h-.9zM311.2 517.3h.9v.9h-.9zM312.1 517.5h.9v.9h-.9zM317.1 516.4h.9v.9h-.9zM311.2 517.3h.9v.9h-.9zM315.3 514.7h.9v.9h-.9zM315.9 515.8h.9v.9h-.9zM313.6 514.8h.9v.9h-.9zM314.7 517.1h.9v.9h-.9zM311.2 517.0h.9v.9h-.9zM307.8 516.1h.9v.9h-.9zM314.9 514.8h.9v.9h-.9zM314.6 514.4h.9v.9h-.9zM320.4 516.5h.9v.9h-.9zM317.7 514.9h.9v.9h-.9zM306.3 515.9h.9v.9h-.9zM318.6 515.8h.9v.9h-.9zM318.0 516.5h.9v.9h-.9zM315.1 517.3h.9v.9h-.9zM312.0 515.5h.9v.9h-.9zM317.8 516.6h.9v.9h-.9zM312.2 514.7h.9v.9h-.9zM319.1 512.0h.9v.9h-.9zM317.1 515.8h.9v.9h-.9zM309.6 516.5h.9v.9h-.9zM315.6 518.8h.9v.9h-.9zM315.0 512.9h.9v.9h-.9zM310.9 516.9h.9v.9h-.9zM312.4 515.9h.9v.9h-.9zM313.7 517.8h.9v.9h-.9zM315.1 515.8h.9v.9h-.9zM311.9 517.2h.9v.9h-.9zM311.7 516.5h.9v.9h-.9zM315.4 516.9h.9v.9h-.9zM316.7 516.3h.9v.9h-.9zM320.6 517.0h.9v.9h-.9zM311.5 514.9h.9v.9h-.9zM311.7 517.6h.9v.9h-.9zM310.3 517.9h.9v.9h-.9zM315.4 515.3h.9v.9h-.9zM310.7 515.9h.9v.9h-.9zM316.6 515.9h.9v.9h-.9z" fill="#5a6fd6" opacity="0.7"/>
<path d="M309.5 514.8 L320 515 L320 517.3 L309.5 517.6 Z" fill="#1f22d8" filter="url(#bl)" opacity="0.55"/>
<path d="M323.3 506 L326.3 506 L326.3 513 L323.3 513 Z" fill="#1fb7f0" filter="url(#bl)"/>
<path d="M324 506 L325.6 506 L325.6 511 L324 511 Z" fill="#37c23a" filter="url(#bl)"/>
<g filter="url(#bl)"><path d="M313.00 489.60C313.18 489.28 314.06 489.34 314.59 489.21C315.11 489.08 315.64 488.95 316.17 488.82C316.70 488.69 317.23 488.56 317.76 488.43C318.29 488.30 318.82 488.17 319.34 488.03C319.87 487.90 320.40 487.78 320.93 487.63C321.45 487.49 321.97 487.32 322.49 487.16C323.01 487.00 323.53 486.84 324.06 486.69C324.58 486.53 325.10 486.37 325.62 486.21C326.14 486.06 326.66 485.90 327.18 485.74C327.70 485.58 328.23 485.42 328.75 485.27C329.27 485.11 330.00 484.62 330.30 484.81C330.61 485.00 330.49 485.88 330.58 486.42C330.67 486.96 330.76 487.49 330.86 488.03C330.95 488.57 331.10 489.11 331.13 489.64C331.17 490.17 331.18 490.70 331.09 491.23C330.99 491.75 330.74 492.26 330.57 492.77C330.39 493.29 330.22 493.81 330.04 494.32C329.87 494.84 329.70 495.35 329.52 495.87C329.35 496.39 329.17 496.90 329.00 497.42C328.83 497.93 328.63 498.44 328.48 498.97C328.32 499.49 328.20 500.02 328.07 500.55C327.93 501.07 327.81 501.60 327.68 502.13C327.55 502.66 327.42 503.19 327.29 503.72C327.15 504.25 327.02 504.78 326.89 505.30C326.76 505.83 326.84 506.63 326.50 506.89C326.17 507.16 325.42 506.90 324.88 506.90C324.33 506.90 323.75 507.01 323.24 506.90C322.74 506.79 322.28 506.55 321.84 506.27C321.39 505.99 321.00 505.57 320.58 505.23C320.16 504.88 319.74 504.53 319.32 504.18C318.90 503.84 318.48 503.49 318.06 503.14C317.64 502.80 317.09 502.54 316.80 502.10C316.52 501.67 316.50 501.05 316.35 500.53C316.21 500.01 316.06 499.48 315.91 498.96C315.76 498.43 315.61 497.91 315.46 497.39C315.31 496.86 315.17 496.34 315.02 495.82C314.86 495.29 314.69 494.78 314.53 494.26C314.36 493.74 314.19 493.22 314.02 492.71C313.85 492.19 313.68 491.67 313.51 491.15C313.34 490.64 312.82 489.92 313.00 489.60Z" fill="#1f22d8" opacity="0.75"/><path d="M314.47 490.13C314.51 489.77 314.82 489.55 315.18 489.38C315.53 489.22 316.13 489.20 316.60 489.11C317.07 489.02 317.55 488.93 318.02 488.84C318.49 488.75 318.97 488.66 319.44 488.57C319.92 488.47 320.39 488.39 320.86 488.29C321.33 488.19 321.80 488.08 322.27 487.97C322.74 487.86 323.21 487.76 323.68 487.65C324.15 487.55 324.62 487.44 325.09 487.34C325.56 487.23 326.03 487.12 326.50 487.02C326.97 486.91 327.44 486.81 327.91 486.70C328.38 486.60 328.97 486.30 329.32 486.39C329.66 486.48 329.88 486.86 330.00 487.24C330.13 487.61 330.05 488.19 330.08 488.67C330.10 489.14 330.15 489.62 330.15 490.10C330.14 490.57 330.12 491.05 330.04 491.52C329.97 491.99 329.80 492.45 329.68 492.92C329.56 493.38 329.45 493.85 329.31 494.31C329.18 494.78 329.02 495.24 328.87 495.70C328.72 496.16 328.57 496.62 328.42 497.08C328.27 497.54 328.12 497.99 327.98 498.46C327.84 498.92 327.72 499.39 327.59 499.85C327.46 500.32 327.34 500.79 327.22 501.26C327.09 501.72 326.97 502.19 326.84 502.66C326.72 503.12 326.59 503.59 326.47 504.06C326.34 504.52 326.38 505.20 326.09 505.46C325.80 505.72 325.21 505.57 324.74 505.59C324.27 505.62 323.75 505.65 323.29 505.59C322.83 505.54 322.36 505.46 321.96 505.25C321.57 505.04 321.26 504.67 320.94 504.34C320.62 504.01 320.33 503.62 320.03 503.26C319.72 502.90 319.42 502.54 319.12 502.18C318.81 501.82 318.43 501.51 318.20 501.10C317.97 500.69 317.89 500.19 317.74 499.73C317.58 499.27 317.43 498.82 317.27 498.36C317.12 497.90 316.97 497.44 316.81 496.99C316.66 496.53 316.51 496.07 316.36 495.61C316.20 495.15 316.04 494.70 315.87 494.25C315.71 493.79 315.54 493.34 315.38 492.88C315.22 492.43 315.06 491.97 314.91 491.51C314.76 491.05 314.42 490.48 314.47 490.13Z" fill="#1fb7f0" opacity="0.9"/><path d="M316.26 490.77C316.14 490.38 315.76 489.82 315.90 489.60C316.04 489.38 316.71 489.51 317.12 489.47C317.53 489.43 317.93 489.39 318.34 489.34C318.75 489.30 319.16 489.26 319.56 489.22C319.97 489.17 320.38 489.13 320.78 489.09C321.19 489.05 321.60 489.00 322.00 488.96C322.41 488.92 322.82 488.88 323.23 488.83C323.63 488.79 324.04 488.75 324.45 488.71C324.85 488.66 325.26 488.62 325.67 488.58C326.07 488.54 326.48 488.49 326.89 488.45C327.30 488.41 327.71 488.36 328.11 488.32C328.51 488.29 329.13 488.04 329.30 488.23C329.46 488.42 329.18 489.04 329.12 489.45C329.06 489.85 329.00 490.25 328.94 490.66C328.88 491.06 328.83 491.47 328.77 491.87C328.71 492.28 328.65 492.68 328.59 493.09C328.53 493.49 328.50 493.91 328.41 494.30C328.33 494.70 328.19 495.09 328.07 495.48C327.96 495.87 327.84 496.27 327.72 496.66C327.60 497.05 327.48 497.44 327.36 497.83C327.24 498.22 327.13 498.62 327.01 499.01C326.89 499.40 326.77 499.79 326.65 500.18C326.53 500.58 326.42 500.97 326.30 501.36C326.18 501.75 326.06 502.14 325.94 502.53C325.82 502.93 325.82 503.46 325.59 503.71C325.36 503.95 324.95 503.95 324.58 504.00C324.20 504.05 323.76 504.00 323.35 504.00C322.94 504.00 322.45 504.12 322.12 504.00C321.79 503.88 321.58 503.57 321.38 503.26C321.17 502.95 321.05 502.51 320.89 502.13C320.73 501.76 320.57 501.38 320.40 501.01C320.24 500.63 320.08 500.26 319.92 499.88C319.75 499.50 319.59 499.13 319.43 498.75C319.27 498.38 319.10 498.00 318.94 497.63C318.78 497.25 318.62 496.87 318.47 496.50C318.31 496.12 318.15 495.74 317.99 495.36C317.84 494.99 317.68 494.61 317.52 494.23C317.36 493.85 317.20 493.48 317.05 493.10C316.90 492.72 316.76 492.33 316.63 491.94C316.50 491.56 316.39 491.16 316.26 490.77Z" fill="#37c23a"/><path d="M320.02 491.24C319.82 490.97 319.61 490.69 319.41 490.42C319.21 490.15 318.73 489.75 318.80 489.60C318.87 489.45 319.48 489.55 319.82 489.52C320.16 489.50 320.50 489.47 320.84 489.44C321.18 489.42 321.52 489.39 321.86 489.37C322.20 489.34 322.54 489.32 322.88 489.29C323.22 489.26 323.56 489.24 323.90 489.21C324.24 489.19 324.58 489.16 324.91 489.13C325.25 489.11 325.59 489.08 325.93 489.06C326.27 489.03 326.61 489.00 326.95 488.98C327.29 488.95 327.63 488.93 327.97 488.90C328.31 488.88 328.82 488.73 328.99 488.82C329.16 488.91 329.06 489.18 328.97 489.43C328.89 489.69 328.66 490.04 328.51 490.34C328.35 490.65 328.20 490.95 328.04 491.25C327.89 491.56 327.70 491.85 327.57 492.16C327.45 492.47 327.36 492.80 327.28 493.13C327.19 493.46 327.14 493.80 327.08 494.13C327.01 494.47 326.94 494.80 326.88 495.13C326.81 495.47 326.75 495.80 326.68 496.14C326.61 496.47 326.55 496.81 326.48 497.14C326.42 497.47 326.35 497.81 326.28 498.14C326.22 498.48 326.15 498.81 326.08 499.14C326.02 499.48 325.95 499.81 325.89 500.15C325.82 500.48 325.76 500.82 325.69 501.15C325.61 501.48 325.66 501.94 325.45 502.10C325.24 502.26 324.76 502.10 324.42 502.10C324.08 502.10 323.71 502.14 323.40 502.10C323.09 502.06 322.73 502.09 322.58 501.88C322.42 501.68 322.51 501.20 322.47 500.86C322.44 500.53 322.40 500.19 322.36 499.85C322.33 499.51 322.29 499.17 322.26 498.83C322.22 498.49 322.19 498.15 322.15 497.82C322.12 497.48 322.08 497.14 322.05 496.80C322.01 496.46 321.97 496.12 321.94 495.78C321.90 495.44 321.87 495.10 321.83 494.77C321.80 494.43 321.82 494.06 321.73 493.75C321.63 493.43 321.42 493.16 321.24 492.88C321.06 492.60 320.83 492.33 320.63 492.06C320.43 491.79 320.22 491.51 320.02 491.24Z" fill="#f2ef10"/></g>
<path d="M321.20 489.30C322.33 488.93 327.93 488.68 329.00 489.00C330.07 489.32 328.18 489.45 327.60 491.20C327.02 492.95 326.13 498.12 325.50 499.50C324.87 500.88 324.35 500.88 323.80 499.50C323.25 498.12 322.63 492.90 322.20 491.20C321.77 489.50 320.07 489.67 321.20 489.30Z" fill="#ff9200" opacity="1" filter="url(#bl)"/>
<path d="M320 488.8 L329.3 488.5 L328.5 491 L321 491 Z" fill="#ff1800" filter="url(#bl)"/>
<g filter="url(#bl)"><path d="M319.70 514.10C319.81 513.86 320.22 513.76 320.48 513.59C320.74 513.42 321.00 513.25 321.26 513.08C321.52 512.91 321.78 512.70 322.04 512.56C322.31 512.43 322.57 512.28 322.86 512.28C323.14 512.27 323.46 512.45 323.75 512.54C324.05 512.63 324.35 512.72 324.65 512.80C324.95 512.89 325.31 512.92 325.55 513.07C325.78 513.21 325.95 513.40 326.05 513.66C326.16 513.91 326.13 514.28 326.16 514.59C326.20 514.89 326.23 515.20 326.27 515.51C326.30 515.82 326.34 516.13 326.38 516.44C326.41 516.75 326.58 517.12 326.48 517.37C326.39 517.62 326.07 517.76 325.83 517.94C325.59 518.12 325.31 518.28 325.05 518.45C324.79 518.62 324.53 518.81 324.27 518.96C324.00 519.11 323.75 519.34 323.47 519.35C323.20 519.35 322.90 519.11 322.61 518.99C322.32 518.87 322.03 518.76 321.75 518.64C321.46 518.52 321.14 518.42 320.88 518.28C320.62 518.14 320.31 518.04 320.18 517.81C320.04 517.57 320.10 517.19 320.06 516.88C320.02 516.57 319.98 516.26 319.94 515.95C319.90 515.64 319.86 515.34 319.82 515.03C319.78 514.72 319.59 514.34 319.70 514.10Z" fill="#1f22d8"/><path d="M320.34 514.40C320.43 514.20 320.73 514.09 320.94 513.94C321.15 513.80 321.38 513.67 321.60 513.54C321.82 513.40 322.04 513.24 322.26 513.14C322.49 513.03 322.71 512.91 322.95 512.90C323.19 512.89 323.45 513.02 323.70 513.08C323.95 513.14 324.20 513.19 324.45 513.26C324.70 513.33 324.99 513.36 325.17 513.49C325.36 513.61 325.50 513.79 325.58 514.01C325.67 514.22 325.65 514.52 325.69 514.78C325.73 515.03 325.76 515.29 325.80 515.55C325.84 515.80 325.87 516.06 325.91 516.32C325.94 516.57 326.08 516.88 326.00 517.08C325.93 517.29 325.65 517.41 325.45 517.56C325.24 517.71 325.01 517.84 324.79 517.98C324.58 518.13 324.36 518.28 324.14 518.41C323.92 518.54 323.71 518.73 323.48 518.74C323.25 518.75 323.00 518.57 322.76 518.47C322.52 518.38 322.28 518.27 322.04 518.17C321.80 518.07 321.55 517.98 321.33 517.87C321.11 517.75 320.85 517.67 320.72 517.48C320.60 517.29 320.63 516.98 320.59 516.73C320.56 516.47 320.54 516.21 320.51 515.95C320.48 515.69 320.46 515.44 320.43 515.18C320.40 514.92 320.26 514.61 320.34 514.40Z" fill="#1fb7f0"/><path d="M320.99 514.71C321.05 514.54 321.23 514.41 321.39 514.29C321.55 514.18 321.75 514.10 321.94 514.00C322.12 513.90 322.30 513.79 322.48 513.71C322.67 513.63 322.85 513.54 323.04 513.53C323.24 513.51 323.45 513.59 323.65 513.62C323.85 513.66 324.06 513.67 324.25 513.72C324.44 513.77 324.66 513.80 324.80 513.91C324.95 514.02 325.04 514.18 325.11 514.35C325.18 514.53 325.18 514.76 325.22 514.97C325.26 515.17 325.29 515.38 325.33 515.58C325.37 515.79 325.41 515.99 325.44 516.19C325.47 516.40 325.59 516.63 325.52 516.80C325.46 516.96 325.23 517.05 325.06 517.17C324.90 517.29 324.71 517.40 324.54 517.52C324.36 517.63 324.19 517.76 324.02 517.86C323.84 517.96 323.67 518.13 323.49 518.14C323.30 518.16 323.11 518.02 322.92 517.95C322.73 517.88 322.53 517.79 322.34 517.70C322.15 517.62 321.95 517.55 321.77 517.45C321.59 517.36 321.38 517.29 321.27 517.15C321.17 517.00 321.16 516.77 321.13 516.57C321.10 516.38 321.10 516.16 321.08 515.95C321.07 515.75 321.05 515.54 321.04 515.33C321.02 515.12 320.93 514.88 320.99 514.71Z" fill="#37c23a"/><path d="M321.63 515.01C321.67 514.87 321.74 514.74 321.85 514.65C321.95 514.56 322.13 514.53 322.27 514.46C322.42 514.40 322.56 514.33 322.70 514.28C322.84 514.23 322.99 514.17 323.14 514.15C323.29 514.14 323.44 514.16 323.59 514.17C323.75 514.17 323.91 514.15 324.05 514.18C324.19 514.20 324.33 514.24 324.43 514.33C324.53 514.42 324.59 514.57 324.64 514.70C324.69 514.84 324.71 515.01 324.75 515.16C324.79 515.31 324.83 515.46 324.86 515.61C324.90 515.77 324.94 515.92 324.97 516.07C325.00 516.22 325.09 516.39 325.04 516.51C324.99 516.63 324.80 516.70 324.68 516.79C324.55 516.88 324.42 516.96 324.28 517.05C324.15 517.13 324.02 517.23 323.89 517.31C323.76 517.39 323.63 517.52 323.49 517.54C323.36 517.56 323.21 517.48 323.07 517.43C322.93 517.38 322.78 517.30 322.64 517.24C322.50 517.17 322.35 517.11 322.21 517.04C322.07 516.97 321.91 516.92 321.82 516.81C321.73 516.71 321.70 516.57 321.67 516.42C321.64 516.28 321.66 516.11 321.66 515.95C321.65 515.80 321.65 515.64 321.65 515.48C321.64 515.33 321.60 515.15 321.63 515.01Z" fill="#f2ef10"/><path d="M322.15 515.26C322.16 515.14 322.14 515.00 322.21 514.93C322.27 514.86 322.43 514.87 322.54 514.83C322.65 514.80 322.76 514.77 322.88 514.74C322.99 514.71 323.10 514.68 323.21 514.66C323.32 514.63 323.44 514.62 323.55 514.60C323.66 514.58 323.79 514.53 323.89 514.54C323.99 514.56 324.07 514.60 324.13 514.67C324.19 514.74 324.22 514.88 324.26 514.98C324.30 515.09 324.34 515.20 324.38 515.31C324.41 515.42 324.45 515.53 324.49 515.64C324.52 515.75 324.57 515.86 324.60 515.97C324.63 516.08 324.69 516.20 324.66 516.28C324.62 516.37 324.47 516.41 324.37 516.48C324.28 516.54 324.18 516.61 324.08 516.67C323.98 516.74 323.89 516.80 323.79 516.87C323.69 516.93 323.60 517.03 323.50 517.05C323.40 517.08 323.30 517.05 323.19 517.02C323.09 516.98 322.98 516.91 322.88 516.86C322.77 516.81 322.67 516.76 322.57 516.71C322.46 516.66 322.34 516.62 322.26 516.55C322.18 516.48 322.13 516.40 322.10 516.30C322.08 516.20 322.11 516.07 322.12 515.95C322.12 515.84 322.13 515.72 322.13 515.60C322.14 515.49 322.14 515.37 322.15 515.26Z" fill="#ff9200"/></g>
<path d="M293.8 513.7h1v1h-1zM294.2 520.8h1v1h-1zM294.5 513.8h1v1h-1zM307.0 513.3h1v1h-1zM291.5 517.0h1v1h-1zM299.1 521.3h1v1h-1zM295.9 521.0h1v1h-1zM308.1 514.0h1v1h-1zM293.9 520.7h1v1h-1zM310.9 515.9h1v1h-1zM291.1 516.3h1v1h-1zM301.8 511.8h1v1h-1zM291.0 517.2h1v1h-1zM309.1 517.4h1v1h-1zM294.0 513.6h1v1h-1zM300.9 521.2h1v1h-1zM298.7 512.5h1v1h-1zM294.5 513.8h1v1h-1zM297.8 512.3h1v1h-1zM296.7 512.8h1v1h-1zM294.8 513.8h1v1h-1zM309.4 514.8h1v1h-1zM306.3 519.7h1v1h-1zM297.0 513.0h1v1h-1zM296.3 520.9h1v1h-1zM294.8 513.8h1v1h-1zM307.5 519.4h1v1h-1zM292.7 514.7h1v1h-1zM308.7 518.8h1v1h-1zM303.3 512.1h1v1h-1zM291.3 517.2h1v1h-1zM294.5 520.3h1v1h-1zM309.6 517.9h1v1h-1zM292.7 519.0h1v1h-1zM307.6 513.5h1v1h-1zM307.8 519.2h1v1h-1zM291.8 517.3h1v1h-1zM299.8 512.0h1v1h-1zM294.1 520.6h1v1h-1zM300.1 521.5h1v1h-1zM307.7 514.0h1v1h-1zM302.9 521.4h1v1h-1zM299.4 512.6h1v1h-1zM301.8 512.0h1v1h-1zM303.7 520.7h1v1h-1zM292.3 518.8h1v1h-1zM293.7 514.4h1v1h-1zM300.4 521.3h1v1h-1zM299.3 512.4h1v1h-1zM291.9 517.3h1v1h-1z" fill="#2a3ad8" opacity="0.55"/>
<g filter="url(#bl)"><path d="M291.80 516.50C291.83 516.21 292.41 515.99 292.71 515.73C293.01 515.48 293.31 515.22 293.62 514.96C293.92 514.71 294.22 514.45 294.52 514.20C294.83 513.94 295.10 513.61 295.43 513.43C295.76 513.24 296.15 513.16 296.53 513.08C296.90 512.99 297.31 512.96 297.70 512.90C298.09 512.84 298.49 512.78 298.88 512.73C299.27 512.67 299.66 512.61 300.05 512.55C300.45 512.49 300.84 512.43 301.23 512.37C301.62 512.32 302.02 512.17 302.40 512.20C302.79 512.23 303.16 512.44 303.54 512.56C303.92 512.67 304.30 512.79 304.67 512.91C305.05 513.03 305.43 513.15 305.81 513.27C306.19 513.38 306.59 513.45 306.94 513.62C307.29 513.79 307.60 514.05 307.91 514.29C308.22 514.52 308.52 514.79 308.82 515.04C309.13 515.30 309.61 515.54 309.74 515.80C309.87 516.07 309.77 516.35 309.62 516.64C309.47 516.93 309.10 517.24 308.84 517.54C308.58 517.83 308.32 518.13 308.05 518.43C307.79 518.73 307.58 519.10 307.27 519.32C306.96 519.54 306.54 519.61 306.17 519.74C305.80 519.88 305.42 519.99 305.04 520.12C304.67 520.24 304.29 520.37 303.92 520.49C303.54 520.62 303.16 520.75 302.79 520.87C302.41 521.00 302.04 521.20 301.66 521.25C301.28 521.30 300.88 521.21 300.49 521.17C300.10 521.13 299.70 521.06 299.31 521.01C298.92 520.96 298.52 520.91 298.13 520.85C297.74 520.80 297.35 520.75 296.95 520.70C296.56 520.65 296.16 520.61 295.77 520.54C295.39 520.48 294.95 520.51 294.64 520.32C294.33 520.12 294.16 519.68 293.93 519.36C293.69 519.04 293.46 518.73 293.22 518.41C292.98 518.09 292.75 517.77 292.51 517.45C292.27 517.14 291.77 516.79 291.80 516.50Z" fill="#1f22d8"/><path d="M292.38 516.48C292.40 516.20 292.85 515.96 293.13 515.71C293.40 515.47 293.71 515.25 294.01 515.01C294.30 514.78 294.60 514.55 294.89 514.31C295.18 514.08 295.45 513.79 295.77 513.61C296.09 513.44 296.46 513.36 296.82 513.27C297.18 513.18 297.56 513.14 297.93 513.08C298.30 513.01 298.67 512.95 299.04 512.89C299.41 512.83 299.78 512.77 300.16 512.72C300.53 512.67 300.90 512.64 301.27 512.60C301.65 512.55 302.02 512.44 302.39 512.47C302.76 512.51 303.11 512.69 303.47 512.80C303.83 512.91 304.19 513.02 304.55 513.13C304.91 513.24 305.28 513.35 305.64 513.46C306.00 513.57 306.38 513.64 306.72 513.79C307.05 513.95 307.36 514.17 307.65 514.39C307.95 514.62 308.21 514.88 308.48 515.13C308.76 515.38 309.17 515.62 309.29 515.89C309.41 516.15 309.33 516.43 309.21 516.72C309.09 517.00 308.79 517.31 308.55 517.59C308.31 517.88 308.04 518.13 307.78 518.40C307.52 518.67 307.31 519.01 307.00 519.21C306.70 519.41 306.31 519.48 305.96 519.61C305.60 519.73 305.24 519.85 304.88 519.97C304.53 520.09 304.17 520.21 303.81 520.33C303.45 520.45 303.10 520.57 302.74 520.69C302.38 520.81 302.03 521.00 301.67 521.05C301.30 521.10 300.93 521.01 300.55 520.97C300.18 520.93 299.81 520.87 299.43 520.82C299.06 520.76 298.69 520.71 298.31 520.66C297.94 520.61 297.57 520.56 297.19 520.50C296.82 520.45 296.44 520.41 296.07 520.35C295.70 520.29 295.28 520.31 294.99 520.13C294.69 519.95 294.52 519.55 294.30 519.25C294.08 518.95 293.87 518.64 293.66 518.33C293.45 518.02 293.23 517.71 293.02 517.40C292.81 517.09 292.36 516.76 292.38 516.48Z" fill="#1fb7f0"/><path d="M293.04 516.45C293.04 516.18 293.37 515.92 293.61 515.69C293.84 515.46 294.17 515.28 294.46 515.07C294.74 514.86 295.03 514.65 295.31 514.45C295.59 514.24 295.86 513.98 296.16 513.82C296.47 513.66 296.81 513.58 297.15 513.49C297.49 513.40 297.84 513.35 298.19 513.28C298.53 513.21 298.88 513.13 299.23 513.07C299.58 513.01 299.92 512.95 300.27 512.92C300.62 512.88 300.97 512.87 301.32 512.85C301.67 512.83 302.03 512.74 302.37 512.78C302.72 512.82 303.05 512.98 303.39 513.08C303.74 513.19 304.08 513.29 304.42 513.39C304.76 513.49 305.10 513.59 305.44 513.69C305.78 513.79 306.14 513.86 306.46 513.99C306.78 514.13 307.09 514.31 307.36 514.52C307.64 514.72 307.86 514.98 308.10 515.23C308.33 515.47 308.67 515.72 308.78 515.99C308.88 516.25 308.83 516.53 308.73 516.81C308.64 517.09 308.44 517.40 308.22 517.66C308.01 517.92 307.72 518.14 307.47 518.37C307.22 518.61 306.99 518.90 306.70 519.08C306.41 519.26 306.05 519.33 305.71 519.45C305.38 519.57 305.04 519.68 304.70 519.79C304.37 519.91 304.03 520.02 303.69 520.14C303.36 520.25 303.02 520.36 302.68 520.48C302.35 520.59 302.02 520.77 301.67 520.82C301.33 520.87 300.98 520.79 300.63 520.75C300.28 520.71 299.93 520.65 299.57 520.60C299.22 520.54 298.87 520.49 298.52 520.44C298.17 520.39 297.82 520.33 297.47 520.28C297.12 520.23 296.76 520.19 296.41 520.12C296.07 520.06 295.67 520.08 295.39 519.92C295.11 519.75 294.93 519.41 294.73 519.13C294.53 518.85 294.35 518.53 294.17 518.24C293.98 517.94 293.79 517.64 293.60 517.35C293.41 517.05 293.04 516.73 293.04 516.45Z" fill="#37c23a"/><path d="M293.70 516.43C293.68 516.16 293.88 515.89 294.08 515.67C294.29 515.45 294.63 515.31 294.91 515.12C295.18 514.94 295.46 514.76 295.73 514.58C296.01 514.40 296.26 514.18 296.55 514.03C296.85 513.89 297.16 513.80 297.48 513.71C297.79 513.62 298.12 513.56 298.45 513.48C298.77 513.41 299.09 513.32 299.42 513.26C299.74 513.19 300.06 513.14 300.39 513.11C300.72 513.08 301.05 513.10 301.37 513.10C301.70 513.10 302.03 513.05 302.36 513.09C302.68 513.13 303.00 513.27 303.32 513.37C303.64 513.46 303.96 513.55 304.28 513.64C304.60 513.73 304.92 513.83 305.24 513.92C305.56 514.01 305.90 514.07 306.20 514.19C306.51 514.31 306.82 514.45 307.07 514.64C307.32 514.83 307.51 515.08 307.71 515.32C307.91 515.57 308.17 515.82 308.26 516.09C308.35 516.35 308.32 516.62 308.26 516.89C308.20 517.17 308.08 517.49 307.90 517.73C307.71 517.97 307.41 518.14 307.16 518.35C306.91 518.55 306.68 518.79 306.40 518.95C306.12 519.11 305.78 519.18 305.47 519.30C305.15 519.41 304.84 519.51 304.52 519.62C304.21 519.73 303.89 519.84 303.57 519.95C303.26 520.05 302.94 520.16 302.63 520.27C302.31 520.38 302.00 520.55 301.68 520.59C301.36 520.64 301.03 520.57 300.70 520.53C300.37 520.49 300.04 520.43 299.72 520.37C299.39 520.32 299.06 520.27 298.73 520.22C298.40 520.16 298.07 520.11 297.74 520.06C297.41 520.01 297.08 519.96 296.75 519.90C296.43 519.84 296.05 519.86 295.79 519.71C295.52 519.56 295.35 519.26 295.16 519.00C294.97 518.74 294.83 518.43 294.67 518.15C294.51 517.86 294.35 517.57 294.18 517.29C294.02 517.00 293.71 516.70 293.70 516.43Z" fill="#f2ef10"/><path d="M294.69 516.39C294.65 516.13 294.65 515.84 294.80 515.64C294.95 515.44 295.32 515.35 295.58 515.21C295.84 515.06 296.10 514.92 296.36 514.78C296.62 514.63 296.87 514.47 297.14 514.35C297.41 514.22 297.69 514.13 297.98 514.04C298.26 513.95 298.55 513.87 298.84 513.79C299.12 513.70 299.41 513.60 299.70 513.53C299.98 513.47 300.27 513.41 300.57 513.40C300.86 513.39 301.15 513.45 301.45 513.48C301.74 513.50 302.04 513.50 302.33 513.55C302.62 513.61 302.91 513.71 303.20 513.79C303.49 513.87 303.78 513.95 304.07 514.02C304.36 514.10 304.65 514.18 304.94 514.26C305.23 514.34 305.53 514.40 305.81 514.49C306.10 514.59 306.42 514.66 306.63 514.82C306.85 514.98 306.98 515.23 307.12 515.47C307.27 515.71 307.42 515.98 307.49 516.23C307.56 516.49 307.56 516.76 307.55 517.02C307.53 517.29 307.55 517.62 307.41 517.83C307.26 518.04 306.94 518.15 306.69 518.30C306.45 518.46 306.21 518.63 305.94 518.75C305.68 518.88 305.38 518.96 305.10 519.06C304.82 519.17 304.53 519.26 304.25 519.36C303.96 519.46 303.68 519.56 303.40 519.66C303.11 519.76 302.83 519.86 302.55 519.96C302.26 520.05 301.98 520.21 301.69 520.25C301.40 520.29 301.11 520.24 300.81 520.20C300.52 520.17 300.22 520.09 299.93 520.04C299.63 519.99 299.33 519.94 299.04 519.88C298.74 519.83 298.45 519.78 298.15 519.73C297.86 519.67 297.56 519.62 297.26 519.57C296.97 519.51 296.63 519.51 296.39 519.39C296.14 519.26 295.96 519.05 295.80 518.82C295.64 518.59 295.55 518.28 295.43 518.01C295.31 517.74 295.18 517.47 295.06 517.20C294.94 516.93 294.73 516.65 294.69 516.39Z" fill="#ff9200"/><path d="M295.93 516.35C295.85 516.10 295.62 515.77 295.70 515.60C295.78 515.43 296.18 515.41 296.42 515.31C296.67 515.22 296.91 515.12 297.15 515.03C297.39 514.93 297.63 514.84 297.87 514.74C298.12 514.64 298.36 514.55 298.60 514.45C298.84 514.36 299.08 514.26 299.32 514.17C299.56 514.07 299.80 513.95 300.05 513.88C300.29 513.81 300.54 513.76 300.78 513.77C301.03 513.78 301.29 513.89 301.54 513.95C301.79 514.01 302.05 514.07 302.30 514.13C302.55 514.20 302.80 514.26 303.06 514.32C303.31 514.38 303.56 514.44 303.81 514.50C304.07 514.56 304.32 514.62 304.57 514.68C304.82 514.74 305.08 514.80 305.33 514.87C305.58 514.93 305.91 514.92 306.09 515.05C306.26 515.18 306.32 515.42 306.40 515.65C306.47 515.88 306.48 516.16 306.53 516.42C306.57 516.68 306.62 516.93 306.66 517.19C306.70 517.44 306.88 517.78 306.79 517.96C306.70 518.13 306.35 518.16 306.11 518.25C305.87 518.34 305.62 518.42 305.38 518.51C305.13 518.60 304.89 518.69 304.64 518.77C304.40 518.86 304.15 518.95 303.91 519.04C303.66 519.12 303.42 519.21 303.17 519.30C302.93 519.39 302.69 519.47 302.44 519.56C302.20 519.65 301.96 519.79 301.71 519.83C301.46 519.86 301.21 519.82 300.95 519.79C300.70 519.75 300.44 519.68 300.19 519.63C299.94 519.57 299.68 519.52 299.43 519.47C299.17 519.42 298.92 519.36 298.66 519.31C298.41 519.26 298.16 519.20 297.90 519.15C297.65 519.10 297.35 519.09 297.14 518.99C296.92 518.90 296.73 518.78 296.60 518.58C296.48 518.39 296.45 518.09 296.38 517.84C296.30 517.59 296.23 517.34 296.15 517.09C296.08 516.84 296.00 516.59 295.93 516.35Z" fill="#ff1800"/></g>
<line x1="111.50" y1="371.25" x2="111.50" y2="439.50" stroke="#7a7a7a" stroke-width="0.9"/>
<line x1="92.60" y1="419.50" x2="167.50" y2="419.50" stroke="#7a7a7a" stroke-width="0.9"/>
<line x1="92.60" y1="371.25" x2="92.60" y2="440.00" stroke="#2e4d8c" stroke-width="1.1"/>
<line x1="92.60" y1="439.50" x2="167.50" y2="439.50" stroke="#2e4d8c" stroke-width="1.1"/>
<text x="93.10" y="378.55" font-size="7.6" fill="#000" font-weight="bold">0.01%</text>
<text x="167.50" y="378.55" font-size="7.6" fill="#000" text-anchor="end" font-weight="bold">0.00%</text>
<text x="93.10" y="438.20" font-size="7.6" fill="#000" font-weight="bold">94.38%</text>
<text x="167.50" y="438.20" font-size="7.6" fill="#000" text-anchor="end" font-weight="bold">5.62%</text>
<line x1="212.50" y1="371.25" x2="212.50" y2="439.50" stroke="#7a7a7a" stroke-width="0.9"/>
<line x1="193.70" y1="419.50" x2="267.50" y2="419.50" stroke="#7a7a7a" stroke-width="0.9"/>
<line x1="193.70" y1="371.25" x2="193.70" y2="440.00" stroke="#2e4d8c" stroke-width="1.1"/>
<line x1="193.70" y1="439.50" x2="267.50" y2="439.50" stroke="#2e4d8c" stroke-width="1.1"/>
<text x="194.20" y="378.55" font-size="6.5" fill="#000" font-weight="bold">0.37%</text>
<text x="267.50" y="378.55" font-size="6.5" fill="#000" text-anchor="end" font-weight="bold">27.34%</text>
<text x="194.20" y="438.20" font-size="6.5" fill="#000" font-weight="bold">58.91%</text>
<text x="267.50" y="438.20" font-size="6.5" fill="#000" text-anchor="end" font-weight="bold">13.37%</text>
<line x1="305.50" y1="371.25" x2="305.50" y2="439.50" stroke="#7a7a7a" stroke-width="0.9"/>
<line x1="288.40" y1="419.50" x2="357.50" y2="419.50" stroke="#7a7a7a" stroke-width="0.9"/>
<line x1="288.40" y1="371.25" x2="288.40" y2="440.00" stroke="#2e4d8c" stroke-width="1.1"/>
<line x1="288.40" y1="439.50" x2="357.50" y2="439.50" stroke="#2e4d8c" stroke-width="1.1"/>
<text x="288.90" y="378.55" font-size="6.5" fill="#000" font-weight="bold">0.23%</text>
<text x="357.50" y="378.55" font-size="6.5" fill="#000" text-anchor="end" font-weight="bold">11.22%</text>
<text x="288.90" y="438.20" font-size="6.5" fill="#000" font-weight="bold">84.47%</text>
<text x="357.50" y="438.20" font-size="6.5" fill="#000" text-anchor="end" font-weight="bold">4.07%</text>
<line x1="111.50" y1="460.80" x2="111.50" y2="528.20" stroke="#7a7a7a" stroke-width="0.9"/>
<line x1="92.60" y1="507.50" x2="167.50" y2="507.50" stroke="#7a7a7a" stroke-width="0.9"/>
<line x1="92.60" y1="460.80" x2="92.60" y2="528.70" stroke="#2e4d8c" stroke-width="1.1"/>
<line x1="92.60" y1="528.20" x2="167.50" y2="528.20" stroke="#2e4d8c" stroke-width="1.1"/>
<text x="93.10" y="468.10" font-size="7.6" fill="#000" font-weight="bold">0.00%</text>
<text x="167.50" y="468.10" font-size="7.6" fill="#000" text-anchor="end" font-weight="bold">0.00%</text>
<text x="93.10" y="526.90" font-size="7.6" fill="#000" font-weight="bold">89.72%</text>
<text x="167.50" y="526.90" font-size="7.6" fill="#000" text-anchor="end" font-weight="bold">10.28%</text>
<line x1="209.50" y1="460.80" x2="209.50" y2="529.20" stroke="#7a7a7a" stroke-width="0.9"/>
<line x1="190.50" y1="508.50" x2="267.50" y2="508.50" stroke="#7a7a7a" stroke-width="0.9"/>
<line x1="190.50" y1="460.80" x2="190.50" y2="529.70" stroke="#2e4d8c" stroke-width="1.1"/>
<line x1="190.50" y1="529.20" x2="267.50" y2="529.20" stroke="#2e4d8c" stroke-width="1.1"/>
<text x="191.00" y="468.10" font-size="6.5" fill="#000" font-weight="bold">1.98%</text>
<text x="267.50" y="468.10" font-size="6.5" fill="#000" text-anchor="end" font-weight="bold">44.71%</text>
<text x="191.00" y="527.90" font-size="6.5" fill="#000" font-weight="bold">28.76%</text>
<text x="267.50" y="527.90" font-size="6.5" fill="#000" text-anchor="end" font-weight="bold">24.54%</text>
<line x1="305.50" y1="460.80" x2="305.50" y2="528.20" stroke="#7a7a7a" stroke-width="0.9"/>
<line x1="288.40" y1="507.50" x2="357.50" y2="507.50" stroke="#7a7a7a" stroke-width="0.9"/>
<line x1="288.40" y1="460.80" x2="288.40" y2="528.70" stroke="#2e4d8c" stroke-width="1.1"/>
<line x1="288.40" y1="528.20" x2="357.50" y2="528.20" stroke="#2e4d8c" stroke-width="1.1"/>
<text x="288.90" y="468.10" font-size="6.5" fill="#000" font-weight="bold">0.25%</text>
<text x="357.50" y="468.10" font-size="6.5" fill="#000" text-anchor="end" font-weight="bold">26.57%</text>
<text x="288.90" y="526.90" font-size="6.5" fill="#000" font-weight="bold">59.56%</text>
<text x="357.50" y="526.90" font-size="6.5" fill="#000" text-anchor="end" font-weight="bold">13.60%</text>
<line x1="411.00" y1="390.00" x2="411.00" y2="488.60" stroke="#000" stroke-width="1.2"/>
<line x1="410.40" y1="488.20" x2="507.50" y2="488.20" stroke="#000" stroke-width="1.2"/>
<line x1="407.00" y1="488.20" x2="411.00" y2="488.20" stroke="#000" stroke-width="1"/>
<text x="404.00" y="491.50" font-size="9" fill="#000" text-anchor="end">0</text>
<line x1="407.00" y1="469.05" x2="411.00" y2="469.05" stroke="#000" stroke-width="1"/>
<text x="404.00" y="472.35" font-size="9" fill="#000" text-anchor="end">20</text>
<line x1="407.00" y1="449.90" x2="411.00" y2="449.90" stroke="#000" stroke-width="1"/>
<text x="404.00" y="453.20" font-size="9" fill="#000" text-anchor="end">40</text>
<line x1="407.00" y1="430.75" x2="411.00" y2="430.75" stroke="#000" stroke-width="1"/>
<text x="404.00" y="434.05" font-size="9" fill="#000" text-anchor="end">60</text>
<line x1="407.00" y1="411.60" x2="411.00" y2="411.60" stroke="#000" stroke-width="1"/>
<text x="404.00" y="414.90" font-size="9" fill="#000" text-anchor="end">80</text>
<line x1="407.00" y1="392.45" x2="411.00" y2="392.45" stroke="#000" stroke-width="1"/>
<text x="404.00" y="395.75" font-size="9" fill="#000" text-anchor="end">100</text>
<line x1="426.50" y1="488.20" x2="426.50" y2="491.20" stroke="#000" stroke-width="0.9"/>
<text x="426.80" y="502.20" font-size="9.3" fill="#000" text-anchor="middle" textLength="20.50" lengthAdjust="spacingAndGlyphs">No Tx</text>
<line x1="459.00" y1="488.20" x2="459.00" y2="491.20" stroke="#000" stroke-width="0.9"/>
<text x="459.30" y="502.20" font-size="9.3" fill="#000" text-anchor="middle" textLength="10.80" lengthAdjust="spacingAndGlyphs">+D</text>
<line x1="491.50" y1="488.20" x2="491.50" y2="491.20" stroke="#000" stroke-width="0.9"/>
<text x="491.80" y="502.20" font-size="9.3" fill="#000" text-anchor="middle" textLength="10.80" lengthAdjust="spacingAndGlyphs">+K</text>
<text x="382.80" y="438.90" font-size="9.2" fill="#1a1a1a" text-anchor="middle" font-weight="bold" textLength="37.00" lengthAdjust="spacingAndGlyphs" transform="rotate(-90 382.80 438.90)">% apoptosis</text>
<path d="M432.50 375.30V371.30H497.50V375.30" fill="none" stroke="#000" stroke-width="1"/>
<text x="465.00" y="370.80" font-size="8" fill="#000" text-anchor="middle" font-weight="bold">**</text>
<path d="M432.50 389.30V385.00H465.50V389.30" fill="none" stroke="#000" stroke-width="1"/>
<text x="448.80" y="384.30" font-size="8" fill="#000" text-anchor="middle" font-weight="bold">**</text>
<path d="M455.50 404.30V400.80H466.30V404.30" fill="none" stroke="#000" stroke-width="1"/>
<text x="460.80" y="400.10" font-size="8" fill="#000" text-anchor="middle" font-weight="bold">*</text>
<path d="M487.50 417.00V413.80H498.00V417.00" fill="none" stroke="#000" stroke-width="1"/>
<text x="492.60" y="413.10" font-size="8" fill="#000" text-anchor="middle" font-weight="bold">*</text>
<circle cx="418.60" cy="479.60" r="1.8" fill="#22478a"/>
<circle cx="424.60" cy="481.30" r="1.8" fill="#22478a"/>
<circle cx="418.60" cy="484.20" r="1.8" fill="#22478a"/>
<circle cx="421.10" cy="487.00" r="1.8" fill="#22478a"/>
<circle cx="425.20" cy="486.60" r="1.8" fill="#22478a"/>
<circle cx="415.50" cy="486.80" r="1.8" fill="#22478a"/>
<line x1="416.00" y1="484.60" x2="426.30" y2="484.60" stroke="#000" stroke-width="1.1"/>
<rect x="427.80" y="481.30" width="3.4" height="3.4" fill="#b3133b"/>
<rect x="434.30" y="480.10" width="3.4" height="3.4" fill="#b3133b"/>
<rect x="430.30" y="484.30" width="3.4" height="3.4" fill="#b3133b"/>
<rect x="427.80" y="485.60" width="3.4" height="3.4" fill="#b3133b"/>
<rect x="434.80" y="485.60" width="3.4" height="3.4" fill="#b3133b"/>
<line x1="427.50" y1="485.50" x2="437.50" y2="485.50" stroke="#000" stroke-width="1.1"/>
<line x1="454.60" y1="447.50" x2="454.60" y2="468.70" stroke="#7e93bf" stroke-width="1"/>
<line x1="451.60" y1="447.50" x2="457.60" y2="447.50" stroke="#7e93bf" stroke-width="1"/>
<line x1="451.60" y1="468.70" x2="457.60" y2="468.70" stroke="#7e93bf" stroke-width="1"/>
<circle cx="454.50" cy="430.00" r="1.8" fill="#22478a"/>
<circle cx="454.50" cy="434.50" r="1.8" fill="#22478a"/>
<circle cx="450.90" cy="474.40" r="1.8" fill="#22478a"/>
<circle cx="450.90" cy="477.90" r="1.8" fill="#22478a"/>
<circle cx="456.90" cy="475.00" r="1.8" fill="#22478a"/>
<line x1="448.80" y1="458.30" x2="459.50" y2="458.30" stroke="#000" stroke-width="1.1"/>
<line x1="465.00" y1="419.50" x2="465.00" y2="438.80" stroke="#c4486a" stroke-width="1"/>
<line x1="462.00" y1="419.50" x2="468.00" y2="419.50" stroke="#c4486a" stroke-width="1"/>
<line x1="462.00" y1="438.80" x2="468.00" y2="438.80" stroke="#c4486a" stroke-width="1"/>
<rect x="460.20" y="413.70" width="3.6" height="3.6" fill="#b3133b"/>
<rect x="466.50" y="411.20" width="3.6" height="3.6" fill="#b3133b"/>
<rect x="460.20" y="424.00" width="3.6" height="3.6" fill="#b3133b"/>
<rect x="466.50" y="424.00" width="3.6" height="3.6" fill="#b3133b"/>
<rect x="463.20" y="464.50" width="3.6" height="3.6" fill="#b3133b"/>
<line x1="459.50" y1="429.30" x2="470.50" y2="429.30" stroke="#000" stroke-width="1.1"/>
<line x1="486.20" y1="474.50" x2="486.20" y2="479.00" stroke="#7e93bf" stroke-width="0.9"/>
<line x1="483.70" y1="474.50" x2="488.70" y2="474.50" stroke="#7e93bf" stroke-width="0.9"/>
<line x1="483.70" y1="479.00" x2="488.70" y2="479.00" stroke="#7e93bf" stroke-width="0.9"/>
<circle cx="483.20" cy="475.80" r="1.8" fill="#22478a"/>
<circle cx="486.20" cy="475.80" r="1.8" fill="#22478a"/>
<circle cx="489.50" cy="475.80" r="1.8" fill="#22478a"/>
<circle cx="486.20" cy="485.00" r="1.8" fill="#22478a"/>
<line x1="480.00" y1="476.80" x2="491.30" y2="476.80" stroke="#000" stroke-width="1.1"/>
<line x1="497.50" y1="442.50" x2="497.50" y2="456.30" stroke="#c4486a" stroke-width="1"/>
<line x1="494.70" y1="442.50" x2="500.30" y2="442.50" stroke="#c4486a" stroke-width="1"/>
<line x1="494.70" y1="456.30" x2="500.30" y2="456.30" stroke="#c4486a" stroke-width="1"/>
<rect x="495.70" y="423.20" width="3.6" height="3.6" fill="#b3133b"/>
<rect x="495.70" y="443.20" width="3.6" height="3.6" fill="#b3133b"/>
<rect x="495.70" y="450.70" width="3.6" height="3.6" fill="#b3133b"/>
<rect x="492.00" y="462.00" width="3.6" height="3.6" fill="#b3133b"/>
<rect x="499.00" y="459.50" width="3.6" height="3.6" fill="#b3133b"/>
<line x1="492.00" y1="449.30" x2="502.50" y2="449.30" stroke="#000" stroke-width="1.1"/>
<rect x="409.3" y="517.5" width="11.2" height="7" fill="#2f5896"/>
<rect x="409.3" y="530" width="11.2" height="7" fill="#b3173d"/>
<text x="423.80" y="524.40" font-size="8.6" fill="#222" textLength="70.70" lengthAdjust="spacingAndGlyphs">Non-Breg CLL cells</text>
<text x="423.80" y="536.40" font-size="8.6" fill="#222" textLength="68.20" lengthAdjust="spacingAndGlyphs">Breg-like CLL cells</text>
</svg>
</body></html>
